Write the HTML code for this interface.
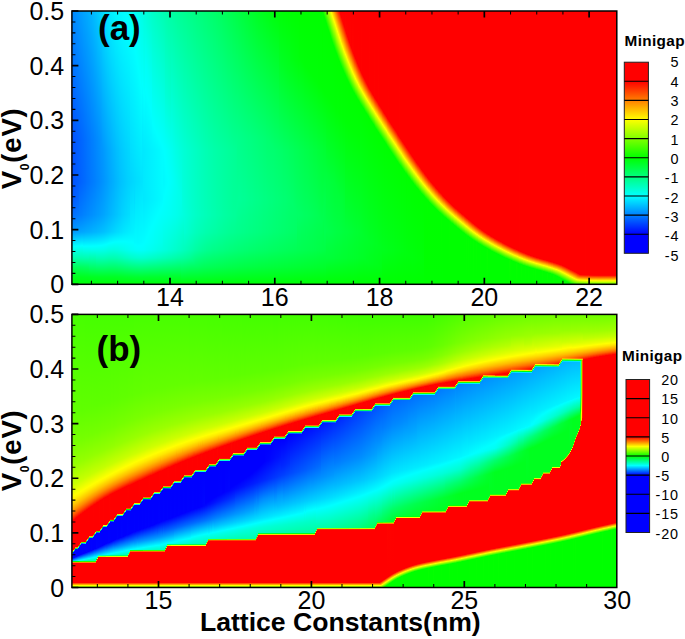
<!DOCTYPE html><html><head><meta charset="utf-8"><title>Minigap contour maps</title><style>html,body{margin:0;padding:0;background:#fff}body{width:685px;height:639px;position:relative;overflow:hidden;font-family:"Liberation Sans",sans-serif}.p{position:absolute;display:flex;overflow:hidden}.p i{display:block;flex:none;width:1px;height:100%}svg{position:absolute;left:0;top:0}text{font-family:"Liberation Sans",sans-serif;fill:#000}</style></head><body><div class="p" style="left:72px;top:11px;width:545px;height:273px"><i style="background:linear-gradient(#0089ff 0,#0052ff 128px,#0052ff 171px,#005aff 188px,#006fff 204px,#09f 221px,#0ff 235.7px,#00ffb0 247px,#00ff5c 256px,#00ff1d 266px,#00ff08 273px)"></i><i style="background:linear-gradient(#008bff 0,#0054ff 128px,#0054ff 171px,#005cff 188px,#0071ff 204px,#009bff 221px,#0ff 235.5px,#00ffb0 247px,#00ff5c 256px,#00ff1d 266px,#00ff08 273px)"></i><i style="background:linear-gradient(#008eff 0,#0056ff 128px,#0056ff 171px,#005eff 188px,#0073ff 204px,#009cff 221px,#0ff 235.4px,#00ffaf 247px,#00ff5c 256px,#00ff1d 266px,#00ff08 273px)"></i><i style="background:linear-gradient(#0090ff 0,#0058ff 128px,#0058ff 171px,#0060ff 188px,#0074ff 204px,#009dff 221px,#0ff 235.3px,#00ffaf 247px,#00ff5c 256px,#00ff1d 266px,#00ff08 273px)"></i><i style="background:linear-gradient(#0093ff 0,#005bff 128px,#005aff 171px,#0062ff 188px,#0076ff 204px,#009fff 221px,#0ff 235.2px,#00ffaf 247px,#00ff5c 256px,#00ff1d 266px,#00ff08 273px)"></i><i style="background:linear-gradient(#0095ff 0,#005dff 128px,#005cff 171px,#0064ff 188px,#0078ff 204px,#00a0ff 221px,#0ff 235.1px,#00ffaf 247px,#00ff5d 256px,#00ff1e 266px,#00ff08 273px)"></i><i style="background:linear-gradient(#0097ff 0,#005fff 128px,#005eff 171px,#06f 188px,#0079ff 204px,#00a1ff 221px,#0ff 235px,#00ffaf 247px,#00ff5d 256px,#00ff1e 266px,#00ff08 273px)"></i><i style="background:linear-gradient(#009aff 0,#0061ff 128px,#0060ff 171px,#007bff 204px,#00a2ff 221px,#0ff 234.9px,#00ffaf 247px,#00ff5d 256px,#00ff1e 266px,#00ff08 273px)"></i><i style="background:linear-gradient(#009cff 0,#0064ff 128px,#0062ff 171px,#007dff 204px,#00a4ff 221px,#0ff 234.9px,#00ffaf 247px,#00ff5e 256px,#00ff1e 266px,#00ff08 273px)"></i><i style="background:linear-gradient(#009eff 0,#06f 128px,#0064ff 171px,#007eff 204px,#00a5ff 221px,#0ff 234.8px,#00ffaf 247px,#00ff5f 256px,#00ff1e 266px,#00ff08 273px)"></i><i style="background:linear-gradient(#00a0ff 0,#0068ff 128px,#06f 171px,#0080ff 204px,#00a6ff 221px,#0ff 234.7px,#00ffb0 247px,#00ff5f 256px,#00ff1f 266px,#00ff08 273px)"></i><i style="background:linear-gradient(#00a3ff 0,#006aff 128px,#0068ff 171px,#0082ff 204px,#00a7ff 221px,#0ff 235.3px,#00ffe8 239px,#00ffb0 247px,#00ff60 256px,#00ff1f 266px,#00ff08 273px)"></i><i style="background:linear-gradient(#00a5ff 0,#006dff 128px,#006aff 171px,#0084ff 204px,#00a8ff 221px,#0ff 235.3px,#00ffe8 239px,#00ffb1 247px,#00ff61 256px,#00ff1f 266px,#00ff08 273px)"></i><i style="background:linear-gradient(#00a7ff 0,#006fff 128px,#006cff 171px,#0085ff 204px,#0af 221px,#0ff 235.2px,#00ffe8 239px,#00ffb1 247px,#00ff62 256px,#00ff20 266px,#00ff08 273px)"></i><i style="background:linear-gradient(#00a9ff 0,#0071ff 128px,#006fff 171px,#0087ff 204px,#00abff 221px,#0ff 235.2px,#00ffe9 239px,#00ffb1 247px,#00ff62 256px,#00ff20 266px,#00ff08 273px)"></i><i style="background:linear-gradient(#00abff 0,#0074ff 128px,#0071ff 171px,#0089ff 204px,#00acff 221px,#0ff 235.2px,#00ffe9 239px,#00ffb2 247px,#00ff63 256px,#00ff20 266px,#00ff08 273px)"></i><i style="background:linear-gradient(#00aeff 0,#0076ff 128px,#0073ff 171px,#008aff 204px,#00adff 221px,#0ff 235.2px,#00ffe9 239px,#00ffb2 247px,#00ff64 256px,#00ff21 266px,#00ff08 273px)"></i><i style="background:linear-gradient(#00b0ff 0,#0078ff 128px,#0075ff 171px,#008cff 204px,#00aeff 221px,#0ff 235.2px,#00ffe9 239px,#00ff21 266px,#00ff08 273px)"></i><i style="background:linear-gradient(#00b3ff 0,#007aff 128px,#07f 171px,#008eff 204px,#00afff 221px,#0ff 235.2px,#00ffe9 239px,#00ff21 266px,#00ff08 273px)"></i><i style="background:linear-gradient(#00b5ff 0,#007dff 128px,#0079ff 171px,#008fff 204px,#00b0ff 221px,#0ff 235.2px,#00ffea 239px,#0f2 266px,#00ff08 273px)"></i><i style="background:linear-gradient(#00b8ff 0,#007fff 128px,#007bff 171px,#0091ff 204px,#00b2ff 221px,#0ff 235.1px,#00ffea 239px,#0f2 266px,#00ff08 273px)"></i><i style="background:linear-gradient(#0bf 0,#0081ff 128px,#007dff 171px,#0093ff 204px,#00b3ff 221px,#0ff 235.1px,#00ffea 239px,#0f2 266px,#00ff08 273px)"></i><i style="background:linear-gradient(#00beff 0,#0084ff 128px,#007fff 171px,#0094ff 204px,#00b4ff 221px,#0ff 235.1px,#00ffea 239px,#00ff23 266px,#00ff08 273px)"></i><i style="background:linear-gradient(#00c1ff 0,#0086ff 128px,#0081ff 171px,#0096ff 204px,#00b5ff 221px,#0ff 235px,#00ffea 239px,#00ff23 266px,#00ff08 273px)"></i><i style="background:linear-gradient(#00c4ff 0,#0089ff 128px,#0084ff 171px,#0098ff 204px,#00b6ff 221px,#0ff 235px,#00ffea 239px,#00ffb6 247px,#00ff23 266px,#00ff08 273px)"></i><i style="background:linear-gradient(#00c8ff 0,#008bff 128px,#0086ff 171px,#009aff 204px,#00b8ff 221px,#0ff 234.9px,#00ffea 239px,#00ffb6 247px,#00ff23 266px,#00ff08 273px)"></i><i style="background:linear-gradient(#00cbff 0,#008eff 128px,#08f 171px,#009bff 204px,#00b9ff 221px,#0ff 234.8px,#00ffea 239px,#00ffb6 247px,#00ff24 266px,#00ff08 273px)"></i><i style="background:linear-gradient(#00ceff 0,#0090ff 128px,#008aff 171px,#009dff 204px,#00baff 221px,#0ff 234.7px,#00ffea 239px,#00ffb6 247px,#00ff24 266px,#00ff08 273px)"></i><i style="background:linear-gradient(#00d1ff 0,#0093ff 128px,#008dff 171px,#009fff 204px,#00bcff 221px,#0ff 234.6px,#00ffe9 239px,#00ffb6 247px,#00ff24 266px,#00ff07 273px)"></i><i style="background:linear-gradient(#00d4ff 0,#0096ff 129px,#008fff 171px,#00a1ff 204px,#00bdff 221px,#0ff 234.5px,#00ffe9 239px,#00ffb6 247px,#00ff24 266px,#00ff07 273px)"></i><i style="background:linear-gradient(#00d8ff 0,#0096ff 139px,#0092ff 171px,#00a3ff 204px,#00bfff 221px,#0ff 234.3px,#00ffe8 239px,#00ffb6 247px,#00ff24 266px,#00ff07 273px)"></i><i style="background:linear-gradient(#00dbff 0,#09f 139px,#0094ff 171px,#00a5ff 204px,#00c0ff 221px,#0ff 234.1px,#00ffe8 239px,#00ffb5 247px,#00ff24 266px,#00ff07 273px)"></i><i style="background:linear-gradient(#00deff 0,#009cff 139px,#0097ff 171px,#00a7ff 204px,#00c2ff 221px,#0ff 233.9px,#00ffe7 239px,#00ffb5 247px,#00ff24 266px,#00ff07 273px)"></i><i style="background:linear-gradient(#00e1ff 0,#009fff 139px,#009aff 171px,#0af 204px,#00c4ff 221px,#0ff 233.6px,#00ffe6 239px,#00ffb4 247px,#00ff24 266px,#00ff07 273px)"></i><i style="background:linear-gradient(#00e3ff 0,#00a2ff 139px,#009cff 171px,#00acff 204px,#00c6ff 221px,#0ff 233.3px,#00ffe5 239px,#00ffb3 247px,#00ff24 266px,#00ff07 273px)"></i><i style="background:linear-gradient(#00e6ff 0,#00a5ff 139px,#009fff 171px,#00aeff 204px,#00c8ff 221px,#0ff 233px,#00ffe3 239px,#00ffb2 247px,#00ff24 266px,#00ff07 273px)"></i><i style="background:linear-gradient(#00e8ff 0,#00a8ff 139px,#00a2ff 171px,#00b1ff 204px,#00caff 221px,#0ff 232.6px,#00ffe2 239px,#00ffb1 247px,#00ff24 266px,#00ff07 273px)"></i><i style="background:linear-gradient(#00ebff 0,#0af 139px,#00a5ff 171px,#00b3ff 204px,#0cf 221px,#0ff 232.3px,#00ffe1 239px,#00ffb0 247px,#00ff24 266px,#00ff07 273px)"></i><i style="background:linear-gradient(#00edff 0,#00adff 139px,#00a8ff 171px,#00b6ff 204px,#00ceff 221px,#0ff 232px,#00ffe0 239px,#00ffb0 247px,#00ff24 266px,#00ff07 273px)"></i><i style="background:linear-gradient(#00efff 0,#00b0ff 139px,#0af 171px,#00b8ff 204px,#00d0ff 221px,#0ff 231.8px,#00ffe0 239px,#00ffb0 247px,#00ff24 266px,#00ff07 273px)"></i><i style="background:linear-gradient(#00f1ff 0,#00b3ff 139px,#00adff 171px,#0bf 204px,#00d2ff 221px,#0ff 231.5px,#00ffdf 239px,#00ffb0 247px,#00ff24 266px,#00ff07 273px)"></i><i style="background:linear-gradient(#00f2ff 0,#00b6ff 139px,#00afff 171px,#00bdff 204px,#00d4ff 221px,#0ff 231.3px,#00ffdf 239px,#00ffb0 247px,#00ff24 266px,#00ff07 273px)"></i><i style="background:linear-gradient(#00f4ff 0,#00b8ff 139px,#00b2ff 171px,#00bfff 204px,#00d6ff 221px,#0ff 231.1px,#00ffdf 239px,#00ffb1 247px,#00ff24 266px,#00ff07 273px)"></i><i style="background:linear-gradient(#00f6ff 0,#0bf 139px,#00b5ff 171px,#00c2ff 204px,#00d8ff 221px,#0ff 231px,#00ffe0 239px,#00ffb1 247px,#00ff24 266px,#00ff07 273px)"></i><i style="background:linear-gradient(#00f7ff 0,#00beff 139px,#00b7ff 171px,#00c4ff 204px,#00daff 221px,#0ff 230.9px,#00ffe1 239px,#00ffb2 247px,#00ff25 266px,#00ff07 273px)"></i><i style="background:linear-gradient(#00f8ff 0,#00c0ff 139px,#00baff 171px,#00c6ff 204px,#00dcff 221px,#0ff 230.8px,#00ffe1 239px,#00ffb3 247px,#00ff25 266px,#00ff07 273px)"></i><i style="background:linear-gradient(#00faff 0,#00c2ff 139px,#00bcff 171px,#00c9ff 204px,#0df 221px,#0ff 230.7px,#00ffe2 239px,#00ffb5 247px,#00ff26 266px,#00ff07 273px)"></i><i style="background:linear-gradient(#00fbff 0,#00c5ff 139px,#00bfff 171px,#00cbff 204px,#00dfff 221px,#0ff 230.7px,#00ffe4 239px,#00ffb6 247px,#00ff26 266px,#00ff07 273px)"></i><i style="background:linear-gradient(#00fcff 0,#00c7ff 139px,#00c1ff 171px,#00cdff 204px,#00e1ff 221px,#0ff 230.6px,#00ffe5 239px,#00ffb7 247px,#00ff27 266px,#00ff08 273px)"></i><i style="background:linear-gradient(#00fdff 0,#00c9ff 139px,#00c3ff 171px,#00d0ff 204px,#00e2ff 221px,#0ff 230.6px,#00ffe6 239px,#00ffb9 247px,#00ff27 266px,#00ff08 273px)"></i><i style="background:linear-gradient(#00feff 0,#00cbff 139px,#00c5ff 171px,#00d2ff 204px,#00e4ff 221px,#0ff 230.6px,#00ffe7 239px,#00ffba 247px,#00ff28 266px,#00ff08 273px)"></i><i style="background:linear-gradient(#0ff 0,#00cdff 139px,#00c7ff 171px,#00d4ff 204px,#00e6ff 221px,#0ff 230.6px,#00ffe9 239px,#00ffbc 247px,#00ff28 266px,#00ff08 273px)"></i><i style="background:linear-gradient(#00fffe 0,#0ff 1.7px,#00cfff 139px,#00c9ff 171px,#00d6ff 204px,#00e7ff 221px,#0ff 230.6px,#00ffea 239px,#00ffbe 247px,#00ff29 266px,#00ff08 273px)"></i><i style="background:linear-gradient(#00fffe 0,#0ff 4px,#00d1ff 139px,#00cbff 171px,#00d8ff 204px,#00e9ff 221px,#0ff 230.6px,#00ffec 239px,#00ffbf 247px,#00ff29 266px,#00ff08 273px)"></i><i style="background:linear-gradient(#00fffd 0,#0ff 6.3px,#00d2ff 139px,#00cdff 171px,#00d9ff 204px,#00eaff 221px,#0ff 230.7px,#00ffed 239px,#00ffc1 247px,#00ff2a 266px,#00ff08 273px)"></i><i style="background:linear-gradient(#00fffc 0,#0ff 8.9px,#00d4ff 139px,#00cfff 171px,#00dbff 204px,#00ebff 221px,#0ff 230.8px,#0fe 239px,#00ffc2 247px,#00ff2a 266px,#00ff08 273px)"></i><i style="background:linear-gradient(#00fffb 0,#0ff 11.6px,#00d6ff 139px,#00d1ff 171px,#0df 204px,#00edff 221px,#0ff 230.9px,#00fff0 239px,#00ffc4 247px,#00ff2b 266px,#00ff08 273px)"></i><i style="background:linear-gradient(#00fffa 0,#0ff 14.6px,#00d7ff 139px,#00d2ff 171px,#00deff 204px,#0ef 221px,#0ff 231px,#00fff1 239px,#00ffc6 247px,#00ff2b 266px,#00ff08 273px)"></i><i style="background:linear-gradient(#00fff9 0,#0ff 19.9px,#00d4ff 171px,#0ef 220px,#0ff 231px,#00fff3 239px,#00ffc7 247px,#00ff2c 266px,#00ff08 273px)"></i><i style="background:linear-gradient(#00fff8 0,#0ff 23.7px,#00d5ff 171px,#00f0ff 221px,#0ff 231.4px,#00fff4 239px,#00ffc9 247px,#00ff2c 266px,#00ff08 273px)"></i><i style="background:linear-gradient(#00fff7 0,#0ff 27.6px,#00d7ff 171px,#00f1ff 221px,#0ff 231.6px,#00fff5 239px,#00ffca 247px,#00ff2d 266px,#00ff09 273px)"></i><i style="background:linear-gradient(#00fff6 0,#0ff 31.8px,#00d8ff 171px,#00f2ff 221px,#0ff 231.7px,#00fff6 239px,#00ffcb 247px,#00ff2d 266px,#00ff09 273px)"></i><i style="background:linear-gradient(#00fff5 0,#0ff 36.2px,#00daff 171px,#0df 188px,#00fcff 232px,#0ff 233.9px,#00fff7 239px,#0fc 247px,#00ff2d 266px,#00ff09 273px)"></i><i style="background:linear-gradient(#00fff4 0,#0ff 41.1px,#00dbff 171px,#00fcff 232px,#0ff 234.2px,#00fff8 239px,#00ffcd 247px,#00ff2e 266px,#00ff09 273px)"></i><i style="background:linear-gradient(#00fff2 0,#0ff 46.3px,#0df 171px,#00fcff 232px,#0ff 234.6px,#00fff9 239px,#00ffce 247px,#00ff2e 266px,#00ff09 273px)"></i><i style="background:linear-gradient(#00fff1 0,#0ff 51.9px,#00deff 171px,#00fbff 232px,#0ff 234.8px,#00fffa 239px,#00ffcf 247px,#00ff2e 266px,#00ff09 273px)"></i><i style="background:linear-gradient(#00ffef 0,#0ff 58px,#00dfff 171px,#00fbff 232px,#0ff 234.9px,#00fffa 239px,#00ffcf 247px,#00ff2e 266px,#00ff09 273px)"></i><i style="background:linear-gradient(#00ffec 0,#0ff 64.8px,#00e0ff 171px,#00fcff 232px,#0ff 234.9px,#00fffa 239px,#00ffd0 247px,#00ff2f 266px,#00ff09 273px)"></i><i style="background:linear-gradient(#00ffea 0,#0ff 71.9px,#00e2ff 171px,#00fcff 232px,#0ff 234.7px,#00fffa 239px,#00ffd0 247px,#00ff2f 266px,#00ff09 273px)"></i><i style="background:linear-gradient(#00ffe7 0,#0ff 79px,#00e3ff 171px,#00fcff 232px,#0ff 234.4px,#00fffa 239px,#00ffd0 247px,#00ff2f 266px,#00ff09 273px)"></i><i style="background:linear-gradient(#00ffe4 0,#0ff 73.3px,#00ebff 128px,#00e4ff 171px,#00fdff 232px,#0ff 233.8px,#00fff9 239px,#00ffcf 247px,#00ff2f 266px,#00ff09 273px)"></i><i style="background:linear-gradient(#00ffe0 0,#0ff 81.3px,#00e9ff 139px,#00e8ff 188px,#00feff 232px,#0ff 233.1px,#00fff9 239px,#00ffcf 247px,#00ff2e 266px,#00ff09 273px)"></i><i style="background:linear-gradient(#0fd 0,#0ff 86.2px,#00eaff 139px,#00e9ff 188px,#0ff 232px,#0ff 232.1px,#00fff8 239px,#00ffce 247px,#00ff2e 266px,#00ff09 273px)"></i><i style="background:linear-gradient(#00ffda 0,#00fff6 51px,#0ff 79px,#00ebff 139px,#00eaff 188px,#0ff 230.1px,#00fffe 232px,#00fff7 239px,#00ffcd 247px,#00ff2e 266px,#00ff09 273px)"></i><i style="background:linear-gradient(#00ffd7 0,#00fff6 55.5px,#0ff 83px,#00ecff 139px,#00ebff 188px,#0ff 227.9px,#00fffd 232px,#00fff5 239px,#0fc 247px,#00ff2e 266px,#00ff09 273px)"></i><i style="background:linear-gradient(#00ffd4 0,#00fff6 60px,#0ff 86.8px,#00edff 139px,#00ecff 188px,#0ff 225.6px,#00fffc 232px,#00fff4 239px,#00ffcb 247px,#00ff2e 266px,#00ff09 273px)"></i><i style="background:linear-gradient(#00ffd2 0,#00fff6 65px,#0ff 90.4px,#0ef 139px,#00edff 188px,#0ff 223.3px,#00fffb 232px,#00fff3 239px,#00ffca 247px,#00ff2e 266px,#00ff09 273px)"></i><i style="background:linear-gradient(#00ffcf 0,#00fff6 69.5px,#0ff 94.1px,#00efff 139px,#0ef 188px,#0ff 221.1px,#00fffa 232px,#00fff2 239px,#00ffc9 247px,#00ff2d 266px,#00ff09 273px)"></i><i style="background:linear-gradient(#00ffcd 0,#00fff6 74px,#0ff 97.6px,#00f0ff 139px,#00efff 188px,#0ff 218.9px,#00fff8 232px,#00fff1 239px,#00ffc8 247px,#00ff2d 266px,#00ff09 273px)"></i><i style="background:linear-gradient(#00ffca 0,#00fff7 79px,#0ff 101px,#00f1ff 139px,#00f0ff 188px,#0ff 216.7px,#00fff7 232px,#00fff0 239px,#00ffc7 247px,#00ff2d 266px,#00ff09 273px)"></i><i style="background:linear-gradient(#00ffc8 0,#0ff 112.2px,#00f2ff 139px,#00f1ff 188px,#0ff 214.5px,#00fff6 232px,#0fe 239px,#00ffc6 247px,#00ff2d 266px,#00ff09 273px)"></i><i style="background:linear-gradient(#00ffc6 0,#0ff 114.7px,#00f3ff 139px,#00f2ff 188px,#0ff 212.4px,#00fff5 232px,#00ffed 239px,#00ffc5 247px,#00ff2d 266px,#00ff09 273px)"></i><i style="background:linear-gradient(#00ffc4 0,#0ff 117.2px,#00f4ff 139px,#00f3ff 188px,#0ff 210.4px,#00fff3 232px,#00ffec 239px,#00ffc4 247px,#00ff2d 266px,#00ff09 273px)"></i><i style="background:linear-gradient(#00ffc2 0,#0ff 119.6px,#00f5ff 139px,#00f4ff 188px,#0ff 208.4px,#00fff2 232px,#00ffea 239px,#00ffc3 247px,#00ff2d 266px,#00ff09 273px)"></i><i style="background:linear-gradient(#00ffc0 0,#0ff 122px,#00f6ff 139px,#00f5ff 188px,#0ff 206.5px,#00fff1 232px,#00ffe9 239px,#00ffc2 247px,#00ff2d 266px,#00ff09 273px)"></i><i style="background:linear-gradient(#00ffbe 0,#0ff 124.2px,#00f7ff 139px,#00f6ff 188px,#0ff 204.6px,#00fff0 232px,#00ffe7 239px,#00ffc0 247px,#00ff2d 266px,#00ff09 273px)"></i><i style="background:linear-gradient(#00ffbc 0,#0ff 126.5px,#00f8ff 139px,#00f7ff 188px,#0ff 202.8px,#0fe 232px,#00ffe6 239px,#00ffbf 247px,#00ff2d 266px,#00ff09 273px)"></i><i style="background:linear-gradient(#00ffba 0,#0ff 128.7px,#00f9ff 139px,#00f8ff 188px,#0ff 200.9px,#00ffed 232px,#00ffe5 239px,#00ffbe 247px,#00ff2c 266px,#00ff09 273px)"></i><i style="background:linear-gradient(#00ffb8 0,#0ff 131px,#00fbff 139px,#00f9ff 188px,#0ff 199.1px,#00ffec 232px,#00ffe3 239px,#00ffbd 247px,#00ff2c 266px,#00ff09 273px)"></i><i style="background:linear-gradient(#00ffb6 0,#0ff 133.3px,#00fcff 139px,#00faff 188px,#0ff 197.2px,#00ffeb 232px,#00ffe2 239px,#00ffbc 247px,#00ff2c 266px,#00ff09 273px)"></i><i style="background:linear-gradient(#00ffb4 0,#0ff 135.6px,#00fdff 139px,#00fbff 188px,#0ff 195.4px,#00ffe9 232px,#00ffe0 239px,#00ffba 247px,#00ff2c 266px,#00ff09 273px)"></i><i style="background:linear-gradient(#00ffb2 0,#0ff 138.1px,#00feff 139px,#00f9ff 171px,#0ff 188.5px,#00fffa 204px,#00ffdf 239px,#00ffb9 247px,#00ff2c 266px,#00ff09 273px)"></i><i style="background:linear-gradient(#00ffb0 0,#00fffe 139px,#0ff 144.3px,#00faff 171px,#0ff 185.2px,#00fff9 204px,#00ffde 239px,#00ffb8 247px,#00ff2c 266px,#00ff09 273px)"></i><i style="background:linear-gradient(#00ffae 0,#00ffd5 81px,#00fffd 139px,#0ff 152.3px,#00fcff 171px,#0ff 181.8px,#00fff8 204px,#00ffdc 239px,#00ffb7 247px,#00ff2c 266px,#00ff09 273px)"></i><i style="background:linear-gradient(#00ffac 0,#00ffd5 83.5px,#00fffb 139px,#0ff 159.9px,#00fdff 171px,#0ff 178.1px,#00fff7 204px,#00ffdb 239px,#00ffb5 247px,#00ff2c 266px,#00ff09 273px)"></i><i style="background:linear-gradient(#0fa 0,#00ffd4 85px,#00fff9 139px,#0ff 166.7px,#00feff 171px,#0ff 174.1px,#00fff6 204px,#00ffd9 239px,#00ffb4 247px,#00ff2c 266px,#00ff09 273px)"></i><i style="background:linear-gradient(#00ffa8 0,#00ffd2 85px,#00fff7 139px,#0ff 171px,#00fff5 204px,#00ffd7 239px,#00ffb3 247px,#00ff2c 266px,#00ff09 273px)"></i><i style="background:linear-gradient(#00ffa7 0,#00ffd0 85px,#00fff5 139px,#00fffd 171px,#00fff4 204px,#00ffd6 239px,#00ffb2 247px,#00ff2c 266px,#00ff09 273px)"></i><i style="background:linear-gradient(#00ffa5 0,#00ffce 85px,#00fff2 139px,#00fffc 171px,#00fff3 204px,#00ffd4 239px,#00ffb0 247px,#00ff2c 266px,#00ff09 273px)"></i><i style="background:linear-gradient(#00ffa3 0,#00fff0 139px,#00fffa 171px,#00fff2 204px,#00ffd2 239px,#00ffaf 247px,#00ff2c 266px,#00ff09 273px)"></i><i style="background:linear-gradient(#00ffa2 0,#0fe 139px,#00fff8 171px,#00fff0 204px,#00ffd1 239px,#00ffad 247px,#00ff2c 266px,#00ff09 273px)"></i><i style="background:linear-gradient(#00ffa0 0,#00ffeb 139px,#00fff6 171px,#00ffef 204px,#00ffcf 239px,#00ffac 247px,#00ff2c 266px,#00ff09 273px)"></i><i style="background:linear-gradient(#00ff9f 0,#00ffe9 139px,#00fff4 172px,#0fe 204px,#00ffcd 239px,#00ffab 247px,#00ff2c 266px,#00ff09 273px)"></i><i style="background:linear-gradient(#00ff9d 0,#00ffe6 139px,#00fff2 173.5px,#00ffed 204px,#0fc 239px,#00ffa9 247px,#00ff2c 266px,#00ff09 273px)"></i><i style="background:linear-gradient(#00ff9c 0,#00ffe4 139px,#00fff0 175.5px,#00ffeb 204px,#00ffca 239px,#00ffa8 247px,#00ff2c 266px,#00ff09 273px)"></i><i style="background:linear-gradient(#00ff9a 0,#00ffe2 139px,#0fe 177.5px,#00ffea 204px,#00ffc8 239px,#00ffa6 247px,#00ff2c 266px,#00ff09 273px)"></i><i style="background:linear-gradient(#0f9 0,#00ffe0 139px,#00ffec 180.5px,#00ffe8 204px,#00ffc6 239px,#00ffa5 247px,#00ff2c 266px,#00ff09 273px)"></i><i style="background:linear-gradient(#00ff98 0,#0fd 139px,#00ffeb 184.5px,#00ffe6 204px,#00ffc5 239px,#00ffa4 247px,#00ff2c 266px,#00ff09 273px)"></i><i style="background:linear-gradient(#00ff96 0,#00ffdc 139px,#00ffe9 188px,#00ffe4 204px,#00ffc3 239px,#00ffa2 247px,#00ff2c 266px,#00ff09 273px)"></i><i style="background:linear-gradient(#00ff95 0,#00ffda 139px,#00ffe7 188px,#00ffe2 204px,#00ffc1 239px,#00ffa1 247px,#00ff09 273px)"></i><i style="background:linear-gradient(#00ff94 0,#00ffd8 139px,#00ffe0 204px,#00ffbf 239px,#00ff9f 247px,#00ff09 273px)"></i><i style="background:linear-gradient(#00ff92 0,#00ffd6 139px,#00ffde 204px,#00ffbd 239px,#00ff9e 247px,#00ff09 273px)"></i><i style="background:linear-gradient(#00ff91 0,#00ffd4 139px,#00ffdc 204px,#00ffd3 221px,#0fb 239px,#00ff9c 247px,#00ff09 273px)"></i><i style="background:linear-gradient(#00ff90 0,#00ffd3 139px,#00ffda 204px,#00ffd1 221px,#00ffb9 239px,#00ff9b 247px,#00ff09 273px)"></i><i style="background:linear-gradient(#00ff8f 0,#00ffd1 139px,#00ffd8 204px,#00ffcf 221px,#00ffb7 239px,#0f9 247px,#00ff09 273px)"></i><i style="background:linear-gradient(#00ff8d 0,#00ffcf 139px,#00ffd6 204px,#00ffcd 221px,#00ffb5 239px,#00ff97 247px,#00ff09 273px)"></i><i style="background:linear-gradient(#00ff8c 0,#00ffce 139px,#00ffd4 204px,#00ffcb 221px,#00ffb3 239px,#00ff96 247px,#00ff09 273px)"></i><i style="background:linear-gradient(#00ff8b 0,#0fc 139px,#00ffd2 204px,#00ffc9 221px,#00ffb1 239px,#00ff94 247px,#00ff09 273px)"></i><i style="background:linear-gradient(#00ff89 0,#00ffcb 139px,#00ffd0 204px,#00ffc7 221px,#00ffae 239px,#00ff92 247px,#00ff09 273px)"></i><i style="background:linear-gradient(#0f8 0,#00ffc9 139px,#00ffce 204px,#00ffc5 221px,#00ffac 239px,#00ff8b 248px,#00ff09 273px)"></i><i style="background:linear-gradient(#00ff87 0,#00ffc8 139px,#0fc 204px,#00ffc3 221px,#0fa 239px,#00ff83 249.5px,#00ff09 273px)"></i><i style="background:linear-gradient(#00ff85 0,#00ffc6 139px,#00ffcb 204px,#00ffc1 221px,#00ffa8 239px,#00ff78 251.5px,#00ff09 273px)"></i><i style="background:linear-gradient(#00ff84 0,#00ffc5 139px,#00ffc9 204px,#00ffbf 221px,#00ffa5 239px,#00ff70 253px,#00ff09 273px)"></i><i style="background:linear-gradient(#00ff83 0,#00ffc3 139px,#00ffc7 204px,#00ffbd 221px,#00ffa3 239px,#00ff67 254.5px,#00ff09 273px)"></i><i style="background:linear-gradient(#00ff81 0,#00ffc2 139px,#00ffc6 204px,#0fb 221px,#00ffa1 239px,#00ff62 255.5px,#00ff09 273px)"></i><i style="background:linear-gradient(#00ff80 0,#00ffc0 139px,#00ffc4 204px,#00ffba 221px,#00ff9f 239px,#00ff5f 256px,#00ff09 273px)"></i><i style="background:linear-gradient(#00ff7f 0,#00ffbf 139px,#00ffc3 204px,#00ffb8 221px,#00ff9d 239px,#00ff5e 256px,#00ff09 273px)"></i><i style="background:linear-gradient(#00ff7e 0,#00ffbd 139px,#00ffc1 204px,#00ffb7 221px,#00ff9b 239px,#00ff5d 256px,#00ff09 273px)"></i><i style="background:linear-gradient(#00ff7c 0,#00ffbc 139px,#00ffc0 204px,#00ffb5 221px,#00ff9a 239px,#00ff5c 256px,#00ff09 273px)"></i><i style="background:linear-gradient(#00ff7b 0,#00ffba 139px,#00ffbe 204px,#00ffb4 221px,#00ff98 239px,#00ff5b 256px,#00ff09 273px)"></i><i style="background:linear-gradient(#00ff7a 0,#00ffb9 139px,#00ffbd 204px,#00ffb3 221px,#00ff96 239px,#00ff5a 256px,#00ff09 273px)"></i><i style="background:linear-gradient(#00ff78 0,#00ffb7 139px,#00ffbc 204px,#00ffb1 221px,#00ff95 239px,#00ff59 256px,#00ff09 273px)"></i><i style="background:linear-gradient(#0f7 0,#00ffb6 139px,#00ffba 204px,#00ffb0 221px,#00ff93 239px,#00ff58 256px,#00ff09 273px)"></i><i style="background:linear-gradient(#00ff76 0,#00ffb4 139px,#00ffb9 204px,#00ffae 221px,#00ff92 239px,#00ff58 256px,#00ff09 273px)"></i><i style="background:linear-gradient(#00ff75 0,#00ffb3 139px,#00ffb8 204px,#00ffad 221px,#00ff90 239px,#00ff57 256px,#00ff09 273px)"></i><i style="background:linear-gradient(#00ff73 0,#00ffb2 139px,#00ffb6 204px,#00ffac 221px,#00ff8f 239px,#00ff56 256px,#00ff09 273px)"></i><i style="background:linear-gradient(#00ff72 0,#00ffb0 139px,#00ffb5 204px,#00ffab 221px,#00ff8e 239px,#00ff56 256px,#00ff09 273px)"></i><i style="background:linear-gradient(#00ff71 0,#00ffaf 139px,#00ffb4 204px,#0fa 221px,#00ff8d 239px,#0f5 256px,#00ff09 273px)"></i><i style="background:linear-gradient(#00ff6f 0,#00ffae 139px,#00ffb3 204px,#00ffa8 221px,#00ff8c 239px,#00ff54 256px,#00ff09 273px)"></i><i style="background:linear-gradient(#00ff6e 0,#00ffad 139px,#00ffb1 204px,#00ffa7 221px,#00ff8a 239px,#00ff54 256px,#00ff09 273px)"></i><i style="background:linear-gradient(#00ff6d 0,#00ffac 139px,#00ffb0 204px,#00ffa6 221px,#00ff89 239px,#00ff53 256px,#00ff09 273px)"></i><i style="background:linear-gradient(#00ff6b 0,#0fa 139px,#00ffaf 204px,#00ffa5 221px,#0f8 239px,#00ff53 256px,#00ff09 273px)"></i><i style="background:linear-gradient(#00ff6a 0,#00ffa9 139px,#00ffae 204px,#00ffa4 221px,#00ff87 239px,#00ff52 256px,#00ff08 273px)"></i><i style="background:linear-gradient(#00ff69 0,#00ffa8 139px,#00ffad 204px,#00ffa3 221px,#00ff87 239px,#00ff52 256px,#00ff08 273px)"></i><i style="background:linear-gradient(#00ff67 0,#00ffa7 139px,#00ffab 204px,#00ffa2 221px,#00ff86 239px,#00ff51 256px,#00ff08 273px)"></i><i style="background:linear-gradient(#0f6 0,#00ffa6 139px,#0fa 204px,#00ffa1 221px,#00ff85 239px,#00ff51 256px,#00ff08 273px)"></i><i style="background:linear-gradient(#00ff64 0,#00ffa5 139px,#00ffa9 204px,#00ff9f 221px,#00ff84 239px,#00ff50 256px,#00ff08 273px)"></i><i style="background:linear-gradient(#00ff63 0,#00ffa4 139px,#00ffa8 204px,#00ff9e 221px,#00ff83 239px,#00ff50 256px,#00ff08 273px)"></i><i style="background:linear-gradient(#00ff61 0,#00ffa3 139px,#00ffa7 204px,#00ff9d 221px,#00ff82 239px,#00ff4f 256px,#00ff08 273px)"></i><i style="background:linear-gradient(#00ff60 0,#00ffa2 139px,#00ffa6 204px,#00ff9c 221px,#00ff81 239px,#00ff4f 256px,#00ff08 273px)"></i><i style="background:linear-gradient(#00ff5e 0,#00ffa1 139px,#00ffa4 204px,#00ff9b 221px,#00ff81 239px,#00ff4e 256px,#00ff08 273px)"></i><i style="background:linear-gradient(#00ff5c 0,#00ffa0 139px,#00ffa3 204px,#00ff9a 221px,#00ff80 239px,#00ff4e 256px,#00ff08 273px)"></i><i style="background:linear-gradient(#00ff5b 0,#00ff9f 139px,#00ffa2 204px,#0f9 221px,#00ff7f 239px,#00ff4d 256px,#00ff08 273px)"></i><i style="background:linear-gradient(#00ff59 0,#00ff9e 139px,#00ffa1 204px,#00ff98 221px,#00ff7e 239px,#00ff4d 256px,#00ff08 273px)"></i><i style="background:linear-gradient(#00ff58 0,#00ff9d 139px,#00ffa0 204px,#00ff97 221px,#00ff7d 239px,#00ff4c 256px,#00ff08 273px)"></i><i style="background:linear-gradient(#00ff56 0,#00ff9c 139px,#00ff9f 204px,#00ff96 221px,#00ff7d 239px,#00ff4c 256px,#00ff08 273px)"></i><i style="background:linear-gradient(#00ff54 0,#00ff9b 139px,#00ff9e 204px,#00ff95 221px,#00ff7c 239px,#00ff4b 256px,#00ff08 273px)"></i><i style="background:linear-gradient(#00ff53 0,#00ff9a 139px,#00ff9d 204px,#00ff94 221px,#00ff7b 239px,#00ff4b 256px,#00ff08 273px)"></i><i style="background:linear-gradient(#00ff51 0,#0f9 139px,#00ff9c 204px,#00ff93 221px,#00ff7a 239px,#00ff4a 256px,#00ff08 273px)"></i><i style="background:linear-gradient(#00ff50 0,#00ff98 139px,#00ff9b 204px,#00ff92 221px,#00ff79 239px,#00ff4a 256px,#00ff08 273px)"></i><i style="background:linear-gradient(#00ff4e 0,#00ff97 139px,#00ff9a 204px,#00ff92 221px,#00ff79 239px,#00ff49 256px,#00ff08 273px)"></i><i style="background:linear-gradient(#00ff4c 0,#00ff96 139px,#0f9 204px,#00ff91 221px,#00ff78 239px,#00ff49 256px,#00ff08 273px)"></i><i style="background:linear-gradient(#00ff4b 0,#00ff95 139px,#0f9 204px,#00ff90 221px,#0f7 239px,#00ff49 256px,#00ff08 273px)"></i><i style="background:linear-gradient(#00ff49 0,#00ff94 139px,#00ff98 204px,#00ff8f 221px,#00ff76 239px,#00ff48 256px,#00ff07 273px)"></i><i style="background:linear-gradient(#00ff47 0,#00ff92 136.5px,#00ff98 199px,#00ff8e 221px,#00ff76 239px,#00ff48 256px,#00ff07 273px)"></i><i style="background:linear-gradient(#00ff46 0,#00ff8d 128px,#00ff98 194px,#00ff8d 221px,#00ff75 239px,#00ff47 256px,#00ff07 273px)"></i><i style="background:linear-gradient(#0f4 0,#00ff8c 128px,#00ff98 190px,#00ff8d 221px,#00ff74 239px,#00ff47 256px,#00ff07 273px)"></i><i style="background:linear-gradient(#00ff42 0,#00ff8b 128px,#00ff98 188px,#00ff8c 221px,#00ff74 239px,#00ff46 256px,#00ff07 273px)"></i><i style="background:linear-gradient(#00ff41 0,#00ff8a 128px,#00ff97 188px,#00ff8b 221px,#00ff73 239px,#00ff46 256px,#00ff07 273px)"></i><i style="background:linear-gradient(#00ff3f 0,#00ff89 128px,#00ff96 188px,#00ff8a 221px,#00ff72 239px,#00ff46 256px,#00ff07 273px)"></i><i style="background:linear-gradient(#00ff3d 0,#0f8 128px,#00ff95 188px,#00ff89 221px,#00ff72 239px,#00ff45 256px,#00ff07 273px)"></i><i style="background:linear-gradient(#00ff3c 0,#00ff87 128px,#00ff94 188px,#00ff89 221px,#00ff71 239px,#00ff45 256px,#00ff07 273px)"></i><i style="background:linear-gradient(#00ff3a 0,#00ff86 128px,#00ff94 188px,#0f8 221px,#00ff70 239px,#0f4 256px,#00ff07 273px)"></i><i style="background:linear-gradient(#00ff38 0,#00ff85 128px,#00ff93 188px,#00ff87 221px,#00ff70 239px,#0f4 256px,#00ff07 273px)"></i><i style="background:linear-gradient(#00ff36 0,#00ff84 128px,#00ff92 188px,#00ff86 221px,#00ff6f 239px,#0f4 256px,#00ff07 273px)"></i><i style="background:linear-gradient(#00ff35 0,#00ff83 128px,#00ff91 188px,#00ff86 221px,#00ff6f 239px,#00ff43 256px,#00ff07 273px)"></i><i style="background:linear-gradient(#0f3 0,#00ff82 128px,#00ff90 188px,#00ff85 221px,#00ff6e 239px,#00ff43 256px,#00ff07 273px)"></i><i style="background:linear-gradient(#00ff31 0,#00ff82 128px,#00ff8f 188px,#00ff84 221px,#00ff6d 239px,#00ff43 256px,#00ff07 273px)"></i><i style="background:linear-gradient(#00ff2f 0,#00ff81 128px,#00ff8e 188px,#00ff83 221px,#00ff6d 239px,#00ff42 256px,#00ff07 273px)"></i><i style="background:linear-gradient(#00ff2e 0,#00ff80 128px,#00ff8e 188px,#00ff83 221px,#00ff6c 239px,#00ff42 256px,#00ff07 273px)"></i><i style="background:linear-gradient(#00ff2c 0,#00ff7f 128px,#00ff8d 188px,#00ff82 221px,#00ff6c 239px,#00ff41 256px,#00ff07 273px)"></i><i style="background:linear-gradient(#00ff2a 0,#00ff7e 128px,#00ff8c 188px,#00ff81 221px,#00ff6b 239px,#00ff41 256px,#00ff07 273px)"></i><i style="background:linear-gradient(#00ff29 0,#00ff7d 128px,#00ff8b 188px,#00ff81 221px,#00ff6b 239px,#00ff41 256px,#00ff07 273px)"></i><i style="background:linear-gradient(#00ff27 0,#00ff7c 128px,#00ff8a 188px,#00ff80 221px,#00ff6a 239px,#00ff40 256px,#00ff07 273px)"></i><i style="background:linear-gradient(#00ff25 0,#00ff7b 128px,#00ff89 188px,#00ff7f 221px,#00ff69 239px,#00ff40 256px,#00ff07 273px)"></i><i style="background:linear-gradient(#00ff24 0,#00ff7a 128px,#00ff89 188px,#00ff7f 221px,#00ff69 239px,#00ff40 256px,#00ff07 273px)"></i><i style="background:linear-gradient(#0f2 0,#00ff79 128px,#0f8 188px,#00ff7e 221px,#00ff68 239px,#00ff3f 256px,#00ff07 273px)"></i><i style="background:linear-gradient(#00ff21 0,#00ff78 128px,#00ff87 188px,#00ff7d 221px,#00ff68 239px,#00ff3f 256px,#00ff07 273px)"></i><i style="background:linear-gradient(#00ff1f 0,#0f7 128px,#00ff86 188px,#00ff7d 221px,#00ff67 239px,#00ff3f 256px,#00ff06 273px)"></i><i style="background:linear-gradient(#00ff1e 0,#00ff76 128px,#00ff85 188px,#00ff7c 221px,#00ff67 239px,#00ff3e 256px,#00ff06 273px)"></i><i style="background:linear-gradient(#00ff1d 0,#00ff75 128px,#00ff84 188px,#00ff7b 221px,#0f6 239px,#00ff3e 256px,#00ff06 273px)"></i><i style="background:linear-gradient(#00ff1b 0,#00ff74 128px,#00ff83 188px,#00ff7a 221px,#0f6 239px,#00ff3e 256px,#00ff06 273px)"></i><i style="background:linear-gradient(#00ff1a 0,#00ff73 128px,#00ff82 188px,#00ff7a 221px,#00ff65 239px,#00ff3e 256px,#00ff06 273px)"></i><i style="background:linear-gradient(#00ff19 0,#00ff72 128px,#00ff82 188px,#00ff79 221px,#00ff65 239px,#00ff3d 256px,#00ff06 273px)"></i><i style="background:linear-gradient(#00ff17 0,#00ff70 128px,#00ff81 188px,#00ff78 221px,#00ff64 239px,#00ff3d 256px,#00ff06 273px)"></i><i style="background:linear-gradient(#00ff16 0,#00ff6f 128px,#00ff80 188px,#00ff78 221px,#00ff64 239px,#00ff3d 256px,#00ff06 273px)"></i><i style="background:linear-gradient(#00ff15 0,#00ff6f 129px,#00ff7f 188px,#0f7 221px,#00ff63 239px,#00ff3c 256px,#00ff06 273px)"></i><i style="background:linear-gradient(#00ff13 0,#00ff6f 131px,#00ff7e 188px,#00ff76 221px,#00ff62 239px,#00ff3c 256px,#00ff06 273px)"></i><i style="background:linear-gradient(#00ff12 0,#00ff6f 132.5px,#00ff7d 188px,#00ff76 221px,#00ff62 239px,#00ff3c 256px,#00ff06 273px)"></i><i style="background:linear-gradient(#0f1 0,#00ff6f 134.5px,#00ff7d 188px,#00ff75 221px,#00ff61 239px,#00ff3b 256px,#00ff06 273px)"></i><i style="background:linear-gradient(#00ff0f 0,#00ff6f 136px,#00ff7c 188px,#00ff74 221px,#00ff61 239px,#00ff3b 256px,#00ff06 273px)"></i><i style="background:linear-gradient(#00ff0e 0,#00ff6f 138px,#00ff7b 188px,#00ff73 221px,#00ff60 239px,#00ff3b 256px,#00ff06 273px)"></i><i style="background:linear-gradient(#00ff0d 0,#00ff6e 139px,#00ff7a 188px,#00ff73 221px,#00ff60 239px,#00ff3a 256px,#00ff06 273px)"></i><i style="background:linear-gradient(#00ff0c 0,#00ff6d 139px,#00ff79 188px,#00ff72 221px,#00ff5f 239px,#00ff3a 256px,#00ff06 273px)"></i><i style="background:linear-gradient(#00ff0b 0,#00ff6c 139px,#00ff78 188px,#00ff71 221px,#00ff5f 239px,#00ff3a 256px,#00ff06 273px)"></i><i style="background:linear-gradient(#00ff0a 0,#00ff6b 139px,#00ff78 188px,#00ff71 221px,#00ff5e 239px,#00ff3a 256px,#00ff06 273px)"></i><i style="background:linear-gradient(#00ff09 0,#00ff6a 139px,#0f7 188px,#00ff70 221px,#00ff5e 239px,#00ff39 256px,#00ff06 273px)"></i><i style="background:linear-gradient(#00ff08 0,#00ff24 50px,#00ff69 139px,#00ff76 188px,#00ff6f 221px,#00ff5d 239px,#00ff39 256px,#00ff06 273px)"></i><i style="background:linear-gradient(#00ff07 0,#00ff24 51px,#00ff68 139px,#00ff75 188px,#00ff6f 221px,#00ff5c 239px,#00ff39 256px,#00ff06 273px)"></i><i style="background:linear-gradient(#00ff07 0,#00ff23 52.5px,#00ff67 139px,#00ff74 188px,#00ff6e 221px,#00ff5c 239px,#00ff38 256px,#00ff06 273px)"></i><i style="background:linear-gradient(#00ff06 0,#00ff23 53.5px,#0f6 139px,#00ff73 188px,#00ff6d 221px,#00ff5b 239px,#00ff38 256px,#00ff06 273px)"></i><i style="background:linear-gradient(#00ff05 0,#00ff23 55px,#00ff64 139px,#00ff72 188px,#00ff6d 221px,#00ff5b 239px,#00ff38 256px,#00ff06 273px)"></i><i style="background:linear-gradient(#00ff05 0,#0f2 56px,#00ff63 139px,#00ff72 188px,#00ff6c 221px,#00ff5a 239px,#00ff37 256px,#00ff06 273px)"></i><i style="background:linear-gradient(#00ff05 0,#00ff21 57px,#00ff62 139px,#00ff71 188px,#00ff6b 221px,#00ff5a 239px,#00ff37 256px,#00ff06 273px)"></i><i style="background:linear-gradient(#00ff04 0,#00ff21 58.5px,#00ff61 139px,#00ff70 188px,#00ff6a 221px,#00ff59 239px,#00ff37 256px,#00ff06 273px)"></i><i style="background:linear-gradient(#00ff04 0,#00ff20 59.5px,#00ff60 139px,#00ff6f 188px,#00ff6a 221px,#00ff59 239px,#00ff37 256px,#00ff06 273px)"></i><i style="background:linear-gradient(#00ff03 0,#00ff20 60.5px,#00ff5f 139px,#00ff6e 188px,#00ff69 221px,#00ff58 239px,#00ff36 256px,#00ff06 273px)"></i><i style="background:linear-gradient(#00ff03 0,#00ff1f 61.5px,#00ff5d 139px,#00ff6d 188px,#00ff68 221px,#00ff58 239px,#00ff36 256px,#00ff06 273px)"></i><i style="background:linear-gradient(#00ff03 0,#00ff16 49px,#00ff5c 139px,#00ff6c 189px,#00ff68 221px,#00ff57 239px,#00ff36 256px,#00ff06 273px)"></i><i style="background:linear-gradient(#00ff02 0,#00ff14 48px,#00ff5b 139px,#00ff6b 191px,#00ff67 221px,#00ff57 239px,#00ff35 256px,#00ff06 273px)"></i><i style="background:linear-gradient(#00ff02 0,#00ff13 48px,#00ff5a 139px,#00ff6b 193px,#0f6 221px,#00ff56 239px,#00ff35 256px,#00ff06 273px)"></i><i style="background:linear-gradient(#00ff02 0,#00ff12 48.5px,#00ff59 139px,#00ff6a 194.5px,#0f6 221px,#00ff56 239px,#00ff35 256px,#00ff06 273px)"></i><i style="background:linear-gradient(#00ff02 0,#0f1 49px,#00ff57 139px,#00ff69 196.5px,#00ff65 221px,#0f5 239px,#00ff34 256px,#00ff05 273px)"></i><i style="background:linear-gradient(#00ff01 0,#00ff10 49.5px,#00ff56 139px,#00ff68 198.5px,#00ff64 221px,#0f5 239px,#00ff34 256px,#00ff05 273px)"></i><i style="background:linear-gradient(#00ff01 0,#00ff10 50.5px,#0f5 139px,#00ff67 200.5px,#00ff64 221px,#00ff54 239px,#00ff34 256px,#00ff05 273px)"></i><i style="background:linear-gradient(#00ff01 0,#00ff0f 51px,#00ff54 139px,#0f6 202px,#00ff53 239px,#0f3 256px,#00ff05 273px)"></i><i style="background:linear-gradient(#00ff01 0,#00ff0e 52px,#00ff53 139px,#0f6 204px,#00ff53 239px,#0f3 256px,#00ff05 273px)"></i><i style="background:linear-gradient(#0f0 0,#00ff0a 46px,#00ff51 139px,#00ff65 204px,#00ff52 239px,#0f3 256px,#00ff05 273px)"></i><i style="background:linear-gradient(#0f0 0,#00ff0a 47.5px,#00ff50 139px,#00ff64 204px,#00ff52 239px,#0f3 256px,#00ff05 273px)"></i><i style="background:linear-gradient(#0f0 0,#00ff0a 49px,#00ff4f 139px,#00ff63 204px,#00ff51 239px,#00ff32 256px,#00ff05 273px)"></i><i style="background:linear-gradient(#0f0 0,#00ff0a 50.5px,#00ff4e 139px,#00ff62 204px,#00ff51 239px,#00ff32 256px,#00ff05 273px)"></i><i style="background:linear-gradient(#0f0 0,#00ff0a 52px,#00ff4d 139px,#00ff61 204px,#00ff50 239px,#00ff32 256px,#00ff05 273px)"></i><i style="background:linear-gradient(#0f0 0,#00ff09 53.5px,#00ff4b 139px,#00ff60 204px,#00ff50 239px,#00ff31 256px,#00ff05 273px)"></i><i style="background:linear-gradient(#0f0 0,#0f0 0px,#00ff09 55px,#00ff4a 139px,#00ff5f 204px,#00ff4f 239px,#00ff31 256px,#00ff05 273px)"></i><i style="background:linear-gradient(#0f0 0,#0f0 0px,#00ff09 56px,#00ff49 139px,#00ff5f 204px,#00ff4f 239px,#00ff31 256px,#00ff05 273px)"></i><i style="background:linear-gradient(#0f0 0,#0f0 0px,#00ff09 57.5px,#00ff48 139px,#00ff5e 204px,#00ff4e 239px,#00ff30 256px,#00ff05 273px)"></i><i style="background:linear-gradient(#0f0 0,#0f0 0px,#00ff09 59px,#00ff47 139px,#00ff5d 204px,#00ff4e 239px,#00ff30 256px,#00ff05 273px)"></i><i style="background:linear-gradient(#0f0 0,#0f0 0px,#00ff09 60.5px,#00ff45 139px,#00ff5c 204px,#00ff4d 239px,#00ff30 256px,#00ff05 273px)"></i><i style="background:linear-gradient(#0f0 0,#0f0 0px,#00ff08 62px,#0f4 139px,#00ff5b 204px,#00ff4c 239px,#00ff30 256px,#00ff05 273px)"></i><i style="background:linear-gradient(#0f0 0,#0f0 0px,#00ff08 63px,#00ff43 139px,#00ff5a 204px,#00ff4c 239px,#00ff2f 256px,#00ff05 273px)"></i><i style="background:linear-gradient(#0f0 0,#0f0 0px,#00ff08 64.5px,#00ff42 139px,#00ff59 204px,#00ff4b 239px,#00ff2f 256px,#00ff05 273px)"></i><i style="background:linear-gradient(#0f0 0,#0f0 0px,#00ff08 66px,#00ff40 139px,#00ff58 204px,#00ff4b 239px,#00ff2f 256px,#00ff05 273px)"></i><i style="background:linear-gradient(#0f0 0,#0f0 0px,#00ff08 67.5px,#00ff3f 139px,#00ff57 204px,#00ff4a 239px,#00ff2e 256px,#00ff05 273px)"></i><i style="background:linear-gradient(#0f0 0,#0f0 0px,#00ff08 68.5px,#00ff3e 139px,#00ff56 204px,#00ff4a 239px,#00ff2e 256px,#00ff05 273px)"></i><i style="background:linear-gradient(#0f0 0,#0f0 0px,#00ff08 70px,#00ff3d 139px,#0f5 204px,#00ff49 239px,#00ff2e 256px,#00ff05 273px)"></i><i style="background:linear-gradient(#0f0 0,#0f0 0px,#00ff08 71.5px,#00ff3b 139px,#00ff54 204.5px,#00ff48 239px,#00ff2d 256px,#00ff05 273px)"></i><i style="background:linear-gradient(#0f0 0,#0f0 0px,#00ff07 72.5px,#00ff3a 139px,#00ff53 206px,#00ff48 239px,#00ff2d 256px,#00ff05 273px)"></i><i style="background:linear-gradient(#0f0 0,#0f0 0px,#00ff07 73.5px,#00ff39 139px,#00ff52 208px,#00ff47 239px,#00ff2d 256px,#00ff05 273px)"></i><i style="background:linear-gradient(#0f0 0,#0f0 0px,#00ff07 75px,#00ff37 139px,#00ff51 209.5px,#00ff47 239px,#00ff2c 256px,#00ff05 273px)"></i><i style="background:linear-gradient(#0f0 0,#0f0 0px,#00ff07 76px,#00ff36 139px,#00ff50 211px,#00ff46 239px,#00ff2c 256px,#00ff05 273px)"></i><i style="background:linear-gradient(#03ff00 0,#0f0 22.1px,#00ff07 78px,#00ff35 139px,#00ff4f 210.5px,#00ff45 239px,#00ff2c 256px,#00ff05 273px)"></i><i style="background:linear-gradient(#21ff00 0,#0f0 3.5px,#00ff07 79.5px,#0f3 139px,#00ff4e 204px,#00ff45 239px,#00ff2b 256px,#00ff05 273px)"></i><i style="background:linear-gradient(#3fff00 0,#0f0 6.5px,#00ff07 81.5px,#00ff32 139px,#00ff4a 191px,#00ff4e 221px,#0f4 239px,#00ff2b 256px,#00ff05 273px)"></i><i style="background:linear-gradient(#5dff00 0,#0f0 9.5px,#00ff07 83px,#00ff31 139px,#00ff48 188px,#00ff4d 221px,#00ff43 239px,#00ff2b 256px,#00ff05 273px)"></i><i style="background:linear-gradient(#7bff00 0,#0f0 12.5px,#00ff07 83px,#00ff3c 163px,#00ff4c 218.5px,#00ff39 247px,#00ff05 273px)"></i><i style="background:linear-gradient(#9f0 0,#0f0 16px,#00ff07 84.5px,#00ff3e 169px,#00ff4b 219.5px,#00ff39 247px,#00ff05 273px)"></i><i style="background:linear-gradient(#b7ff00 0,#0f0 19px,#00ff07 86px,#00ff3e 171px,#00ff4a 221px,#00ff38 247px,#00ff04 273px)"></i><i style="background:linear-gradient(#d5ff00 0,#0f0 22px,#00ff07 87.5px,#00ff3d 171px,#00ff49 221px,#00ff38 247px,#00ff04 273px)"></i><i style="background:linear-gradient(#f4ff00 0,#0f0 25px,#0f0 25.7px,#00ff07 89px,#00ff3b 171px,#00ff49 221px,#00ff37 247px,#00ff04 273px)"></i><i style="background:linear-gradient(#ffec00 0,#ff0 1.9px,#0f0 28.5px,#00ff07 90.5px,#00ff3a 171px,#00ff48 221px,#00ff37 247px,#00ff04 273px)"></i><i style="background:linear-gradient(#ffce00 0,#ff0 5.1px,#0f0 31.5px,#00ff07 92px,#00ff39 171px,#00ff47 221px,#00ff36 247px,#00ff04 273px)"></i><i style="background:linear-gradient(#ffb000 0,#ff0 8.2px,#0f0 34.5px,#00ff07 93.5px,#00ff38 171px,#00ff46 221px,#00ff36 247px,#00ff04 273px)"></i><i style="background:linear-gradient(#ff9200 0,#ff0 11.1px,#0f0 37px,#00ff07 95px,#00ff37 171px,#00ff45 221px,#00ff35 247px,#00ff04 273px)"></i><i style="background:linear-gradient(#ff7400 0,#ff0 14.1px,#0f0 40px,#00ff06 96px,#00ff37 174.5px,#0f4 221px,#00ff34 247px,#00ff04 273px)"></i><i style="background:linear-gradient(#ff5600 0,#ff0 17.4px,#76ff00 31.5px,#0f0 42.5px,#00ff06 97.5px,#00ff38 178.5px,#00ff43 221px,#00ff34 247px,#00ff04 273px)"></i><i style="background:linear-gradient(#ff3800 0,#ff0 20.5px,#94ff00 31.5px,#01ff00 45px,#0f0 51px,#00ff07 99px,#00ff38 181.5px,#00ff42 221px,#0f3 247px,#00ff04 273px)"></i><i style="background:linear-gradient(#ff1a00 0,#ff0 23.6px,#b2ff00 31.5px,#0f0 48px,#00ff07 100.5px,#00ff39 185px,#00ff42 221px,#0f3 247px,#00ff04 273px)"></i><i style="background:linear-gradient(#f00 0,#ff0 26.6px,#d5ff00 31px,#0f0 50.5px,#00ff06 101.5px,#00ff39 188px,#00ff41 221px,#00ff32 247px,#00ff04 273px)"></i><i style="background:linear-gradient(#f00 0,#ff0100 3.5px,#ffae00 21.5px,#ff0 29.5px,#94ff00 40px,#0f0 53px,#00ff06 103px,#00ff38 188px,#00ff40 221px,#00ff32 247px,#00ff04 273px)"></i><i style="background:linear-gradient(#f00 0,#f00 6.5px,#ffec00 31px,#ff0 32.7px,#0f0 55.5px,#00ff07 104.5px,#00ff37 188px,#00ff3f 221px,#00ff31 247px,#00ff04 273px)"></i><i style="background:linear-gradient(#f00 0,#ff0400 10px,#ffce00 31px,#ff0 35.3px,#0f0 58px,#00ff06 105.5px,#00ff36 188px,#00ff3e 221px,#00ff31 247px,#00ff04 273px)"></i><i style="background:linear-gradient(#f00 0,#ff0200 13px,#ff0 38.3px,#f3ff00 39.5px,#0f0 60px,#00ff06 107px,#00ff34 188px,#00ff3d 221px,#00ff30 247px,#00ff04 273px)"></i><i style="background:linear-gradient(#f00 0,#ff0100 16px,#ffed00 39.5px,#ff0 41px,#0f0 62.5px,#00ff07 108.5px,#0f3 188px,#00ff3c 221px,#00ff30 247px,#00ff04 273px)"></i><i style="background:linear-gradient(#f00 0,#ff0400 19.5px,#ffcf00 39.5px,#ff0 43.5px,#01ff00 64.5px,#0f0 69.5px,#00ff06 109.5px,#00ff3b 221px,#00ff2f 247px,#00ff04 273px)"></i><i style="background:linear-gradient(#f00 0,#ff0200 22.5px,#ffb100 39.5px,#ff0 46px,#0f0 67px,#00ff06 111px,#00ff3b 221px,#00ff2f 247px,#00ff04 273px)"></i><i style="background:linear-gradient(#f00 0,#ff0200 25.5px,#ffe900 47px,#ff0 48.8px,#0f0 69px,#00ff06 112px,#00ff3a 221px,#00ff2e 247px,#00ff04 273px)"></i><i style="background:linear-gradient(#f00 0,#ff0100 28.5px,#ffd100 47.5px,#ff0 51.2px,#74ff00 62.5px,#0f0 71px,#0f0 73.6px,#00ff06 113.5px,#00ff39 221px,#00ff2d 247px,#00ff04 273px)"></i><i style="background:linear-gradient(#f00 0,#ff0100 31.5px,#ff0 53.8px,#f1ff00 55px,#01ff00 73px,#0f0 76.1px,#00ff06 114.5px,#00ff38 221px,#00ff2d 247px,#00ff04 273px)"></i><i style="background:linear-gradient(#f00 0,#ff0300 34.5px,#ffef00 55px,#ff0 56.2px,#01ff00 75px,#0f0 78.5px,#00ff06 116px,#00ff37 221px,#00ff2c 247px,#00ff04 273px)"></i><i style="background:linear-gradient(#f00 0,#f00 37px,#ff0 58.4px,#d4ff00 62px,#0f0 77px,#00ff06 117px,#00ff36 221px,#00ff2c 247px,#00ff04 273px)"></i><i style="background:linear-gradient(#f00 0,#ff0300 40px,#ff0 60.9px,#f2ff00 62px,#0f0 79px,#00ff06 118px,#00ff35 221px,#00ff2b 247px,#00ff04 273px)"></i><i style="background:linear-gradient(#f00 0,#ff0200 42.5px,#ffef00 62px,#ff0 63.1px,#0f0 81px,#00ff06 119.5px,#00ff34 221px,#00ff2b 247px,#00ff04 273px)"></i><i style="background:linear-gradient(#f00 0,#f00 45px,#ff7200 54.5px,#ff0 65.3px,#d5ff00 68.5px,#0f0 82.5px,#0f0 82.6px,#00ff06 120.5px,#0f3 221px,#00ff2a 247px,#00ff04 273px)"></i><i style="background:linear-gradient(#f00 0,#f00 47.5px,#ff0 67.5px,#f2ff00 68.5px,#0f0 84.5px,#00ff06 121.5px,#00ff32 221px,#00ff2a 247px,#00ff04 273px)"></i><i style="background:linear-gradient(#f00 0,#f00 50px,#fe0 68.5px,#ff0 69.6px,#0f0 86px,#00ff06 122.5px,#00ff31 221px,#00ff29 247px,#00ff04 273px)"></i><i style="background:linear-gradient(#f00 0,#f00 52.5px,#ffca00 68px,#ff0 71.4px,#0f0 88px,#00ff06 124px,#00ff31 221px,#00ff29 247px,#00ff03 273px)"></i><i style="background:linear-gradient(#f00 0,#ff0100 55px,#ffa600 67.5px,#ff0 73.6px,#f3ff00 74.5px,#0f0 89.5px,#00ff06 125px,#00ff30 221px,#00ff28 247px,#00ff03 273px)"></i><i style="background:linear-gradient(#f00 0,#f00 57px,#f80 67.5px,#fe0 74.5px,#ff0 75.5px,#0f0 91px,#0f0 91.3px,#00ff06 126px,#00ff2f 221px,#00ff27 247px,#00ff03 273px)"></i><i style="background:linear-gradient(#f00 0,#f00 59.5px,#ffc900 74px,#ff0 77.3px,#0f0 93px,#00ff2e 222.5px,#00ff27 247px,#00ff03 273px)"></i><i style="background:linear-gradient(#f00 0,#ff0200 62px,#ffac00 74px,#ff0 79px,#0f0 94.5px,#00ff2d 223.5px,#00ff26 247px,#00ff03 273px)"></i><i style="background:linear-gradient(#f00 0,#f00 64px,#fe0 80px,#ff0 81px,#0f0 96px,#00ff2c 224.5px,#00ff26 247px,#00ff03 273px)"></i><i style="background:linear-gradient(#f00 0,#f00 66px,#ffc800 79.5px,#ff0 82.7px,#0f0 97.5px,#00ff2b 225.5px,#00ff25 247px,#00ff03 273px)"></i><i style="background:linear-gradient(#f00 0,#f00 68px,#ffab00 79.5px,#ff0 84.3px,#02ff00 99px,#0f0 99.5px,#00ff2a 226.5px,#00ff24 247.5px,#00ff03 273px)"></i><i style="background:linear-gradient(#f00 0,#f00 70px,#ff8f00 79.5px,#ff0 86.1px,#0f0 101px,#00ff29 227.5px,#00ff23 248.5px,#00ff03 273px)"></i><i style="background:linear-gradient(#f00 0,#f00 72px,#ffc500 84.5px,#ff0 87.8px,#0f0 102.5px,#00ff29 228.5px,#00ff21 249.5px,#00ff03 273px)"></i><i style="background:linear-gradient(#f00 0,#f00 74px,#ffa800 84.5px,#ff0 89.5px,#0f0 104px,#00ff28 229.5px,#00ff20 250.5px,#00ff03 273px)"></i><i style="background:linear-gradient(#f00 0,#f00 76px,#ff8b00 84.5px,#ff0 91.1px,#01ff00 105.5px,#0f0 106px,#00ff27 230.5px,#00ff1f 251.5px,#00ff03 273px)"></i><i style="background:linear-gradient(#f00 0,#ff0200 78px,#ff0 92.7px,#0f0 107.5px,#00ff26 231.5px,#00ff1d 252.5px,#00ff03 273px)"></i><i style="background:linear-gradient(#f00 0,#f00 79.5px,#ff0 94.2px,#0f0 109px,#00ff25 232px,#00ff1d 253px,#00ff03 273px)"></i><i style="background:linear-gradient(#f00 0,#f00 81px,#ff2c00 84px,#ff0 96px,#0f0 110.5px,#00ff25 232px,#00ff1c 253px,#00ff03 273px)"></i><i style="background:linear-gradient(#f00 0,#f00 83px,#ff0 97.5px,#0f0 112px,#00ff24 232px,#00ff1c 253px,#00ff03 273px)"></i><i style="background:linear-gradient(#f00 0,#f00 84.5px,#ff0 99px,#0f0 113.5px,#0f0 114.7px,#00ff23 232px,#00ff1b 253px,#00ff03 273px)"></i><i style="background:linear-gradient(#f00 0,#ff0200 86.5px,#ff0 100.7px,#01ff00 115px,#0f0 115.4px,#0f0 115.5px,#0f2 232px,#00ff1a 253.5px,#00ff03 273px)"></i><i style="background:linear-gradient(#f00 0,#f00 88px,#ff0 102.5px,#0f0 117px,#00ff21 232.5px,#00ff1a 253.5px,#00ff03 273px)"></i><i style="background:linear-gradient(#f00 0,#f00 89.5px,#ff0 104px,#0f0 118.5px,#00ff21 233px,#00ff19 254px,#00ff03 273px)"></i><i style="background:linear-gradient(#f00 0,#f00 91px,#ff0 105.5px,#0f0 120px,#00ff20 234px,#00ff18 255px,#00ff03 273px)"></i><i style="background:linear-gradient(#f00 0,#ff0200 93px,#ff0 107.2px,#0f0 121.5px,#00ff1f 235px,#00ff17 256px,#00ff03 273px)"></i><i style="background:linear-gradient(#f00 0,#f00 94.5px,#ff0 108.7px,#0f0 123px,#00ff1e 235.5px,#00ff16 256px,#00ff03 273px)"></i><i style="background:linear-gradient(#f00 0,#f00 96px,#ff0 110.2px,#0f0 124.5px,#00ff01 124.5px,#00ff1e 236.5px,#00ff16 256px,#00ff03 273px)"></i><i style="background:linear-gradient(#f00 0,#f00 97.5px,#ff0 111.7px,#0f0 126px,#00ff01 126px,#00ff1d 237px,#00ff15 256px,#00ff03 273px)"></i><i style="background:linear-gradient(#f00 0,#f00 99px,#ff4900 103.5px,#ff0 113.5px,#0f0 127.5px,#00ff01 127.5px,#00ff1c 238px,#00ff03 273px)"></i><i style="background:linear-gradient(#f00 0,#f00 101px,#ff0 115px,#0f0 129px,#00ff01 129px,#00ff1c 238.5px,#00ff03 273px)"></i><i style="background:linear-gradient(#f00 0,#f00 102.5px,#ff0 116.5px,#0f0 130.5px,#0f0 130.6px,#00ff1b 238.5px,#00ff02 273px)"></i><i style="background:linear-gradient(#f00 0,#f00 104px,#ff0 118px,#01ff00 132px,#0f0 132.3px,#00ff01 132.5px,#00ff1a 239px,#00ff02 273px)"></i><i style="background:linear-gradient(#f00 0,#f00 105.5px,#ff0 119.5px,#02ff00 133.5px,#0f0 133.8px,#00ff01 134px,#00ff1a 239px,#00ff02 273px)"></i><i style="background:linear-gradient(#f00 0,#f00 107px,#ff0200 107.5px,#ff0 121.4px,#0f0 135.4px,#00ff01 135.5px,#00ff19 239px,#00ff02 273px)"></i><i style="background:linear-gradient(#f00 0,#ff0100 109px,#ff0 123px,#0f0 136.9px,#00ff01 137px,#00ff18 239px,#00ff02 273px)"></i><i style="background:linear-gradient(#f00 0,#f00 110.5px,#ff0 124.5px,#0f0 138.4px,#00ff01 138.5px,#00ff18 239px,#00ff02 273px)"></i><i style="background:linear-gradient(#f00 0,#f00 112px,#ff0 126px,#0f0 139.9px,#00ff01 140px,#00ff17 239px,#00ff02 273px)"></i><i style="background:linear-gradient(#f00 0,#f00 113.5px,#ff0 127.5px,#0f0 141.4px,#00ff01 141.5px,#00ff17 239px,#00ff02 273px)"></i><i style="background:linear-gradient(#f00 0,#f00 115px,#ff0 129px,#0f0 142.9px,#00ff01 143px,#00ff16 239px,#00ff02 273px)"></i><i style="background:linear-gradient(#f00 0,#f00 116.5px,#ff0 130.5px,#0f0 144.4px,#00ff01 144.5px,#00ff16 239px,#00ff02 273px)"></i><i style="background:linear-gradient(#f00 0,#f00 118px,#ff0 132px,#0f0 145.9px,#00ff01 146px,#00ff15 239px,#00ff02 273px)"></i><i style="background:linear-gradient(#f00 0,#f00 119.5px,#ff0 133.5px,#0f0 147.4px,#00ff01 147.5px,#00ff14 239px,#00ff02 273px)"></i><i style="background:linear-gradient(#f00 0,#f00 121px,#ff0 135px,#0f0 149px,#00ff01 149px,#00ff14 239px,#00ff02 273px)"></i><i style="background:linear-gradient(#f00 0,#f00 122.5px,#ff0200 123px,#ff0 136.7px,#0f0 150.5px,#00ff01 150.5px,#00ff13 239px,#00ff02 273px)"></i><i style="background:linear-gradient(#f00 0,#f00 124px,#ff0100 124.5px,#ff0 138.2px,#0f0 152px,#00ff01 152px,#00ff13 239px,#00ff02 273px)"></i><i style="background:linear-gradient(#f00 0,#ff0100 126px,#ff0 139.7px,#0f0 153.5px,#00ff01 153.5px,#00ff12 239px,#00ff02 273px)"></i><i style="background:linear-gradient(#f00 0,#f00 127.5px,#ff0 141.1px,#02ff00 154.5px,#0f0 154.9px,#00ff01 155px,#00ff12 239px,#00ff02 273px)"></i><i style="background:linear-gradient(#f00 0,#f00 129px,#ff0 142.5px,#0f0 156px,#0f0 158px,#0f1 239px,#00ff02 273px)"></i><i style="background:linear-gradient(#f00 0,#f00 130.5px,#ff0 144.3px,#d6ff00 146.5px,#0f0 157.5px,#00ff01 157.5px,#0f1 239px,#00ff02 273px)"></i><i style="background:linear-gradient(#f00 0,#f00 132px,#ff0 145.8px,#f2ff00 146.5px,#0f0 159px,#00ff01 159px,#00ff10 239.5px,#00ff02 273px)"></i><i style="background:linear-gradient(#f00 0,#f00 133.5px,#ffe600 146px,#ff0 147.3px,#0f0 160.5px,#00ff01 160.5px,#00ff0f 240.5px,#00ff02 273px)"></i><i style="background:linear-gradient(#f00 0,#f00 135px,#ffca00 146px,#ff0 148.8px,#0f0 162px,#00ff01 162px,#00ff0f 241px,#00ff02 273px)"></i><i style="background:linear-gradient(#f00 0,#f00 136.5px,#ffae00 146px,#ff0 150.1px,#0f0 163px,#0f0 165.3px,#00ff0e 241.5px,#00ff02 273px)"></i><i style="background:linear-gradient(#f00 0,#f00 138px,#f80 145.5px,#ff0 151.5px,#0f0 164.5px,#00ff01 164.5px,#00ff0e 243px,#00ff02 273px)"></i><i style="background:linear-gradient(#f00 0,#f00 139.5px,#ff6c00 145.5px,#ff0 153px,#0f0 166px,#00ff01 166px,#00ff0d 243.5px,#00ff02 273px)"></i><i style="background:linear-gradient(#f00 0,#f00 141px,#ff4600 145px,#ff0 154.3px,#02ff00 167px,#0f0 167.4px,#00ff01 167.5px,#00ff0d 244.5px,#00ff02 273px)"></i><i style="background:linear-gradient(#f00 0,#f00 142.5px,#ff8a00 150px,#ff0 155.8px,#0f0 168.5px,#00ff01 168.5px,#00ff0c 245px,#00ff01 273px)"></i><i style="background:linear-gradient(#f00 0,#f00 144px,#ff6500 149.5px,#ff0 157.2px,#0f0 170px,#00ff0c 245.5px,#00ff01 273px)"></i><i style="background:linear-gradient(#f00 0,#f00 145.5px,#ffab00 154.5px,#ff0 158.6px,#02ff00 171px,#0f0 171.4px,#0f0 171.5px,#00ff0c 246.5px,#00ff01 273px)"></i><i style="background:linear-gradient(#f00 0,#f00 147px,#ffe900 159px,#ff0 160.1px,#0f0 172.5px,#00ff0b 247px,#00ff01 273px)"></i><i style="background:linear-gradient(#f00 0,#f00 148.5px,#ff0 161.2px,#0f0 174px,#00ff0b 247px,#00ff01 273px)"></i><i style="background:linear-gradient(#f00 0,#f00 150px,#ff0 162.8px,#f1ff00 163.5px,#0f0 175px,#00ff0a 247px,#00ff01 273px)"></i><i style="background:linear-gradient(#f00 0,#f00 151.5px,#ff0 164px,#0f0 176.5px,#00ff0a 247px,#00ff01 273px)"></i><i style="background:linear-gradient(#f00 0,#f00 152.5px,#ff0200 153px,#ffcb00 163px,#ff0 165.5px,#0f0 177.5px,#00ff09 247px,#00ff01 273px)"></i><i style="background:linear-gradient(#f00 0,#f00 154px,#ffa500 162.5px,#ff0 166.7px,#03ff00 178.5px,#0f0 178.9px,#0f0 179px,#00ff09 247px,#00ff01 273px)"></i><i style="background:linear-gradient(#f00 0,#f00 155.5px,#ffe600 167px,#ff0 168.2px,#0f0 180px,#00ff09 247.5px,#00ff01 273px)"></i><i style="background:linear-gradient(#f00 0,#f00 157px,#ffca00 167px,#ff0 169.4px,#01ff00 181px,#0f0 185.1px,#00ff08 247.5px,#00ff01 273px)"></i><i style="background:linear-gradient(#f00 0,#f00 158.5px,#ff0 170.5px,#0f0 182.5px,#00ff08 248.5px,#00ff01 273px)"></i><i style="background:linear-gradient(#f00 0,#f00 159.5px,#ff0300 160px,#ffe800 171px,#ff0 172px,#0f0 183.5px,#00ff07 249px,#00ff01 273px)"></i><i style="background:linear-gradient(#f00 0,#f00 161px,#ffcd00 171px,#ff0 173.2px,#01ff00 184.5px,#0f0 189.6px,#00ff07 249px,#00ff01 273px)"></i><i style="background:linear-gradient(#f00 0,#f00 162.5px,#ffa700 170.5px,#ff0 174.4px,#04ff00 185.5px,#0f0 186px,#00ff01 273px)"></i><i style="background:linear-gradient(#f00 0,#f00 163.5px,#ff0200 164px,#ff8100 170px,#ff0 175.6px,#0f0 187px,#00ff01 273px)"></i><i style="background:linear-gradient(#f00 0,#f00 165px,#ffc800 174.5px,#ff0 176.9px,#0f0 188px,#00ff01 273px)"></i><i style="background:linear-gradient(#f00 0,#f00 166.5px,#ff0 178.1px,#f7ff00 178.5px,#01ff00 189px,#0f0 220.8px,#00ff01 273px)"></i><i style="background:linear-gradient(#f00 0,#f00 167.5px,#ff0400 168px,#ff7c00 173.5px,#ff0 179.2px,#03ff00 190px,#0f0 190.5px,#00ff01 273px)"></i><i style="background:linear-gradient(#f00 0,#f00 169px,#ff0 180.2px,#0f0 191.5px,#00ff01 273px)"></i><i style="background:linear-gradient(#f00 0,#f00 170px,#ff0300 170.5px,#ffa000 177.5px,#ff0 181.6px,#0f0 192.5px,#00ff01 273px)"></i><i style="background:linear-gradient(#f00 0,#f00 171.5px,#ffe100 181.5px,#ff0 182.8px,#0f0 193.5px,#00ff01 273px)"></i><i style="background:linear-gradient(#f00 0,#f00 172.5px,#ff0400 173px,#ffc600 181.5px,#ff0 183.9px,#0f0 194.5px,#00ff01 273px)"></i><i style="background:linear-gradient(#f00 0,#f00 174px,#ff0 185px,#f4ff00 185.5px,#0f0 195.5px,#00ff01 273px)"></i><i style="background:linear-gradient(#f00 0,#f00 175px,#ffe300 185px,#ff0 186.1px,#0f0 196.5px,#00ff01 273px)"></i><i style="background:linear-gradient(#f00 0,#f00 176px,#ff0200 176.5px,#ffbd00 184.5px,#ff0 187.2px,#0f0 197.5px,#00ff01 273px)"></i><i style="background:linear-gradient(#f00 0,#f00 177.5px,#ff0 188.3px,#fbff00 188.5px,#0f0 198.5px,#00ff01 273px)"></i><i style="background:linear-gradient(#f00 0,#f00 178.5px,#ffe900 188.5px,#ff0 189.4px,#0f0 199.5px,#00ff01 273px)"></i><i style="background:linear-gradient(#f00 0,#f00 179.5px,#ff0300 180px,#ffc200 188px,#ff0 190.4px,#0f0 200.5px,#00ff01 273px)"></i><i style="background:linear-gradient(#f00 0,#f00 181px,#ff0 191.2px,#0f0 201.5px,#00ff01 273px)"></i><i style="background:linear-gradient(#f00 0,#f00 182px,#ffe500 191.5px,#ff0 192.5px,#04ff00 202px,#0f0 202.5px,#00ff01 273px)"></i><i style="background:linear-gradient(#f00 0,#f00 183px,#ffcb00 191.5px,#ff0 193.4px,#02ff00 203px,#0f0 259.1px,#00ff01 273px)"></i><i style="background:linear-gradient(#f00 0,#f00 184px,#ff0400 184.5px,#ffa500 191px,#ff0 194.4px,#0f0 204px,#00ff01 273px)"></i><i style="background:linear-gradient(#f00 0,#f00 185px,#ff0200 185.5px,#ff7e00 190.5px,#ff0 195.4px,#0f0 205px,#0f0 273px)"></i><i style="background:linear-gradient(#f00 0,#f00 186.5px,#ff0 196.2px,#0f0 206px,#0f0 273px)"></i><i style="background:linear-gradient(#f00 0,#f00 187.5px,#ff0 197.4px,#efff00 198px,#04ff00 206.5px,#0f0 207px,#0f0 273px)"></i><i style="background:linear-gradient(#f00 0,#f00 188.5px,#ffe800 197.5px,#ff0 198.3px,#0f0 207.5px,#0f0 273px)"></i><i style="background:linear-gradient(#f00 0,#f00 189.5px,#ffc100 197px,#ff0 199.2px,#0f0 208.5px,#0f0 273px)"></i><i style="background:linear-gradient(#f00 0,#f00 190.5px,#ffa800 197px,#ff0 200.1px,#07ff00 209px,#0f0 209.5px,#0f0 273px)"></i><i style="background:linear-gradient(#f00 0,#f00 191.5px,#ffe100 200px,#ff0 201.1px,#02ff00 210px,#0f0 264.7px,#0f0 273px)"></i><i style="background:linear-gradient(#f00 0,#f00 192.5px,#ffba00 199.5px,#ff0 201.9px,#0f0 211px,#0f0 273px)"></i><i style="background:linear-gradient(#f00 0,#f00 193.5px,#ff0 202.8px,#0f0 212px,#0f0 273px)"></i><i style="background:linear-gradient(#f00 0,#f00 194.5px,#ff0 203.6px,#03ff00 212.5px,#0f0 213px,#0f0 273px)"></i><i style="background:linear-gradient(#f00 0,#f00 195px,#ff0200 195.5px,#ff5400 198.5px,#ff0 204.5px,#0f0 213.5px,#0f0 273px)"></i><i style="background:linear-gradient(#f00 0,#f00 196px,#ff0400 196.5px,#ff2d00 198px,#ff0 205.5px,#0f0 214.5px,#0f0 273px)"></i><i style="background:linear-gradient(#f00 0,#f00 197px,#ff0600 197.5px,#ff7600 201.5px,#ff0 206.3px,#04ff00 215px,#0f0 215.5px,#0f0 273px)"></i><i style="background:linear-gradient(#f00 0,#f00 198px,#ff0 207px,#0f0 216px,#0f0 273px)"></i><i style="background:linear-gradient(#f00 0,#f00 199px,#ff0 208px,#0f0 217px,#0f0 273px)"></i><i style="background:linear-gradient(#f00 0,#f00 199.5px,#ff0200 200px,#ff0 208.8px,#05ff00 217.5px,#0f0 218px,#0f0 273px)"></i><i style="background:linear-gradient(#f00 0,#f00 200.5px,#ff0600 201px,#ff0 209.7px,#0f0 218.5px,#0f0 273px)"></i><i style="background:linear-gradient(#f00 0,#f00 201.5px,#ff0 210.5px,#0f0 219.5px,#0f0 273px)"></i><i style="background:linear-gradient(#f00 0,#f00 202.5px,#ff0 211.3px,#04ff00 220px,#0f0 220.5px,#0f0 273px)"></i><i style="background:linear-gradient(#f00 0,#f00 203px,#ff0400 203.5px,#ff0 212.2px,#0f0 221px,#0f0 273px)"></i><i style="background:linear-gradient(#f00 0,#f00 204px,#ff0 212.9px,#08ff00 221.5px,#0f0 222px,#0f0 273px)"></i><i style="background:linear-gradient(#f00 0,#f00 205px,#ff0 213.8px,#01ff00 222.5px,#0f0 267.2px,#0f0 273px)"></i><i style="background:linear-gradient(#f00 0,#f00 205.5px,#ff0300 206px,#ff0 214.7px,#0f0 223.5px,#0f0 273px)"></i><i style="background:linear-gradient(#f00 0,#f00 206.5px,#ff0700 207px,#ff9800 212px,#ff0 215.5px,#03ff00 224px,#0f0 270.9px,#0f0 273px)"></i><i style="background:linear-gradient(#f00 0,#f00 207.5px,#ff0 216.2px,#0f0 225px,#0f0 273px)"></i><i style="background:linear-gradient(#f00 0,#f00 208px,#ff0200 208.5px,#ff4a00 211px,#ff0 217.1px,#03ff00 225.5px,#0f0 271.1px,#0f0 273px)"></i><i style="background:linear-gradient(#f00 0,#f00 209px,#ff0700 209.5px,#ff9800 214.5px,#ff0 218px,#0f0 226.5px,#0f0 273px)"></i><i style="background:linear-gradient(#f00 0,#f00 210px,#ffe700 218px,#ff0 218.8px,#02ff00 227px,#0f0 270px,#0f0 273px)"></i><i style="background:linear-gradient(#f00 0,#f00 210.5px,#ff0200 211px,#ff4a00 213.5px,#ff0 219.4px,#08ff00 227.5px,#0f0 228px,#0f0 273px)"></i><i style="background:linear-gradient(#f00 0,#f00 211.5px,#ff0600 212px,#ff9a00 217px,#ff0 220.3px,#0f0 228.5px,#0f0 273px)"></i><i style="background:linear-gradient(#f00 0,#f00 212.5px,#ffec00 220.5px,#ff0 221.1px,#04ff00 229px,#0f0 272px,#0f0 273px)"></i><i style="background:linear-gradient(#f00 0,#f00 213px,#ff0200 213.5px,#ff4c00 216px,#ff0 221.7px,#09ff00 229.5px,#0f0 230px,#0f0 273px)"></i><i style="background:linear-gradient(#f00 0,#f00 214px,#ff0800 214.5px,#ff9f00 219.5px,#ff0 222.5px,#0f0 230.5px,#0f0 273px)"></i><i style="background:linear-gradient(#f00 0,#f00 215px,#ffe500 222.5px,#ff0 223.3px,#03ff00 231px,#0f0 271.9px,#0f0 273px)"></i><i style="background:linear-gradient(#f00 0,#f00 215.5px,#ff0500 216px,#ff4200 218px,#ff0 223.8px,#07ff00 231.5px,#0f0 232px,#0f0 273px)"></i><i style="background:linear-gradient(#f00 0,#f00 216.5px,#ff9800 221.5px,#ff0 224.7px,#0f0 232.5px,#0f0 273px)"></i><i style="background:linear-gradient(#f00 0,#f00 217px,#ff0400 217.5px,#ff7100 221px,#ff0 225.3px,#0f0 233px,#0f0 273px)"></i><i style="background:linear-gradient(#f00 0,#f00 218px,#ffbc00 224px,#ff0 226px,#02ff00 233.5px,#0f0 272.1px,#0f0 273px)"></i><i style="background:linear-gradient(#f00 0,#f00 218.5px,#ff1400 219.5px,#ff0 226.5px,#06ff00 234px,#0f0 234.5px,#0f0 273px)"></i><i style="background:linear-gradient(#f00 0,#f00 219.5px,#ffe300 226.5px,#ff0 227.3px,#09ff00 234.5px,#0f0 235px,#0f0 273px)"></i><i style="background:linear-gradient(#f00 0,#f00 220px,#ff0700 220.5px,#ff3800 222px,#ff0 227.9px,#0f0 235.5px,#0f0 273px)"></i><i style="background:linear-gradient(#f00 0,#f00 220.5px,#ff0100 221px,#f10 221.5px,#ff0 228.5px,#0f0 236px,#0f0 273px)"></i><i style="background:linear-gradient(#f00 0,#f00 221.5px,#ffe700 228.5px,#ff0 229.2px,#0f0 236.5px,#0f0 273px)"></i><i style="background:linear-gradient(#f00 0,#f00 222px,#ff0700 222.5px,#ff3900 224px,#ff0 229.7px,#02ff00 237px,#0f0 272.7px,#0f0 273px)"></i><i style="background:linear-gradient(#f00 0,#f00 222.5px,#ff0200 223px,#ff1200 223.5px,#ff0 230.3px,#05ff00 237.5px,#0f0 272.9px,#0f0 273px)"></i><i style="background:linear-gradient(#f00 0,#f00 223.5px,#ff0 230.8px,#07ff00 238px,#0f0 238.5px,#0f0 273px)"></i><i style="background:linear-gradient(#f00 0,#f00 224px,#ff3d00 226px,#ff0 231.5px,#09ff00 238.5px,#0f0 239px,#0f0 273px)"></i><i style="background:linear-gradient(#f00 0,#f00 224.5px,#ff0500 225px,#ff0 232.1px,#0aff00 239px,#0f0 239.5px,#0f0 273px)"></i><i style="background:linear-gradient(#f00 0,#f00 225px,#ff0200 225.5px,#ff0 232.7px,#0f0 240px,#0f0 273px)"></i><i style="background:linear-gradient(#f00 0,#f00 226px,#ff0 233.2px,#0f0 240.5px,#0f0 273px)"></i><i style="background:linear-gradient(#f00 0,#f00 226.5px,#ff0 233.8px,#0f0 241px,#0f0 273px)"></i><i style="background:linear-gradient(#f00 0,#f00 227px,#ff0900 227.5px,#ff0 234.4px,#0f0 241.5px,#0f0 273px)"></i><i style="background:linear-gradient(#f00 0,#f00 227.5px,#ff0700 228px,#ff0 234.9px,#0f0 242px,#0f0 273px)"></i><i style="background:linear-gradient(#f00 0,#f00 228px,#ff0400 228.5px,#ff0 235.4px,#0f0 242.5px,#0f0 273px)"></i><i style="background:linear-gradient(#f00 0,#f00 228.5px,#ff0200 229px,#ff0 236px,#0f0 243px,#0f0 273px)"></i><i style="background:linear-gradient(#f00 0,#f00 229.5px,#ff0 236.5px,#0f0 243.5px,#0f0 273px)"></i><i style="background:linear-gradient(#f00 0,#f00 230px,#ff0 237px,#0f0 244px,#0f0 273px)"></i><i style="background:linear-gradient(#f00 0,#f00 230.5px,#ff0 237.5px,#0f0 244.5px,#0f0 273px)"></i><i style="background:linear-gradient(#f00 0,#f00 231px,#ff0 238px,#0f0 245px,#0f0 273px)"></i><i style="background:linear-gradient(#f00 0,#f00 231.5px,#ff0b00 232px,#ff0 238.6px,#0f0 245.5px,#0f0 273px)"></i><i style="background:linear-gradient(#f00 0,#f00 232px,#ff0a00 232.5px,#ff0 239.1px,#0f0 246px,#0f0 273px)"></i><i style="background:linear-gradient(#f00 0,#f00 232.5px,#ff0800 233px,#ff0 239.6px,#0f0 246.5px,#0f0 273px)"></i><i style="background:linear-gradient(#f00 0,#f00 233px,#ff0800 233.5px,#ff0 240.1px,#0f0 247px,#0f0 273px)"></i><i style="background:linear-gradient(#f00 0,#f00 233.5px,#ff0700 234px,#ff0 240.6px,#0cff00 247px,#0f0 247.5px,#0f0 273px)"></i><i style="background:linear-gradient(#f00 0,#f00 234px,#ff0700 234.5px,#ff0 241.1px,#0aff00 247.5px,#0f0 248px,#0f0 273px)"></i><i style="background:linear-gradient(#f00 0,#f00 234.5px,#ff0600 235px,#ff0 241.5px,#08ff00 248px,#0f0 248.5px,#0f0 273px)"></i><i style="background:linear-gradient(#f00 0,#f00 235px,#ff0700 235.5px,#ff0 242px,#06ff00 248.5px,#0f0 273px)"></i><i style="background:linear-gradient(#f00 0,#f00 235.5px,#ff0700 236px,#ff0 242.5px,#04ff00 249px,#0f0 273px)"></i><i style="background:linear-gradient(#f00 0,#f00 236px,#ff0700 236.5px,#ff0 242.9px,#01ff00 249.5px,#0f0 273px)"></i><i style="background:linear-gradient(#f00 0,#f00 236.5px,#ff0800 237px,#ff0 243.4px,#0f0 250px,#0f0 273px)"></i><i style="background:linear-gradient(#f00 0,#f00 237px,#ff0900 237.5px,#ff0 243.9px,#0f0 250.5px,#0f0 273px)"></i><i style="background:linear-gradient(#f00 0,#f00 237.5px,#ff0a00 238px,#ff0 244.3px,#0cff00 250.5px,#0f0 251px,#0f0 273px)"></i><i style="background:linear-gradient(#f00 0,#f00 238px,#ff3200 239.5px,#ff0 244.7px,#09ff00 251px,#0f0 251.5px,#0f0 273px)"></i><i style="background:linear-gradient(#f00 0,#f00 238.5px,#ff0 245.1px,#06ff00 251.5px,#0f0 273px)"></i><i style="background:linear-gradient(#f00 0,#f00 239px,#ff0 245.5px,#02ff00 252px,#0f0 273px)"></i><i style="background:linear-gradient(#f00 0,#f00 239.5px,#ff0 246px,#0f0 252.5px,#0f0 273px)"></i><i style="background:linear-gradient(#f00 0,#ff0100 240px,#ff0 246.5px,#0f0 253px,#0f0 273px)"></i><i style="background:linear-gradient(#f00 0,#f00 240px,#ff0300 240.5px,#ff0 246.8px,#09ff00 253px,#0f0 253.5px,#0f0 273px)"></i><i style="background:linear-gradient(#f00 0,#f00 240.5px,#ff0600 241px,#ff0 247.2px,#04ff00 253.5px,#0f0 273px)"></i><i style="background:linear-gradient(#f00 0,#f00 241px,#ff0900 241.5px,#ff0 247.6px,#0f0 254px,#0f0 273px)"></i><i style="background:linear-gradient(#f00 0,#f00 241.5px,#ff0c00 242px,#ff0 248.1px,#0f0 254.5px,#0f0 273px)"></i><i style="background:linear-gradient(#f00 0,#f00 242px,#ff0 248.4px,#08ff00 254.5px,#0f0 255px,#0f0 273px)"></i><i style="background:linear-gradient(#f00 0,#f00 242.5px,#ff0 248.8px,#02ff00 255px,#0f0 273px)"></i><i style="background:linear-gradient(#f00 0,#f00 242.5px,#ff0300 243px,#ff0 249.2px,#0f0 255.5px,#0f0 273px)"></i><i style="background:linear-gradient(#f00 0,#f00 243px,#ff0700 243.5px,#ff0 249.5px,#09ff00 255.5px,#0f0 256px,#0f0 273px)"></i><i style="background:linear-gradient(#f00 0,#f00 243.5px,#ff0c00 244px,#ff0 249.9px,#02ff00 256px,#0f0 273px)"></i><i style="background:linear-gradient(#f00 0,#f00 244px,#ff0 250.2px,#0f0 256.5px,#0f0 273px)"></i><i style="background:linear-gradient(#f00 0,#f00 244px,#ff0100 244.5px,#ff0 250.6px,#07ff00 256.5px,#0f0 257px,#0f0 273px)"></i><i style="background:linear-gradient(#f00 0,#f00 244.5px,#ff0700 245px,#ff0 250.9px,#0f0 257px,#0f0 273px)"></i><i style="background:linear-gradient(#f00 0,#f00 245px,#ff4b00 247px,#ff0 251.2px,#0bff00 257px,#0f0 257.5px,#0f0 273px)"></i><i style="background:linear-gradient(#f00 0,#f00 245.5px,#ff0 251.5px,#02ff00 257.5px,#0f0 273px)"></i><i style="background:linear-gradient(#f00 0,#f00 245.5px,#ff0500 246px,#ff0 251.8px,#0eff00 257.5px,#0f0 258px,#0f0 273px)"></i><i style="background:linear-gradient(#f00 0,#f00 246px,#ff3700 247.5px,#ff0 252.2px,#04ff00 258px,#0f0 273px)"></i><i style="background:linear-gradient(#f00 0,#f00 246.5px,#ff0 252.5px,#0f0 258.5px,#0f0 273px)"></i><i style="background:linear-gradient(#f00 0,#f00 246.5px,#ff0800 247px,#ff0 252.7px,#07ff00 258.5px,#0f0 259px,#0f0 273px)"></i><i style="background:linear-gradient(#f00 0,#f00 247px,#ff0 253px,#0f0 259px,#0f0 273px)"></i><i style="background:linear-gradient(#f00 0,#f00 247px,#ff0400 247.5px,#ff0 253.3px,#09ff00 259px,#0f0 259.5px,#0f0 273px)"></i><i style="background:linear-gradient(#f00 0,#f00 247.5px,#ff0e00 248px,#ff0 253.6px,#0f0 259.5px,#0f0 273px)"></i><i style="background:linear-gradient(#f00 0,#f00 247.5px,#ff0100 248px,#ff0 253.9px,#0cff00 259.5px,#0f0 260px,#0f0 273px)"></i><i style="background:linear-gradient(#f00 0,#f00 248px,#ff0b00 248.5px,#ff0 254.2px,#04ff00 260px,#0f0 273px)"></i><i style="background:linear-gradient(#f00 0,#f00 248.5px,#ff0 254.5px,#0f0 260.5px,#0f0 273px)"></i><i style="background:linear-gradient(#f00 0,#f00 248.5px,#ff0900 249px,#ff0 254.7px,#08ff00 260.5px,#0f0 261px,#0f0 273px)"></i><i style="background:linear-gradient(#f00 0,#f00 249px,#ff0 255px,#0f0 261px,#0f0 273px)"></i><i style="background:linear-gradient(#f00 0,#f00 249px,#ff0600 249.5px,#ff0 255.3px,#0dff00 261px,#0f0 261.5px,#0f0 273px)"></i><i style="background:linear-gradient(#f00 0,#f00 249.5px,#ff0 255.6px,#05ff00 261.5px,#0f0 273px)"></i><i style="background:linear-gradient(#f00 0,#f00 249.5px,#ff0300 250px,#ff0 256px,#0f0 262px,#0f0 273px)"></i><i style="background:linear-gradient(#f00 0,#f00 250px,#ff0b00 250.5px,#ff0 256.2px,#0aff00 262px,#0f0 262.5px,#0f0 273px)"></i><i style="background:linear-gradient(#f00 0,#f00 250.5px,#ff0 256.5px,#03ff00 262.5px,#0f0 273px)"></i><i style="background:linear-gradient(#f00 0,#f00 250.5px,#ff0700 251px,#ff0 256.9px,#0f0 263px,#0f0 273px)"></i><i style="background:linear-gradient(#f00 0,#f00 251px,#ff0 257.1px,#0bff00 263px,#0f0 263.5px,#0f0 273px)"></i><i style="background:linear-gradient(#f00 0,#f00 251px,#ff0200 251.5px,#ff0 257.6px,#07ff00 263.5px,#0f0 273px)"></i><i style="background:linear-gradient(#f00 0,#f00 251.5px,#ff0a00 252px,#ff0 257.9px,#04ff00 264px,#0f0 273px)"></i><i style="background:linear-gradient(#f00 0,#f00 252px,#ff0 258.3px,#02ff00 264.5px,#0f0 273px)"></i><i style="background:linear-gradient(#f00 0,#f00 252px,#ff0400 252.5px,#ff0 258.5px,#ebff00 259px,#02ff00 265px,#0f0 273px)"></i><i style="background:linear-gradient(#f00 0,#f00 252.5px,#ff0c00 253px,#ffef00 258.5px,#ff0 258.9px,#02ff00 265.5px,#0f0 273px)"></i><i style="background:linear-gradient(#f00 0,#f00 253px,#ff0 259.4px,#bdff00 261px,#04ff00 266px,#0f0 273px)"></i><i style="background:linear-gradient(#f00 0,#f00 253px,#ff0400 253.5px,#ff0 259.8px,#e2ff00 260.5px,#05ff00 266.5px,#0f0 273px)"></i><i style="background:linear-gradient(#f00 0,#f00 253.5px,#ff0a00 254px,#ffe400 259.5px,#ff0 260.2px,#06ff00 267px,#0f0 273px)"></i><i style="background:linear-gradient(#f00 0,#f00 254px,#ff0 260.8px,#07ff00 267.5px,#0f0 268px,#0f0 273px)"></i><i style="background:linear-gradient(#f00 0,#f00 254.5px,#ff0 261.3px,#07ff00 268px,#0f0 268.5px,#0f0 273px)"></i><i style="background:linear-gradient(#f00 0,#f00 254.5px,#ff0100 255px,#ff0 261.8px,#07ff00 268.5px,#0f0 269px,#0f0 273px)"></i><i style="background:linear-gradient(#f00 0,#f00 255px,#ff0400 255.5px,#ff0 262.3px,#09ff00 269px,#0f0 269.5px,#0f0 273px)"></i><i style="background:linear-gradient(#f00 0,#f00 255.5px,#ff0400 256px,#ff0 262.8px,#0aff00 269.5px,#0f0 270px,#0f0 273px)"></i><i style="background:linear-gradient(#f00 0,#f00 256px,#ff0400 256.5px,#ff0 263.4px,#0cff00 270px,#0f0 270.5px,#0f0 273px)"></i><i style="background:linear-gradient(#f00 0,#f00 256.5px,#ff0300 257px,#ff0 263.9px,#0dff00 270.5px,#0f0 271px,#0f0 273px)"></i><i style="background:linear-gradient(#f00 0,#f00 257px,#ff0200 257.5px,#ff0 264.4px,#0fff00 271px,#0f0 271.5px,#0f0 273px)"></i><i style="background:linear-gradient(#f00 0,#f00 257.5px,#ff0100 258px,#ff0 265px,#10ff00 271.5px,#0f0 272px,#0f0 273px)"></i><i style="background:linear-gradient(#f00 0,#f00 258.5px,#ff0 265.5px,#1f0 272px,#0f0 272.5px,#0f0 273px)"></i><i style="background:linear-gradient(#f00 0,#f00 259px,#ff0 266px,#0f0 273px)"></i><i style="background:linear-gradient(#f00 0,#f00 259.5px,#ff0 266.5px,#81ff00 270px,#07ff00 273px)"></i><i style="background:linear-gradient(#f00 0,#f00 260px,#ff0 267.1px,#b9ff00 269px,#15ff00 273px)"></i><i style="background:linear-gradient(#f00 0,#f00 260.5px,#ff0 267.6px,#f1ff00 268px,#24ff00 273px)"></i><i style="background:linear-gradient(#f00 0,#f00 261px,#ffe800 267.5px,#ff0 268.1px,#31ff00 273px)"></i><i style="background:linear-gradient(#f00 0,#f00 261.5px,#ffb000 266.5px,#ff0 268.4px,#3bff00 273px)"></i><i style="background:linear-gradient(#f00 0,#f00 262px,#ff0b00 262.5px,#ff7800 265.5px,#ff0 268.8px,#e0ff00 269.5px,#40ff00 273px)"></i><i style="background:linear-gradient(#f00 0,#f00 262.5px,#ff2d00 264px,#ffbc00 267.5px,#ff0 268.9px,#4f0 273px)"></i><i style="background:linear-gradient(#f00 0,#f00 263px,#ff0800 263.5px,#ff7100 266px,#ff0 269.1px,#48ff00 273px)"></i><i style="background:linear-gradient(#f00 0,#f00 263.5px,#ff0f00 264px,#ff0 269.1px,#4cff00 273px)"></i><i style="background:linear-gradient(#f00 0,#f00 263.5px,#ff0b00 264px,#ff0 269.2px,#4eff00 273px)"></i><i style="background:linear-gradient(#f00 0,#f00 263.5px,#ff0800 264px,#ff0 269.3px,#51ff00 273px)"></i><i style="background:linear-gradient(#f00 0,#f00 263.5px,#ff0600 264px,#ff0 269.3px,#54ff00 273px)"></i><i style="background:linear-gradient(#f00 0,#f00 263.5px,#ff0300 264px,#ff0 269.4px,#56ff00 273px)"></i><i style="background:linear-gradient(#f00 0,#ff0100 264px,#ff0 269.4px,#58ff00 273px)"></i><i style="background:linear-gradient(#f00 0,#f00 264px,#ff0 269.5px,#5aff00 273px)"></i><i style="background:linear-gradient(#f00 0,#f00 264px,#ff0 269.5px,#5cff00 273px)"></i><i style="background:linear-gradient(#f00 0,#f00 264px,#ff0 269.5px,#5eff00 273px)"></i><i style="background:linear-gradient(#f00 0,#f00 264px,#ff1000 264.5px,#ff0 269.6px,#5fff00 273px)"></i><i style="background:linear-gradient(#f00 0,#f00 264px,#ff0f00 264.5px,#ff0 269.6px,#61ff00 273px)"></i><i style="background:linear-gradient(#f00 0,#f00 264px,#ff0d00 264.5px,#ff0 269.7px,#62ff00 273px)"></i><i style="background:linear-gradient(#f00 0,#f00 264px,#ff0c00 264.5px,#ff0 269.7px,#63ff00 273px)"></i><i style="background:linear-gradient(#f00 0,#f00 264px,#ff0b00 264.5px,#ff0 269.7px,#64ff00 273px)"></i><i style="background:linear-gradient(#f00 0,#f00 264px,#ff0a00 264.5px,#ff0 269.7px,#65ff00 273px)"></i><i style="background:linear-gradient(#f00 0,#f00 264px,#ff0a00 264.5px,#ff0 269.7px,#6f0 273px)"></i><i style="background:linear-gradient(#f00 0,#f00 264px,#ff0900 264.5px,#ff0 269.7px,#6f0 273px)"></i><i style="background:linear-gradient(#f00 0,#f00 264px,#ff0900 264.5px,#ff0 269.8px,#67ff00 273px)"></i><i style="background:linear-gradient(#f00 0,#f00 264px,#ff0800 264.5px,#ff0 269.8px,#67ff00 273px)"></i><i style="background:linear-gradient(#f00 0,#f00 264px,#ff0800 264.5px,#ff0 269.8px,#67ff00 273px)"></i><i style="background:linear-gradient(#f00 0,#f00 264px,#ff0800 264.5px,#ff0 269.8px,#67ff00 273px)"></i><i style="background:linear-gradient(#f00 0,#f00 264px,#ff0800 264.5px,#ff0 269.8px,#67ff00 273px)"></i><i style="background:linear-gradient(#f00 0,#f00 264px,#ff0800 264.5px,#ff0 269.8px,#67ff00 273px)"></i><i style="background:linear-gradient(#f00 0,#f00 264px,#ff0800 264.5px,#ff0 269.8px,#67ff00 273px)"></i><i style="background:linear-gradient(#f00 0,#f00 264px,#ff0800 264.5px,#ff0 269.8px,#67ff00 273px)"></i><i style="background:linear-gradient(#f00 0,#f00 264px,#ff0800 264.5px,#ff0 269.8px,#67ff00 273px)"></i><i style="background:linear-gradient(#f00 0,#f00 264px,#ff0800 264.5px,#ff0 269.8px,#67ff00 273px)"></i><i style="background:linear-gradient(#f00 0,#f00 264px,#ff0800 264.5px,#ff0 269.8px,#67ff00 273px)"></i><i style="background:linear-gradient(#f00 0,#f00 264px,#ff0800 264.5px,#ff0 269.8px,#67ff00 273px)"></i><i style="background:linear-gradient(#f00 0,#f00 264px,#ff0800 264.5px,#ff0 269.8px,#67ff00 273px)"></i><i style="background:linear-gradient(#f00 0,#f00 264px,#ff0800 264.5px,#ff0 269.8px,#67ff00 273px)"></i><i style="background:linear-gradient(#f00 0,#f00 264px,#ff0800 264.5px,#ff0 269.8px,#67ff00 273px)"></i><i style="background:linear-gradient(#f00 0,#f00 264px,#ff0800 264.5px,#ff0 269.8px,#67ff00 273px)"></i><i style="background:linear-gradient(#f00 0,#f00 264px,#ff0800 264.5px,#ff0 269.8px,#67ff00 273px)"></i><i style="background:linear-gradient(#f00 0,#f00 264px,#ff0800 264.5px,#ff0 269.8px,#67ff00 273px)"></i><i style="background:linear-gradient(#f00 0,#f00 264px,#ff0800 264.5px,#ff0 269.8px,#67ff00 273px)"></i><i style="background:linear-gradient(#f00 0,#f00 264px,#ff0800 264.5px,#ff0 269.8px,#67ff00 273px)"></i></div><div class="p" style="left:72px;top:315px;width:545px;height:273px"><i style="background:linear-gradient(#47ff00 0,#61ff00 97.5px,#7f0 127.5px,#96ff00 150.5px,#c9ff00 170px,#ff0 181.2px,#ffed00 185px,#ffbf00 191px,#f80 196.5px,#ff4600 201.5px,#f00 205.5px,#f00 236px,#ff4d00 236.5px,#ff0 236.9px,#cfff00 237px,#0f0 237.5px,#00ff07 237.5px,#0ff 238.1px,#0069ff 238.5px,#00f 239px,#00f 243px,#0013ff 243.5px,#009dff 245.5px,#0ff 246px,#00fffa 246px,#00ff1f 246.5px,#0f0 246.6px,#adff00 247px,#ff0 247.2px,#ff9300 247.5px,#f00 248px,#f00 267.5px,#ff0 270.5px,#2aff00 273px)"></i><i style="background:linear-gradient(#47ff00 0,#60ff00 97px,#76ff00 127px,#96ff00 150px,#c8ff00 169.5px,#ff0 180.8px,#ffed00 184.5px,#ffc000 190.5px,#f80 196px,#ff4d00 200.5px,#f00 205px,#f00 234.5px,#ff1900 235px,#ff0 235.5px,#19ff00 236px,#0f0 236.1px,#0ff 236.7px,#0079ff 237px,#00f 237.5px,#00f 242.5px,#000dff 243px,#00b1ff 245.5px,#0ff 245.9px,#00ffea 246px,#00ff14 246.5px,#0f0 246.6px,#b4ff00 247px,#ff0 247.2px,#ff9000 247.5px,#f00 248px,#f00 267.5px,#ff0 270.5px,#2aff00 273px)"></i><i style="background:linear-gradient(#47ff00 0,#60ff00 97px,#7f0 127px,#96ff00 149.5px,#c9ff00 169px,#ff0 180.2px,#ffef00 183.5px,#ffc200 189.5px,#ff8b00 195px,#ff5800 199px,#f00 204.5px,#f00 233.5px,#fc0 234px,#ff0 234.1px,#0f0 234.7px,#00ff9c 235px,#0ff 235.2px,#008cff 235.5px,#00f 236px,#00f 242px,#0009ff 242.5px,#00c3ff 245.5px,#0ff 245.8px,#00ffdb 246px,#00ff0a 246.5px,#0f0 246.5px,#baff00 247px,#ff0 247.2px,#ff8c00 247.5px,#f00 248px,#f00 267.5px,#ff0 270.5px,#2aff00 273px)"></i><i style="background:linear-gradient(#47ff00 0,#60ff00 96.5px,#76ff00 126.5px,#96ff00 149px,#c9ff00 168.5px,#ff0 179.6px,#fe0 183px,#ffc000 189px,#ff8900 194.5px,#ff4c00 199px,#f00 203.5px,#f00 232px,#ff9800 232.5px,#ff0 232.7px,#0f0 233.3px,#0ff 233.8px,#00afff 234px,#00f 234.5px,#0005ff 242px,#00d2ff 245.5px,#0ff 245.7px,#00ffce 246px,#00ff01 246.5px,#0f0 246.5px,#c0ff00 247px,#ff0 247.2px,#ff8a00 247.5px,#f00 248px,#f00 267.5px,#ff0 270.5px,#2aff00 273px)"></i><i style="background:linear-gradient(#47ff00 0,#60ff00 96px,#76ff00 126px,#95ff00 148.5px,#c9ff00 168px,#ff0 178.9px,#ffed00 182.5px,#ffbf00 188.5px,#ff8c00 193.5px,#ff4800 198.5px,#ff0100 202.5px,#f00 232px,#ff9800 232.5px,#ff0 232.7px,#0f0 233.3px,#0f6 233.5px,#0ff 233.9px,#00c4ff 234px,#00f 234.5px,#0002ff 241.5px,#00e1ff 245.5px,#0ff 245.7px,#00ffc2 246px,#0f0 246.5px,#c5ff00 247px,#ff0 247.2px,#ff8a00 247.5px,#f00 248px,#f00 267.5px,#ff0 270.5px,#2aff00 273px)"></i><i style="background:linear-gradient(#47ff00 0,#60ff00 96px,#76ff00 125.5px,#95ff00 148px,#c7ff00 167px,#ff0 178.3px,#ffef00 181.5px,#ffc200 187.5px,#ff8f00 192.5px,#ff5400 197px,#f00 202px,#f00 232px,#ff9800 232.5px,#ff0 232.7px,#0f0 233.3px,#00ff50 233.5px,#0ff 233.9px,#0016ff 234.5px,#00f 235px,#00f 241px,#00edff 245.5px,#0ff 245.6px,#00ffb7 246px,#0f0 246.5px,#caff00 247px,#ff0 247.2px,#ff8a00 247.5px,#f00 248px,#f00 267.5px,#ff0 270.5px,#2aff00 273px)"></i><i style="background:linear-gradient(#47ff00 0,#60ff00 95.5px,#76ff00 125px,#95ff00 147.5px,#c7ff00 166.5px,#ff0 177.7px,#ffef00 181px,#ffc000 187px,#ff8c00 192px,#ff4800 197px,#f00 201px,#f00 230.5px,#ff6400 231px,#ff0 231.3px,#0f0 231.9px,#00ff2e 232px,#0ff 232.5px,#002cff 233px,#00f 233.5px,#00f 240.5px,#00f9ff 245.5px,#0ff 245.5px,#00ffae 246px,#0f0 246.5px,#ceff00 247px,#ff0 247.1px,#ff8a00 247.5px,#f00 248px,#f00 267.5px,#ff0 270.5px,#2aff00 273px)"></i><i style="background:linear-gradient(#47ff00 0,#60ff00 95.5px,#76ff00 125px,#95ff00 147px,#c8ff00 166px,#ff0 177px,#fe0 180.5px,#ffbe00 186.5px,#ff8a00 191.5px,#ff5400 195.5px,#f00 200.5px,#f00 229px,#ff3000 229.5px,#ff0 229.9px,#0f0 230.5px,#00ffe5 231px,#0ff 231.1px,#04f 231.5px,#00f 232px,#00f 240px,#0010ff 240.5px,#0ff 245.4px,#00fffb 245.5px,#00ffa5 246px,#0f0 246.4px,#1bff00 246.5px,#ceff00 247px,#ff0 247.1px,#ff8a00 247.5px,#f00 248px,#f00 267.5px,#ff0 270.5px,#2aff00 273px)"></i><i style="background:linear-gradient(#47ff00 0,#60ff00 95px,#76ff00 124.5px,#95ff00 146.5px,#c8ff00 165.5px,#ff0 176.4px,#ffed00 180px,#ffbd00 186px,#ff8700 191px,#ff4800 195.5px,#f00 199.5px,#f00 228px,#ff0 228.6px,#0f0 229.1px,#0ff 229.7px,#0064ff 230px,#00f 230.5px,#00f 239.5px,#000bff 240px,#0ff 245.2px,#00fff1 245.5px,#00ff9d 246px,#0f0 246.4px,#21ff00 246.5px,#ceff00 247px,#ff0 247.1px,#ff8a00 247.5px,#f00 248px,#f00 267.5px,#ff0 270.5px,#2aff00 273px)"></i><i style="background:linear-gradient(#47ff00 0,#5fff00 94.5px,#75ff00 124px,#95ff00 146px,#c8ff00 165px,#ff0 175.9px,#ffef00 179px,#ffc000 185px,#ff8b00 190px,#ff5400 194px,#f00 199px,#f00 226.5px,#ffaf00 227px,#ff0 227.2px,#0f0 227.7px,#0ff 228.3px,#0098ff 228.5px,#00f 229px,#00f 239px,#0007ff 239.5px,#0ff 245px,#00ffe9 245.5px,#00ff96 246px,#0f0 246.4px,#26ff00 246.5px,#ff0 247.2px,#ff8a00 247.5px,#f00 248px,#f00 267.5px,#ff0 270.5px,#2aff00 273px)"></i><i style="background:linear-gradient(#47ff00 0,#5fff00 94.5px,#75ff00 123.5px,#95ff00 145.5px,#c8ff00 164.5px,#ff0 175.2px,#fe0 178.5px,#ffbe00 184.5px,#f80 189.5px,#ff4900 194px,#f00 198px,#f00 226.5px,#ffaf00 227px,#ff0 227.2px,#0f0 227.7px,#0ff 228.3px,#0098ff 228.5px,#00f 229px,#0002ff 239px,#0ff 244.8px,#00ffe1 245.5px,#00ff8f 246px,#0f0 246.4px,#28ff00 246.5px,#ff0 247.1px,#ff8a00 247.5px,#f00 248px,#f00 267.5px,#ff0 270.5px,#2aff00 273px)"></i><i style="background:linear-gradient(#47ff00 0,#5fff00 94px,#75ff00 123px,#94ff00 145px,#c6ff00 163.5px,#ff0 174.7px,#fff100 177.5px,#ffc100 183.5px,#ff8c00 188.5px,#f50 192.5px,#f00 197.5px,#f00 226.5px,#ffaf00 227px,#ff0 227.2px,#0f0 227.7px,#00ff7d 228px,#0ff 228.3px,#00a8ff 228.5px,#00f 229px,#00f 238.5px,#0ff 244.6px,#00ffd9 245.5px,#00ff89 246px,#0f0 246.4px,#28ff00 246.5px,#ff0 247.1px,#ff8a00 247.5px,#f00 248px,#f00 267.5px,#ff0 270.5px,#2aff00 273px)"></i><i style="background:linear-gradient(#47ff00 0,#5fff00 94px,#75ff00 123px,#94ff00 144.5px,#c7ff00 163px,#ff0 174px,#fff000 177px,#ffc000 183px,#ff8a00 188px,#ff4a00 192.5px,#f00 196.5px,#f00 226.5px,#ffaf00 227px,#ff0 227.2px,#6cff00 227.5px,#0f0 227.8px,#0ff 228.3px,#0bf 228.5px,#00f 229px,#00f 238px,#000dff 238.5px,#0ff 244.4px,#00ffd2 245.5px,#00ff83 246px,#0f0 246.4px,#ff0 247.2px,#ff8a00 247.5px,#f00 248px,#f00 267.5px,#ff0 270.5px,#2aff00 273px)"></i><i style="background:linear-gradient(#46ff00 0,#5fff00 93px,#75ff00 122px,#93ff00 143.5px,#c7ff00 162.5px,#ff0 173.4px,#ffef00 176.5px,#ffc300 182px,#ff8e00 187px,#ff5600 191px,#f00 196px,#f00 226.5px,#ffab00 227px,#ff0 227.2px,#0f0 227.8px,#00ff61 228px,#0ff 228.4px,#00f 229px,#00f 237.5px,#0008ff 238px,#0ff 244.2px,#0fc 245.5px,#00ff7e 246px,#0f0 246.4px,#ff0 247.1px,#ff8a00 247.5px,#f00 248px,#f00 267.5px,#ff0 270.5px,#2aff00 273px)"></i><i style="background:linear-gradient(#46ff00 0,#5fff00 93px,#75ff00 122px,#94ff00 143.5px,#c7ff00 162px,#ff0 172.8px,#fe0 176px,#ffc100 181.5px,#ff8b00 186.5px,#ff4b00 191px,#f00 195px,#f00 225px,#ff7b00 225.5px,#ff0 225.8px,#0f0 226.4px,#00ff3d 226.5px,#0ff 227px,#001aff 227.5px,#00f 228px,#0004ff 237.5px,#0ff 244px,#00ffc5 245.5px,#00ff7e 246px,#0f0 246.4px,#ff0 247.1px,#ff8a00 247.5px,#f00 248px,#f00 267.5px,#ff0 270.5px,#2aff00 273px)"></i><i style="background:linear-gradient(#46ff00 0,#5fff00 93px,#75ff00 121.5px,#94ff00 143px,#c5ff00 161px,#ff0 172.3px,#fff100 175px,#ffc500 180.5px,#ff8f00 185.5px,#ff5800 189.5px,#f00 194.5px,#f00 223.5px,#ff4700 224px,#ff0 224.4px,#0f0 225px,#00ff17 225px,#0ff 225.5px,#0035ff 226px,#00f 226.5px,#00f 237px,#0ff 243.8px,#00ffc0 245.5px,#00ff7e 246px,#0f0 246.4px,#ff0 247.1px,#ff8a00 247.5px,#f00 248px,#f00 267.5px,#ff0 270.5px,#2aff00 273px)"></i><i style="background:linear-gradient(#46ff00 0,#5fff00 92.5px,#74ff00 121px,#94ff00 142.5px,#c5ff00 160.5px,#ff0 171.6px,#fff000 174.5px,#ffc300 180px,#ff8d00 185px,#ff4d00 189.5px,#ff0100 193.5px,#f00 222px,#ff1300 222.5px,#ff0 223px,#0f0 223.6px,#0ff 224.1px,#0054ff 224.5px,#00f 225px,#00f 236.5px,#0ff 243.6px,#00ffba 245.5px,#00ff7e 246px,#0f0 246.4px,#ff0 247.1px,#ff8a00 247.5px,#f00 248px,#f00 267.5px,#ff0 270.5px,#2aff00 273px)"></i><i style="background:linear-gradient(#46ff00 0,#5fff00 92.5px,#75ff00 121px,#94ff00 142px,#c7ff00 160.5px,#ff0 171px,#ffef00 174px,#ffc200 179.5px,#ff8b00 184.5px,#ff5200 188.5px,#f00 193px,#f00 221px,#ffc600 221.5px,#ff0 221.6px,#0f0 222.2px,#0ff 222.7px,#0081ff 223px,#00f 223.5px,#00f 236px,#000aff 236.5px,#0ff 243.5px,#00ffb8 245.5px,#00ff7e 246px,#0f0 246.4px,#ff0 247.1px,#ff8a00 247.5px,#f00 248px,#f00 267.5px,#ff0 270.5px,#2aff00 273px)"></i><i style="background:linear-gradient(#46ff00 0,#5fff00 92px,#75ff00 120.5px,#93ff00 141.5px,#c5ff00 159.5px,#ff0 170.5px,#fff200 173px,#ffc600 178.5px,#ff8f00 183.5px,#ff5700 187.5px,#ff0300 192px,#f00 192.5px,#f00 221px,#ffc600 221.5px,#ff0 221.6px,#0f0 222.2px,#0ff 222.7px,#0087ff 223px,#00f 223.5px,#00f 235.5px,#0007ff 236px,#0ff 243.2px,#00ffc1 245px,#00ffb8 245.5px,#00ff7e 246px,#0f0 246.4px,#ff0 247.1px,#ff8a00 247.5px,#f00 248px,#f00 267.5px,#ff0 270.5px,#2aff00 273px)"></i><i style="background:linear-gradient(#46ff00 0,#5eff00 91.5px,#74ff00 120px,#93ff00 141px,#c6ff00 159px,#ff0 169.9px,#fff200 172.5px,#ffc400 178px,#ff8e00 183px,#ff4c00 187.5px,#f00 191.5px,#f00 221px,#ffc600 221.5px,#ff0 221.6px,#51ff00 222px,#0f0 222.2px,#0ff 222.8px,#0097ff 223px,#00f 223.5px,#0003ff 235.5px,#0ff 243px,#00ffbc 245px,#00ffb8 245.5px,#00ff7e 246px,#0f0 246.4px,#ff0 247.1px,#ff8a00 247.5px,#f00 248px,#f00 267.5px,#ff0 270.5px,#2aff00 273px)"></i><i style="background:linear-gradient(#46ff00 0,#5fff00 91.5px,#74ff00 119.5px,#93ff00 140.5px,#c6ff00 158.5px,#ff0 169.3px,#fff100 172px,#ffc300 177.5px,#ff8c00 182.5px,#ff5100 186.5px,#f00 191px,#f00 221px,#ffc500 221.5px,#ff0 221.6px,#0f0 222.2px,#0ff 222.8px,#00a7ff 223px,#00f 223.5px,#00f 235px,#0ff 242.8px,#00ffb8 245px,#00ffb8 245.5px,#00ff7e 246px,#0f0 246.4px,#ff0 247.1px,#ff8a00 247.5px,#f00 248px,#f00 267.5px,#ff0 270.5px,#2aff00 273px)"></i><i style="background:linear-gradient(#46ff00 0,#5eff00 91px,#74ff00 119px,#93ff00 140px,#c6ff00 158px,#ff0 168.7px,#fff000 171.5px,#ffc200 177px,#ff8a00 182px,#ff4e00 186px,#ff0100 190px,#f00 219.5px,#ff9200 220px,#ff0 220.2px,#0f0 220.8px,#00ff5a 221px,#0ff 221.4px,#00caff 221.5px,#00f 222px,#00f 234.5px,#0ff 242.6px,#00ffc2 244.5px,#00ffb8 245.5px,#00ff7e 246px,#0f0 246.4px,#ff0 247.1px,#ff8a00 247.5px,#f00 248px,#f00 267.5px,#ff0 270.5px,#2aff00 273px)"></i><i style="background:linear-gradient(#46ff00 0,#5eff00 90.5px,#74ff00 118.5px,#93ff00 139.5px,#c6ff00 157.5px,#ff0 168.1px,#fff000 171px,#ffc100 176.5px,#ff8e00 181px,#ff5400 185px,#f00 189.5px,#f00 218px,#ff5e00 218.5px,#ff0 218.8px,#0f0 219.4px,#00ff2e 219.5px,#0ff 220px,#0015ff 220.5px,#00f 221px,#00f 234px,#0ff 242.3px,#00ffbd 244.5px,#00ffb8 245.5px,#00ff7e 246px,#0f0 246.4px,#ff0 247.1px,#ff8a00 247.5px,#f00 248px,#f00 267.5px,#ff0 270.5px,#2aff00 273px)"></i><i style="background:linear-gradient(#46ff00 0,#5eff00 90.5px,#74ff00 118px,#93ff00 139px,#c4ff00 156.5px,#ff0 167.6px,#fff300 170px,#ffc500 175.5px,#ff8d00 180.5px,#ff5200 184.5px,#f00 189px,#f00 216.5px,#ff2a00 217px,#ff0 217.5px,#0f0 218px,#0ff 218.6px,#0038ff 219px,#00f 219.5px,#00f 233.5px,#0008ff 234px,#0ff 242.2px,#00ffb8 244.5px,#00ffb8 245.5px,#00ff7e 246px,#0f0 246.4px,#ff0 247.1px,#ff8a00 247.5px,#f00 248px,#f00 267.5px,#ff0 270.5px,#2aff00 273px)"></i><i style="background:linear-gradient(#46ff00 0,#5eff00 90.5px,#74ff00 118px,#94ff00 139px,#c6ff00 156.5px,#ff0 166.9px,#fe0 170px,#ffbf00 175.5px,#ff8b00 180px,#ff4f00 184px,#f00 188px,#f00 215.5px,#fd0 216px,#ff0 216.1px,#0f0 216.6px,#0ff 217.2px,#006aff 217.5px,#00f 218px,#0006ff 233.5px,#0ff 241.9px,#00ffd1 243.5px,#00ffba 244px,#00ff0a 244.5px,#0f0 244.5px,#ff0 245.3px,#ff1600 246px,#f00 246.5px,#f00 267.5px,#ff0 270.5px,#2aff00 273px)"></i><i style="background:linear-gradient(#46ff00 0,#5eff00 90px,#74ff00 117.5px,#92ff00 138px,#c4ff00 155.5px,#ff0 166.5px,#fff100 169px,#ffc300 174.5px,#ff9000 179px,#f50 183px,#f00 187.5px,#f00 215.5px,#ff0 216.1px,#0f0 216.6px,#0ff 217.2px,#0070ff 217.5px,#00f 218px,#0004ff 233px,#0ff 241.7px,#00fff8 242px,#00ff65 242.5px,#0f0 242.8px,#ff0 243.5px,#ff4900 244px,#f00 244.5px,#f00 267.5px,#ff0 270.5px,#2aff00 273px)"></i><i style="background:linear-gradient(#46ff00 0,#5eff00 89.5px,#74ff00 117px,#92ff00 137.5px,#c4ff00 155px,#ff0 165.9px,#fff100 168.5px,#ffc200 174px,#ff8e00 178.5px,#ff5300 182.5px,#f00 187px,#f00 215.5px,#ff0 216.1px,#0f0 216.6px,#0ff 217.2px,#0082ff 217.5px,#00f 218px,#0004ff 232.5px,#00d4ff 240px,#0ff 240.2px,#00ffc8 240.5px,#0f0 241px,#ff0 241.7px,#ff8a00 242px,#f00 242.5px,#f00 267.5px,#ff0 270.5px,#2aff00 273px)"></i><i style="background:linear-gradient(#46ff00 0,#5eff00 89px,#74ff00 116.5px,#92ff00 137px,#c4ff00 154.5px,#ff0 165.3px,#fff000 168px,#ffc100 173.5px,#ff8d00 178px,#ff5100 182px,#ff0200 186px,#f00 215.5px,#ff0 216.1px,#0f0 216.7px,#0ff 217.3px,#0093ff 217.5px,#00f 218px,#0003ff 232px,#00dbff 240px,#0ff 240.2px,#00ffc2 240.5px,#0f0 241px,#ff0 241.7px,#f80 242px,#f00 242.5px,#f00 267.5px,#ff0 270.5px,#2aff00 273px)"></i><i style="background:linear-gradient(#46ff00 0,#5eff00 89px,#73ff00 116px,#92ff00 136.5px,#c4ff00 154px,#ff0 164.7px,#fff000 167.5px,#ffc000 173px,#ff8c00 177.5px,#ff4f00 181.5px,#f00 185.5px,#f00 214px,#ffa800 214.5px,#ff0 214.7px,#0f0 215.3px,#0ff 215.8px,#00baff 216px,#00f 216.5px,#0002ff 231.5px,#00e2ff 240px,#0ff 240.2px,#00ffbc 240.5px,#0f0 241px,#ff0 241.7px,#ff8700 242px,#f00 242.5px,#f00 267.5px,#ff0 270.5px,#2aff00 273px)"></i><i style="background:linear-gradient(#46ff00 0,#5eff00 89px,#74ff00 116px,#93ff00 136.5px,#c6ff00 154px,#ff0 164.2px,#ffef00 167px,#ffbf00 172.5px,#ff8a00 177px,#ff4d00 181px,#f00 185px,#f00 212.5px,#ff7400 213px,#ff0 213.3px,#0f0 213.9px,#00ff3e 214px,#0ff 214.4px,#000aff 215px,#00f 215.5px,#0001ff 231px,#00e8ff 240px,#0ff 240.1px,#00ffb6 240.5px,#0f0 241px,#ff0 241.7px,#ff8500 242px,#f00 242.5px,#f00 267.5px,#ff0 270.5px,#2aff00 273px)"></i><i style="background:linear-gradient(#46ff00 0,#5eff00 88.5px,#74ff00 115.5px,#93ff00 136px,#c6ff00 153.5px,#ff0 163.6px,#ffef00 166.5px,#ffc300 171.5px,#ff9000 176px,#ff5400 180px,#f00 184.5px,#f00 211px,#ff4000 211.5px,#ff0 211.9px,#0f0 212.5px,#00fff1 213px,#0ff 213px,#0031ff 213.5px,#00f 214px,#00f 230.5px,#0ef 240px,#0ff 240.1px,#00ffb1 240.5px,#0f0 241px,#ff0 241.7px,#ff8400 242px,#f00 242.5px,#f00 267.5px,#ff0 270.5px,#2aff00 273px)"></i><i style="background:linear-gradient(#46ff00 0,#5eff00 88px,#74ff00 115px,#93ff00 135.5px,#c6ff00 153px,#ff0 163.1px,#ffef00 166px,#ffbe00 171.5px,#f80 176px,#ff4900 180px,#ff0200 183.5px,#f00 209.5px,#ff0c00 210px,#ff0 210.5px,#0f0 211.1px,#0ff 211.6px,#005cff 212px,#00f 212.5px,#00f 230px,#00f4ff 240px,#0ff 240.1px,#00ffac 240.5px,#0f0 241px,#ff0 241.7px,#ff8300 242px,#f00 242.5px,#f00 267.5px,#ff0 270.5px,#2aff00 273px)"></i><i style="background:linear-gradient(#46ff00 0,#5eff00 88px,#74ff00 115px,#93ff00 135px,#c4ff00 152px,#ff0 162.6px,#fff200 165px,#ffc200 170.5px,#ff8e00 175px,#ff5000 179px,#f00 183px,#f00 209.5px,#ff0c00 210px,#ff0 210.5px,#0f0 211.1px,#0ff 211.7px,#0068ff 212px,#00f 212.5px,#00f 229.5px,#00faff 240px,#0ff 240px,#00ffa7 240.5px,#0f0 241px,#ff0 241.7px,#ff8100 242px,#f00 242.5px,#f00 267.5px,#ff0 270.5px,#2aff00 273px)"></i><i style="background:linear-gradient(#46ff00 0,#5eff00 87.5px,#74ff00 114.5px,#93ff00 134.5px,#c4ff00 151.5px,#ff0 162.1px,#fff200 164.5px,#ffc100 170px,#ff8d00 174.5px,#ff4f00 178.5px,#f00 182.5px,#f00 209.5px,#ff0c00 210px,#ff0 210.5px,#2dff00 211px,#0f0 211.1px,#0ff 211.7px,#0076ff 212px,#00f 212.5px,#00f 229px,#0ff 240px,#00ffa2 240.5px,#0f0 240.9px,#ff0 241.7px,#ff8000 242px,#f00 242.5px,#f00 267.5px,#ff0 270.5px,#2aff00 273px)"></i><i style="background:linear-gradient(#46ff00 0,#5eff00 87px,#74ff00 114px,#93ff00 134px,#c5ff00 151px,#ff0 161.5px,#fff100 164px,#ffc100 169.5px,#ff8c00 174px,#ff4e00 178px,#f00 182px,#f00 209.5px,#ff0c00 210px,#ff0 210.5px,#35ff00 211px,#0f0 211.1px,#0ff 211.7px,#0083ff 212px,#00f 212.5px,#00f 228.5px,#0054ff 232.5px,#0ff 239.8px,#00fffa 240px,#00ff9e 240.5px,#0f0 240.9px,#ff0 241.6px,#ff7f00 242px,#f00 242.5px,#f00 267.5px,#ff0 270.5px,#2aff00 273px)"></i><i style="background:linear-gradient(#46ff00 0,#5eff00 87px,#74ff00 113.5px,#93ff00 133.5px,#c5ff00 150.5px,#ff0 161px,#fff100 163.5px,#ffc500 168.5px,#ff9200 173px,#f50 177px,#f00 181.5px,#f00 208.5px,#ffbc00 209px,#ff0 209.2px,#0f0 209.7px,#0ff 210.3px,#0af 210.5px,#00f 211px,#00f 228px,#005cff 232.5px,#0ff 239.5px,#00fff4 240px,#0f9 240.5px,#0f0 240.9px,#ff0 241.6px,#ff7e00 242px,#f00 242.5px,#f00 267.5px,#ff0 270.5px,#2aff00 273px)"></i><i style="background:linear-gradient(#46ff00 0,#5eff00 87px,#74ff00 113.5px,#94ff00 133.5px,#c7ff00 150.5px,#ff0 160.5px,#fff100 163px,#ffc500 168px,#ff9100 172.5px,#ff5d00 176px,#f00 181px,#f00 207px,#f80 207.5px,#ff0 207.8px,#0f0 208.3px,#00ff4f 208.5px,#0ff 208.9px,#00f 209.5px,#0003ff 228px,#0ff 239.3px,#00ffef 240px,#00ff95 240.5px,#0f0 240.9px,#ff0 241.6px,#ff7c00 242px,#f00 242.5px,#f00 267.5px,#ff0 270.5px,#2aff00 273px)"></i><i style="background:linear-gradient(#46ff00 0,#5eff00 86.5px,#74ff00 113px,#94ff00 133px,#c7ff00 150px,#ff0 159.9px,#fff000 162.5px,#ffbf00 168px,#ff8a00 172.5px,#ff4a00 176.5px,#ff0200 180px,#f00 205.5px,#f50 206px,#ff0 206.4px,#0f0 206.9px,#0ff 207.5px,#0023ff 208px,#00f 208.5px,#0002ff 227.5px,#0ff 239.1px,#00ffeb 240px,#00ff91 240.5px,#0f0 240.9px,#ff0 241.6px,#ff7b00 242px,#f00 242.5px,#f00 267.5px,#ff0 270.5px,#2aff00 273px)"></i><i style="background:linear-gradient(#46ff00 0,#5eff00 86px,#74ff00 112.5px,#93ff00 132.5px,#c7ff00 149.5px,#ff0 159.4px,#fff000 162px,#ffbf00 167.5px,#ff8900 172px,#ff4900 176px,#ff0100 179.5px,#f00 204px,#f20 204.5px,#ff0 205px,#0f0 205.6px,#0ff 206.1px,#0051ff 206.5px,#00f 207px,#0001ff 227px,#0ff 238.8px,#00ffe6 240px,#00ff8d 240.5px,#0f0 240.9px,#ff0 241.6px,#ff7b00 242px,#f00 242.5px,#f00 267.5px,#ff0 270.5px,#2aff00 273px)"></i><i style="background:linear-gradient(#46ff00 0,#5fff00 86px,#75ff00 112.5px,#93ff00 132px,#c7ff00 149px,#ff0 158.9px,#fff000 161.5px,#ffbf00 167px,#f80 171.5px,#ff4900 175.5px,#f00 179px,#f00 204px,#f20 204.5px,#ff0 205px,#0f0 205.6px,#0ff 206.1px,#005aff 206.5px,#00f 207px,#00f 226.5px,#0ff 238.6px,#00ffe2 240px,#00ff89 240.5px,#0f0 240.9px,#ff0 241.6px,#ff7b00 242px,#f00 242.5px,#f00 267.5px,#ff0 270.5px,#2aff00 273px)"></i><i style="background:linear-gradient(#46ff00 0,#5fff00 85.5px,#75ff00 112px,#93ff00 131.5px,#c7ff00 148.5px,#ff0 158.4px,#fff000 161px,#ffbe00 166.5px,#f80 171px,#ff4800 175px,#f00 178.5px,#f00 204px,#ff2100 204.5px,#ff0 205px,#1cff00 205.5px,#0f0 205.6px,#0ff 206.1px,#06f 206.5px,#00f 207px,#00f 226px,#0ff 238.4px,#0fd 240px,#00ff85 240.5px,#0f0 240.9px,#dcff00 241.5px,#ff0 241.6px,#ff7b00 242px,#f00 242.5px,#f00 267.5px,#ff0 270.5px,#2aff00 273px)"></i><i style="background:linear-gradient(#46ff00 0,#5eff00 85px,#74ff00 111.5px,#93ff00 131px,#c7ff00 148px,#ff0 157.8px,#fff000 160.5px,#ffc300 165.5px,#ff8e00 170px,#ff5100 174px,#f00 178px,#f00 204px,#ff2100 204.5px,#ff0 205px,#0f0 205.6px,#0ff 206.2px,#0072ff 206.5px,#00f 207px,#00f 225.5px,#0ff 238.1px,#00ffd9 240px,#00ff82 240.5px,#0f0 240.9px,#ff0 241.6px,#ff7b00 242px,#f00 242.5px,#f00 267.5px,#ff0 270.5px,#2aff00 273px)"></i><i style="background:linear-gradient(#46ff00 0,#5fff00 85px,#74ff00 111px,#93ff00 130.5px,#c7ff00 147.5px,#ff0 157.3px,#fff000 160px,#ffc300 165px,#ff8e00 169.5px,#ff5000 173.5px,#f00 177.5px,#f00 203px,#ffcf00 203.5px,#ff0 203.6px,#0f0 204.2px,#0ff 204.8px,#009bff 205px,#00f 205.5px,#00f 225px,#005cff 230px,#0ff 237.9px,#00ffd5 240px,#00ff7e 240.5px,#0f0 240.9px,#ff0 241.6px,#ff7b00 242px,#f00 242.5px,#f00 267.5px,#ff0 270.5px,#2aff00 273px)"></i><i style="background:linear-gradient(#46ff00 0,#5fff00 85px,#75ff00 111px,#95ff00 130.5px,#c7ff00 147px,#ff0 156.8px,#fff000 159.5px,#ffc300 164.5px,#ff8e00 169px,#ff5000 173px,#f00 177px,#f00 201.5px,#ff9c00 202px,#ff0 202.2px,#0f0 202.8px,#0ff 203.4px,#00c4ff 203.5px,#00f 204px,#00f 224.5px,#0063ff 230px,#0ff 237.7px,#00ffd1 240px,#00ff7b 240.5px,#0f0 240.8px,#35ff00 241px,#ff0 241.6px,#ff7b00 242px,#f00 242.5px,#f00 267.5px,#ff0 270.5px,#2aff00 273px)"></i><i style="background:linear-gradient(#46ff00 0,#5fff00 84.5px,#75ff00 110.5px,#95ff00 130px,#c7ff00 146.5px,#ff0 156.3px,#ffef00 159px,#ffc300 164px,#ff8e00 168.5px,#ff5000 172.5px,#f00 176.5px,#f00 200px,#ff6900 200.5px,#ff0 200.8px,#0f0 201.4px,#0ff 202px,#0015ff 202.5px,#00f 203px,#00f 224px,#005fff 229.5px,#0ff 237.5px,#00ffcd 240px,#0f7 240.5px,#0f0 240.9px,#ff0 241.6px,#ff7b00 242px,#f00 242.5px,#f00 267.5px,#ff0 270.5px,#2aff00 273px)"></i><i style="background:linear-gradient(#46ff00 0,#5fff00 84.5px,#76ff00 110.5px,#96ff00 130px,#c7ff00 146px,#ff0 155.8px,#ffef00 158.5px,#ffc300 163.5px,#ff8e00 168px,#ff4f00 172px,#f00 176px,#f00 198.5px,#ff3700 199px,#ff0 199.4px,#0f0 200px,#0ff 200.6px,#0046ff 201px,#00f 201.5px,#0003ff 224px,#009eff 232.5px,#0ff 237.3px,#00ffca 240px,#00ff74 240.5px,#0f0 240.8px,#ff0 241.6px,#ff7b00 242px,#f00 242.5px,#f00 267.5px,#ff0 270.5px,#2aff00 273px)"></i><i style="background:linear-gradient(#46ff00 0,#5fff00 84px,#76ff00 110px,#96ff00 129.5px,#c7ff00 145.5px,#ff0 155.3px,#ffef00 158px,#ffc300 163px,#ff8e00 167.5px,#ff4f00 171.5px,#f00 175.5px,#f00 198.5px,#ff3600 199px,#ff0 199.4px,#0f0 200px,#0ff 200.6px,#0048ff 201px,#00f 201.5px,#0001ff 223.5px,#00a3ff 232.5px,#0ff 237.1px,#00ffc6 240px,#00ff72 240.5px,#0f0 240.8px,#ff0 241.6px,#ff7b00 242px,#f00 242.5px,#f00 267.5px,#ff0 270.5px,#2aff00 273px)"></i><i style="background:linear-gradient(#46ff00 0,#60ff00 84px,#76ff00 109.5px,#96ff00 129px,#c7ff00 145px,#ff0 154.8px,#ffef00 157.5px,#ffc300 162.5px,#ff8e00 167px,#ff4f00 171px,#f00 175px,#f00 198.5px,#ff3600 199px,#ff0 199.5px,#0f0 200px,#0ff 200.6px,#0051ff 201px,#00f 201.5px,#00f 223px,#009fff 232px,#0ff 236.9px,#00ffc3 240px,#00ff72 240.5px,#0f0 240.8px,#ff0 241.6px,#ff7b00 242px,#f00 242.5px,#f00 267.5px,#ff0 270.5px,#2aff00 273px)"></i><i style="background:linear-gradient(#47ff00 0,#60ff00 83.5px,#76ff00 109px,#96ff00 128.5px,#c9ff00 145px,#ff0 154.2px,#ffeb00 157.5px,#ffbe00 162.5px,#ff8700 167px,#ff5000 170.5px,#f00 174.5px,#f00 198.5px,#ff3600 199px,#ff0 199.5px,#0f0 200px,#0ff 200.6px,#005aff 201px,#00f 201.5px,#00f 222.5px,#00a3ff 232px,#0ff 236.7px,#00ffbf 240px,#00ff72 240.5px,#0f0 240.8px,#ff0 241.6px,#ff7b00 242px,#f00 242.5px,#f00 267.5px,#ff0 270.5px,#2aff00 273px)"></i><i style="background:linear-gradient(#47ff00 0,#60ff00 83px,#76ff00 108.5px,#96ff00 128px,#c9ff00 144.5px,#ff0 153.7px,#ffec00 157px,#ffbe00 162px,#ff8700 166.5px,#ff5000 170px,#f00 174px,#f00 198.5px,#ff3600 199px,#ff0 199.5px,#0f0 200.1px,#0ff 200.6px,#0063ff 201px,#00f 201.5px,#0004ff 222.5px,#009fff 231.5px,#0ff 236.6px,#00ffbd 240px,#00ff72 240.5px,#0f0 240.8px,#ff0 241.6px,#ff7b00 242px,#f00 242.5px,#f00 267.5px,#ff0 270.5px,#2aff00 273px)"></i><i style="background:linear-gradient(#47ff00 0,#60ff00 82.5px,#76ff00 108px,#96ff00 127.5px,#c9ff00 144px,#ff0 153.2px,#ffec00 156.5px,#ffbe00 161.5px,#ff8700 166px,#ff5000 169.5px,#f00 173.5px,#f00 198.5px,#ff3500 199px,#ff0 199.5px,#0f0 200.1px,#0ff 200.7px,#006bff 201px,#00f 201.5px,#0002ff 222px,#00a3ff 231.5px,#0ff 236.5px,#00ffbe 240px,#00ff73 240.5px,#0f0 240.8px,#ff0 241.6px,#ff7b00 242px,#f00 242.5px,#f00 267.5px,#ff0 270.5px,#2aff00 273px)"></i><i style="background:linear-gradient(#47ff00 0,#60ff00 82.5px,#76ff00 108px,#96ff00 127px,#c9ff00 143.5px,#ff0 152.7px,#ffec00 156px,#ffbe00 161px,#ff8700 165.5px,#ff4700 169.5px,#f00 173px,#f00 197px,#ff0300 197.5px,#ff0 198.1px,#0f0 198.7px,#0ff 199.3px,#0093ff 199.5px,#00f 200px,#00f 221.5px,#009fff 231px,#0ff 236.1px,#00ffbf 239.5px,#00ffbe 240px,#00ff73 240.5px,#0f0 240.8px,#ff0 241.6px,#ff7c00 242px,#f00 242.5px,#f00 267.5px,#ff0 270.5px,#2aff00 273px)"></i><i style="background:linear-gradient(#47ff00 0,#60ff00 82px,#76ff00 107.5px,#96ff00 126.5px,#c9ff00 143px,#ff0 152.2px,#ffec00 155.5px,#ffbe00 160.5px,#f80 165px,#ff4800 169px,#f00 172.5px,#f00 196px,#ffaf00 196.5px,#ff0 196.7px,#0f0 197.3px,#0ff 197.8px,#00bdff 198px,#00f 198.5px,#00f 221px,#00a3ff 231px,#0ff 235.9px,#00ffc6 239px,#00ffbe 240px,#00ff73 240.5px,#0f0 240.8px,#ff0 241.6px,#ff7c00 242px,#f00 242.5px,#f00 267.5px,#ff0 270.5px,#2aff00 273px)"></i><i style="background:linear-gradient(#47ff00 0,#60ff00 82px,#7f0 107.5px,#97ff00 126.5px,#c9ff00 142.5px,#ff0 151.7px,#ffec00 155px,#ffbe00 160px,#f80 164.5px,#ff4800 168.5px,#f00 172px,#f00 194.5px,#ff7c00 195px,#ff0 195.3px,#0f0 195.9px,#0ff 196.5px,#01f 197px,#00f 197.5px,#00f 220.5px,#009fff 230.5px,#0ff 235.7px,#00ffc3 239px,#00ffbe 240px,#00ff73 240.5px,#0f0 240.8px,#ff0 241.6px,#ff7c00 242px,#f00 242.5px,#f00 267.5px,#ff0 270.5px,#2aff00 273px)"></i><i style="background:linear-gradient(#47ff00 0,#60ff00 81.5px,#7f0 107px,#97ff00 126px,#c9ff00 142px,#ff0 151.3px,#ffec00 154.5px,#ffbf00 159.5px,#f80 164px,#ff4900 168px,#f00 171.5px,#f00 193px,#ff4a00 193.5px,#ff0 193.9px,#0f0 194.5px,#0ff 195.1px,#003fff 195.5px,#00f 196px,#00f 220px,#009bff 230px,#0ff 235.5px,#00ffc0 239px,#00ffbf 240px,#00ff73 240.5px,#0f0 240.8px,#ff0 241.6px,#ff7c00 242px,#f00 242.5px,#f00 267.5px,#ff0 270.5px,#2aff00 273px)"></i><i style="background:linear-gradient(#47ff00 0,#60ff00 81px,#7f0 106.5px,#97ff00 125.5px,#c9ff00 141.5px,#ff0 150.8px,#ffec00 154px,#ffbf00 159px,#ff8900 163.5px,#ff4900 167.5px,#ff0100 171px,#f00 193px,#ff4a00 193.5px,#ff0 193.9px,#0f0 194.5px,#0ff 195.1px,#04f 195.5px,#00f 196px,#0003ff 220px,#009fff 230px,#0ff 235.3px,#00ffc6 238.5px,#00ffbf 240px,#00ff74 240.5px,#0f0 240.8px,#ff0 241.6px,#ff7c00 242px,#f00 242.5px,#f00 267.5px,#ff0 270.5px,#2aff00 273px)"></i><i style="background:linear-gradient(#47ff00 0,#61ff00 81px,#7f0 106px,#97ff00 125px,#c9ff00 141px,#ff0 150.3px,#ffec00 153.5px,#ffbf00 158.5px,#ff8900 163px,#ff4a00 167px,#ff0200 170.5px,#f00 193px,#ff4a00 193.5px,#ff0 193.9px,#0f0 194.5px,#0ff 195.1px,#004eff 195.5px,#00f 196px,#0002ff 219.5px,#009cff 229.5px,#0ff 235.1px,#0fc 238px,#0fa 238.5px,#0f0 239px,#ff0 239.8px,#ff0700 240.5px,#f00 241px,#f00 267.5px,#ff0 270.5px,#2aff00 273px)"></i><i style="background:linear-gradient(#47ff00 0,#61ff00 80.5px,#7f0 105.5px,#97ff00 124.5px,#c9ff00 140.5px,#ff0 149.8px,#ffed00 153px,#ffbf00 158px,#ff8a00 162.5px,#f00 170.5px,#f00 193px,#ff4a00 193.5px,#ff0 193.9px,#0f0 194.5px,#0ff 195.1px,#0057ff 195.5px,#00f 196px,#0001ff 219px,#00a0ff 229.5px,#0ff 235px,#00ffe4 236.5px,#00ff48 237px,#0f0 237.2px,#ff0 237.9px,#ff3900 238.5px,#f00 239px,#f00 267.5px,#ff0 270.5px,#2aff00 273px)"></i><i style="background:linear-gradient(#47ff00 0,#61ff00 80px,#7f0 105px,#97ff00 124px,#c9ff00 140px,#ff0 149.4px,#ffed00 152.5px,#ffc000 157.5px,#ff8a00 162px,#ff5400 165.5px,#f00 170px,#f00 193px,#ff4800 193.5px,#ff0 193.9px,#0f0 194.5px,#0ff 195.1px,#0060ff 195.5px,#00f 196px,#00f 218.5px,#005dff 225px,#00faff 234.5px,#0ff 234.5px,#00ff98 235px,#0f0 235.4px,#ff0 236.1px,#ff7400 236.5px,#f00 237px,#f00 267.5px,#ff0 270.5px,#2aff00 273px)"></i><i style="background:linear-gradient(#47ff00 0,#61ff00 80px,#78ff00 105px,#98ff00 124px,#cbff00 140px,#ff0 148.9px,#ffed00 152px,#ffc000 157px,#ff8b00 161.5px,#f50 165px,#f00 169.5px,#f00 191.5px,#ff1800 192px,#ff0 192.5px,#0f0 193.1px,#0ff 193.7px,#0089ff 194px,#00f 194.5px,#00f 218px,#005aff 224.5px,#00fdff 234.5px,#0ff 234.5px,#00ff96 235px,#0f0 235.4px,#ff0 236.1px,#ff7300 236.5px,#f00 237px,#f00 267.5px,#ff0 270.5px,#2aff00 273px)"></i><i style="background:linear-gradient(#47ff00 0,#61ff00 80px,#78ff00 105px,#98ff00 123.5px,#cbff00 139.5px,#ff0 148.5px,#ffed00 151.5px,#ffc100 156.5px,#ff8b00 161px,#ff5600 164.5px,#f00 169px,#f00 190.5px,#ffc100 191px,#ff0 191.1px,#0f0 191.7px,#0ff 192.3px,#00b3ff 192.5px,#00f 193px,#00f 217.5px,#005fff 224.5px,#0ff 234.4px,#00fffe 234.5px,#00ff93 235px,#0f0 235.4px,#ff0 236.1px,#ff7300 236.5px,#f00 237px,#f00 267.5px,#ff0 270.5px,#2aff00 273px)"></i><i style="background:linear-gradient(#47ff00 0,#62ff00 80px,#79ff00 105px,#9f0 123.5px,#cdff00 139.5px,#ff0 147.9px,#ffea00 151.5px,#ffbc00 156.5px,#ff8c00 160.5px,#ff4e00 164.5px,#f00 168.5px,#f00 189px,#ff8f00 189.5px,#ff0 189.8px,#0f0 190.3px,#0ff 190.9px,#0009ff 191.5px,#00f 192px,#00f 217px,#005cff 224px,#0ff 234.2px,#00fffb 234.5px,#00ff90 235px,#0f0 235.4px,#ff0 236.1px,#ff7200 236.5px,#f00 237px,#f00 267.5px,#ff0 270.5px,#2aff00 273px)"></i><i style="background:linear-gradient(#48ff00 0,#62ff00 79.5px,#79ff00 104.5px,#9f0 123px,#cdff00 139px,#ff0 147.5px,#ffea00 151px,#ffbc00 156px,#ff8600 160.5px,#ff4f00 164px,#f00 168px,#f00 187.5px,#ff5e00 188px,#ff0 188.4px,#0f0 189px,#0ff 189.5px,#0037ff 190px,#00f 190.5px,#0002ff 217px,#009bff 228px,#0ff 234.1px,#00fff8 234.5px,#00ff8e 235px,#0f0 235.4px,#ff0 236.1px,#ff7100 236.5px,#f00 237px,#f00 267.5px,#ff0 270.5px,#2aff00 273px)"></i><i style="background:linear-gradient(#48ff00 0,#62ff00 79px,#79ff00 104px,#9f0 122.5px,#cf0 138.5px,#ff0 147px,#ffea00 150.5px,#ffbd00 155.5px,#ff8600 160px,#ff4f00 163.5px,#f00 167.5px,#f00 187.5px,#ff5e00 188px,#ff0 188.4px,#0f0 189px,#0ff 189.5px,#003bff 190px,#00f 190.5px,#00f 216.5px,#009fff 228px,#0ff 233.9px,#00fff5 234.5px,#00ff8b 235px,#0f0 235.4px,#ff0 236.1px,#ff7100 236.5px,#f00 237px,#f00 267.5px,#ff0 270.5px,#2aff00 273px)"></i><i style="background:linear-gradient(#48ff00 0,#62ff00 78.5px,#79ff00 103.5px,#9f0 122px,#cf0 138px,#ff0 146.6px,#ffeb00 150px,#ffbd00 155px,#ff8700 159.5px,#ff4700 163.5px,#f00 167px,#f00 187.5px,#ff5d00 188px,#ff0 188.4px,#0f0 189px,#0ff 189.6px,#0042ff 190px,#00f 190.5px,#00f 216px,#009bff 227.5px,#0ff 233.7px,#00fff2 234.5px,#00ff89 235px,#0f0 235.4px,#ff0 236.1px,#ff7000 236.5px,#f00 237px,#f00 267.5px,#ff0 270.5px,#2aff00 273px)"></i><i style="background:linear-gradient(#48ff00 0,#62ff00 78.5px,#79ff00 103px,#9f0 121.5px,#cf0 137.5px,#ff0 146.1px,#ffeb00 149.5px,#ffbe00 154.5px,#f80 159px,#ff4800 163px,#f00 166.5px,#f00 187.5px,#ff5d00 188px,#ff0 188.4px,#0f0 189px,#0ff 189.6px,#0049ff 190px,#00f 190.5px,#00f 215.5px,#005eff 223px,#0ff 233.5px,#00ffef 234.5px,#00ff87 235px,#0f0 235.4px,#ff0 236.1px,#ff6f00 236.5px,#f00 237px,#f00 267.5px,#ff0 270.5px,#2aff00 273px)"></i><i style="background:linear-gradient(#48ff00 0,#62ff00 78.5px,#79ff00 103px,#9aff00 121.5px,#ceff00 137.5px,#ff0 145.6px,#ffe800 149.5px,#ffb900 154.5px,#f80 158.5px,#ff4900 162.5px,#ff0100 166px,#f00 187.5px,#ff5d00 188px,#ff0 188.4px,#0f0 189px,#0ff 189.6px,#0050ff 190px,#00f 190.5px,#0002ff 215.5px,#009aff 227px,#0ff 233.4px,#00ffed 234.5px,#00ff84 235px,#0f0 235.4px,#ff0 236.1px,#ff6f00 236.5px,#f00 237px,#f00 267.5px,#ff0 270.5px,#2aff00 273px)"></i><i style="background:linear-gradient(#48ff00 0,#62ff00 78px,#79ff00 102.5px,#9aff00 121px,#ceff00 137px,#ff0 145.2px,#ffe800 149px,#ffba00 154px,#ff8900 158px,#ff4a00 162px,#ff0200 165.5px,#f00 187.5px,#ff5b00 188px,#ff0 188.4px,#0f0 189px,#0ff 189.6px,#0057ff 190px,#00f 190.5px,#00f 215px,#009dff 227px,#0ff 233.2px,#00ffea 234.5px,#00ff82 235px,#0f0 235.4px,#ff0 236.1px,#ff6e00 236.5px,#f00 237px,#f00 267.5px,#ff0 270.5px,#2aff00 273px)"></i><i style="background:linear-gradient(#48ff00 0,#62ff00 77.5px,#79ff00 102px,#9f0 120.5px,#cdff00 136.5px,#ff0 144.7px,#ffe800 148.5px,#ffba00 153.5px,#ff8a00 157.5px,#ff5400 161px,#f00 165.5px,#f00 186px,#ff2b00 186.5px,#ff0 187px,#0f0 187.6px,#0ff 188.2px,#0080ff 188.5px,#00f 189px,#00f 214.5px,#09f 226.5px,#0ff 233px,#00ffe8 234.5px,#00ff80 235px,#0f0 235.4px,#ff0 236.1px,#ff6d00 236.5px,#f00 237px,#f00 267.5px,#ff0 270.5px,#2aff00 273px)"></i><i style="background:linear-gradient(#48ff00 0,#62ff00 77.5px,#7aff00 102px,#9aff00 120.5px,#cdff00 136px,#ff0 144.3px,#ffe900 148px,#fb0 153px,#ff8b00 157px,#f50 160.5px,#f00 165px,#f00 185px,#ff0 185.6px,#0f0 186.2px,#0ff 186.8px,#0af 187px,#00f 187.5px,#00f 214px,#009cff 226.5px,#0ff 232.9px,#00ffe5 234.5px,#00ff7e 235px,#0f0 235.4px,#ff0 236.1px,#ff6d00 236.5px,#f00 237px,#f00 267.5px,#ff0 270.5px,#2aff00 273px)"></i><i style="background:linear-gradient(#48ff00 0,#63ff00 77.5px,#79ff00 101.5px,#9aff00 120px,#cdff00 135.5px,#ff0 143.9px,#ffe900 147.5px,#fb0 152.5px,#ff8b00 156.5px,#ff5600 160px,#f00 164.5px,#f00 183.5px,#ffa100 184px,#ff0 184.2px,#0f0 184.8px,#0ff 185.4px,#0001ff 186px,#00f 186.5px,#0002ff 214px,#0098ff 226px,#0ff 232.7px,#00ffe3 234.5px,#00ff7c 235px,#0f0 235.4px,#ff0 236.1px,#ff6c00 236.5px,#f00 237px,#f00 267.5px,#ff0 270.5px,#2aff00 273px)"></i><i style="background:linear-gradient(#48ff00 0,#63ff00 77.5px,#7aff00 101.5px,#9bff00 120px,#cfff00 135.5px,#ff0 143.5px,#ffea00 147px,#ffbc00 152px,#ff8c00 156px,#ff4e00 160px,#f00 164px,#f00 182px,#ff7000 182.5px,#ff0 182.8px,#0f0 183.4px,#0ff 184px,#0032ff 184.5px,#00f 185px,#00f 213.5px,#009bff 226px,#0ff 232.5px,#00ffe1 234.5px,#00ff7a 235px,#0f0 235.3px,#ff0 236.1px,#ff6c00 236.5px,#f00 237px,#f00 267.5px,#ff0 270.5px,#2aff00 273px)"></i><i style="background:linear-gradient(#48ff00 0,#63ff00 77px,#7aff00 101px,#9bff00 119.5px,#ceff00 135px,#ff0 143px,#ffe600 147px,#ffb700 152px,#ff8600 156px,#ff4f00 159.5px,#f00 163.5px,#f00 182px,#ff7000 182.5px,#ff0 182.8px,#0f0 183.4px,#0ff 184px,#0034ff 184.5px,#00f 185px,#00f 213px,#009eff 226px,#0ff 232.4px,#00ffde 234.5px,#00ff78 235px,#0f0 235.3px,#ff0 236.1px,#ff6c00 236.5px,#f00 237px,#f00 267.5px,#ff0 270.5px,#2aff00 273px)"></i><i style="background:linear-gradient(#48ff00 0,#63ff00 76.5px,#7aff00 100.5px,#9bff00 119px,#ceff00 134.5px,#ff0 142.5px,#ffe700 146.5px,#ffb800 151.5px,#ff8700 155.5px,#ff5000 159px,#f00 163px,#f00 182px,#ff7000 182.5px,#ff0 182.8px,#0f0 183.4px,#0ff 184px,#0038ff 184.5px,#00f 185px,#0002ff 213px,#009aff 225.5px,#0ff 232.2px,#00ffdc 234.5px,#00ff76 235px,#0f0 235.3px,#ff0 236.1px,#ff6c00 236.5px,#f00 237px,#f00 267.5px,#ff0 270.5px,#2aff00 273px)"></i><i style="background:linear-gradient(#48ff00 0,#63ff00 76.5px,#7aff00 100.5px,#9aff00 118.5px,#ceff00 134px,#ff0 142.1px,#ffe800 146px,#ffb900 151px,#ff8700 155px,#ff4800 159px,#f00 162.5px,#f00 182px,#ff6f00 182.5px,#ff0 182.8px,#0f0 183.4px,#0ff 184px,#003eff 184.5px,#00f 185px,#0001ff 212.5px,#009cff 225.5px,#0ff 232.1px,#00ffda 234.5px,#00ff74 235px,#0f0 235.3px,#ff0 236.1px,#ff6c00 236.5px,#f00 237px,#f00 267.5px,#ff0 270.5px,#2aff00 273px)"></i><i style="background:linear-gradient(#48ff00 0,#63ff00 76px,#7aff00 100px,#9aff00 118px,#cdff00 133.5px,#ff0 141.7px,#ffe800 145.5px,#ffb900 150.5px,#f80 154.5px,#ff4800 158.5px,#f00 162px,#f00 182px,#ff6f00 182.5px,#ff0 182.8px,#0f0 183.4px,#0ff 184.1px,#0043ff 184.5px,#00f 185px,#00f 212px,#0098ff 225px,#0ff 231.9px,#00ffd8 234.5px,#00ff72 235px,#0f0 235.3px,#ff0 236.1px,#ff6c00 236.5px,#f00 237px,#f00 267.5px,#ff0 270.5px,#2aff00 273px)"></i><i style="background:linear-gradient(#48ff00 0,#63ff00 75.5px,#7aff00 99.5px,#9aff00 117.5px,#cdff00 133px,#ff0 141.3px,#ffe900 145px,#ffba00 150px,#ff8900 154px,#ff4900 158px,#ff0100 161.5px,#f00 182px,#ff6f00 182.5px,#ff0 182.8px,#0f0 183.5px,#0ff 184.1px,#0049ff 184.5px,#00f 185px,#0003ff 212px,#009bff 225px,#0ff 231.7px,#00ffd6 234.5px,#00ff71 235px,#0f0 235.3px,#ff0 236.1px,#ff6c00 236.5px,#f00 237px,#f00 267.5px,#ff0 270.5px,#2aff00 273px)"></i><i style="background:linear-gradient(#48ff00 0,#62ff00 75px,#79ff00 99px,#9aff00 117px,#cf0 132.5px,#ff0 140.9px,#ffe900 144.5px,#fb0 149.5px,#ff8a00 153.5px,#ff4a00 157.5px,#ff0200 161px,#f00 182px,#ff6e00 182.5px,#ff0 182.8px,#0f0 183.5px,#0ff 184.1px,#004fff 184.5px,#00f 185px,#0001ff 211.5px,#0097ff 224.5px,#0ff 231.6px,#00ffd4 234.5px,#00ff6f 235px,#0f0 235.3px,#ff0 236.1px,#ff6d00 236.5px,#f00 237px,#f00 267.5px,#ff0 270.5px,#2aff00 273px)"></i><i style="background:linear-gradient(#48ff00 0,#63ff00 75.5px,#7aff00 99px,#9aff00 117px,#ceff00 132.5px,#ff0 140.5px,#ffea00 144px,#fb0 149px,#ff8b00 153px,#ff5400 156.5px,#ff0300 160.5px,#f00 161px,#f00 182px,#ff6d00 182.5px,#ff0 182.9px,#0f0 183.5px,#0ff 184.1px,#0054ff 184.5px,#00f 185px,#00f 211px,#009aff 224.5px,#0ff 231.4px,#00ffd2 234.5px,#00ff6d 235px,#0f0 235.3px,#ff0 236.1px,#ff6d00 236.5px,#f00 237px,#f00 267.5px,#ff0 270.5px,#2aff00 273px)"></i><i style="background:linear-gradient(#48ff00 0,#63ff00 75px,#7aff00 98.5px,#9aff00 116.5px,#ceff00 132px,#ff0 140.1px,#ffeb00 143.5px,#ffbc00 148.5px,#ff8b00 152.5px,#f50 156px,#f00 160.5px,#f00 180.5px,#ff3e00 181px,#ff0 181.5px,#0f0 182.1px,#0ff 182.7px,#007dff 183px,#00f 183.5px,#00f 210.5px,#009cff 224.5px,#0ff 231.3px,#00ffd0 234.5px,#00ff6c 235px,#0f0 235.3px,#ff0 236.1px,#ff6d00 236.5px,#f00 237px,#f00 267.5px,#ff0 270.5px,#2aff00 273px)"></i><i style="background:linear-gradient(#48ff00 0,#63ff00 75px,#7aff00 98.5px,#9bff00 116.5px,#d0ff00 132px,#ff0 139.6px,#ffe700 143.5px,#ffb700 148.5px,#ff8500 152.5px,#f00 160px,#f00 179px,#ff0e00 179.5px,#ff0 180.1px,#0f0 180.7px,#0ff 181.3px,#00a7ff 181.5px,#00f 182px,#0002ff 210.5px,#09f 224px,#0ff 231.1px,#00ffce 234.5px,#00ff6a 235px,#0f0 235.3px,#ff0 236.1px,#ff6d00 236.5px,#f00 237px,#f00 267.5px,#ff0 270.5px,#2aff00 273px)"></i><i style="background:linear-gradient(#48ff00 0,#63ff00 74.5px,#7aff00 98px,#9bff00 116px,#cfff00 131.5px,#ff0 139.2px,#ffe800 143px,#ffb800 148px,#ff8600 152px,#ff4e00 155.5px,#f00 159.5px,#f00 178px,#ffb100 178.5px,#ff0 178.7px,#0f0 179.3px,#0ff 179.9px,#0004ff 180.5px,#00f 181px,#0001ff 210px,#009bff 224px,#0ff 231px,#0fc 234.5px,#00ff69 235px,#0f0 235.3px,#ff0 236.1px,#ff6d00 236.5px,#f00 237px,#f00 267.5px,#ff0 270.5px,#2aff00 273px)"></i><i style="background:linear-gradient(#48ff00 0,#63ff00 74.5px,#7aff00 98px,#9cff00 116px,#cfff00 131px,#ff0 138.8px,#ffe800 142.5px,#ffb900 147.5px,#ff8700 151.5px,#ff4f00 155px,#f00 159px,#f00 176.5px,#ff8200 177px,#ff0 177.3px,#0f0 177.9px,#0ff 178.5px,#0031ff 179px,#00f 179.5px,#00f 209.5px,#0098ff 223.5px,#0ff 230.8px,#00ffca 234.5px,#00ff69 235px,#0f0 235.3px,#ff0 236.1px,#ff6d00 236.5px,#f00 237px,#f00 267.5px,#ff0 270.5px,#2aff00 273px)"></i><i style="background:linear-gradient(#48ff00 0,#63ff00 74.5px,#7bff00 98px,#9bff00 115.5px,#ceff00 130.5px,#ff0 138.4px,#ffe900 142px,#ffba00 147px,#f80 151px,#ff5000 154.5px,#f00 158.5px,#f00 176.5px,#ff8100 177px,#ff0 177.3px,#0f0 177.9px,#0ff 178.5px,#0035ff 179px,#00f 179.5px,#00f 209px,#009aff 223.5px,#0ff 230.6px,#00ffc8 234.5px,#00ff69 235px,#0f0 235.3px,#ff0 236.1px,#ff6d00 236.5px,#f00 237px,#f00 267.5px,#ff0 270.5px,#2aff00 273px)"></i><i style="background:linear-gradient(#48ff00 0,#63ff00 74px,#7bff00 97.5px,#9bff00 115px,#ceff00 130px,#ff0 138.1px,#ffea00 141.5px,#fb0 146.5px,#ff8900 150.5px,#ff4800 154.5px,#f00 158px,#f00 176.5px,#ff8100 177px,#ff0 177.3px,#0f0 177.9px,#0ff 178.5px,#003bff 179px,#00f 179.5px,#00f 208.5px,#0097ff 223px,#0ff 230.5px,#00ffc7 234.5px,#00ff69 235px,#0f0 235.3px,#ff0 236.1px,#ff6d00 236.5px,#f00 237px,#f00 267.5px,#ff0 270.5px,#2aff00 273px)"></i><i style="background:linear-gradient(#48ff00 0,#63ff00 73.5px,#7aff00 97px,#9aff00 114.5px,#cfff00 130px,#ff0 137.6px,#ffe600 141.5px,#ffb600 146.5px,#ff8300 150.5px,#ff4900 154px,#f00 157.5px,#f00 176.5px,#ff8000 177px,#ff0 177.3px,#0f0 177.9px,#0ff 178.5px,#0041ff 179px,#00f 179.5px,#00f 208px,#0056ff 217px,#009aff 223px,#0ff 230.4px,#00ffc6 234.5px,#00ff69 235px,#0f0 235.3px,#ff0 236.1px,#ff6d00 236.5px,#f00 237px,#f00 267.5px,#ff0 270.5px,#2aff00 273px)"></i><i style="background:linear-gradient(#48ff00 0,#63ff00 73.5px,#7bff00 97px,#9bff00 114.5px,#cfff00 129.5px,#ff0 137.2px,#ffe700 141px,#ffb700 146px,#ff8400 150px,#ff4a00 153.5px,#f00 157px,#f00 176.5px,#ff8000 177px,#ff0 177.3px,#0f0 177.9px,#0ff 178.6px,#0047ff 179px,#00f 179.5px,#0002ff 208px,#0097ff 222.5px,#0ff 230.3px,#00ffc7 234.5px,#00ff6a 235px,#0f0 235.3px,#ff0 236.1px,#ff6d00 236.5px,#f00 237px,#f00 267.5px,#ff0 270.5px,#2aff00 273px)"></i><i style="background:linear-gradient(#48ff00 0,#63ff00 73.5px,#7aff00 96.5px,#9bff00 114px,#ceff00 129px,#ff0 136.8px,#ffe800 140.5px,#ffb800 145.5px,#ff8500 149.5px,#ff4c00 153px,#ff0200 156.5px,#f00 176.5px,#ff7e00 177px,#ff0 177.3px,#0f0 177.9px,#0ff 178.6px,#004dff 179px,#00f 179.5px,#0002ff 207.5px,#09f 222.5px,#0ff 230.2px,#00ffc7 234.5px,#00ff6a 235px,#0f0 235.3px,#ff0 236.1px,#ff6d00 236.5px,#f00 237px,#f00 267.5px,#ff0 270.5px,#2aff00 273px)"></i><i style="background:linear-gradient(#48ff00 0,#63ff00 73px,#7aff00 96px,#9bff00 113.5px,#ceff00 128.5px,#ff0 136.4px,#ffe900 140px,#ff8d00 148.5px,#ff5600 152px,#ff0300 156px,#f00 156.5px,#f00 175px,#ff5000 175.5px,#ff0 175.9px,#0f0 176.5px,#0ff 177.2px,#0078ff 177.5px,#00f 178px,#0001ff 207px,#0096ff 222px,#0ff 229.8px,#00ffc7 234px,#00ffc7 234.5px,#00ff6a 235px,#0f0 235.3px,#ff0 236.1px,#ff6d00 236.5px,#f00 237px,#f00 267.5px,#ff0 270.5px,#2aff00 273px)"></i><i style="background:linear-gradient(#48ff00 0,#63ff00 73px,#7aff00 96px,#9bff00 113.5px,#cdff00 128px,#ff0 136px,#ffea00 139.5px,#ffba00 144.5px,#ff8700 148.5px,#f00 156px,#f00 173.5px,#ff2100 174px,#ff0 174.5px,#0f0 175.2px,#0ff 175.8px,#00a3ff 176px,#00f 176.5px,#00f 206.5px,#009aff 222px,#0ff 229.6px,#00ffcb 233.5px,#00ffc6 234.5px,#00ff69 235px,#0f0 235.3px,#ff0 236.1px,#ff6d00 236.5px,#f00 237px,#f00 267.5px,#ff0 270.5px,#2aff00 273px)"></i><i style="background:linear-gradient(#48ff00 0,#63ff00 73px,#7bff00 96px,#9cff00 113.5px,#cfff00 128px,#ff0 135.6px,#ffe600 139.5px,#ffba00 144px,#f80 148px,#ff4f00 151.5px,#f00 155.5px,#f00 172.5px,#ffc100 173px,#ff0 173.2px,#0f0 173.8px,#0ff 174.4px,#0004ff 175px,#00f 175.5px,#00f 206px,#005bff 216px,#0097ff 221.5px,#0ff 229.4px,#00ffc9 233.5px,#00ffc6 234.5px,#00ff69 235px,#0f0 235.3px,#ff0 236.1px,#ff6d00 236.5px,#f00 237px,#f00 267.5px,#ff0 270.5px,#2aff00 273px)"></i><i style="background:linear-gradient(#48ff00 0,#63ff00 72.5px,#7bff00 95.5px,#9cff00 113px,#ceff00 127.5px,#ff0 135.2px,#ffe700 139px,#fb0 143.5px,#ff8900 147.5px,#ff5000 151px,#f00 155px,#f00 171px,#ff9200 171.5px,#ff0 171.8px,#0f0 172.4px,#0ff 173px,#0031ff 173.5px,#00f 174px,#0002ff 206px,#009bff 221.5px,#0ff 229.2px,#00ffc6 233.5px,#00ffc6 234.5px,#00ff69 235px,#0f0 235.3px,#ff0 236.1px,#ff6d00 236.5px,#f00 237px,#f00 267.5px,#ff0 270.5px,#2aff00 273px)"></i><i style="background:linear-gradient(#48ff00 0,#63ff00 72.5px,#7aff00 95px,#9bff00 112.5px,#ceff00 127px,#ff0 134.8px,#ffe800 138.5px,#ffbc00 143px,#ff8a00 147px,#ff5200 150.5px,#f00 154.5px,#f00 171px,#ff9100 171.5px,#ff0 171.8px,#0f0 172.4px,#0ff 173px,#0036ff 173.5px,#00f 174px,#0001ff 205.5px,#005dff 215.5px,#009eff 221.5px,#0ff 229px,#00ffca 233px,#00ffc5 234.5px,#00ff68 235px,#0f0 235.3px,#ff0 236.1px,#ff6d00 236.5px,#f00 237px,#f00 267.5px,#ff0 270.5px,#2aff00 273px)"></i><i style="background:linear-gradient(#48ff00 0,#63ff00 72.5px,#7bff00 95px,#9cff00 112.5px,#cfff00 127px,#ff0 134.5px,#ffe900 138px,#ffb800 143px,#ff8400 147px,#ff4a00 150.5px,#f00 154px,#f00 171px,#ff9000 171.5px,#ff0 171.8px,#0f0 172.4px,#0ff 173px,#003cff 173.5px,#00f 174px,#00f 205px,#005bff 215px,#009bff 221px,#0ff 228.7px,#00ffcf 232.5px,#00ff9e 233px,#0f0 233.5px,#ff0 234.2px,#ff9f00 234.5px,#f00 235px,#f00 267.5px,#ff0 270.5px,#2aff00 273px)"></i><i style="background:linear-gradient(#48ff00 0,#63ff00 72px,#7aff00 94.5px,#9cff00 112px,#cfff00 126.5px,#ff0 134px,#ffe500 138px,#ffb900 142.5px,#ff8500 146.5px,#ff4b00 150px,#f00 153.5px,#f00 171px,#ff8f00 171.5px,#ff0 171.8px,#0f0 172.4px,#0ff 173px,#0042ff 173.5px,#00f 174px,#00f 204.5px,#0059ff 214.5px,#09f 220.5px,#0ff 228.5px,#00ffdf 231px,#0f0 231.6px,#ff0 232.4px,#ff2900 233px,#f00 233.5px,#f00 267.5px,#ff0 270.5px,#2aff00 273px)"></i><i style="background:linear-gradient(#48ff00 0,#63ff00 71.5px,#7aff00 94px,#9bff00 111.5px,#ceff00 126px,#ff0 133.6px,#ffe600 137.5px,#ffba00 142px,#ff8600 146px,#ff4c00 149.5px,#ff0100 153px,#f00 171px,#ff8e00 171.5px,#ff0 171.8px,#0f0 172.4px,#0ff 173px,#0048ff 173.5px,#00f 174px,#0002ff 204.5px,#0061ff 215px,#00a2ff 221px,#0ff 228.3px,#00fff6 229px,#00ff7c 229.5px,#0f0 229.8px,#ff0 230.6px,#ff6200 231px,#f00 231.5px,#f00 267.5px,#ff0 270.5px,#2aff00 273px)"></i><i style="background:linear-gradient(#48ff00 0,#63ff00 71.5px,#7aff00 94px,#9bff00 111px,#cdff00 125.5px,#ff0 133.3px,#ffe700 137px,#fb0 141.5px,#f80 145.5px,#ff4e00 149px,#ff0200 152.5px,#f00 171px,#ff8e00 171.5px,#ff0 171.8px,#0f0 172.4px,#0ff 173.1px,#004eff 173.5px,#00f 174px,#00f 204px,#005fff 214.5px,#009fff 220.5px,#0ff 228.1px,#00fff3 229px,#00ff7a 229.5px,#0f0 229.8px,#ff0 230.6px,#ff6100 231px,#f00 231.5px,#f00 267.5px,#ff0 270.5px,#2aff00 273px)"></i><i style="background:linear-gradient(#48ff00 0,#63ff00 71px,#7aff00 93.5px,#9aff00 110.5px,#cdff00 125px,#ff0 132.9px,#ffe800 136.5px,#ffbc00 141px,#ff8900 145px,#ff5800 148px,#f00 152.5px,#f00 171px,#ff8c00 171.5px,#ff0 171.8px,#0f0 172.4px,#0ff 173.1px,#0054ff 173.5px,#00f 174px,#00f 203.5px,#0062ff 214.5px,#00a2ff 220.5px,#0ff 227.8px,#00fff0 229px,#00ff78 229.5px,#0f0 229.8px,#ff0 230.6px,#ff6000 231px,#f00 231.5px,#f00 267.5px,#ff0 270.5px,#2aff00 273px)"></i><i style="background:linear-gradient(#48ff00 0,#63ff00 71px,#7aff00 93.5px,#9bff00 110.5px,#ceff00 125px,#ff0 132.6px,#ffe900 136px,#ffbd00 140.5px,#ff8a00 144.5px,#ff5100 148px,#f00 152px,#f00 171px,#ff8b00 171.5px,#ff0 171.8px,#0f0 172.4px,#0ff 173.1px,#0059ff 173.5px,#00f 174px,#0002ff 203.5px,#0060ff 214px,#00a0ff 220px,#0ff 227.6px,#0fe 229px,#00ff75 229.5px,#0f0 229.8px,#ff0 230.6px,#ff6000 231px,#f00 231.5px,#f00 267.5px,#ff0 270.5px,#2aff00 273px)"></i><i style="background:linear-gradient(#48ff00 0,#63ff00 70.5px,#7aff00 93px,#9bff00 110px,#ceff00 124.5px,#ff0 132.2px,#ffea00 135.5px,#ffbe00 140px,#ff8b00 144px,#ff5200 147.5px,#f00 151.5px,#f00 169.5px,#ff5e00 170px,#ff0 170.4px,#0f0 171px,#0ff 171.7px,#0084ff 172px,#00f 172.5px,#0001ff 203px,#0063ff 214px,#00a3ff 220px,#0ff 227.4px,#00ffeb 229px,#00ff73 229.5px,#0f0 229.8px,#ff0 230.5px,#ff5f00 231px,#f00 231.5px,#f00 267.5px,#ff0 270.5px,#2aff00 273px)"></i><i style="background:linear-gradient(#48ff00 0,#63ff00 70.5px,#7aff00 93px,#9bff00 110px,#cfff00 124.5px,#ff0 131.8px,#ffe700 135.5px,#ffba00 140px,#ff8500 144px,#ff4a00 147.5px,#f00 151px,#f00 168px,#ff3000 168.5px,#ff0 169px,#0f0 169.7px,#0ff 170.3px,#00afff 170.5px,#00f 171px,#00f 202.5px,#0061ff 213.5px,#00a0ff 219.5px,#0ff 227.2px,#00ffe9 229px,#00ff71 229.5px,#0f0 229.8px,#ff0 230.5px,#ff5f00 231px,#f00 231.5px,#f00 267.5px,#ff0 270.5px,#2aff00 273px)"></i><i style="background:linear-gradient(#48ff00 0,#63ff00 71px,#7bff00 93px,#9cff00 110px,#cfff00 124px,#ff0 131.4px,#ffe800 135px,#fb0 139.5px,#ff8700 143.5px,#ff4c00 147px,#f00 150.5px,#f00 166.5px,#ff0300 167px,#ff0 167.6px,#0f0 168.3px,#0ff 168.9px,#0015ff 169.5px,#00f 170px,#00f 202px,#0064ff 213.5px,#00a3ff 219.5px,#0ff 227px,#00ffe6 229px,#00ff6f 229.5px,#0f0 229.8px,#ff0 230.5px,#ff5e00 231px,#f00 231.5px,#f00 267.5px,#ff0 270.5px,#2aff00 273px)"></i><i style="background:linear-gradient(#48ff00 0,#63ff00 70.5px,#7aff00 92.5px,#9cff00 109.5px,#ceff00 123.5px,#ff0 131.1px,#ffe900 134.5px,#ffbc00 139px,#f80 143px,#ff4d00 146.5px,#f00 150px,#f00 165.5px,#ff9d00 166px,#ff0 166.2px,#0f0 166.9px,#0ff 167.5px,#0042ff 168px,#00f 168.5px,#0002ff 202px,#0062ff 213px,#0ff 226.6px,#00ffe4 229px,#00ff6d 229.5px,#0f0 229.8px,#ff0 230.5px,#ff5e00 231px,#f00 231.5px,#f00 267.5px,#ff0 270.5px,#2aff00 273px)"></i><i style="background:linear-gradient(#48ff00 0,#63ff00 70px,#7aff00 92px,#9bff00 109px,#cdff00 123px,#ff0 130.7px,#ffea00 134px,#ffbd00 138.5px,#ff8a00 142.5px,#ff4f00 146px,#ff0200 149.5px,#f00 165.5px,#ff9c00 166px,#ff0 166.2px,#0f0 166.9px,#0ff 167.5px,#0046ff 168px,#00f 168.5px,#0001ff 201.5px,#0065ff 213px,#0ff 226.4px,#00ffe1 229px,#00ff6b 229.5px,#0f0 229.8px,#ff0 230.5px,#ff5d00 231px,#f00 231.5px,#f00 267.5px,#ff0 270.5px,#2aff00 273px)"></i><i style="background:linear-gradient(#48ff00 0,#63ff00 70px,#7aff00 92px,#9cff00 109px,#cfff00 123px,#ff0 130.3px,#ffe600 134px,#ff8b00 142px,#ff5a00 145px,#f00 149.5px,#f00 165.5px,#ff9b00 166px,#ff0 166.3px,#0f0 166.9px,#0ff 167.5px,#004cff 168px,#00f 168.5px,#00f 201px,#0063ff 212.5px,#0ff 226.2px,#00ffdf 229px,#00ff69 229.5px,#0f0 229.8px,#ff0 230.5px,#ff5d00 231px,#f00 231.5px,#f00 267.5px,#ff0 270.5px,#2aff00 273px)"></i><i style="background:linear-gradient(#48ff00 0,#63ff00 70px,#7bff00 92px,#9bff00 108.5px,#ceff00 122.5px,#ff0 129.9px,#ffe800 133.5px,#ffba00 138px,#ff8500 142px,#f00 149px,#f00 165.5px,#ff9b00 166px,#ff0 166.3px,#0f0 166.9px,#0ff 167.6px,#0052ff 168px,#00f 168.5px,#00f 200.5px,#0067ff 212.5px,#0ff 226px,#0fd 229px,#00ff67 229.5px,#0f0 229.8px,#ff0 230.5px,#ff5c00 231px,#f00 231.5px,#f00 267.5px,#ff0 270.5px,#2aff00 273px)"></i><i style="background:linear-gradient(#48ff00 0,#63ff00 69.5px,#7aff00 91.5px,#9bff00 108px,#cdff00 122px,#ff0 129.6px,#ffe900 133px,#fb0 137.5px,#ff8600 141.5px,#ff5400 144.5px,#f00 148.5px,#f00 165.5px,#ff9a00 166px,#ff0 166.3px,#0f0 166.9px,#0ff 167.6px,#0058ff 168px,#00f 168.5px,#0002ff 200.5px,#0065ff 212px,#0ff 225.7px,#00ffda 229px,#00ff65 229.5px,#0f0 229.8px,#ff0 230.5px,#ff5c00 231px,#f00 231.5px,#f00 267.5px,#ff0 270.5px,#2aff00 273px)"></i><i style="background:linear-gradient(#48ff00 0,#63ff00 69px,#7aff00 91px,#9aff00 107.5px,#cf0 121.5px,#ff0 129.2px,#ffea00 132.5px,#ffbd00 137px,#f80 141px,#ff4c00 144.5px,#f00 148px,#f00 165.5px,#f90 166px,#ff0 166.3px,#0f0 166.9px,#0ff 167.6px,#005dff 168px,#00f 168.5px,#0001ff 200px,#0068ff 212px,#0ff 225.5px,#00ffd8 229px,#00ff63 229.5px,#0f0 229.8px,#ff0 230.5px,#ff5b00 231px,#f00 231.5px,#f00 267.5px,#ff0 270.5px,#2aff00 273px)"></i><i style="background:linear-gradient(#48ff00 0,#63ff00 69px,#7aff00 91px,#9bff00 107.5px,#ceff00 121.5px,#ff0 128.8px,#ffe700 132.5px,#ffb800 137px,#ff8200 141px,#f40 144.5px,#f00 147.5px,#f00 165.5px,#ff9700 166px,#ff0 166.3px,#0f0 166.9px,#0ff 167.6px,#0063ff 168px,#00f 168.5px,#0001ff 199.5px,#06f 211.5px,#0ff 225.3px,#00ffd6 229px,#00ff62 229.5px,#0f0 229.8px,#ff0 230.5px,#ff5b00 231px,#f00 231.5px,#f00 267.5px,#ff0 270.5px,#2aff00 273px)"></i><i style="background:linear-gradient(#48ff00 0,#63ff00 69px,#7aff00 90.5px,#9aff00 107px,#cdff00 121px,#ff0 128.5px,#ffe800 132px,#ffba00 136.5px,#ff8400 140.5px,#ff4600 144px,#ff0100 147px,#f00 164px,#ff6b00 164.5px,#ff0 164.9px,#0f0 165.5px,#0ff 166.2px,#008dff 166.5px,#00f 167px,#00f 199px,#0069ff 211.5px,#0ff 225.1px,#00ffd4 229px,#00ff60 229.5px,#0f0 229.8px,#ff0 230.5px,#ff5a00 231px,#f00 231.5px,#f00 267.5px,#ff0 270.5px,#2aff00 273px)"></i><i style="background:linear-gradient(#48ff00 0,#63ff00 69px,#7aff00 90.5px,#9bff00 107px,#cfff00 121px,#ff0 128.2px,#ffe900 131.5px,#ff8d00 139.5px,#ff5b00 142.5px,#ff0300 146.5px,#f00 147px,#f00 162.5px,#ff3f00 163px,#ff0 163.5px,#0f0 164.2px,#0ff 164.8px,#00b8ff 165px,#00f 165.5px,#00f 198.5px,#0067ff 211px,#0ff 224.9px,#00ffd2 229px,#00ff5e 229.5px,#0f0 229.8px,#ff0 230.5px,#ff5a00 231px,#f00 231.5px,#f00 267.5px,#ff0 270.5px,#2aff00 273px)"></i><i style="background:linear-gradient(#48ff00 0,#63ff00 69px,#7bff00 90.5px,#9cff00 107px,#d1ff00 121px,#ff0 127.8px,#ffe600 131.5px,#ffbc00 135.5px,#ff8700 139.5px,#ff5300 142.5px,#f00 146.5px,#f00 161px,#ff1300 161.5px,#ff0 162.1px,#0f0 162.8px,#0ff 163.4px,#0023ff 164px,#00f 164.5px,#0002ff 198.5px,#06f 210.5px,#0ff 224.7px,#00ffd0 229px,#00ff5c 229.5px,#0f0 229.8px,#ff0 230.5px,#ff5a00 231px,#f00 231.5px,#f00 267.5px,#ff0 270.5px,#2aff00 273px)"></i><i style="background:linear-gradient(#48ff00 0,#63ff00 68.5px,#7aff00 90px,#9bff00 106.5px,#d0ff00 120.5px,#ff0 127.5px,#ffe700 131px,#ffbe00 135px,#f80 139px,#f50 142px,#f00 146px,#f00 160px,#ffa800 160.5px,#ff0 160.7px,#0f0 161.4px,#0ff 162px,#0050ff 162.5px,#00f 163px,#0001ff 198px,#0069ff 210.5px,#0ff 224.4px,#00ffce 229px,#00ff5b 229.5px,#0f0 229.8px,#ff0 230.5px,#ff5a00 231px,#f00 231.5px,#f00 267.5px,#ff0 270.5px,#2aff00 273px)"></i><i style="background:linear-gradient(#48ff00 0,#63ff00 68.5px,#7aff00 90px,#9cff00 106.5px,#cfff00 120px,#ff0 127.1px,#ffe800 130.5px,#ffbf00 134.5px,#ff8a00 138.5px,#ff4d00 142px,#f00 145.5px,#f00 160px,#ffa700 160.5px,#ff0 160.7px,#0f0 161.4px,#0ff 162.1px,#0054ff 162.5px,#00f 163px,#00f 197.5px,#0067ff 210px,#0ff 224.2px,#0fc 229px,#00ff59 229.5px,#0f0 229.8px,#ff0 230.5px,#ff5a00 231px,#f00 231.5px,#f00 267.5px,#ff0 270.5px,#2aff00 273px)"></i><i style="background:linear-gradient(#48ff00 0,#63ff00 68.5px,#7bff00 90px,#9cff00 106px,#d0ff00 120px,#ff0 126.7px,#ffe500 130.5px,#fb0 134.5px,#ff8400 138.5px,#ff4500 142px,#f00 145px,#f00 160px,#ffa600 160.5px,#ff0 160.7px,#0f0 161.4px,#0ff 162.1px,#0059ff 162.5px,#00f 163px,#00f 197px,#006aff 210px,#0ff 224px,#00ffca 229px,#00ff57 229.5px,#0f0 229.8px,#ff0 230.5px,#ff5a00 231px,#f00 231.5px,#f00 267.5px,#ff0 270.5px,#2aff00 273px)"></i><i style="background:linear-gradient(#48ff00 0,#63ff00 68px,#7aff00 89.5px,#9bff00 105.5px,#d0ff00 119.5px,#ff0 126.4px,#ffe600 130px,#ffbc00 134px,#ff8600 138px,#ff4700 141.5px,#ff0200 144.5px,#f00 160px,#ffa500 160.5px,#ff0 160.7px,#0f0 161.4px,#0ff 162.1px,#005fff 162.5px,#00f 163px,#0002ff 197px,#0068ff 209.5px,#0ff 223.8px,#00ffc8 229px,#00ff56 229.5px,#0f0 229.8px,#ff0 230.5px,#ff5a00 231px,#f00 231.5px,#f00 267.5px,#ff0 270.5px,#2aff00 273px)"></i><i style="background:linear-gradient(#48ff00 0,#63ff00 68px,#7bff00 89.5px,#9cff00 105.5px,#cfff00 119px,#ff0 126.1px,#ffe700 129.5px,#ffbe00 133.5px,#f80 137.5px,#f00 144.5px,#f00 160px,#ffa400 160.5px,#ff0 160.7px,#0f0 161.4px,#0ff 162.1px,#0064ff 162.5px,#00f 163px,#0002ff 196.5px,#006bff 209.5px,#0ff 223.6px,#00ffc6 229px,#00ff54 229.5px,#0f0 229.8px,#ff0 230.5px,#ff5a00 231px,#f00 231.5px,#f00 267.5px,#ff0 270.5px,#2aff00 273px)"></i><i style="background:linear-gradient(#47ff00 0,#62ff00 67.5px,#7aff00 89px,#9bff00 105px,#ceff00 118.5px,#ff0 125.7px,#ffe900 129px,#ffc000 133px,#ff8a00 137px,#ff5600 140px,#f00 144px,#f00 160px,#ffa400 160.5px,#ff0 160.7px,#0f0 161.4px,#0ff 162.1px,#0069ff 162.5px,#00f 163px,#0001ff 196px,#0069ff 209px,#0ff 223.4px,#00ffc4 229px,#00ff53 229.5px,#0f0 229.7px,#ff0 230.5px,#ff5a00 231px,#f00 231.5px,#f00 267.5px,#ff0 270.5px,#2aff00 273px)"></i><i style="background:linear-gradient(#47ff00 0,#62ff00 67px,#7aff00 88.5px,#9aff00 104.5px,#cdff00 118px,#ff0 125.4px,#ffea00 128.5px,#ffc100 132.5px,#ff8c00 136.5px,#ff4e00 140px,#f00 143.5px,#f00 160px,#ffa200 160.5px,#ff0 160.7px,#0f0 161.4px,#0ff 162.1px,#006eff 162.5px,#00f 163px,#00f 195.5px,#006cff 209px,#0ff 223.2px,#00ffc3 229px,#00ff51 229.5px,#0f0 229.7px,#ff0 230.5px,#ff5900 231px,#f00 231.5px,#f00 267.5px,#ff0 270.5px,#2aff00 273px)"></i><i style="background:linear-gradient(#47ff00 0,#62ff00 67px,#79ff00 88px,#9aff00 104px,#ceff00 118px,#ff0 125px,#ffe700 128.5px,#ffbd00 132.5px,#ff8600 136.5px,#ff4600 140px,#f00 143px,#f00 160px,#ffa100 160.5px,#ff0 160.8px,#0f0 161.4px,#0ff 162.1px,#0073ff 162.5px,#00f 163px,#00f 195px,#006aff 208.5px,#0ff 222.4px,#00fffe 222.5px,#00ffc1 229px,#00ff50 229.5px,#0f0 229.7px,#ff0 230.5px,#ff5900 231px,#f00 231.5px,#f00 267.5px,#ff0 270.5px,#2aff00 273px)"></i><i style="background:linear-gradient(#47ff00 0,#62ff00 67px,#7aff00 88px,#9aff00 104px,#cdff00 117.5px,#ff0 124.7px,#ffe800 128px,#ffbe00 132px,#f80 136px,#ff4800 139.5px,#ff0200 142.5px,#f00 158.5px,#f70 159px,#ff0 159.4px,#0f0 160.1px,#0ff 160.7px,#009dff 161px,#00f 161.5px,#0002ff 195px,#006dff 208.5px,#0ff 222.1px,#00fffb 222.5px,#00ffbf 229px,#00ff4f 229.5px,#0f0 229.7px,#ff0 230.5px,#ff5900 231px,#f00 231.5px,#f00 267.5px,#ff0 270.5px,#2aff00 273px)"></i><i style="background:linear-gradient(#47ff00 0,#62ff00 67px,#7aff00 88px,#9bff00 104px,#cfff00 117.5px,#ff0 124.4px,#ffea00 127.5px,#ffc000 131.5px,#ff8a00 135.5px,#f00 142.5px,#f00 157px,#ff4c00 157.5px,#ff0 158px,#0f0 158.7px,#0ff 159.4px,#000eff 160px,#00f 160.5px,#0001ff 194.5px,#006bff 208px,#0ff 221.9px,#00fff8 222.5px,#00ffbe 229px,#00ff4e 229.5px,#0f0 229.7px,#ff0 230.5px,#ff5900 231px,#f00 231.5px,#f00 267.5px,#ff0 270.5px,#2aff00 273px)"></i><i style="background:linear-gradient(#47ff00 0,#62ff00 67px,#7aff00 88px,#9cff00 104px,#d1ff00 117.5px,#ff0 124.1px,#ffe700 127.5px,#ffbc00 131.5px,#ff8400 135.5px,#f00 142px,#f00 155.5px,#ff2100 156px,#ff0 156.6px,#0f0 157.3px,#0ff 158px,#0038ff 158.5px,#00f 159px,#00f 194px,#006eff 208px,#0ff 221.6px,#00fffb 222px,#00ffbc 229px,#00ff4e 229.5px,#0f0 229.7px,#ff0 230.5px,#ff5900 231px,#f00 231.5px,#f00 267.5px,#ff0 270.5px,#2aff00 273px)"></i><i style="background:linear-gradient(#47ff00 0,#62ff00 66.5px,#7aff00 87.5px,#9bff00 103.5px,#cfff00 117px,#ff0 123.7px,#ffe800 127px,#ffbe00 131px,#ff8600 135px,#ff4f00 138px,#f00 141.5px,#f00 154.5px,#ffb100 155px,#ff0 155.2px,#0f0 155.9px,#0ff 156.6px,#0064ff 157px,#00f 157.5px,#00f 193.5px,#006cff 207.5px,#0ff 221.4px,#00fff8 222px,#00ffba 229px,#00ff4d 229.5px,#0f0 229.7px,#ff0 230.5px,#ff5900 231px,#f00 231.5px,#f00 267.5px,#ff0 270.5px,#2aff00 273px)"></i><i style="background:linear-gradient(#47ff00 0,#63ff00 67px,#7bff00 88px,#9cff00 103.5px,#d1ff00 117px,#ff0 123.4px,#ffe500 127px,#ffb900 131px,#ff8000 135px,#ff4800 138px,#f00 141px,#f00 154.5px,#ffb000 155px,#ff0 155.2px,#0f0 155.9px,#0ff 156.6px,#0067ff 157px,#00f 157.5px,#0001ff 193.5px,#006fff 207.5px,#0ff 221.2px,#00fff6 222px,#00ffb9 229px,#00ff4d 229.5px,#0f0 229.7px,#ff0 230.5px,#ff5900 231px,#f00 231.5px,#f00 267.5px,#ff0 270.5px,#2aff00 273px)"></i><i style="background:linear-gradient(#47ff00 0,#62ff00 66.5px,#7aff00 87.5px,#9bff00 103px,#d0ff00 116.5px,#ff0 123.1px,#ffe700 126.5px,#fb0 130.5px,#ff8200 134.5px,#ff4a00 137.5px,#ff0300 140.5px,#f00 154.5px,#ffaf00 155px,#ff0 155.2px,#0f0 155.9px,#0ff 156.6px,#006bff 157px,#00f 157.5px,#00f 193px,#006dff 207px,#0ff 220.9px,#00fff9 221.5px,#00ffb9 229px,#00ff4d 229.5px,#0f0 229.7px,#ff0 230.5px,#ff5900 231px,#f00 231.5px,#f00 267.5px,#ff0 270.5px,#2aff00 273px)"></i><i style="background:linear-gradient(#47ff00 0,#62ff00 66px,#7aff00 87px,#9aff00 102.5px,#cfff00 116px,#ff0 122.8px,#ffe800 126px,#ff8c00 133.5px,#ff5700 136.5px,#f00 140.5px,#f00 154.5px,#ffae00 155px,#ff0 155.2px,#0f0 155.9px,#0ff 156.6px,#0070ff 157px,#00f 157.5px,#00f 192.5px,#006fff 207px,#0ff 220.7px,#00fff6 221.5px,#00ffb8 229px,#00ff4c 229.5px,#0f0 229.7px,#ff0 230.5px,#ff5900 231px,#f00 231.5px,#f00 267.5px,#ff0 270.5px,#2aff00 273px)"></i><i style="background:linear-gradient(#47ff00 0,#62ff00 66px,#7aff00 87px,#9bff00 102.5px,#ceff00 115.5px,#ff0 122.5px,#ffea00 125.5px,#ffbf00 129.5px,#ff8600 133.5px,#ff4f00 136.5px,#f00 140px,#f00 154.5px,#ffad00 155px,#ff0 155.2px,#0f0 155.9px,#0ff 156.6px,#0075ff 157px,#00f 157.5px,#0001ff 192.5px,#006dff 206.5px,#0ff 220.4px,#00fff4 221.5px,#00ffb8 229px,#00ff4c 229.5px,#0f0 229.7px,#ff0 230.5px,#ff5900 231px,#f00 231.5px,#f00 267.5px,#ff0 270.5px,#2aff00 273px)"></i><i style="background:linear-gradient(#47ff00 0,#62ff00 65.5px,#79ff00 86.5px,#9aff00 102px,#cfff00 115.5px,#ff0 122.1px,#ffe700 125.5px,#ff8900 133px,#ff4800 136.5px,#f00 139.5px,#f00 154.5px,#ffac00 155px,#ff0 155.2px,#0f0 155.9px,#0ff 156.6px,#0078ff 157px,#00f 157.5px,#0001ff 192px,#0070ff 206.5px,#0ff 220.2px,#00fff7 221px,#00ffb8 229px,#00ff4c 229.5px,#0f0 229.7px,#ff0 230.5px,#ff5900 231px,#f00 231.5px,#f00 267.5px,#ff0 270.5px,#2aff00 273px)"></i><i style="background:linear-gradient(#47ff00 0,#62ff00 65.5px,#79ff00 86px,#9f0 101.5px,#ceff00 115px,#ff0 121.8px,#ffe800 125px,#ffbd00 129px,#ff8300 133px,#ff4a00 136px,#ff0200 139px,#f00 154.5px,#ffac00 155px,#ff0 155.2px,#0f0 155.9px,#0ff 156.6px,#007aff 157px,#00f 157.5px,#0001ff 191.5px,#0073ff 206.5px,#0ff 220px,#00fff5 221px,#00ffb7 229px,#00ff4c 229.5px,#0f0 229.7px,#ff0 230.5px,#ff5900 231px,#f00 231.5px,#f00 267.5px,#ff0 270.5px,#2aff00 273px)"></i><i style="background:linear-gradient(#47ff00 0,#62ff00 65.5px,#79ff00 86px,#9aff00 101.5px,#cdff00 114.5px,#ff0 121.5px,#ffea00 124.5px,#ff8d00 132px,#ff5700 135px,#f00 139px,#f00 154.5px,#ffac00 155px,#ff0 155.2px,#0f0 155.9px,#0ff 156.6px,#007dff 157px,#00f 157.5px,#0003ff 191.5px,#0071ff 206px,#0ff 219.8px,#00fff3 221px,#00ffb7 229px,#00ff4c 229.5px,#0f0 229.7px,#ff0 230.5px,#ff5900 231px,#f00 231.5px,#f00 267.5px,#ff0 270.5px,#2aff00 273px)"></i><i style="background:linear-gradient(#47ff00 0,#61ff00 65px,#79ff00 85.5px,#9f0 101px,#cf0 114px,#ff0 121.3px,#ffec00 124px,#ffc100 128px,#f80 132px,#ff5000 135px,#f00 138.5px,#f00 154.5px,#ffab00 155px,#ff0 155.2px,#0f0 155.9px,#0ff 156.6px,#007fff 157px,#00f 157.5px,#0004ff 191px,#0074ff 206px,#0ff 219.6px,#00fff1 221px,#00ffb8 228px,#00ffb7 229px,#00ff4b 229.5px,#0f0 229.7px,#ff0 230.5px,#ff5800 231px,#f00 231.5px,#f00 267.5px,#ff0 270.5px,#2aff00 273px)"></i><i style="background:linear-gradient(#47ff00 0,#61ff00 64.5px,#78ff00 85px,#98ff00 100.5px,#cdff00 114px,#ff0 120.9px,#ffe900 124px,#ffbd00 128px,#ff8a00 131.5px,#ff4800 135px,#f00 138px,#f00 154.5px,#fa0 155px,#ff0 155.2px,#0f0 155.9px,#0ff 156.7px,#0081ff 157px,#00f 157.5px,#0006ff 191px,#0072ff 205.5px,#0ff 219.4px,#00fff4 220.5px,#00ffb7 228px,#00ffb7 229px,#00ff4b 229.5px,#0f0 229.7px,#ff0 230.5px,#ff5800 231px,#f00 231.5px,#f00 267.5px,#ff0 270.5px,#2aff00 273px)"></i><i style="background:linear-gradient(#47ff00 0,#61ff00 65px,#78ff00 85px,#9f0 100.5px,#cf0 113.5px,#ff0 120.6px,#ffea00 123.5px,#ffb800 128px,#ff8400 131.5px,#ff4b00 134.5px,#ff0100 137.5px,#f00 154.5px,#fa0 155px,#ff0 155.2px,#0f0 155.9px,#0ff 156.7px,#0083ff 157px,#00f 157.5px,#00f 188.5px,#0007ff 190.5px,#0075ff 205.5px,#0ff 219.2px,#00fff2 220.5px,#00ffba 227.5px,#00ffb7 229px,#00ff4b 229.5px,#0f0 229.7px,#ff0 230.5px,#ff5800 231px,#f00 231.5px,#f00 267.5px,#ff0 270.5px,#2aff00 273px)"></i><i style="background:linear-gradient(#47ff00 0,#61ff00 65px,#78ff00 85px,#9aff00 100.5px,#cbff00 113px,#ff0 120.4px,#ffec00 123px,#ffc100 127px,#ff8f00 130.5px,#ff5900 133.5px,#ff0500 137px,#f00 137.5px,#f00 153px,#ff8100 153.5px,#ff0 153.8px,#0f0 154.6px,#0ff 155.3px,#0af 155.5px,#00f 156px,#00f 188px,#0009ff 190.5px,#0078ff 205.5px,#0ff 219px,#00fff0 220.5px,#00ffbc 227px,#00ff7e 227.5px,#0f0 227.9px,#ff0 228.6px,#ff8a00 229px,#f00 229.5px,#f00 267.5px,#ff0 270.5px,#2aff00 273px)"></i><i style="background:linear-gradient(#46ff00 0,#61ff00 65px,#79ff00 85px,#9aff00 100.5px,#cf0 113px,#ff0 120px,#ffe900 123px,#ffbd00 127px,#ff8a00 130.5px,#ff5100 133.5px,#f00 137px,#f00 151.5px,#ff5800 152px,#ff0 152.5px,#0f0 153.2px,#0ff 153.9px,#001eff 154.5px,#00f 155px,#00f 187px,#000aff 190px,#07f 205px,#0ff 218.7px,#00fff3 220px,#00ffcb 225px,#00ffbe 225.5px,#0f0 226.1px,#ff0 226.8px,#ff1600 227.5px,#f00 228px,#f00 267.5px,#ff0 270.5px,#2aff00 273px)"></i><i style="background:linear-gradient(#46ff00 0,#61ff00 64.5px,#78ff00 84.5px,#9f0 100px,#cbff00 112.5px,#ff0 119.7px,#ffeb00 122.5px,#ffbf00 126.5px,#ff8c00 130px,#ff4900 133.5px,#f00 136.5px,#f00 150px,#ff2f00 150.5px,#ff0 151.1px,#0f0 151.8px,#0ff 152.5px,#0045ff 153px,#00f 153.5px,#00f 186.5px,#000bff 189.5px,#007aff 205px,#0ff 219.1px,#00ffd5 223.5px,#00ff51 224px,#0f0 224.2px,#ff0 225px,#ff4b00 225.5px,#f00 226px,#f00 267.5px,#ff0 270.5px,#2aff00 273px)"></i><i style="background:linear-gradient(#46ff00 0,#61ff00 64.5px,#78ff00 84.5px,#9aff00 100px,#cfff00 113px,#ff0 119.4px,#ffe800 122.5px,#fb0 126.5px,#ff8600 130px,#ff4c00 133px,#ff0100 136px,#f00 148.5px,#ff0600 149px,#ff0 149.7px,#0f0 150.4px,#0ff 151.1px,#006eff 151.5px,#00f 152px,#00f 186px,#000dff 189.5px,#0079ff 204.5px,#0ff 218.9px,#00ffd4 223.5px,#00ff50 224px,#0f0 224.2px,#ff0 225px,#ff4b00 225.5px,#f00 226px,#f00 267.5px,#ff0 270.5px,#2aff00 273px)"></i><i style="background:linear-gradient(#46ff00 0,#61ff00 64.5px,#78ff00 84.5px,#9bff00 100px,#ceff00 112.5px,#ff0 119.1px,#ffea00 122px,#ffbd00 126px,#ff8900 129.5px,#f00 136px,#f00 148.5px,#ff0600 149px,#ff0 149.7px,#0f0 150.4px,#0ff 151.1px,#006fff 151.5px,#00f 152px,#00f 185px,#000eff 189px,#007bff 204.5px,#0ff 218.1px,#00fff1 219.5px,#00ffd2 223.5px,#00ff4f 224px,#0f0 224.2px,#ff0 225px,#ff4b00 225.5px,#f00 226px,#f00 267.5px,#ff0 270.5px,#2aff00 273px)"></i><i style="background:linear-gradient(#46ff00 0,#61ff00 64.5px,#79ff00 84.5px,#9aff00 99.5px,#cfff00 112.5px,#ff0 118.8px,#ffe700 122px,#ffb800 126px,#ff8300 129.5px,#ff5300 132px,#f00 135.5px,#f00 148.5px,#ff0600 149px,#ff0 149.7px,#0f0 150.4px,#0ff 151.1px,#0072ff 151.5px,#00f 152px,#00f 184.5px,#000fff 188.5px,#007bff 204px,#00c1ff 212px,#0ff 218px,#00ffef 219.5px,#00ffd1 223.5px,#00ff4e 224px,#0f0 224.2px,#ff0 225px,#ff4a00 225.5px,#f00 226px,#f00 267.5px,#ff0 270.5px,#2aff00 273px)"></i><i style="background:linear-gradient(#46ff00 0,#61ff00 64px,#78ff00 84px,#9f0 99px,#ceff00 112px,#ff0 118.5px,#ffe900 121.5px,#fb0 125.5px,#ff8600 129px,#ff4b00 132px,#f00 135px,#f00 148.5px,#ff0600 149px,#ff0 149.7px,#0f0 150.4px,#0ff 151.1px,#0075ff 151.5px,#00f 152px,#00f 184px,#0012ff 188.5px,#007eff 204px,#0ff 217.6px,#00ffed 219.5px,#00ffd0 223.5px,#00ff4c 224px,#0f0 224.2px,#ff0 225px,#ff4a00 225.5px,#f00 226px,#f00 267.5px,#ff0 270.5px,#2aff00 273px)"></i><i style="background:linear-gradient(#46ff00 0,#61ff00 64px,#78ff00 84px,#9f0 99px,#cdff00 111.5px,#ff0 118.3px,#ffeb00 121px,#ffbd00 125px,#ff8900 128.5px,#ff4e00 131.5px,#ff0200 134.5px,#f00 148.5px,#ff0600 149px,#ff0 149.7px,#0f0 150.4px,#0ff 151.1px,#07f 151.5px,#00f 152px,#00f 183px,#0012ff 188px,#0081ff 204px,#0ff 217.4px,#00fff0 219px,#00ffce 223.5px,#00ff4b 224px,#0f0 224.2px,#ff0 225px,#ff4a00 225.5px,#f00 226px,#f00 267.5px,#ff0 270.5px,#2aff00 273px)"></i><i style="background:linear-gradient(#46ff00 0,#60ff00 63.5px,#78ff00 83.5px,#9f0 98.5px,#cbff00 111px,#ff0 118px,#ffed00 120.5px,#ffbf00 124.5px,#ff8b00 128px,#ff5200 131px,#f00 134.5px,#f00 148.5px,#ff0600 149px,#ff0 149.7px,#0f0 150.4px,#0ff 151.1px,#007aff 151.5px,#00f 152px,#00f 182.5px,#0013ff 187.5px,#0080ff 203.5px,#00bfff 211px,#0ff 217.3px,#0fe 219px,#00ffcd 223.5px,#00ff4a 224px,#0f0 224.2px,#ff0 225px,#ff4a00 225.5px,#f00 226px,#f00 267.5px,#ff0 270.5px,#2aff00 273px)"></i><i style="background:linear-gradient(#46ff00 0,#60ff00 63.5px,#7f0 83px,#98ff00 98px,#cdff00 111px,#ff0 117.7px,#ffea00 120.5px,#fb0 124.5px,#ff8600 128px,#ff4a00 131px,#f00 134px,#f00 148.5px,#ff0600 149px,#ff0 149.7px,#0f0 150.4px,#0ff 151.1px,#007cff 151.5px,#00f 152px,#00f 182px,#0016ff 187.5px,#0083ff 203.5px,#00c2ff 211px,#0ff 217.1px,#00ffec 219px,#0fc 223.5px,#00ff49 224px,#0f0 224.2px,#ff0 225px,#ff4900 225.5px,#f00 226px,#f00 267.5px,#ff0 270.5px,#2aff00 273px)"></i><i style="background:linear-gradient(#46ff00 0,#60ff00 63.5px,#7f0 83px,#98ff00 98px,#cbff00 110.5px,#ff0 117.4px,#ffec00 120px,#ffbe00 124px,#f80 127.5px,#ff4d00 130.5px,#f00 133.5px,#f00 147.5px,#ff9000 148px,#ff0 148.3px,#0f0 149px,#0ff 149.7px,#00a3ff 150px,#00f 150.5px,#00f 181.5px,#0017ff 187px,#0082ff 203px,#00c4ff 211px,#0ff 216.9px,#00ffef 218.5px,#00ffca 223.5px,#00ff48 224px,#0f0 224.2px,#ff0 225px,#ff4900 225.5px,#f00 226px,#f00 267.5px,#ff0 270.5px,#2aff00 273px)"></i><i style="background:linear-gradient(#46ff00 0,#60ff00 63.5px,#78ff00 83px,#9f0 98px,#cdff00 110.5px,#ff0 117.1px,#ffe800 120px,#ffb900 124px,#ff8200 127.5px,#ff4500 130.5px,#ff0400 133px,#f00 146px,#ff6800 146.5px,#ff0 146.9px,#0f0 147.6px,#0ff 148.4px,#0019ff 149px,#00f 149.5px,#00f 180.5px,#0017ff 186.5px,#0085ff 203px,#00c2ff 210.5px,#0ff 216.6px,#00ffed 218.5px,#00ffc9 223.5px,#00ff47 224px,#0f0 224.2px,#ff0 225px,#ff4900 225.5px,#f00 226px,#f00 267.5px,#ff0 270.5px,#2aff00 273px)"></i><i style="background:linear-gradient(#46ff00 0,#60ff00 63.5px,#78ff00 83px,#9aff00 98px,#cf0 110px,#ff0 116.8px,#ffea00 119.5px,#ff8e00 126.5px,#ff5400 129.5px,#f00 133px,#f00 144.5px,#ff3f00 145px,#ff0 145.5px,#0f0 146.3px,#0ff 147px,#0040ff 147.5px,#00f 148px,#0001ff 180.5px,#001dff 187px,#0083ff 202.5px,#00c5ff 210.5px,#0ff 216.5px,#00ffeb 218.5px,#00ffc8 223.5px,#00ff46 224px,#0f0 224.2px,#ff0 225px,#ff4900 225.5px,#f00 226px,#f00 267.5px,#ff0 270.5px,#2aff00 273px)"></i><i style="background:linear-gradient(#46ff00 0,#61ff00 63.5px,#78ff00 83px,#9aff00 98px,#cdff00 110px,#ff0 116.4px,#ffe700 119.5px,#ffbe00 123px,#f80 126.5px,#ff4c00 129.5px,#f00 132.5px,#f00 143px,#ff1700 143.5px,#ff0 144.2px,#0f0 144.9px,#0ff 145.6px,#0069ff 146px,#00f 146.5px,#0001ff 180px,#001dff 186.5px,#0082ff 202px,#00c3ff 210px,#0ff 216.2px,#00ffed 218px,#00ffc7 223.5px,#00ff45 224px,#0f0 224.2px,#ff0 225px,#ff4800 225.5px,#f00 226px,#f00 267.5px,#ff0 270.5px,#2aff00 273px)"></i><i style="background:linear-gradient(#46ff00 0,#60ff00 63px,#7f0 82.5px,#9f0 97.5px,#cf0 109.5px,#ff0 116.2px,#ffe900 119px,#ffba00 123px,#ff8200 126.5px,#f40 129.5px,#ff0100 132px,#f00 143px,#ff1700 143.5px,#ff0 144.2px,#0f0 144.9px,#0ff 145.6px,#006aff 146px,#00f 146.5px,#0002ff 179.5px,#001dff 186px,#0085ff 202px,#00c5ff 210px,#0ff 216px,#00ffec 218px,#00ffc6 223.5px,#0f4 224px,#0f0 224.2px,#ff0 225px,#ff4800 225.5px,#f00 226px,#f00 267.5px,#ff0 270.5px,#2aff00 273px)"></i><i style="background:linear-gradient(#46ff00 0,#60ff00 63px,#78ff00 82.5px,#98ff00 97px,#caff00 109px,#ff0 115.9px,#ffeb00 118.5px,#ffc300 122px,#ff8e00 125.5px,#ff5e00 128px,#ff0600 131.5px,#f00 132px,#f00 143px,#ff1700 143.5px,#ff0 144.2px,#0f0 144.9px,#0ff 145.6px,#006cff 146px,#00f 146.5px,#0002ff 179px,#0020ff 186px,#08f 202px,#00c7ff 210px,#0ff 215.8px,#00ffea 218px,#00ffc5 223.5px,#00ff43 224px,#0f0 224.2px,#ff0 225px,#ff4800 225.5px,#f00 226px,#f00 267.5px,#ff0 270.5px,#2aff00 273px)"></i><i style="background:linear-gradient(#45ff00 0,#60ff00 63px,#78ff00 82.5px,#9f0 97px,#cf0 109px,#ff0 115.6px,#ffe800 118.5px,#ffbf00 122px,#f80 125.5px,#ff4b00 128.5px,#f00 131.5px,#f00 143px,#ff1600 143.5px,#ff0 144.2px,#0f0 144.9px,#0ff 145.6px,#006eff 146px,#00f 146.5px,#00f 178px,#0020ff 185.5px,#0087ff 201.5px,#00c5ff 209.5px,#0ff 215.6px,#00ffe8 218px,#00ffc4 223.5px,#00ff43 224px,#0f0 224.2px,#ff0 225px,#ff4800 225.5px,#f00 226px,#f00 267.5px,#ff0 270.5px,#2aff00 273px)"></i><i style="background:linear-gradient(#45ff00 0,#60ff00 62.5px,#7f0 82px,#98ff00 96.5px,#cbff00 108.5px,#ff0 115.3px,#ffea00 118px,#ffc100 121.5px,#ff8b00 125px,#ff4f00 128px,#f00 131px,#f00 143px,#ff1600 143.5px,#ff0 144.2px,#0f0 144.9px,#0ff 145.6px,#0071ff 146px,#00f 146.5px,#00f 177.5px,#0023ff 185.5px,#0089ff 201.5px,#00c7ff 209.5px,#0ff 215.4px,#00ffeb 217.5px,#00ffc2 223.5px,#00ff42 224px,#0f0 224.2px,#ff0 225px,#ff4800 225.5px,#f00 226px,#f00 267.5px,#ff0 270.5px,#2aff00 273px)"></i><i style="background:linear-gradient(#45ff00 0,#60ff00 62.5px,#78ff00 82px,#9f0 96.5px,#cf0 108.5px,#ff0 115.1px,#ffec00 117.5px,#ffbd00 121.5px,#ff8500 125px,#ff4700 128px,#ff0300 130.5px,#f00 143px,#ff1600 143.5px,#ff0 144.2px,#0f0 144.9px,#0ff 145.6px,#0073ff 146px,#00f 146.5px,#00f 177px,#0023ff 185px,#08f 201px,#00c9ff 209.5px,#0ff 215.2px,#00ffe9 217.5px,#00ffc1 223.5px,#00ff41 224px,#0f0 224.2px,#ff0 225px,#ff4700 225.5px,#f00 226px,#f00 267.5px,#ff0 270.5px,#2aff00 273px)"></i><i style="background:linear-gradient(#45ff00 0,#60ff00 62px,#7f0 81.5px,#98ff00 96px,#cbff00 108px,#ff0 114.7px,#ffe900 117.5px,#ffbf00 121px,#f80 124.5px,#ff5600 127px,#f00 130.5px,#f00 143px,#ff1600 143.5px,#ff0 144.2px,#0f0 144.9px,#0ff 145.6px,#0075ff 146px,#00f 146.5px,#0003ff 177px,#0026ff 185px,#008aff 201px,#00c7ff 209px,#0ff 215px,#00ffe7 217.5px,#00ffc0 223.5px,#00ff40 224px,#0f0 224.2px,#ff0 225px,#ff4700 225.5px,#f00 226px,#f00 267.5px,#ff0 270.5px,#2aff00 273px)"></i><i style="background:linear-gradient(#45ff00 0,#60ff00 62px,#76ff00 81px,#97ff00 95.5px,#c9ff00 107.5px,#ff0 114.4px,#ffeb00 117px,#ffc200 120.5px,#ff8b00 124px,#ff4e00 127px,#f00 130px,#f00 143px,#ff1600 143.5px,#ff0 144.2px,#0f0 144.9px,#0ff 145.6px,#07f 146px,#00f 146.5px,#0003ff 176.5px,#0026ff 184.5px,#008dff 201px,#00c9ff 209px,#0ff 214.7px,#00ffea 217px,#00ffbf 223.5px,#00ff3f 224px,#0f0 224.2px,#ff0 225px,#ff4700 225.5px,#f00 226px,#f00 267.5px,#ff0 270.5px,#2aff00 273px)"></i><i style="background:linear-gradient(#45ff00 0,#60ff00 62px,#7f0 81px,#98ff00 95.5px,#cbff00 107.5px,#ff0 114.2px,#ffed00 116.5px,#ffbd00 120.5px,#ff8500 124px,#ff4600 127px,#ff0100 129.5px,#f00 143px,#ff1600 143.5px,#ff0 144.2px,#0f0 144.9px,#0ff 145.6px,#0079ff 146px,#00f 146.5px,#0003ff 176px,#0029ff 184.5px,#008cff 200.5px,#00cbff 209px,#0ff 214.5px,#00ffe8 217px,#00ffbe 223.5px,#00ff3e 224px,#0f0 224.2px,#ff0 224.9px,#ff4700 225.5px,#f00 226px,#f00 267.5px,#ff0 270.5px,#2aff00 273px)"></i><i style="background:linear-gradient(#45ff00 0,#5fff00 61.5px,#76ff00 80.5px,#97ff00 95px,#caff00 107px,#ff0 113.8px,#ffea00 116.5px,#ffc000 120px,#f80 123.5px,#f00 129.5px,#f00 143px,#ff1500 143.5px,#ff0 144.2px,#0f0 144.9px,#0ff 145.6px,#007bff 146px,#00f 146.5px,#0005ff 176px,#0029ff 184px,#008eff 200.5px,#00c9ff 208.5px,#0ff 214.3px,#00ffe7 217px,#00ffbd 223.5px,#00ff3d 224px,#0f0 224.2px,#ff0 224.9px,#ff4700 225.5px,#f00 226px,#f00 267.5px,#ff0 270.5px,#2aff00 273px)"></i><i style="background:linear-gradient(#45ff00 0,#5fff00 61.5px,#76ff00 80.5px,#98ff00 95px,#cbff00 107px,#ff0 113.6px,#ffec00 116px,#ffc200 119.5px,#ff8b00 123px,#ff4d00 126px,#f00 129px,#f00 143px,#ff1500 143.5px,#ff0 144.2px,#0f0 144.9px,#0ff 145.6px,#007dff 146px,#00f 146.5px,#0005ff 175.5px,#002cff 184px,#008dff 200px,#00cbff 208.5px,#0ff 214.2px,#00ffe5 217px,#00ffbc 223.5px,#00ff3d 224px,#0f0 224.2px,#ff0 224.9px,#ff4700 225.5px,#f00 226px,#f00 267.5px,#ff0 270.5px,#2aff00 273px)"></i><i style="background:linear-gradient(#45ff00 0,#5fff00 61px,#76ff00 80px,#97ff00 94.5px,#caff00 106.5px,#ff0 113.3px,#fe0 115.5px,#ffbe00 119.5px,#ff8500 123px,#ff4500 126px,#f00 128.5px,#f00 142px,#ff9d00 142.5px,#ff0 142.8px,#0f0 143.5px,#0ff 144.2px,#00a3ff 144.5px,#00f 145px,#00f 173px,#0007ff 175.5px,#002cff 183.5px,#008fff 200px,#00ceff 208.5px,#0ff 213.9px,#00ffe7 216.5px,#0fb 223.5px,#00ff3c 224px,#0f0 224.2px,#ff0 224.9px,#ff4700 225.5px,#f00 226px,#f00 267.5px,#ff0 270.5px,#2aff00 273px)"></i><i style="background:linear-gradient(#45ff00 0,#5fff00 61px,#76ff00 80px,#98ff00 94.5px,#cbff00 106.5px,#ff0 113px,#ffeb00 115.5px,#ffc000 119px,#f80 122.5px,#ff4800 125.5px,#ff0400 128px,#f00 140.5px,#ff7600 141px,#ff0 141.4px,#0f0 142.1px,#0ff 142.9px,#001cff 143.5px,#00f 144px,#00f 172px,#0007ff 175px,#002fff 183.5px,#0092ff 200px,#00cbff 208px,#0ff 213.7px,#00ffe6 216.5px,#00ffba 223.5px,#00ff3b 224px,#0f0 224.2px,#ff0 224.9px,#ff4700 225.5px,#f00 226px,#f00 267.5px,#ff0 270.5px,#2aff00 273px)"></i><i style="background:linear-gradient(#45ff00 0,#60ff00 61.5px,#7f0 80.5px,#98ff00 94.5px,#caff00 106px,#ff0 112.7px,#ffed00 115px,#ffc300 118.5px,#ff8b00 122px,#ff5800 124.5px,#f00 128px,#f00 139px,#ff4e00 139.5px,#ff0 140px,#0f0 140.7px,#0ff 141.5px,#0043ff 142px,#00f 142.5px,#00f 171.5px,#0008ff 174.5px,#002fff 183px,#0091ff 199.5px,#00cdff 208px,#0ff 213.5px,#00ffe4 216.5px,#00ffba 223.5px,#00ff3a 224px,#0f0 224.2px,#ff0 224.9px,#ff4700 225.5px,#f00 226px,#f00 267.5px,#ff0 270.5px,#2aff00 273px)"></i><i style="background:linear-gradient(#45ff00 0,#60ff00 61.5px,#78ff00 80.5px,#9f0 94.5px,#cf0 106px,#ff0 112.3px,#ffe900 115px,#ffbe00 118.5px,#ff8500 122px,#ff5000 124.5px,#f00 127.5px,#f00 137.5px,#ff2600 138px,#ff0 138.6px,#0f0 139.3px,#0ff 140.1px,#006aff 140.5px,#00f 141px,#00f 171px,#000aff 174.5px,#0032ff 183px,#0093ff 199.5px,#00d0ff 208px,#0ff 213.3px,#00ffe7 216px,#00ffb9 223.5px,#00ff3a 224px,#0f0 224.2px,#ff0 224.9px,#ff4700 225.5px,#f00 226px,#f00 267.5px,#ff0 270.5px,#2aff00 273px)"></i><i style="background:linear-gradient(#45ff00 0,#5fff00 61px,#7f0 80px,#98ff00 94px,#caff00 105.5px,#ff0 112.1px,#ffec00 114.5px,#ffc100 118px,#f80 121.5px,#ff4800 124.5px,#ff0200 127px,#f00 137.5px,#ff2600 138px,#ff0 138.6px,#0f0 139.3px,#0ff 140.1px,#006bff 140.5px,#00f 141px,#00f 170px,#000aff 174px,#0032ff 182.5px,#0096ff 199.5px,#00ceff 207.5px,#0ff 213.1px,#00ffe5 216px,#00ffb8 223.5px,#00ff39 224px,#0f0 224.2px,#ff0 224.9px,#ff4700 225.5px,#f00 226px,#f00 267.5px,#ff0 270.5px,#2aff00 273px)"></i><i style="background:linear-gradient(#45ff00 0,#5fff00 61px,#7f0 80px,#9f0 94px,#cf0 105.5px,#ff0 111.7px,#ffe800 114.5px,#ff8b00 121px,#ff5800 123.5px,#f00 127px,#f00 137.5px,#ff2600 138px,#ff0 138.6px,#0f0 139.4px,#0ff 140.1px,#006eff 140.5px,#00f 141px,#00f 169.5px,#000cff 174px,#0095ff 199px,#00cfff 207.5px,#0ff 212.9px,#00ffe3 216px,#00ffb7 223.5px,#00ff38 224px,#0f0 224.2px,#ff0 224.9px,#ff4700 225.5px,#f00 226px,#f00 267.5px,#ff0 270.5px,#2aff00 273px)"></i><i style="background:linear-gradient(#45ff00 0,#5fff00 60.5px,#7f0 79.5px,#98ff00 93.5px,#cbff00 105px,#ff0 111.5px,#ffea00 114px,#ffbf00 117.5px,#ff8500 121px,#ff5000 123.5px,#f00 126.5px,#f00 137.5px,#ff2600 138px,#ff0 138.6px,#0f0 139.4px,#0ff 140.1px,#0070ff 140.5px,#00f 141px,#00f 169px,#000cff 173.5px,#0097ff 199px,#00d2ff 207.5px,#0ff 212.7px,#00ffe2 216px,#00ffb6 223.5px,#00ff38 224px,#0f0 224.2px,#ff0 224.9px,#ff4700 225.5px,#f00 226px,#f00 267.5px,#ff0 270.5px,#2aff00 273px)"></i><i style="background:linear-gradient(#45ff00 0,#5fff00 60.5px,#76ff00 79px,#97ff00 93px,#c9ff00 104.5px,#ff0 111.2px,#ffec00 113.5px,#ffc100 117px,#f80 120.5px,#ff4700 123.5px,#ff0100 126px,#f00 137.5px,#ff2500 138px,#ff0 138.6px,#0f0 139.4px,#0ff 140.1px,#0071ff 140.5px,#00f 141px,#00f 168.5px,#000fff 173.5px,#0096ff 198.5px,#00d0ff 207px,#0ff 212.4px,#00ffe4 215.5px,#00ffb5 223.5px,#00ff37 224px,#0f0 224.2px,#ff0 224.9px,#ff4700 225.5px,#f00 226px,#f00 267.5px,#ff0 270.5px,#2aff00 273px)"></i><i style="background:linear-gradient(#45ff00 0,#5fff00 60.5px,#76ff00 79px,#98ff00 93px,#cbff00 104.5px,#ff0 110.8px,#ffe900 113.5px,#ffbd00 117px,#ff8c00 120px,#ff4b00 123px,#ff0500 125.5px,#f00 126px,#f00 137.5px,#ff2500 138px,#ff0 138.6px,#0f0 139.4px,#0ff 140.1px,#0073ff 140.5px,#00f 141px,#00f 167.5px,#000eff 173px,#0098ff 198.5px,#00d1ff 207px,#0ff 212.2px,#00ffe2 215.5px,#00ffb4 223.5px,#00ff36 224px,#0f0 224.2px,#ff0 224.9px,#ff4700 225.5px,#f00 226px,#f00 267.5px,#ff0 270.5px,#2aff00 273px)"></i><i style="background:linear-gradient(#45ff00 0,#5fff00 60px,#76ff00 78.5px,#97ff00 92.5px,#caff00 104px,#ff0 110.6px,#ffeb00 113px,#ff8f00 119.5px,#ff4f00 122.5px,#f00 125.5px,#f00 137.5px,#ff2500 138px,#ff0 138.6px,#0f0 139.4px,#0ff 140.1px,#0075ff 140.5px,#00f 141px,#00f 167px,#01f 173px,#009aff 198.5px,#00d3ff 207px,#0ff 212px,#00ffe1 215.5px,#00ffb4 223.5px,#00ff36 224px,#0f0 224.2px,#ff0 224.9px,#ff4700 225.5px,#f00 226px,#f00 267.5px,#ff0 270.5px,#2aff00 273px)"></i><i style="background:linear-gradient(#45ff00 0,#5eff00 59.5px,#75ff00 78px,#96ff00 92px,#c8ff00 103.5px,#ff0 110.3px,#ffed00 112.5px,#ffc200 116px,#ff8900 119.5px,#ff4700 122.5px,#f00 125px,#f00 137.5px,#ff2500 138px,#ff0 138.6px,#0f0 139.4px,#0ff 140.1px,#07f 140.5px,#00f 141px,#00f 166.5px,#01f 172.5px,#009aff 198px,#00d2ff 206.5px,#0ff 211.8px,#00ffe0 215.5px,#00ffb3 223.5px,#00ff36 224px,#0f0 224.2px,#ff0 224.9px,#ff4700 225.5px,#f00 226px,#f00 267.5px,#ff0 270.5px,#2aff00 273px)"></i><i style="background:linear-gradient(#45ff00 0,#5fff00 59.5px,#76ff00 78px,#97ff00 92px,#caff00 103.5px,#ff0 110px,#ffea00 112.5px,#ffbe00 116px,#ff8c00 119px,#ff4b00 122px,#ff0400 124.5px,#f00 125px,#f00 137.5px,#ff2500 138px,#ff0 138.6px,#0f0 139.4px,#0ff 140.1px,#0079ff 140.5px,#00f 141px,#00f 165.5px,#01f 172px,#009cff 198px,#00d3ff 206.5px,#0ff 211.6px,#00ffe2 215px,#00ffb2 223.5px,#00ff36 224px,#0f0 224.2px,#ff0 224.9px,#ff4700 225.5px,#f00 226px,#f00 267.5px,#ff0 270.5px,#2aff00 273px)"></i><i style="background:linear-gradient(#4f0 0,#5fff00 59.5px,#75ff00 77.5px,#96ff00 91.5px,#c8ff00 103px,#ff0 109.7px,#ffec00 112px,#ffc000 115.5px,#ff8f00 118.5px,#ff5b00 121px,#f00 124.5px,#f00 137.5px,#ff2400 138px,#ff0 138.6px,#0f0 139.4px,#0ff 140.1px,#007bff 140.5px,#00f 141px,#00f 165px,#0013ff 172px,#009eff 198px,#00d5ff 206.5px,#0ff 211.4px,#00ffe0 215px,#00ffb1 223.5px,#00ff36 224px,#0f0 224.2px,#ff0 224.9px,#ff4700 225.5px,#f00 226px,#f00 267.5px,#ff0 270.5px,#2aff00 273px)"></i><i style="background:linear-gradient(#4f0 0,#5fff00 59.5px,#76ff00 78px,#97ff00 91.5px,#caff00 103px,#ff0 109.4px,#ffe900 112px,#ffbc00 115.5px,#ff8900 118.5px,#ff4600 121.5px,#f00 124px,#f00 137.5px,#ff2400 138px,#ff0 138.6px,#0f0 139.4px,#0ff 140.1px,#007dff 140.5px,#00f 141px,#00f 164.5px,#0013ff 171.5px,#009dff 197.5px,#00d4ff 206px,#0ff 211.2px,#00ffdf 215px,#00ffb1 223.5px,#00ff35 224px,#0f0 224.2px,#ff0 224.9px,#ff4700 225.5px,#f00 226px,#f00 267.5px,#ff0 270.5px,#2aff00 273px)"></i><i style="background:linear-gradient(#4f0 0,#5eff00 59px,#76ff00 77.5px,#96ff00 91px,#c9ff00 102.5px,#ff0 109.1px,#ffeb00 111.5px,#ffbe00 115px,#ff8c00 118px,#ff4b00 121px,#ff0300 123.5px,#f00 136.5px,#ff0 137.2px,#0f0 138px,#0ff 138.7px,#00a3ff 139px,#00f 139.5px,#00f 163.5px,#0015ff 171.5px,#009fff 197.5px,#00d5ff 206px,#0ff 211px,#00ffe1 214.5px,#00ffb1 223.5px,#00ff35 224px,#0f0 224.2px,#ff0 224.9px,#ff4600 225.5px,#f00 226px,#f00 267.5px,#ff0 270.5px,#2aff00 273px)"></i><i style="background:linear-gradient(#4f0 0,#5eff00 59px,#76ff00 77.5px,#97ff00 91px,#caff00 102.5px,#ff0 108.9px,#ffed00 111px,#ffc100 114.5px,#ff9000 117.5px,#ff5b00 120px,#f00 123.5px,#f00 135px,#ff8300 135.5px,#ff0 135.9px,#0f0 136.6px,#0ff 137.3px,#001eff 138px,#00f 138.5px,#00f 163px,#0016ff 171px,#00a2ff 197.5px,#00d7ff 206px,#0ff 210.7px,#00ffdf 214.5px,#00ffb0 223.5px,#00ff35 224px,#0f0 224.2px,#ff0 224.9px,#ff4600 225.5px,#f00 226px,#f00 267.5px,#ff0 270.5px,#2aff00 273px)"></i><i style="background:linear-gradient(#4f0 0,#5fff00 59px,#76ff00 77.5px,#97ff00 91px,#cf0 102.5px,#ff0 108.5px,#ffea00 111px,#ffbc00 114.5px,#ff8900 117.5px,#ff5300 120px,#f00 123px,#f00 133.5px,#ff5c00 134px,#ff0 134.5px,#0f0 135.2px,#0ff 136px,#0045ff 136.5px,#00f 137px,#00f 162.5px,#0016ff 170.5px,#00a1ff 197px,#00d6ff 205.5px,#0ff 210.5px,#00ffde 214.5px,#00ffb0 223.5px,#00ff35 224px,#0f0 224.2px,#ff0 224.9px,#ff4600 225.5px,#f00 226px,#f00 267.5px,#ff0 270.5px,#2aff00 273px)"></i><i style="background:linear-gradient(#4f0 0,#5fff00 59px,#7f0 77.5px,#98ff00 91px,#cbff00 102px,#ff0 108.3px,#ffec00 110.5px,#ffbf00 114px,#ff8d00 117px,#ff4b00 120px,#ff0200 122.5px,#f00 132px,#ff3500 132.5px,#ff0 133.1px,#0f0 133.8px,#0ff 134.6px,#006cff 135px,#00f 135.5px,#00f 161.5px,#0018ff 170.5px,#00a3ff 197px,#00d7ff 205.5px,#0ff 210.3px,#0fd 214.5px,#00ffb0 223.5px,#00ff35 224px,#0f0 224.2px,#ff0 224.9px,#ff4600 225.5px,#f00 226px,#f00 267.5px,#ff0 270.5px,#2aff00 273px)"></i><i style="background:linear-gradient(#4f0 0,#5fff00 59px,#76ff00 77px,#97ff00 90.5px,#c9ff00 101.5px,#ff0 108px,#fe0 110px,#ffc200 113.5px,#ff9000 116.5px,#ff5b00 119px,#f00 122.5px,#f00 132px,#ff3400 132.5px,#ff0 133.1px,#0f0 133.8px,#0ff 134.6px,#006dff 135px,#00f 135.5px,#00f 161px,#0018ff 170px,#00a2ff 196.5px,#00d9ff 205.5px,#0ff 210.1px,#00ffdf 214px,#00ffb0 223.5px,#00ff35 224px,#0f0 224.2px,#ff0 224.9px,#ff4600 225.5px,#f00 226px,#f00 267.5px,#ff0 270.5px,#2aff00 273px)"></i><i style="background:linear-gradient(#4f0 0,#5fff00 59px,#76ff00 77px,#98ff00 90.5px,#cbff00 101.5px,#ff0 107.6px,#ffeb00 110px,#ffbd00 113.5px,#ff8a00 116.5px,#ff5300 119px,#f00 122px,#f00 132px,#ff3400 132.5px,#ff0 133.1px,#0f0 133.8px,#0ff 134.6px,#006fff 135px,#00f 135.5px,#00f 160.5px,#001aff 170px,#00a4ff 196.5px,#00d8ff 205px,#0ff 209.8px,#0fd 214px,#00ffb0 223.5px,#00ff35 224px,#0f0 224.2px,#ff0 224.9px,#ff4600 225.5px,#f00 226px,#f00 267.5px,#ff0 270.5px,#2aff00 273px)"></i><i style="background:linear-gradient(#4f0 0,#5eff00 58.5px,#76ff00 76.5px,#97ff00 90px,#c9ff00 101px,#ff0 107.4px,#ffed00 109.5px,#ffc000 113px,#ff8d00 116px,#ff4b00 119px,#ff0100 121.5px,#f00 132px,#ff3400 132.5px,#ff0 133.1px,#0f0 133.8px,#0ff 134.6px,#0071ff 135px,#00f 135.5px,#00f 159.5px,#001bff 169.5px,#00a7ff 196.5px,#00d9ff 205px,#0ff 209.7px,#00ffdc 214px,#00ffb0 223.5px,#00ff34 224px,#0f0 224.2px,#ff0 224.9px,#ff4600 225.5px,#f00 226px,#f00 267.5px,#ff0 270.5px,#2aff00 273px)"></i><i style="background:linear-gradient(#4f0 0,#5eff00 58px,#75ff00 76px,#96ff00 89.5px,#c8ff00 100.5px,#ff0 107.1px,#fff000 109px,#ffc300 112.5px,#ff9100 115.5px,#ff5b00 118px,#ff0700 121px,#f00 121.5px,#f00 132px,#ff3400 132.5px,#ff0 133.1px,#0f0 133.8px,#0ff 134.6px,#0073ff 135px,#00f 135.5px,#00f 158.5px,#001bff 169px,#00a6ff 196px,#00dbff 205px,#0ff 209.5px,#00ffdb 214px,#00ffaf 223.5px,#00ff34 224px,#0f0 224.2px,#ff0 224.9px,#ff4600 225.5px,#f00 226px,#f00 267.5px,#ff0 270.5px,#2aff00 273px)"></i><i style="background:linear-gradient(#4f0 0,#5eff00 58px,#76ff00 76px,#97ff00 89.5px,#caff00 100.5px,#ff0 106.8px,#ffec00 109px,#ffbe00 112.5px,#ff8b00 115.5px,#ff5300 118px,#f00 121px,#f00 132px,#ff3400 132.5px,#ff0 133.1px,#0f0 133.8px,#0ff 134.6px,#0075ff 135px,#00f 135.5px,#00f 158px,#001dff 169px,#00a8ff 196px,#00daff 204.5px,#0ff 209.2px,#00ffdc 213.5px,#00ffaf 223.5px,#00ff34 224px,#0f0 224.2px,#ff0 224.9px,#ff4600 225.5px,#f00 226px,#f00 267.5px,#ff0 270.5px,#2aff00 273px)"></i><i style="background:linear-gradient(#4f0 0,#5eff00 57.5px,#75ff00 75.5px,#96ff00 89px,#c8ff00 100px,#ff0 106.5px,#fe0 108.5px,#ffc100 112px,#ff8e00 115px,#ff4b00 118px,#ff0100 120.5px,#f00 132px,#f30 132.5px,#ff0 133.1px,#0f0 133.8px,#0ff 134.6px,#07f 135px,#00f 135.5px,#00f 157px,#001dff 168.5px,#00a7ff 195.5px,#00dbff 204.5px,#0ff 209px,#00ffdb 213.5px,#00ffaf 223.5px,#00ff34 224px,#0f0 224.2px,#ff0 224.9px,#ff4600 225.5px,#f00 226px,#f00 267.5px,#ff0 270.5px,#2aff00 273px)"></i><i style="background:linear-gradient(#4f0 0,#5eff00 58px,#75ff00 75.5px,#97ff00 89px,#caff00 100px,#ff0 106.2px,#ffeb00 108.5px,#ffbc00 112px,#f80 115px,#f00 120.5px,#f00 132px,#f30 132.5px,#ff0 133.1px,#0f0 133.9px,#0ff 134.6px,#0079ff 135px,#00f 135.5px,#00f 156px,#0020ff 168.5px,#00daff 204px,#0ff 208.7px,#00ffda 213.5px,#00ffaf 223.5px,#00ff34 224px,#0f0 224.2px,#ff0 224.9px,#ff4600 225.5px,#f00 226px,#f00 267.5px,#ff0 270.5px,#2aff00 273px)"></i><i style="background:linear-gradient(#4f0 0,#5eff00 57.5px,#75ff00 75px,#96ff00 88.5px,#c9ff00 99.5px,#ff0 105.9px,#ffed00 108px,#ffbf00 111.5px,#ff8b00 114.5px,#ff5400 117px,#f00 120px,#f00 132px,#f30 132.5px,#ff0 133.1px,#0f0 133.9px,#0ff 134.6px,#007bff 135px,#00f 135.5px,#00f 155px,#0020ff 168px,#00dcff 204px,#0ff 208.5px,#00ffd9 213.5px,#00ffaf 223.5px,#00ff34 224px,#0f0 224.2px,#ff0 224.9px,#ff4600 225.5px,#f00 226px,#f00 267.5px,#ff0 270.5px,#2aff00 273px)"></i><i style="background:linear-gradient(#4f0 0,#5eff00 57px,#74ff00 74.5px,#95ff00 88px,#c7ff00 99px,#ff0 105.7px,#fff000 107.5px,#ffc200 111px,#ff8f00 114px,#ff4b00 117px,#ff0100 119.5px,#f00 132px,#f30 132.5px,#ff0 133.1px,#0f0 133.9px,#0ff 134.6px,#007cff 135px,#00f 135.5px,#00f 154.5px,#0020ff 167.5px,#0085ff 186px,#00abff 195px,#00deff 204px,#0ff 208.3px,#00ffda 213px,#00ffb1 221.5px,#00ff65 222px,#0f0 222.3px,#ff0 223.1px,#f70 223.5px,#f00 224px,#f00 267.5px,#ff0 270.5px,#2aff00 273px)"></i><i style="background:linear-gradient(#4f0 0,#5eff00 57px,#75ff00 74.5px,#96ff00 88px,#c9ff00 99px,#ff0 105.3px,#ffec00 107.5px,#ffbe00 111px,#ff8900 114px,#f00 119.5px,#f00 130.5px,#ff0c00 131px,#ff0 131.7px,#0f0 132.5px,#0ff 133.2px,#00f 134px,#00f 153.5px,#02f 167.5px,#00dcff 203.5px,#0ff 208px,#00ffd9 213px,#00ffba 219.5px,#00ff9f 220px,#0f0 220.5px,#ff0 221.2px,#ff0400 222px,#f00 222.5px,#f00 267.5px,#ff0 270.5px,#2aff00 273px)"></i><i style="background:linear-gradient(#4f0 0,#5eff00 57px,#75ff00 74.5px,#97ff00 88px,#cbff00 99px,#ff0 105.1px,#fe0 107px,#ffc000 110.5px,#ff8c00 113.5px,#ff5400 116px,#f00 119px,#f00 129.5px,#ff8f00 130px,#ff0 130.3px,#0f0 131.1px,#0ff 131.8px,#0020ff 132.5px,#00f 133px,#00f 152.5px,#0023ff 167px,#00deff 203.5px,#0ff 207.8px,#00ffdb 212.5px,#00ffc0 218px,#00ff30 218.5px,#0f0 218.6px,#ff0 219.4px,#ff3700 220px,#f00 220.5px,#f00 267.5px,#ff0 270.5px,#2aff00 273px)"></i><i style="background:linear-gradient(#4f0 0,#5eff00 57px,#75ff00 74.5px,#97ff00 88px,#cf0 99px,#ff0 104.7px,#ffeb00 107px,#ffbc00 110.5px,#ff8600 113.5px,#ff4c00 116px,#ff0100 118.5px,#f00 128px,#ff6900 128.5px,#ff0 128.9px,#0f0 129.7px,#0ff 130.5px,#0046ff 131px,#00f 131.5px,#00f 151.5px,#0025ff 167px,#0087ff 185px,#00e0ff 203.5px,#0ff 207.6px,#00ffd9 212.5px,#00ffc0 218px,#00ff2f 218.5px,#0f0 218.6px,#ff0 219.4px,#ff3700 220px,#f00 220.5px,#f00 267.5px,#ff0 270.5px,#2aff00 273px)"></i><i style="background:linear-gradient(#4f0 0,#5fff00 57.5px,#7f0 75px,#98ff00 88px,#cbff00 98.5px,#ff0 104.5px,#ffed00 106.5px,#ffbf00 110px,#ff8a00 113px,#f00 118.5px,#f00 126.5px,#ff4300 127px,#ff0 127.6px,#0f0 128.3px,#0ff 129.1px,#006dff 129.5px,#00f 130px,#00f 150.5px,#0025ff 166.5px,#008aff 185px,#00deff 203px,#0ff 207.3px,#00ffd8 212.5px,#00ffbf 218px,#00ff2f 218.5px,#0f0 218.6px,#ff0 219.4px,#ff3700 220px,#f00 220.5px,#f00 267.5px,#ff0 270.5px,#2aff00 273px)"></i><i style="background:linear-gradient(#4f0 0,#5eff00 57px,#76ff00 74.5px,#97ff00 87.5px,#cdff00 98.5px,#ff0 104.1px,#ffea00 106.5px,#ff8d00 112.5px,#f50 115px,#f00 118px,#f00 126.5px,#ff4300 127px,#ff0 127.6px,#0f0 128.3px,#0ff 129.1px,#006fff 129.5px,#00f 130px,#00f 149.5px,#0025ff 166px,#008aff 184.5px,#00e0ff 203px,#0ff 207.1px,#00ffd7 212.5px,#00ffbe 218px,#00ff2e 218.5px,#0f0 218.6px,#ff0 219.4px,#ff3700 220px,#f00 220.5px,#f00 267.5px,#ff0 270.5px,#2aff00 273px)"></i><i style="background:linear-gradient(#4f0 0,#5eff00 56.5px,#75ff00 74px,#97ff00 87px,#cbff00 98px,#ff0 103.9px,#ffec00 106px,#ffbd00 109.5px,#ff8700 112.5px,#ff4d00 115px,#ff0100 117.5px,#f00 126.5px,#ff4200 127px,#ff0 127.6px,#0f0 128.3px,#0ff 129.1px,#0070ff 129.5px,#00f 130px,#00f 148.5px,#0027ff 166px,#008dff 184.5px,#00e1ff 203px,#0ff 206.9px,#00ffd9 212px,#00ffbd 218px,#00ff2e 218.5px,#0f0 218.6px,#ff0 219.4px,#ff3700 220px,#f00 220.5px,#f00 267.5px,#ff0 270.5px,#2aff00 273px)"></i><i style="background:linear-gradient(#4f0 0,#5eff00 56.5px,#76ff00 74px,#97ff00 87px,#caff00 97.5px,#ff0 103.6px,#ffef00 105.5px,#ffc000 109px,#ff8b00 112px,#f00 117.5px,#f00 126.5px,#ff4200 127px,#ff0 127.6px,#0f0 128.3px,#0ff 129.1px,#0072ff 129.5px,#00f 130px,#00f 147.5px,#0028ff 165.5px,#008dff 184px,#00e0ff 202.5px,#0ff 206.6px,#00ffd7 212px,#00ffbc 218px,#00ff2d 218.5px,#0f0 218.6px,#ff0 219.4px,#ff3700 220px,#f00 220.5px,#f00 267.5px,#ff0 270.5px,#2aff00 273px)"></i><i style="background:linear-gradient(#4f0 0,#5eff00 56px,#75ff00 73.5px,#96ff00 86.5px,#cf0 97.5px,#ff0 103.3px,#ffeb00 105.5px,#fb0 109px,#ff8400 112px,#ff4900 114.5px,#f00 117px,#f00 126.5px,#ff4200 127px,#ff0 127.6px,#0f0 128.3px,#0ff 129.1px,#0074ff 129.5px,#00f 130px,#00f 146.5px,#002aff 165.5px,#008fff 184px,#00e2ff 202.5px,#0ff 206.4px,#00ffd6 212px,#00ffbc 218px,#00ff2c 218.5px,#0f0 218.6px,#ff0 219.4px,#ff3700 220px,#f00 220.5px,#f00 267.5px,#ff0 270.5px,#2aff00 273px)"></i><i style="background:linear-gradient(#4f0 0,#5eff00 56px,#76ff00 73.5px,#97ff00 86.5px,#caff00 97px,#ff0 103px,#fe0 105px,#ffbe00 108.5px,#f80 111.5px,#ff4e00 114px,#ff0200 116.5px,#f00 126.5px,#ff4200 127px,#ff0 127.6px,#0f0 128.3px,#0ff 129.1px,#0075ff 129.5px,#00f 130px,#0002ff 146.5px,#002aff 165px,#008eff 183.5px,#00e3ff 202.5px,#0ff 206.3px,#00ffd5 212px,#0fb 218px,#00ff2c 218.5px,#0f0 218.6px,#ff0 219.4px,#ff3600 220px,#f00 220.5px,#f00 267.5px,#ff0 270.5px,#2aff00 273px)"></i><i style="background:linear-gradient(#4f0 0,#5eff00 56px,#75ff00 73px,#96ff00 86px,#cf0 97px,#ff0 102.7px,#ffea00 105px,#ffc100 108px,#ff8c00 111px,#f00 116.5px,#f00 126.5px,#ff4200 127px,#ff0 127.6px,#0f0 128.3px,#0ff 129.1px,#0076ff 129.5px,#00f 130px,#0003ff 146px,#002dff 165px,#0090ff 183.5px,#00e2ff 202px,#0ff 206px,#00ffd7 211.5px,#00ffba 218px,#00ff2b 218.5px,#0f0 218.6px,#ff0 219.4px,#ff3600 220px,#f00 220.5px,#f00 267.5px,#ff0 270.5px,#2aff00 273px)"></i><i style="background:linear-gradient(#4f0 0,#5eff00 55.5px,#75ff00 72.5px,#96ff00 85.5px,#caff00 96.5px,#ff0 102.4px,#ffec00 104.5px,#ffbc00 108px,#ff8600 111px,#ff4a00 113.5px,#f00 116px,#f00 126.5px,#ff4200 127px,#ff0 127.6px,#0f0 128.3px,#0ff 129.1px,#07f 129.5px,#00f 130px,#0004ff 145.5px,#002dff 164.5px,#0091ff 183.5px,#00e3ff 202px,#0ff 205.8px,#00ffd6 211.5px,#00ffb9 218px,#00ff2a 218.5px,#0f0 218.6px,#ff0 219.4px,#ff3600 220px,#f00 220.5px,#f00 267.5px,#ff0 270.5px,#2aff00 273px)"></i><i style="background:linear-gradient(#4f0 0,#5eff00 55.5px,#75ff00 72.5px,#96ff00 85.5px,#c9ff00 96px,#ff0 102.2px,#ffef00 104px,#ffbf00 107.5px,#ff8900 110.5px,#ff4f00 113px,#ff0300 115.5px,#f00 126.5px,#ff4100 127px,#ff0 127.6px,#0f0 128.3px,#0ff 129.1px,#0078ff 129.5px,#00f 130px,#0005ff 145.5px,#002eff 164px,#0091ff 183px,#00e5ff 202px,#0ff 205.6px,#00ffd5 211.5px,#00ffb9 218px,#00ff2a 218.5px,#0f0 218.6px,#ff0 219.4px,#ff3600 220px,#f00 220.5px,#f00 267.5px,#ff0 270.5px,#2aff00 273px)"></i><i style="background:linear-gradient(#4f0 0,#5eff00 55px,#74ff00 72px,#96ff00 85px,#cbff00 96px,#ff0 101.8px,#ffeb00 104px,#ffc200 107px,#ff8d00 110px,#ff5400 112.5px,#f00 115.5px,#f00 126.5px,#ff4100 127px,#ff0 127.6px,#0f0 128.3px,#0ff 129.1px,#0079ff 129.5px,#00f 130px,#0006ff 145px,#0030ff 164px,#0092ff 183px,#00e4ff 201.5px,#0ff 205.4px,#00ffd4 211.5px,#00ffb8 218px,#00ff29 218.5px,#0f0 218.6px,#ff0 219.4px,#ff3600 220px,#f00 220.5px,#f00 267.5px,#ff0 270.5px,#2aff00 273px)"></i><i style="background:linear-gradient(#4f0 0,#5eff00 55px,#75ff00 72px,#96ff00 85px,#c9ff00 95.5px,#ff0 101.5px,#fe0 103.5px,#ffbe00 107px,#ff8700 110px,#ff4b00 112.5px,#f00 115px,#f00 126.5px,#ff4100 127px,#ff0 127.6px,#0f0 128.3px,#0ff 129.1px,#007aff 129.5px,#00f 130px,#0007ff 144.5px,#0030ff 163.5px,#0092ff 182.5px,#00e5ff 201.5px,#0ff 205.2px,#00ffd6 211px,#00ffb7 218px,#00ff28 218.5px,#0f0 218.6px,#ff0 219.4px,#ff3600 220px,#f00 220.5px,#f00 267.5px,#ff0 270.5px,#2aff00 273px)"></i><i style="background:linear-gradient(#4f0 0,#5eff00 55px,#75ff00 72px,#97ff00 85px,#cbff00 95.5px,#ff0 101.2px,#ffea00 103.5px,#ffc100 106.5px,#ff8b00 109.5px,#ff5000 112px,#ff0400 114.5px,#f00 125px,#ff1c00 125.5px,#ff0 126.2px,#0f0 126.9px,#0ff 127.7px,#009fff 128px,#00f 128.5px,#0009ff 144.5px,#0032ff 163.5px,#0093ff 182.5px,#00e6ff 201.5px,#0ff 205px,#00ffd4 211px,#00ffb6 218px,#00ff28 218.5px,#0f0 218.6px,#ff0 219.4px,#ff3500 220px,#f00 220.5px,#f00 267.5px,#ff0 270.5px,#2aff00 273px)"></i><i style="background:linear-gradient(#4f0 0,#5eff00 55px,#76ff00 72px,#96ff00 84.5px,#caff00 95px,#ff0 100.9px,#ffed00 103px,#ffc400 106px,#ff8f00 109px,#f50 111.5px,#f00 114.5px,#f00 124px,#ff9d00 124.5px,#ff0 124.8px,#0f0 125.6px,#0ff 126.3px,#001eff 127px,#00f 127.5px,#000aff 144px,#03f 163px,#0092ff 182px,#00e5ff 201px,#0ff 204.7px,#00ffd3 211px,#00ffb5 218px,#00ff27 218.5px,#0f0 218.6px,#ff0 219.4px,#ff3500 220px,#f00 220.5px,#f00 267.5px,#ff0 270.5px,#2aff00 273px)"></i><i style="background:linear-gradient(#43ff00 0,#5eff00 55px,#76ff00 72px,#97ff00 84.5px,#cf0 95px,#ff0 100.6px,#ffe900 103px,#ffbf00 106px,#f80 109px,#ff4d00 111.5px,#f00 114px,#f00 122.5px,#f70 123px,#ff0 123.4px,#0f0 124.2px,#0ff 124.9px,#0043ff 125.5px,#00f 126px,#000bff 143.5px,#0035ff 163px,#0094ff 182px,#00e7ff 201px,#0ff 204.5px,#00ffd2 211px,#00ffb5 218px,#00ff27 218.5px,#0f0 218.6px,#ff0 219.4px,#ff3500 220px,#f00 220.5px,#f00 267.5px,#ff0 270.5px,#2aff00 273px)"></i><i style="background:linear-gradient(#43ff00 0,#5eff00 55px,#7f0 72px,#98ff00 84.5px,#caff00 94.5px,#ff0 100.3px,#ffeb00 102.5px,#ffc200 105.5px,#ff8c00 108.5px,#ff5200 111px,#ff0500 113.5px,#f00 114px,#f00 121px,#ff5200 121.5px,#ff0 122px,#0f0 122.8px,#0ff 123.5px,#0068ff 124px,#00f 124.5px,#000cff 143px,#0035ff 162.5px,#00e8ff 201px,#0ff 204.3px,#00ffd4 210.5px,#00ffb4 218px,#00ff26 218.5px,#0f0 218.6px,#ff0 219.4px,#ff3500 220px,#f00 220.5px,#f00 267.5px,#ff0 270.5px,#2aff00 273px)"></i><i style="background:linear-gradient(#43ff00 0,#5eff00 54.5px,#76ff00 71.5px,#98ff00 84px,#c9ff00 94px,#ff0 100.1px,#fe0 102px,#ffc500 105px,#ff9000 108px,#ff5700 110.5px,#f00 113.5px,#f00 121px,#ff5100 121.5px,#ff0 122px,#0f0 122.8px,#0ff 123.5px,#0069ff 124px,#00f 124.5px,#000eff 143px,#0038ff 162.5px,#00e7ff 200.5px,#0ff 204px,#00ffd3 210.5px,#00ffb3 218px,#00ff25 218.5px,#0f0 218.6px,#ff0 219.4px,#ff3500 220px,#f00 220.5px,#f00 267.5px,#ff0 270.5px,#2aff00 273px)"></i><i style="background:linear-gradient(#43ff00 0,#5eff00 54.5px,#7f0 71.5px,#9f0 84px,#cbff00 94px,#ff0 99.7px,#ffea00 102px,#ffc000 105px,#ff8a00 108px,#ff4e00 110.5px,#f00 113px,#f00 121px,#ff5100 121.5px,#ff0 122px,#0f0 122.8px,#0ff 123.6px,#006aff 124px,#00f 124.5px,#000fff 142.5px,#0038ff 162px,#00e8ff 200.5px,#0ff 203.9px,#00ffd2 210.5px,#00ffb2 218px,#00ff25 218.5px,#0f0 218.6px,#ff0 219.4px,#ff3500 220px,#f00 220.5px,#f00 267.5px,#ff0 270.5px,#2aff00 273px)"></i><i style="background:linear-gradient(#43ff00 0,#5eff00 54px,#76ff00 71px,#98ff00 83.5px,#c9ff00 93.5px,#ff0 99.5px,#ffed00 101.5px,#ffc400 104.5px,#ff8e00 107.5px,#f00 113px,#f00 121px,#ff5100 121.5px,#ff0 122px,#0f0 122.8px,#0ff 123.6px,#006bff 124px,#00f 124.5px,#0010ff 142.5px,#003aff 162px,#0096ff 181px,#0bf 191px,#00eaff 200.5px,#0ff 203.7px,#00ffd1 210.5px,#00ffb2 218px,#00ff24 218.5px,#0f0 218.6px,#ff0 219.4px,#ff3500 220px,#f00 220.5px,#f00 267.5px,#ff0 270.5px,#2aff00 273px)"></i><i style="background:linear-gradient(#4f0 0,#5eff00 54px,#76ff00 70.5px,#97ff00 83px,#cbff00 93.5px,#ff0 99.1px,#ffe900 101.5px,#ffbf00 104.5px,#ff8700 107.5px,#ff4b00 110px,#f00 112.5px,#f00 121px,#ff5100 121.5px,#ff0 122px,#0f0 122.8px,#0ff 123.6px,#006cff 124px,#00f 124.5px,#01f 142px,#003bff 161.5px,#0098ff 181px,#00bdff 191px,#00ebff 200.5px,#0ff 203.5px,#00ffd3 210px,#00ffb1 218px,#00ff24 218.5px,#0f0 218.6px,#ff0 219.4px,#ff3500 220px,#f00 220.5px,#f00 267.5px,#ff0 270.5px,#2aff00 273px)"></i><i style="background:linear-gradient(#4f0 0,#5eff00 54px,#76ff00 70.5px,#98ff00 83px,#caff00 93px,#ff0 98.8px,#ffeb00 101px,#ffc200 104px,#ff8b00 107px,#ff5000 109.5px,#ff0300 112px,#f00 121px,#ff5100 121.5px,#ff0 122px,#0f0 122.8px,#0ff 123.6px,#006dff 124px,#00f 124.5px,#0013ff 142px,#003bff 161px,#0097ff 180.5px,#00beff 191px,#00ecff 200.5px,#0ff 203.3px,#00ffd2 210px,#00ffb0 218px,#00ff23 218.5px,#0f0 218.6px,#ff0 219.4px,#ff3400 220px,#f00 220.5px,#f00 267.5px,#ff0 270.5px,#2aff00 273px)"></i><i style="background:linear-gradient(#4f0 0,#5eff00 53.5px,#76ff00 70px,#97ff00 82.5px,#c8ff00 92.5px,#ff0 98.6px,#fe0 100.5px,#ffc500 103.5px,#ff8f00 106.5px,#f50 109px,#f00 112px,#f00 121px,#ff5100 121.5px,#ff0 122px,#0f0 122.8px,#0ff 123.6px,#006fff 124px,#00f 124.5px,#0014ff 141.5px,#003dff 161px,#0098ff 180.5px,#00bdff 190.5px,#00ebff 200px,#0ff 203px,#00ffd1 210px,#00ffb0 218px,#0f2 218.5px,#0f0 218.6px,#ff0 219.4px,#ff3400 220px,#f00 220.5px,#f00 267.5px,#ff0 270.5px,#2aff00 273px)"></i><i style="background:linear-gradient(#4f0 0,#5eff00 53.5px,#76ff00 70px,#98ff00 82.5px,#caff00 92.5px,#ff0 98.2px,#ffea00 100.5px,#ffc000 103.5px,#ff8900 106.5px,#ff4d00 109px,#f00 111.5px,#f00 121px,#ff5100 121.5px,#ff0 122px,#0f0 122.8px,#0ff 123.6px,#0070ff 124px,#00f 124.5px,#0025ff 150.5px,#003eff 160.5px,#009aff 180.5px,#00bfff 190.5px,#00ecff 200px,#0ff 202.8px,#00ffd0 210px,#00ffaf 218px,#0f2 218.5px,#0f0 218.6px,#ff0 219.4px,#ff3400 220px,#f00 220.5px,#f00 267.5px,#ff0 270.5px,#2aff00 273px)"></i><i style="background:linear-gradient(#4f0 0,#5eff00 53px,#76ff00 69.5px,#97ff00 82px,#c9ff00 92px,#ff0 98px,#ffed00 100px,#ffc300 103px,#ff8d00 106px,#ff5200 108.5px,#ff0500 111px,#f00 111.5px,#f00 121px,#ff5100 121.5px,#ff0 122px,#0f0 122.8px,#0ff 123.6px,#0071ff 124px,#00f 124.5px,#0027ff 150.5px,#0040ff 160.5px,#09f 180px,#00beff 190px,#0ef 200px,#0ff 202.6px,#00ffd2 209.5px,#00ffae 218px,#00ff21 218.5px,#0f0 218.6px,#ff0 219.4px,#ff3400 220px,#f00 220.5px,#f00 267.5px,#ff0 270.5px,#2aff00 273px)"></i><i style="background:linear-gradient(#4f0 0,#5eff00 52.5px,#75ff00 69px,#96ff00 81.5px,#cbff00 92px,#ff0 97.6px,#ffe900 100px,#ffbe00 103px,#ff8700 106px,#ff5700 108px,#f00 111px,#f00 121px,#ff5000 121.5px,#ff0 122px,#0f0 122.8px,#0ff 123.6px,#0072ff 124px,#00f 124.5px,#0027ff 150px,#0040ff 160px,#00bfff 190px,#00edff 199.5px,#0ff 202.4px,#00ffd1 209.5px,#00ffad 218px,#00ff21 218.5px,#0f0 218.6px,#ff0 219.4px,#ff3400 220px,#f00 220.5px,#f00 267.5px,#ff0 270.5px,#2aff00 273px)"></i><i style="background:linear-gradient(#4f0 0,#5fff00 53px,#76ff00 69px,#98ff00 81.5px,#caff00 91.5px,#ff0 97.4px,#ffeb00 99.5px,#ffc200 102.5px,#ff8b00 105.5px,#ff4f00 108px,#ff0100 110.5px,#f00 121px,#ff5000 121.5px,#ff0 122px,#0f0 122.8px,#0ff 123.6px,#0073ff 124px,#0001ff 124.5px,#0029ff 150px,#0042ff 160px,#00c0ff 190px,#0ef 199.5px,#0ff 202.2px,#00ffd0 209.5px,#00ffad 218px,#00ff20 218.5px,#0f0 218.6px,#ff0 219.4px,#ff3400 220px,#f00 220.5px,#f00 267.5px,#ff0 270.5px,#2aff00 273px)"></i><i style="background:linear-gradient(#4f0 0,#5fff00 53px,#76ff00 69px,#9f0 81.5px,#cf0 91.5px,#ff0 97px,#ffe800 99.5px,#ff8f00 105px,#ff5400 107.5px,#ff0800 110px,#f00 110.5px,#f00 119.5px,#ff2b00 120px,#ff0 120.6px,#0f0 121.4px,#0ff 122.2px,#0098ff 122.5px,#00f 123px,#002aff 149.5px,#0043ff 159.5px,#00c0ff 189.5px,#00efff 199.5px,#0ff 202px,#00ffcf 209.5px,#00ffac 218px,#00ff1f 218.5px,#0f0 218.6px,#ff0 219.4px,#ff3400 220px,#f00 220.5px,#f00 267.5px,#ff0 270.5px,#2aff00 273px)"></i><i style="background:linear-gradient(#4f0 0,#5fff00 53px,#78ff00 69.5px,#9aff00 81.5px,#ceff00 91.5px,#ff0 96.8px,#ffea00 99px,#ffc000 102px,#ff8900 105px,#ff4c00 107.5px,#f00 110px,#f00 118px,#ff0600 118.5px,#ff0 119.3px,#0f0 120px,#0ff 120.8px,#0017ff 121.5px,#00f 122px,#002cff 149.5px,#0045ff 159.5px,#00c1ff 189.5px,#00f1ff 199.5px,#0ff 201.8px,#00ffce 209.5px,#00ffab 218px,#00ff1f 218.5px,#0f0 218.6px,#ff0 219.4px,#ff3400 220px,#f00 220.5px,#f00 267.5px,#ff0 270.5px,#2aff00 273px)"></i><i style="background:linear-gradient(#4f0 0,#5fff00 52.5px,#76ff00 68.5px,#9f0 81px,#cf0 91px,#ff0 96.5px,#ffed00 98.5px,#ffc300 101.5px,#ff8d00 104.5px,#ff5100 107px,#ff0400 109.5px,#f00 117px,#ff8600 117.5px,#ff0 117.9px,#0f0 118.6px,#0ff 119.4px,#003cff 120px,#00f 120.5px,#002dff 149px,#0045ff 159px,#00c2ff 189.5px,#00efff 199px,#0ff 201.5px,#00ffd0 209px,#00ffab 218px,#00ff1e 218.5px,#0f0 218.6px,#ff0 219.4px,#ff3400 220px,#f00 220.5px,#f00 267.5px,#ff0 270.5px,#2aff00 273px)"></i><i style="background:linear-gradient(#4f0 0,#5fff00 52.5px,#78ff00 69px,#9aff00 81px,#ceff00 91px,#ff0 96.2px,#ffe900 98.5px,#ffbe00 101.5px,#ff8600 104.5px,#f00 109.5px,#f00 115.5px,#ff6100 116px,#ff0 116.5px,#0f0 117.2px,#0ff 118px,#0060ff 118.5px,#00f 119px,#002eff 148.5px,#0047ff 159px,#00c1ff 189px,#00f0ff 199px,#0ff 201.3px,#00ffce 209px,#0fa 218px,#00ff1e 218.5px,#0f0 218.6px,#ff0 219.4px,#ff3400 220px,#f00 220.5px,#f00 267.5px,#ff0 270.5px,#2aff00 273px)"></i><i style="background:linear-gradient(#4f0 0,#5fff00 52px,#7f0 68.5px,#9f0 80.5px,#cdff00 90.5px,#ff0 95.9px,#ffeb00 98px,#ffc100 101px,#ff8a00 104px,#ff4e00 106.5px,#f00 109px,#f00 115.5px,#ff6000 116px,#ff0 116.5px,#0f0 117.3px,#0ff 118px,#0061ff 118.5px,#00f 119px,#002fff 148.5px,#0048ff 158.5px,#00c3ff 189px,#00f2ff 199px,#0ff 201.1px,#00ffce 209px,#00ffa9 218px,#00ff1d 218.5px,#0f0 218.6px,#ff0 219.4px,#ff3400 220px,#f00 220.5px,#f00 267.5px,#ff0 270.5px,#2aff00 273px)"></i><i style="background:linear-gradient(#4f0 0,#5fff00 52px,#78ff00 68.5px,#9aff00 80.5px,#cfff00 90.5px,#ff0 95.6px,#ffe800 98px,#ff8f00 103.5px,#f00 109px,#f00 115.5px,#ff6000 116px,#ff0 116.5px,#0f0 117.3px,#0ff 118px,#0062ff 118.5px,#00f 119px,#004aff 158.5px,#00c4ff 189px,#00f1ff 198.5px,#0ff 200.8px,#00ffcd 209px,#00ffa8 218px,#00ff1d 218.5px,#0f0 218.6px,#ff0 219.4px,#ff3400 220px,#f00 220.5px,#f00 267.5px,#ff0 270.5px,#2aff00 273px)"></i><i style="background:linear-gradient(#4f0 0,#5fff00 52px,#78ff00 68px,#9f0 80px,#cdff00 90px,#ff0 95.3px,#ffea00 97.5px,#ffc000 100.5px,#f80 103.5px,#ff4c00 106px,#f00 108.5px,#f00 115.5px,#ff6000 116px,#ff0 116.5px,#0f0 117.3px,#0ff 118px,#0063ff 118.5px,#0001ff 119px,#004aff 158px,#00c3ff 188.5px,#00f2ff 198.5px,#0ff 200.6px,#00ffce 208.5px,#00ffa8 218px,#00ff1c 218.5px,#0f0 218.6px,#ff0 219.4px,#ff3400 220px,#f00 220.5px,#f00 267.5px,#ff0 270.5px,#2aff00 273px)"></i><i style="background:linear-gradient(#4f0 0,#60ff00 52px,#78ff00 68px,#9aff00 80px,#cfff00 90px,#ff0 95px,#ffe700 97.5px,#fb0 100.5px,#ff8200 103.5px,#ff4300 106px,#ff0300 108px,#f00 115.5px,#ff6000 116px,#ff0 116.5px,#0f0 117.3px,#0ff 118px,#0064ff 118.5px,#0002ff 119px,#004cff 158px,#00c5ff 188.5px,#00f3ff 198.5px,#0ff 200.4px,#00ffcd 208.5px,#00ffa7 218px,#00ff1b 218.5px,#0f0 218.6px,#ff0 219.4px,#ff3400 220px,#f00 220.5px,#f00 267.5px,#ff0 270.5px,#2aff00 273px)"></i><i style="background:linear-gradient(#4f0 0,#5fff00 51.5px,#78ff00 67.5px,#9aff00 79.5px,#ceff00 89.5px,#ff0 94.7px,#ffe900 97px,#ffbe00 100px,#ff8600 103px,#f00 108px,#f00 115.5px,#ff6000 116px,#ff0 116.5px,#0f0 117.3px,#0ff 118px,#06f 118.5px,#0004ff 119px,#004eff 158px,#00c6ff 188.5px,#00f5ff 198.5px,#0ff 200.2px,#00ffcd 208.5px,#00ffa6 218px,#00ff1b 218.5px,#0f0 218.6px,#ff0 219.4px,#ff3400 220px,#f00 220.5px,#f00 267.5px,#ff0 270.5px,#2aff00 273px)"></i><i style="background:linear-gradient(#4f0 0,#5fff00 51px,#7f0 67px,#9f0 79px,#cf0 89px,#ff0 94.4px,#ffec00 96.5px,#ffc200 99.5px,#ff8b00 102.5px,#ff4e00 105px,#f00 107.5px,#f00 115.5px,#ff6000 116px,#ff0 116.5px,#0f0 117.3px,#0ff 118px,#0067ff 118.5px,#0005ff 119px,#004fff 157.5px,#00c5ff 188px,#00f3ff 198px,#0ff 200px,#0fc 208.5px,#00ffa6 218px,#00ff1a 218.5px,#0f0 218.6px,#ff0 219.4px,#ff3400 220px,#f00 220.5px,#f00 267.5px,#ff0 270.5px,#2aff00 273px)"></i><i style="background:linear-gradient(#4f0 0,#5fff00 51px,#78ff00 67px,#9aff00 79px,#ceff00 89px,#ff0 94.1px,#ffe800 96.5px,#ff8f00 102px,#ff5400 104.5px,#ff0700 107px,#f00 107.5px,#f00 115.5px,#ff6000 116px,#ff0 116.5px,#0f0 117.3px,#0ff 118px,#0068ff 118.5px,#0006ff 119px,#0051ff 157.5px,#00c6ff 188px,#00f4ff 198px,#0ff 199.8px,#00ffcd 208px,#00ffa5 218px,#00ff1a 218.5px,#0f0 218.6px,#ff0 219.4px,#f30 220px,#f00 220.5px,#f00 267.5px,#ff0 270.5px,#2aff00 273px)"></i><i style="background:linear-gradient(#4f0 0,#5fff00 50.5px,#7f0 66.5px,#9f0 78.5px,#cdff00 88.5px,#ff0 93.8px,#ffeb00 96px,#ffc000 99px,#ff8900 102px,#ff4c00 104.5px,#f00 107px,#f00 115.5px,#ff6000 116px,#ff0 116.5px,#0f0 117.3px,#0ff 118px,#0069ff 118.5px,#0008ff 119px,#0051ff 157px,#00c8ff 188px,#00f6ff 198px,#0ff 199.5px,#0fc 208px,#00ffa4 218px,#00ff1a 218.5px,#0f0 218.6px,#ff0 219.4px,#f30 220px,#f00 220.5px,#f00 267.5px,#ff0 270.5px,#2aff00 273px)"></i><i style="background:linear-gradient(#4f0 0,#5fff00 50.5px,#78ff00 66.5px,#9aff00 78.5px,#cfff00 88.5px,#ff0 93.5px,#ffe700 96px,#fb0 99px,#ff8200 102px,#ff4300 104.5px,#ff0300 106.5px,#f00 115.5px,#ff5f00 116px,#ff0 116.5px,#0f0 117.3px,#0ff 118px,#006bff 118.5px,#0009ff 119px,#0053ff 157px,#00c7ff 187.5px,#00f5ff 197.5px,#0ff 199.3px,#00ffcb 208px,#00ffa4 218px,#00ff1a 218.5px,#0f0 218.6px,#ff0 219.4px,#f30 220px,#f00 220.5px,#f00 267.5px,#ff0 270.5px,#2aff00 273px)"></i><i style="background:linear-gradient(#4f0 0,#60ff00 50.5px,#7f0 66px,#9f0 78px,#cdff00 88px,#ff0 93.2px,#ffea00 95.5px,#ffbf00 98.5px,#ff8700 101.5px,#f00 106.5px,#f00 115.5px,#ff5f00 116px,#ff0 116.5px,#0f0 117.3px,#0ff 118px,#006cff 118.5px,#000aff 119px,#0053ff 156.5px,#00c8ff 187.5px,#00f6ff 197.5px,#0ff 199.1px,#00ffcb 208px,#00ffa3 218px,#00ff19 218.5px,#0f0 218.6px,#ff0 219.4px,#f30 220px,#f00 220.5px,#f00 267.5px,#ff0 270.5px,#2aff00 273px)"></i><i style="background:linear-gradient(#4f0 0,#60ff00 50.5px,#78ff00 66px,#9aff00 78px,#cfff00 88px,#ff0 92.9px,#ffe600 95.5px,#ffba00 98.5px,#ff8000 101.5px,#ff4100 104px,#f00 106px,#f00 115.5px,#ff5f00 116px,#ff0 116.5px,#0f0 117.3px,#0ff 118.1px,#006dff 118.5px,#000cff 119px,#05f 156.5px,#00c9ff 187.5px,#00f7ff 197.5px,#0ff 198.9px,#00ffca 208px,#00ffa2 218px,#00ff19 218.5px,#0f0 218.6px,#ff0 219.4px,#f30 220px,#f00 220.5px,#f00 267.5px,#ff0 270.5px,#2aff00 273px)"></i><i style="background:linear-gradient(#4f0 0,#60ff00 50px,#7f0 65.5px,#9f0 77.5px,#ceff00 87.5px,#ff0 92.7px,#ffe900 95px,#ff8f00 100.5px,#ff5400 103px,#ff0700 105.5px,#f00 106px,#f00 115.5px,#ff5f00 116px,#ff0 116.5px,#0f0 117.3px,#0ff 118.1px,#006eff 118.5px,#000dff 119px,#0056ff 156px,#00c8ff 187px,#00f8ff 197.5px,#0ff 198.6px,#00ffcb 207.5px,#00ffa2 218px,#00ff19 218.5px,#0f0 218.6px,#ff0 219.4px,#f30 220px,#f00 220.5px,#f00 267.5px,#ff0 270.5px,#2aff00 273px)"></i><i style="background:linear-gradient(#4f0 0,#5fff00 49.5px,#7f0 65px,#98ff00 77px,#cf0 87px,#ff0 92.4px,#ffeb00 94.5px,#ffc100 97.5px,#ff8900 100.5px,#ff4c00 103px,#f00 105.5px,#f00 115.5px,#ff5e00 116px,#ff0 116.5px,#0f0 117.3px,#0ff 118.1px,#0070ff 118.5px,#000fff 119px,#0058ff 156px,#00caff 187px,#00f7ff 197px,#0ff 198.4px,#00ffca 207.5px,#00ffa2 218px,#00ff19 218.5px,#0f0 218.6px,#ff0 219.4px,#f30 220px,#f00 220.5px,#f00 267.5px,#ff0 270.5px,#2aff00 273px)"></i><i style="background:linear-gradient(#4f0 0,#5fff00 49.5px,#7f0 65px,#9f0 77px,#ceff00 87px,#ff0 92.1px,#ffe800 94.5px,#ffbc00 97.5px,#ff8300 100.5px,#f40 103px,#ff0300 105px,#f00 114px,#ff3a00 114.5px,#ff0 115.1px,#0f0 115.9px,#0ff 116.7px,#0093ff 117px,#000dff 117.5px,#0058ff 155.5px,#00cbff 187px,#00f8ff 197px,#0ff 198.2px,#00ffca 207.5px,#00ffa1 218px,#00ff18 218.5px,#0f0 218.6px,#ff0 219.4px,#f30 220px,#f00 220.5px,#f00 267.5px,#ff0 270.5px,#2aff00 273px)"></i><i style="background:linear-gradient(#4f0 0,#60ff00 49.5px,#78ff00 65px,#9aff00 77px,#cdff00 86.5px,#ff0 91.8px,#ffea00 94px,#ffc000 97px,#ff8700 100px,#ff5700 102px,#f00 105px,#f00 112.5px,#ff1500 113px,#ff0 113.7px,#0f0 114.5px,#0ff 115.3px,#0014ff 116px,#000dff 116.5px,#005aff 155.5px,#00caff 186.5px,#00faff 197px,#0ff 198px,#00ffc9 207.5px,#00ffa1 218px,#00ff18 218.5px,#0f0 218.6px,#ff0 219.4px,#f30 220px,#f00 220.5px,#f00 267.5px,#ff0 270.5px,#2aff00 273px)"></i><i style="background:linear-gradient(#4f0 0,#60ff00 49.5px,#78ff00 65px,#9bff00 77px,#cfff00 86.5px,#ff0 91.5px,#ffe700 94px,#fb0 97px,#ff8100 100px,#ff4100 102.5px,#f00 104.5px,#f00 111.5px,#ff9400 112px,#ff0 112.3px,#0f0 113.1px,#0ff 113.9px,#0037ff 114.5px,#000bff 115px,#005cff 155.5px,#0cf 186.5px,#0ff 196.6px,#00ffca 207px,#00ffa1 218px,#00ff18 218.5px,#0f0 218.6px,#ff0 219.4px,#f30 220px,#f00 220.5px,#f00 267.5px,#ff0 270.5px,#2aff00 273px)"></i><i style="background:linear-gradient(#4f0 0,#60ff00 49.5px,#79ff00 65px,#9cff00 77px,#d1ff00 86.5px,#ff0 91.3px,#ffea00 93.5px,#ff9000 99px,#f50 101.5px,#ff0700 104px,#f00 104.5px,#f00 110px,#ff6f00 110.5px,#ff0 110.9px,#0f0 111.7px,#0ff 112.5px,#005bff 113px,#000aff 113.5px,#005cff 155px,#00cbff 186px,#00faff 196.5px,#0ff 197.5px,#00ffc9 207px,#00ffa0 218px,#00ff18 218.5px,#0f0 218.6px,#ff0 219.4px,#f30 220px,#f00 220.5px,#f00 267.5px,#ff0 270.5px,#2aff00 273px)"></i><i style="background:linear-gradient(#4f0 0,#60ff00 49.5px,#79ff00 65px,#9bff00 76.5px,#cfff00 86px,#ff0 91px,#ffe600 93.5px,#ff8a00 99px,#ff4d00 101.5px,#f00 104px,#f00 110px,#ff6f00 110.5px,#ff0 110.9px,#0f0 111.7px,#0ff 112.5px,#005cff 113px,#000bff 113.5px,#005eff 155px,#0cf 186px,#0ff 196.2px,#00ffc8 207px,#00ffa0 218px,#00ff17 218.5px,#0f0 218.6px,#ff0 219.4px,#f30 220px,#f00 220.5px,#f00 267.5px,#ff0 270.5px,#2aff00 273px)"></i><i style="background:linear-gradient(#4f0 0,#60ff00 49.5px,#7aff00 65px,#9cff00 76.5px,#d1ff00 86px,#ff0 90.7px,#ffe900 93px,#ffbd00 96px,#ff8400 99px,#ff4500 101.5px,#ff0400 103.5px,#f00 110px,#ff6e00 110.5px,#ff0 110.9px,#0f0 111.7px,#0ff 112.5px,#005dff 113px,#000cff 113.5px,#005fff 154.5px,#00cdff 186px,#0ff 195.9px,#00ffc8 207px,#00ffa0 218px,#00ff17 218.5px,#0f0 218.6px,#ff0 219.4px,#f30 220px,#f00 220.5px,#f00 267.5px,#ff0 270.5px,#2aff00 273px)"></i><i style="background:linear-gradient(#4f0 0,#60ff00 49px,#79ff00 64.5px,#9bff00 76px,#cfff00 85.5px,#ff0 90.4px,#ffe500 93px,#ff8900 98.5px,#ff5800 100.5px,#f00 103.5px,#f00 110px,#ff6e00 110.5px,#ff0 110.9px,#0f0 111.7px,#0ff 112.5px,#005eff 113px,#000eff 113.5px,#0061ff 154.5px,#00cdff 185.5px,#0ff 195.7px,#00ffc7 207px,#00ff9f 218px,#00ff17 218.5px,#0f0 218.6px,#ff0 219.4px,#f30 220px,#f00 220.5px,#f00 267.5px,#ff0 270.5px,#2aff00 273px)"></i><i style="background:linear-gradient(#4f0 0,#60ff00 49px,#79ff00 64.5px,#9cff00 76px,#d1ff00 85.5px,#ff0 90.2px,#ffe800 92.5px,#ffbc00 95.5px,#ff8200 98.5px,#ff4200 101px,#ff0100 103px,#f00 110px,#ff6e00 110.5px,#ff0 110.9px,#0f0 111.7px,#0ff 112.5px,#0060ff 113px,#000fff 113.5px,#0061ff 154px,#00ceff 185.5px,#0ff 195.5px,#00ffc8 206.5px,#00ff9f 218px,#00ff16 218.5px,#0f0 218.6px,#ff0 219.4px,#f30 220px,#f00 220.5px,#f00 267.5px,#ff0 270.5px,#2aff00 273px)"></i><i style="background:linear-gradient(#4f0 0,#60ff00 48.5px,#79ff00 64px,#9bff00 75.5px,#cfff00 85px,#ff0 89.9px,#ffe500 92.5px,#ff8700 98px,#f00 103px,#f00 110px,#ff6e00 110.5px,#ff0 110.9px,#0f0 111.7px,#0ff 112.5px,#0061ff 113px,#01f 113.5px,#0063ff 154px,#00cfff 185.5px,#0ff 195.2px,#00ffc7 206.5px,#00ff9f 218px,#00ff16 218.5px,#0f0 218.6px,#ff0 219.4px,#f30 220px,#f00 220.5px,#f00 267.5px,#ff0 270.5px,#2aff00 273px)"></i><i style="background:linear-gradient(#4f0 0,#60ff00 48.5px,#78ff00 63.5px,#9aff00 75px,#cdff00 84.5px,#ff0 89.6px,#ffe800 92px,#ffbc00 95px,#ff8100 98px,#ff4e00 100px,#f00 102.5px,#f00 110px,#ff6e00 110.5px,#ff0 110.9px,#0f0 111.7px,#0ff 112.5px,#0062ff 113px,#0012ff 113.5px,#0063ff 153.5px,#0085ff 164px,#00d0ff 185.5px,#0ff 195px,#00ffc7 206.5px,#00ff9e 218px,#00ff16 218.5px,#0f0 218.6px,#ff0 219.4px,#ff3200 220px,#f00 220.5px,#f00 267.5px,#ff0 270.5px,#2aff00 273px)"></i><i style="background:linear-gradient(#4f0 0,#60ff00 48.5px,#78ff00 63.5px,#9bff00 75px,#cfff00 84.5px,#ff0 89.4px,#ffeb00 91.5px,#ff9100 97px,#ff5400 99.5px,#ff0500 102px,#f00 102.5px,#f00 110px,#ff6e00 110.5px,#ff0 110.9px,#0f0 111.7px,#0ff 112.5px,#0063ff 113px,#0013ff 113.5px,#0064ff 153px,#0085ff 163.5px,#00cfff 185px,#0ff 194.8px,#00ffc6 206.5px,#00ff9e 218px,#00ff16 218.5px,#0f0 218.6px,#ff0 219.4px,#ff3200 220px,#f00 220.5px,#f00 267.5px,#ff0 270.5px,#2aff00 273px)"></i><i style="background:linear-gradient(#4f0 0,#60ff00 48px,#78ff00 63px,#9aff00 74.5px,#cdff00 84px,#ff0 89.1px,#ffe800 91.5px,#ff8b00 97px,#ff4c00 99.5px,#f00 102px,#f00 110px,#ff6e00 110.5px,#ff0 110.9px,#0f0 111.7px,#0ff 112.5px,#0065ff 113px,#0015ff 113.5px,#06f 153px,#0086ff 163.5px,#00d1ff 185px,#0ff 194.5px,#00ffc7 206px,#00ff9e 218px,#00ff15 218.5px,#0f0 218.6px,#ff0 219.4px,#ff3200 220px,#f00 220.5px,#f00 267.5px,#ff0 270.5px,#2aff00 273px)"></i><i style="background:linear-gradient(#4f0 0,#60ff00 48px,#78ff00 63px,#9bff00 74.5px,#cfff00 84px,#ff0 88.8px,#ffe400 91.5px,#ffb600 94.5px,#ff8400 97px,#f40 99.5px,#ff0200 101.5px,#f00 110px,#ff6d00 110.5px,#ff0 111px,#0f0 111.7px,#0ff 112.5px,#06f 113px,#0016ff 113.5px,#06f 152.5px,#08f 163.5px,#00d2ff 185px,#0ff 194.3px,#00ffc6 206px,#00ff9d 218px,#00ff15 218.5px,#0f0 218.6px,#ff0 219.4px,#ff3200 220px,#f00 220.5px,#f00 267.5px,#ff0 270.5px,#2aff00 273px)"></i><i style="background:linear-gradient(#4f0 0,#5fff00 47.5px,#7f0 62.5px,#9f0 74px,#cdff00 83.5px,#ff0 88.6px,#ffe700 91px,#ff8900 96.5px,#f00 101.5px,#f00 110px,#ff6d00 110.5px,#ff0 111px,#0f0 111.7px,#0ff 112.5px,#0067ff 113px,#0018ff 113.5px,#0068ff 152.5px,#08f 163px,#00d1ff 184.5px,#0ff 194px,#00ffc6 206px,#00ff9f 216px,#00ff45 216.5px,#0f0 216.7px,#ff0 217.5px,#ff6200 218px,#f00 218.5px,#f00 267.5px,#ff0 270.5px,#2aff00 273px)"></i><i style="background:linear-gradient(#4f0 0,#5fff00 47.5px,#78ff00 62.5px,#9aff00 74px,#cfff00 83.5px,#ff0 88.4px,#ffea00 90.5px,#ffbe00 93.5px,#ff8300 96.5px,#ff4200 99px,#f00 101px,#f00 110px,#ff6d00 110.5px,#ff0 111px,#0f0 111.7px,#0ff 112.5px,#0069ff 113px,#0019ff 113.5px,#0069ff 152px,#0089ff 163px,#00d2ff 184.5px,#0ff 194.4px,#00ffa6 214px,#00ff7c 214.5px,#0f0 214.9px,#ff0 215.7px,#ff9300 216px,#f00 216.5px,#f00 267.5px,#ff0 270.5px,#2aff00 273px)"></i><i style="background:linear-gradient(#43ff00 0,#5fff00 47.5px,#78ff00 62.5px,#9f0 73.5px,#cdff00 83px,#ff0 88.1px,#ffe700 90.5px,#ffb900 93.5px,#f80 96px,#ff4800 98.5px,#ff0700 100.5px,#f00 101px,#f00 110px,#ff6d00 110.5px,#ff0 111px,#0f0 111.7px,#0ff 112.5px,#006aff 113px,#001aff 113.5px,#006aff 152px,#008bff 163px,#00d4ff 184.5px,#0ff 194.1px,#00ffab 212.5px,#0f0 213px,#ff0 213.8px,#ff2300 214.5px,#f00 215px,#f00 267.5px,#ff0 270.5px,#2aff00 273px)"></i><i style="background:linear-gradient(#43ff00 0,#60ff00 47.5px,#78ff00 62.5px,#9aff00 73.5px,#cfff00 83px,#ff0 87.9px,#ffea00 90px,#ff8d00 95.5px,#ff4f00 98px,#f00 100.5px,#f00 110px,#ff6c00 110.5px,#ff0 111px,#0f0 111.7px,#0ff 112.5px,#006bff 113px,#001cff 113.5px,#006bff 151.5px,#008bff 162.5px,#00d3ff 184px,#0ff 193.8px,#00ffab 212.5px,#0f0 213px,#ff0 213.8px,#ff2300 214.5px,#f00 215px,#f00 267.5px,#ff0 270.5px,#2aff00 273px)"></i><i style="background:linear-gradient(#43ff00 0,#60ff00 47.5px,#79ff00 62.5px,#9bff00 73.5px,#d0ff00 83px,#ff0 87.6px,#ffe700 90px,#ffb900 93px,#ff8700 95.5px,#ff4600 98px,#ff0400 100px,#f00 108.5px,#ff4800 109px,#ff0 109.6px,#0f0 110.4px,#0ff 111.1px,#008eff 111.5px,#001aff 112px,#006dff 151.5px,#008cff 162.5px,#00d4ff 184px,#0ff 193.6px,#0fa 212.5px,#0f0 213px,#ff0 213.8px,#ff2300 214.5px,#f00 215px,#f00 267.5px,#ff0 270.5px,#2aff00 273px)"></i><i style="background:linear-gradient(#43ff00 0,#60ff00 47.5px,#79ff00 62.5px,#9bff00 73.5px,#ceff00 82.5px,#ff0 87.4px,#ffea00 89.5px,#ff8c00 95px,#ff5b00 97px,#f00 100px,#f00 107px,#ff2400 107.5px,#ff0 108.2px,#0f0 109px,#0ff 109.8px,#00b1ff 110px,#0018ff 110.5px,#006eff 151.5px,#008eff 162.5px,#00d5ff 184px,#0ff 193.3px,#00ffa9 212.5px,#0f0 213px,#ff0 213.8px,#ff2300 214.5px,#f00 215px,#f00 267.5px,#ff0 270.5px,#2aff00 273px)"></i><i style="background:linear-gradient(#43ff00 0,#5fff00 47px,#78ff00 62px,#9aff00 73px,#d0ff00 82.5px,#ff0 87.1px,#ffe600 89.5px,#ffb800 92.5px,#ff8600 95px,#f40 97.5px,#ff0100 99.5px,#f00 106px,#ff0 106.8px,#0f0 107.6px,#0ff 108.4px,#03f 109px,#0018ff 109.5px,#008eff 162px,#00d5ff 183.5px,#0ff 193px,#00ffa9 212.5px,#0f0 213px,#ff0 213.8px,#ff2300 214.5px,#f00 215px,#f00 267.5px,#ff0 270.5px,#2aff00 273px)"></i><i style="background:linear-gradient(#43ff00 0,#5fff00 47px,#79ff00 62px,#9bff00 73px,#c7ff00 81px,#fcff00 87px,#ff0 87.2px,#ffd500 90.5px,#ffa000 93.5px,#ff6700 96px,#f00 99.5px,#f00 104.5px,#ff7d00 105px,#ff0 105.4px,#0f0 106.2px,#0ff 107px,#0056ff 107.5px,#0016ff 108px,#008fff 162px,#00d6ff 183.5px,#0ff 192.8px,#00ffa8 212.5px,#0f0 213px,#ff0 213.8px,#ff2300 214.5px,#f00 215px,#f00 267.5px,#ff0 270.5px,#2aff00 273px)"></i><i style="background:linear-gradient(#43ff00 0,#5fff00 47px,#79ff00 62px,#9cff00 73px,#d0ff00 82px,#ff0 86.6px,#ffe600 89px,#ffb800 92px,#ff8500 94.5px,#ff4300 97px,#f00 99px,#f00 104.5px,#ff7c00 105px,#ff0 105.4px,#0f0 106.2px,#0ff 107px,#0057ff 107.5px,#0017ff 108px,#008fff 161.5px,#00d7ff 183.5px,#0ff 192.6px,#00ffa7 212.5px,#0f0 213px,#ff0 213.8px,#ff2300 214.5px,#f00 215px,#f00 267.5px,#ff0 270.5px,#2aff00 273px)"></i><i style="background:linear-gradient(#43ff00 0,#5fff00 46.5px,#78ff00 61.5px,#9aff00 72.5px,#ceff00 81.5px,#ff0 86.4px,#ffea00 88.5px,#ffbc00 91.5px,#ff8a00 94px,#ff4900 96.5px,#ff0600 98.5px,#f00 99px,#f00 104.5px,#ff7c00 105px,#ff0 105.4px,#0f0 106.2px,#0ff 107px,#0058ff 107.5px,#0019ff 108px,#0091ff 161.5px,#00d8ff 183.5px,#0ff 192.3px,#00ffa7 212.5px,#0f0 213px,#ff0 213.8px,#ff2300 214.5px,#f00 215px,#f00 267.5px,#ff0 270.5px,#2aff00 273px)"></i><i style="background:linear-gradient(#43ff00 0,#60ff00 47px,#78ff00 61.5px,#9bff00 72.5px,#cfff00 81.5px,#ff0 86.1px,#ffe600 88.5px,#ffb700 91.5px,#ff8400 94px,#ff5000 96px,#f00 98.5px,#f00 104.5px,#ff7c00 105px,#ff0 105.4px,#0f0 106.2px,#0ff 107px,#005aff 107.5px,#001aff 108px,#0092ff 161.5px,#00d7ff 183px,#0ff 192.1px,#00ffa6 212.5px,#0f0 213px,#ff0 213.8px,#f20 214.5px,#f00 215px,#f00 267.5px,#ff0 270.5px,#2aff00 273px)"></i><i style="background:linear-gradient(#43ff00 0,#5fff00 46.5px,#7f0 61px,#9aff00 72px,#cdff00 81px,#ff0 85.9px,#ffea00 88px,#fb0 91px,#ff8900 93.5px,#ff4700 96px,#ff0400 98px,#f00 104.5px,#ff7c00 105px,#ff0 105.4px,#0f0 106.2px,#0ff 107px,#005bff 107.5px,#001cff 108px,#0092ff 161px,#00d9ff 183px,#0ff 191.8px,#00ffa5 212.5px,#0f0 213px,#ff0 213.8px,#f20 214.5px,#f00 215px,#f00 267.5px,#ff0 270.5px,#2aff00 273px)"></i><i style="background:linear-gradient(#43ff00 0,#5fff00 46.5px,#78ff00 61px,#9bff00 72px,#cfff00 81px,#ff0 85.6px,#ffe600 88px,#ffb700 91px,#ff8300 93.5px,#f00 98px,#f00 104.5px,#ff7c00 105px,#ff0 105.4px,#0f0 106.2px,#0ff 107px,#005cff 107.5px,#001dff 108px,#0094ff 161px,#00daff 183px,#0ff 191.6px,#00ffa5 212.5px,#0f0 213px,#ff0 213.8px,#f20 214.5px,#f00 215px,#f00 267.5px,#ff0 270.5px,#2aff00 273px)"></i><i style="background:linear-gradient(#42ff00 0,#5fff00 46px,#7f0 60.5px,#9f0 71.5px,#cdff00 80.5px,#ff0 85.4px,#ffea00 87.5px,#fb0 90.5px,#f80 93px,#ff4600 95.5px,#ff0100 97.5px,#f00 104.5px,#ff7c00 105px,#ff0 105.4px,#0f0 106.2px,#0ff 107px,#005eff 107.5px,#001fff 108px,#0095ff 161px,#00d9ff 182.5px,#0ff 191.3px,#00ffa4 212.5px,#0f0 213px,#ff0 213.8px,#f20 214.5px,#f00 215px,#f00 267.5px,#ff0 270.5px,#2aff00 273px)"></i><i style="background:linear-gradient(#42ff00 0,#5fff00 46px,#7f0 60.5px,#9aff00 71.5px,#cfff00 80.5px,#ff0 85.1px,#ffe600 87.5px,#ff8d00 92.5px,#f00 97.5px,#f00 104.5px,#ff7c00 105px,#ff0 105.4px,#0f0 106.2px,#0ff 107px,#0060ff 107.5px,#0021ff 108px,#0095ff 160.5px,#00daff 182.5px,#0ff 191px,#00ffa3 212.5px,#0f0 213px,#ff0 213.8px,#f20 214.5px,#f00 215px,#f00 267.5px,#ff0 270.5px,#2aff00 273px)"></i><i style="background:linear-gradient(#42ff00 0,#5eff00 45.5px,#76ff00 60px,#9f0 71px,#cf0 80px,#ff0 84.9px,#ffea00 87px,#fb0 90px,#ff8700 92.5px,#f40 95px,#f00 97px,#f00 104.5px,#ff7b00 105px,#ff0 105.4px,#0f0 106.2px,#0ff 107px,#0061ff 107.5px,#02f 108px,#0096ff 160.5px,#00dcff 182.5px,#0ff 190.7px,#00ffa2 212.5px,#0f0 213px,#ff0 213.8px,#f20 214.5px,#f00 215px,#f00 267.5px,#ff0 270.5px,#2aff00 273px)"></i><i style="background:linear-gradient(#42ff00 0,#5eff00 45.5px,#7f0 60px,#9aff00 71px,#ceff00 80px,#ff0 84.6px,#ffe600 87px,#ff8c00 92px,#ff4b00 94.5px,#ff0600 96.5px,#f00 97px,#f00 104.5px,#ff7b00 105px,#ff0 105.4px,#0f0 106.2px,#0ff 107px,#0063ff 107.5px,#0024ff 108px,#0096ff 160px,#00dbff 182px,#0ff 190.4px,#00ffa0 212.5px,#0f0 213px,#ff0 213.8px,#ff2100 214.5px,#f00 215px,#f00 267.5px,#ff0 270.5px,#2aff00 273px)"></i><i style="background:linear-gradient(#42ff00 0,#5eff00 45.5px,#76ff00 59.5px,#98ff00 70.5px,#cf0 79.5px,#ff0 84.4px,#ffea00 86.5px,#ffba00 89.5px,#ff8600 92px,#ff5100 94px,#f00 96.5px,#f00 104.5px,#ff7b00 105px,#ff0 105.4px,#0f0 106.2px,#0ff 107px,#0065ff 107.5px,#0026ff 108px,#0097ff 160px,#00dcff 182px,#0ff 190.1px,#00ff9f 212.5px,#0f0 213px,#ff0 213.8px,#ff2100 214.5px,#f00 215px,#f00 267.5px,#ff0 270.5px,#2aff00 273px)"></i><i style="background:linear-gradient(#42ff00 0,#5eff00 45.5px,#76ff00 59.5px,#9f0 70.5px,#ceff00 79.5px,#ff0 84.2px,#ffe600 86.5px,#ffb500 89.5px,#ff8000 92px,#ff4900 94px,#ff0400 96px,#f00 104.5px,#ff7a00 105px,#ff0 105.4px,#0f0 106.2px,#0ff 107px,#06f 107.5px,#0028ff 108px,#0098ff 160px,#00deff 182px,#0ff 189.8px,#00ff9e 212.5px,#0f0 213px,#ff0 213.8px,#ff2100 214.5px,#f00 215px,#f00 267.5px,#ff0 270.5px,#2aff00 273px)"></i><i style="background:linear-gradient(#42ff00 0,#5eff00 45px,#75ff00 59px,#98ff00 70px,#cf0 79px,#ff0 83.9px,#ffea00 86px,#ffba00 89px,#ff8500 91.5px,#f00 96px,#f00 104.5px,#ff7a00 105px,#ff0 105.4px,#0f0 106.2px,#0ff 107px,#0068ff 107.5px,#002aff 108px,#007dff 148.5px,#00b9ff 170.5px,#00dfff 182px,#0ff 189.5px,#00ff9d 212.5px,#0f0 213px,#ff0 213.8px,#ff2100 214.5px,#f00 215px,#f00 267.5px,#ff0 270.5px,#2aff00 273px)"></i><i style="background:linear-gradient(#42ff00 0,#5eff00 45px,#76ff00 59px,#9f0 70px,#cdff00 79px,#ff0 83.7px,#ffe600 86px,#ffb500 89px,#ff7f00 91.5px,#ff4700 93.5px,#ff0100 95.5px,#f00 104.5px,#ff7900 105px,#ff0 105.4px,#0f0 106.2px,#0ff 107px,#006aff 107.5px,#002bff 108px,#007dff 148px,#00b8ff 170px,#00deff 181.5px,#0ff 189.2px,#00ff9b 212.5px,#0f0 213px,#ff0 213.8px,#ff2100 214.5px,#f00 215px,#f00 267.5px,#ff0 270.5px,#2aff00 273px)"></i><i style="background:linear-gradient(#42ff00 0,#5eff00 45px,#76ff00 59px,#9f0 70px,#cbff00 78.5px,#ff0 83.5px,#ffea00 85.5px,#ff9000 90.5px,#ff5d00 92.5px,#f00 95.5px,#f00 103px,#ff5600 103.5px,#ff0 104px,#0f0 104.8px,#0ff 105.6px,#008cff 106px,#002aff 106.5px,#007eff 148px,#00b9ff 170px,#00e0ff 181.5px,#0ff 188.9px,#00ff9a 212.5px,#0f0 213px,#ff0 213.8px,#ff2000 214.5px,#f00 215px,#f00 267.5px,#ff0 270.5px,#2aff00 273px)"></i><i style="background:linear-gradient(#41ff00 0,#5eff00 45px,#76ff00 59px,#9aff00 70px,#d1ff00 79px,#ff0 83.2px,#ffe600 85.5px,#ff8a00 90.5px,#ff4600 93px,#f00 95px,#f00 101.5px,#ff3200 102px,#ff0 102.6px,#0f0 103.4px,#0ff 104.2px,#00afff 104.5px,#0029ff 105px,#007eff 147.5px,#0bf 170px,#00e1ff 181.5px,#0ff 188.6px,#0f9 212.5px,#0f0 213px,#ff0 213.8px,#ff2000 214.5px,#f00 215px,#f00 267.5px,#ff0 270.5px,#2aff00 273px)"></i><i style="background:linear-gradient(#41ff00 0,#5eff00 45px,#76ff00 59px,#9bff00 70px,#cfff00 78.5px,#ff0 83px,#ffea00 85px,#ff8f00 90px,#ff4d00 92.5px,#ff0700 94.5px,#f00 95px,#f00 100px,#ff0e00 100.5px,#ff0 101.3px,#0f0 102.1px,#0ff 102.9px,#03f 103.5px,#0028ff 104px,#007fff 147.5px,#00baff 169.5px,#00e0ff 181px,#0ff 188.2px,#00ff98 212.5px,#0f0 213px,#ff0 213.8px,#ff2000 214.5px,#f00 215px,#f00 267.5px,#ff0 270.5px,#2aff00 273px)"></i><i style="background:linear-gradient(#41ff00 0,#5eff00 45px,#7f0 59px,#9aff00 69.5px,#c5ff00 77px,#feff00 83px,#ff0 83.1px,#ffcf00 86.5px,#ff9500 89.5px,#ff5300 92px,#f00 94.5px,#f00 99px,#ff8900 99.5px,#ff0 99.9px,#0f0 100.7px,#0ff 101.5px,#0056ff 102px,#0027ff 102.5px,#007fff 147px,#0bf 169.5px,#00e2ff 181px,#0ff 187.9px,#00ff97 212.5px,#0f0 213px,#ff0 213.8px,#ff2000 214.5px,#f00 215px,#f00 267.5px,#ff0 270.5px,#2aff00 273px)"></i><i style="background:linear-gradient(#41ff00 0,#5eff00 45px,#7f0 59px,#9aff00 69.5px,#c3ff00 76.5px,#fbff00 82.5px,#ff0 82.8px,#ffd300 86px,#ff9a00 89px,#ff5a00 91.5px,#ff0400 94px,#f00 99px,#ff8900 99.5px,#ff0 99.9px,#0f0 100.7px,#0ff 101.5px,#0057ff 102px,#0029ff 102.5px,#0080ff 147px,#0bf 169px,#00e3ff 181px,#0ff 187.6px,#00ff95 212.5px,#0f0 213px,#ff0 213.8px,#ff1f00 214.5px,#f00 215px,#f00 267.5px,#ff0 270.5px,#2aff00 273px)"></i><i style="background:linear-gradient(#41ff00 0,#5dff00 44.5px,#76ff00 58.5px,#9f0 69px,#c4ff00 76.5px,#fdff00 82.5px,#ff0 82.6px,#ffcf00 86px,#ff9400 89px,#ff5200 91.5px,#f00 94px,#f00 99px,#ff8900 99.5px,#ff0 99.9px,#0f0 100.7px,#0ff 101.5px,#0059ff 102px,#002bff 102.5px,#0081ff 146.5px,#00bcff 169px,#00e2ff 180.5px,#0ff 187.3px,#00ff94 212.5px,#0f0 213px,#ff0 213.8px,#ff1f00 214.5px,#f00 215px,#f00 267.5px,#ff0 270.5px,#2aff00 273px)"></i><i style="background:linear-gradient(#41ff00 0,#5dff00 44.5px,#7f0 58.5px,#9aff00 69px,#ceff00 77.5px,#ff0 82px,#ffea00 84px,#ffb800 87px,#ff8100 89.5px,#ff4900 91.5px,#ff0200 93.5px,#f00 99px,#f80 99.5px,#ff0 99.9px,#0f0 100.7px,#0ff 101.5px,#005bff 102px,#002cff 102.5px,#0082ff 146.5px,#00bdff 169px,#00e4ff 180.5px,#0ff 187px,#00ff93 212.5px,#0f0 213px,#ff0 213.8px,#ff1f00 214.5px,#f00 215px,#f00 267.5px,#ff0 270.5px,#2aff00 273px)"></i><i style="background:linear-gradient(#41ff00 0,#5dff00 44px,#76ff00 58px,#98ff00 68.5px,#d0ff00 77.5px,#ff0 81.7px,#ffe600 84px,#ff8700 89px,#f00 93.5px,#f00 99px,#f80 99.5px,#ff0 99.9px,#0f0 100.7px,#0ff 101.5px,#005dff 102px,#002eff 102.5px,#0082ff 146px,#00bdff 168.5px,#00e5ff 180.5px,#0ff 186.7px,#00ff92 212.5px,#0f0 213px,#ff0 213.8px,#ff1f00 214.5px,#f00 215px,#f00 267.5px,#ff0 270.5px,#2aff00 273px)"></i><i style="background:linear-gradient(#41ff00 0,#5dff00 44px,#76ff00 58px,#9f0 68.5px,#ceff00 77px,#ff0 81.5px,#ffea00 83.5px,#ffb800 86.5px,#ff8000 89px,#ff4700 91px,#f00 93px,#f00 99px,#f80 99.5px,#ff0 99.9px,#0f0 100.7px,#0ff 101.5px,#005eff 102px,#0030ff 102.5px,#0083ff 146px,#00beff 168.5px,#00e4ff 180px,#0ff 186.3px,#00ff90 212.5px,#0f0 213px,#ff0 213.8px,#ff1f00 214.5px,#f00 215px,#f00 267.5px,#ff0 270.5px,#2aff00 273px)"></i><i style="background:linear-gradient(#41ff00 0,#5dff00 44px,#75ff00 57.5px,#98ff00 68px,#cbff00 76.5px,#ff0 81.3px,#ffed00 83px,#ff9200 88px,#ff4e00 90.5px,#ff0800 92.5px,#f00 93px,#f00 99px,#f80 99.5px,#ff0 99.9px,#0f0 100.7px,#0ff 101.5px,#0060ff 102px,#0032ff 102.5px,#0083ff 145.5px,#00bfff 168.5px,#00e6ff 180px,#0ff 186px,#00ff8f 212.5px,#0f0 213px,#ff0 213.8px,#ff1f00 214.5px,#f00 215px,#f00 267.5px,#ff0 270.5px,#2aff00 273px)"></i><i style="background:linear-gradient(#40ff00 0,#5dff00 44px,#76ff00 57.5px,#9f0 68px,#cdff00 76.5px,#ff0 81px,#ffe900 83px,#ff8c00 88px,#f50 90px,#f00 92.5px,#f00 99px,#ff8700 99.5px,#ff0 99.9px,#0f0 100.7px,#0ff 101.5px,#0062ff 102px,#0034ff 102.5px,#0084ff 145.5px,#00beff 168px,#00e7ff 180px,#0ff 185.7px,#00ff8e 212.5px,#0f0 213px,#ff0 213.8px,#ff1e00 214.5px,#f00 215px,#f00 267.5px,#ff0 270.5px,#2aff00 273px)"></i><i style="background:linear-gradient(#40ff00 0,#5dff00 43.5px,#75ff00 57px,#98ff00 67.5px,#cbff00 76px,#ff0 80.8px,#ffed00 82.5px,#ffbc00 85.5px,#ff8500 88px,#ff4d00 90px,#ff0500 92px,#f00 99px,#ff8700 99.5px,#ff0 99.9px,#0f0 100.7px,#0ff 101.5px,#0064ff 102px,#0035ff 102.5px,#0084ff 145px,#00c0ff 168px,#00e8ff 180px,#0ff 185.4px,#00ff8d 212.5px,#0f0 213px,#ff0 213.8px,#ff1e00 214.5px,#f00 215px,#f00 267.5px,#ff0 270.5px,#2aff00 273px)"></i><i style="background:linear-gradient(#40ff00 0,#5dff00 43.5px,#75ff00 57px,#98ff00 67.5px,#cdff00 76px,#ff0 80.5px,#ffe900 82.5px,#ff8b00 87.5px,#ff5400 89.5px,#f00 92px,#f00 99px,#ff8700 99.5px,#ff0 99.9px,#0f0 100.7px,#0ff 101.5px,#0065ff 102px,#0037ff 102.5px,#0085ff 145px,#00c1ff 168px,#00e8ff 179.5px,#0ff 185.1px,#00ff8b 212.5px,#0f0 213px,#ff0 213.8px,#ff1e00 214.5px,#f00 215px,#f00 267.5px,#ff0 270.5px,#2aff00 273px)"></i><i style="background:linear-gradient(#40ff00 0,#5cff00 43px,#74ff00 56.5px,#97ff00 67px,#cbff00 75.5px,#ff0 80.3px,#ffed00 82px,#fb0 85px,#ff8400 87.5px,#ff4b00 89.5px,#ff0200 91.5px,#f00 99px,#ff8600 99.5px,#ff0 99.9px,#0f0 100.7px,#0ff 101.5px,#0067ff 102px,#0039ff 102.5px,#0085ff 144.5px,#00c0ff 167.5px,#00e9ff 179.5px,#0ff 184.7px,#00ff8a 212.5px,#0f0 212.9px,#ff0 213.8px,#ff1e00 214.5px,#f00 215px,#f00 267.5px,#ff0 270.5px,#2aff00 273px)"></i><i style="background:linear-gradient(#40ff00 0,#5cff00 43px,#75ff00 56.5px,#98ff00 67px,#cdff00 75.5px,#ff0 80px,#ffe900 82px,#ffbf00 84.5px,#ff8900 87px,#f00 91.5px,#f00 99px,#ff8600 99.5px,#ff0 99.9px,#0f0 100.7px,#0ff 101.5px,#0068ff 102px,#003aff 102.5px,#0087ff 144.5px,#00c1ff 167.5px,#00eaff 179.5px,#0ff 184.4px,#00ff89 212.5px,#0f0 212.9px,#ff0 213.8px,#ff1e00 214.5px,#f00 215px,#f00 267.5px,#ff0 270.5px,#2aff00 273px)"></i><i style="background:linear-gradient(#40ff00 0,#5cff00 43px,#75ff00 56.5px,#97ff00 66.5px,#cbff00 75px,#ff0 79.8px,#ffec00 81.5px,#ffba00 84.5px,#ff8300 87px,#ff4900 89px,#f00 91px,#f00 99px,#ff8500 99.5px,#ff0 99.9px,#0f0 100.7px,#0ff 101.5px,#006aff 102px,#003cff 102.5px,#08f 144.5px,#00c2ff 167.5px,#00eaff 179px,#0ff 184.1px,#0f8 212.5px,#0f0 212.9px,#ff0 213.8px,#ff1e00 214.5px,#f00 215px,#f00 267.5px,#ff0 270.5px,#2aff00 273px)"></i><i style="background:linear-gradient(#40ff00 0,#5dff00 43px,#76ff00 56.5px,#98ff00 66.5px,#cdff00 75px,#ff0 79.5px,#ffe900 81.5px,#ffbf00 84px,#f80 86.5px,#ff5000 88.5px,#ff0800 90.5px,#f00 91px,#f00 97.5px,#ff6200 98px,#ff0 98.5px,#0f0 99.3px,#0ff 100.1px,#008cff 100.5px,#003bff 101px,#08f 144px,#00c2ff 167px,#00ebff 179px,#0ff 183.8px,#00ff86 212.5px,#0f0 212.9px,#ff0 213.8px,#ff1d00 214.5px,#f00 215px,#f00 267.5px,#ff0 270.5px,#2aff00 273px)"></i><i style="background:linear-gradient(#40ff00 0,#5dff00 43px,#76ff00 56.5px,#9f0 66.5px,#cfff00 75px,#ff0 79.2px,#ffe500 81.5px,#ffb900 84px,#ff8100 86.5px,#ff4700 88.5px,#f00 90.5px,#f00 96px,#ff3f00 96.5px,#ff0 97.1px,#0f0 97.9px,#0ff 98.7px,#00aeff 99px,#003aff 99.5px,#0089ff 144px,#00c3ff 167px,#00ecff 179px,#0ff 183.5px,#00ff85 212.5px,#0f0 212.9px,#ff0 213.8px,#ff1d00 214.5px,#f00 215px,#f00 267.5px,#ff0 270.5px,#2aff00 273px)"></i><i style="background:linear-gradient(#40ff00 0,#5dff00 43px,#76ff00 56.5px,#9aff00 66.5px,#c4ff00 73.5px,#ff0 79.3px,#fffd00 79.5px,#ffd000 82.5px,#ff9300 85.5px,#ff4e00 88px,#ff0500 90px,#f00 94.5px,#ff1b00 95px,#ff0 95.7px,#0f0 96.5px,#0ff 97.4px,#0039ff 98px,#0089ff 143.5px,#00c4ff 167px,#00ecff 178.5px,#0ff 183.1px,#00ff84 212.5px,#0f0 212.9px,#ff0 213.8px,#ff1d00 214.5px,#f00 215px,#f00 267.5px,#ff0 270.5px,#2aff00 273px)"></i><i style="background:linear-gradient(#40ff00 0,#5dff00 43px,#7f0 56.5px,#9bff00 66.5px,#c6ff00 73.5px,#ff0 79px,#fffa00 79.5px,#ffcb00 82.5px,#ff9800 85px,#f50 87.5px,#f00 90px,#f00 93.5px,#ff9500 94px,#ff0 94.3px,#0f0 95.2px,#0ff 96px,#0057ff 96.5px,#0039ff 97px,#008aff 143.5px,#00c4ff 166.5px,#00edff 178.5px,#0ff 182.8px,#00ff82 212.5px,#0f0 212.9px,#ff0 213.8px,#ff1d00 214.5px,#f00 215px,#f00 267.5px,#ff0 270.5px,#2aff00 273px)"></i><i style="background:linear-gradient(#40ff00 0,#5cff00 42.5px,#76ff00 56px,#9f0 66px,#c4ff00 73px,#ff0 78.8px,#fffd00 79px,#ffcf00 82px,#ff9200 85px,#ff4c00 87.5px,#ff0100 89.5px,#f00 93.5px,#ff9500 94px,#ff0 94.3px,#0f0 95.2px,#0ff 96px,#0059ff 96.5px,#003aff 97px,#008aff 143px,#00c5ff 166.5px,#0ef 178.5px,#0ff 182.5px,#00ff81 212.5px,#0f0 212.9px,#ff0 213.8px,#ff1d00 214.5px,#f00 215px,#f00 267.5px,#ff0 270.5px,#2aff00 273px)"></i><i style="background:linear-gradient(#40ff00 0,#5dff00 42.5px,#7f0 56px,#9bff00 66px,#c6ff00 73px,#feff00 78.5px,#ff0 78.6px,#ffd300 81.5px,#ff9700 84.5px,#ff6200 86.5px,#ff0a00 89px,#f00 89.5px,#f00 93.5px,#ff9400 94px,#ff0 94.3px,#0f0 95.2px,#0ff 96px,#005aff 96.5px,#003cff 97px,#008bff 143px,#00c4ff 166px,#0ef 178px,#0ff 182.2px,#00ff80 212.5px,#0f0 212.9px,#ff0 213.8px,#ff1c00 214.5px,#f00 215px,#f00 267.5px,#ff0 270.5px,#2aff00 273px)"></i><i style="background:linear-gradient(#3fff00 0,#5cff00 42px,#76ff00 55.5px,#9f0 65.5px,#c4ff00 72.5px,#fbff00 78px,#ff0 78.3px,#ffd700 81px,#ff9c00 84px,#ff5900 86.5px,#f00 89px,#f00 93.5px,#ff9400 94px,#ff0 94.3px,#0f0 95.2px,#0ff 96px,#005cff 96.5px,#003eff 97px,#008bff 142.5px,#00c5ff 166px,#00efff 178px,#0ff 181.9px,#00ff7e 212.5px,#0f0 212.9px,#ff0 213.8px,#ff1c00 214.5px,#f00 215px,#f00 267.5px,#ff0 270.5px,#2aff00 273px)"></i><i style="background:linear-gradient(#3fff00 0,#5dff00 42.5px,#76ff00 55.5px,#9aff00 65.5px,#c6ff00 72.5px,#ff0 78px,#ffd200 81px,#ff9500 84px,#ff5000 86.5px,#ff0700 88.5px,#f00 93.5px,#ff9400 94px,#ff0 94.3px,#0f0 95.2px,#0ff 96px,#005dff 96.5px,#003fff 97px,#008cff 142.5px,#00c6ff 166px,#00f0ff 178px,#0ff 181.5px,#00ff7d 212.5px,#0f0 212.9px,#ff0 213.8px,#ff1c00 214.5px,#f00 215px,#f00 267.5px,#ff0 270.5px,#2aff00 273px)"></i><i style="background:linear-gradient(#3fff00 0,#5dff00 42px,#75ff00 55px,#9f0 65px,#cdff00 73px,#ff0 77.4px,#ffe600 79.5px,#fb0 82px,#ff8200 84.5px,#f00 88.5px,#f00 93.5px,#ff9300 94px,#ff0 94.3px,#0f0 95.2px,#0ff 96px,#005fff 96.5px,#0041ff 97px,#008eff 142.5px,#00c6ff 165.5px,#00f0ff 177.5px,#0ff 181.2px,#00ff7b 212.5px,#0f0 212.9px,#ff0 213.7px,#ff1c00 214.5px,#f00 215px,#f00 267.5px,#ff0 270.5px,#2aff00 273px)"></i><i style="background:linear-gradient(#3fff00 0,#5cff00 41.5px,#75ff00 54.5px,#98ff00 64.5px,#caff00 72.5px,#ff0 77.1px,#ffea00 79px,#ffbf00 81.5px,#ff8700 84px,#ff4e00 86px,#ff0300 88px,#f00 93.5px,#ff9300 94px,#ff0 94.3px,#0f0 95.2px,#0ff 96px,#0061ff 96.5px,#0043ff 97px,#008eff 142px,#00c8ff 165.5px,#00f1ff 177.5px,#0ff 180.8px,#00ff78 212.5px,#0f0 212.9px,#ff0 213.7px,#ff1b00 214.5px,#f00 215px,#f00 267.5px,#ff0 270.5px,#2aff00 273px)"></i><i style="background:linear-gradient(#3fff00 0,#5cff00 41.5px,#75ff00 54.5px,#9f0 64.5px,#cdff00 72.5px,#ff0 76.8px,#ffe600 79px,#ff8d00 83.5px,#f00 88px,#f00 93.5px,#ff9300 94px,#ff0 94.3px,#0f0 95.2px,#0ff 96px,#0062ff 96.5px,#04f 97px,#0090ff 142px,#00c9ff 165.5px,#00f3ff 177.5px,#0ff 180.4px,#00ff75 212.5px,#0f0 212.9px,#ff0 213.7px,#ff1b00 214.5px,#f00 215px,#f00 267.5px,#ff0 270.5px,#2aff00 273px)"></i><i style="background:linear-gradient(#3fff00 0,#5cff00 41px,#74ff00 54px,#98ff00 64px,#cbff00 72px,#ff0 76.6px,#ffe900 78.5px,#ffbe00 81px,#ff8600 83.5px,#ff4b00 85.5px,#f00 87.5px,#f00 93.5px,#ff9300 94px,#ff0 94.4px,#0f0 95.2px,#0ff 96px,#0064ff 96.5px,#0046ff 97px,#0091ff 141.5px,#00caff 165.5px,#00f4ff 177.5px,#0ff 180px,#00ff73 212.5px,#0f0 212.9px,#ff0 213.7px,#ff1b00 214.5px,#f00 215px,#f00 267.5px,#ff0 270.5px,#2aff00 273px)"></i><i style="background:linear-gradient(#3fff00 0,#5cff00 41px,#75ff00 54px,#9f0 64px,#cdff00 72px,#ff0 76.4px,#ffed00 78px,#ffc200 80.5px,#ff8b00 83px,#ff5200 85px,#ff0800 87px,#f00 87.5px,#f00 93.5px,#ff9200 94px,#ff0 94.4px,#0f0 95.2px,#0ff 96px,#06f 96.5px,#0048ff 97px,#0092ff 141.5px,#00caff 165px,#00f3ff 177px,#0ff 179.7px,#00ff70 212.5px,#0f0 212.9px,#ff0 213.7px,#ff1a00 214.5px,#f00 215px,#f00 267.5px,#ff0 270.5px,#2aff00 273px)"></i><i style="background:linear-gradient(#3fff00 0,#5cff00 41px,#75ff00 54px,#97ff00 63.5px,#cbff00 71.5px,#ff0 76px,#ffe800 78px,#ffbd00 80.5px,#ff8400 83px,#ff4800 85px,#f00 87px,#f00 93.5px,#ff9200 94px,#ff0 94.4px,#0f0 95.2px,#0ff 96px,#0067ff 96.5px,#0049ff 97px,#0093ff 141px,#0cf 165px,#00f5ff 177px,#0ff 179.3px,#00ff6e 212.5px,#0f0 212.9px,#ff0 213.7px,#ff1a00 214.5px,#f00 215px,#f00 267.5px,#ff0 270.5px,#2aff00 273px)"></i><i style="background:linear-gradient(#3fff00 0,#5cff00 41px,#76ff00 54px,#9f0 63.5px,#cdff00 71.5px,#ff0 75.8px,#ffec00 77.5px,#ffc100 80px,#ff8900 82.5px,#ff4f00 84.5px,#ff0400 86.5px,#f00 93.5px,#ff9200 94px,#ff0 94.4px,#0f0 95.2px,#0ff 96px,#0069ff 96.5px,#004bff 97px,#0095ff 141px,#00cdff 165px,#00f7ff 177px,#0ff 178.9px,#00ff6b 212.5px,#0f0 212.9px,#ff0 213.7px,#ff1900 214.5px,#f00 215px,#f00 267.5px,#ff0 270.5px,#2aff00 273px)"></i><i style="background:linear-gradient(#3fff00 0,#5cff00 40.5px,#75ff00 53.5px,#97ff00 63px,#cbff00 71px,#ff0 75.5px,#ffe800 77.5px,#ff8f00 82px,#ff5600 84px,#f00 86.5px,#f00 93.5px,#ff9100 94px,#ff0 94.4px,#0f0 95.2px,#0ff 96px,#006aff 96.5px,#004dff 97px,#0096ff 141px,#00cdff 164.5px,#00f6ff 176.5px,#0ff 178.5px,#00ff69 212.5px,#0f0 212.9px,#ff0 213.7px,#ff1900 214.5px,#f00 215px,#f00 267.5px,#ff0 270.5px,#2aff00 273px)"></i><i style="background:linear-gradient(#3fff00 0,#5bff00 40px,#74ff00 53px,#96ff00 62.5px,#c9ff00 70.5px,#ff0 75.3px,#ffeb00 77px,#ffc000 79.5px,#f80 82px,#ff4d00 84px,#ff0100 86px,#f00 93.5px,#ff9100 94px,#ff0 94.4px,#0f0 95.2px,#0ff 96px,#006cff 96.5px,#004eff 97px,#0097ff 140.5px,#00cfff 164.5px,#00f8ff 176.5px,#0ff 178.1px,#00ff98 200px,#00ff67 212.5px,#0f0 212.8px,#ff0 213.7px,#ff1900 214.5px,#f00 215px,#f00 267.5px,#ff0 270.5px,#2aff00 273px)"></i><i style="background:linear-gradient(#3fff00 0,#5cff00 40px,#75ff00 53px,#97ff00 62.5px,#cbff00 70.5px,#ff0 74.9px,#ffe700 77px,#ff8d00 81.5px,#f00 86px,#f00 93.5px,#ff9000 94px,#ff0 94.4px,#0f0 95.2px,#0ff 96px,#006eff 96.5px,#0050ff 97px,#0098ff 140.5px,#00cfff 164px,#00f7ff 176px,#0ff 177.7px,#00ff95 200px,#00ff64 212.5px,#0f0 212.8px,#ff0 213.7px,#ff1800 214.5px,#f00 215px,#f00 267.5px,#ff0 270.5px,#2aff00 273px)"></i><i style="background:linear-gradient(#3fff00 0,#5bff00 39.5px,#74ff00 52.5px,#96ff00 62px,#c9ff00 70px,#ff0 74.7px,#ffea00 76.5px,#ffbf00 79px,#ff8600 81.5px,#ff4a00 83.5px,#f00 85.5px,#f00 93.5px,#ff9000 94px,#ff0 94.4px,#0f0 95.2px,#0ff 96px,#006fff 96.5px,#0051ff 97px,#09f 140px,#00d0ff 164px,#00f9ff 176px,#0ff 177.3px,#00ff92 200px,#00ff62 212.5px,#0f0 212.8px,#ff0 213.7px,#ff1800 214.5px,#f00 215px,#f00 267.5px,#ff0 270.5px,#2aff00 273px)"></i><i style="background:linear-gradient(#3fff00 0,#5cff00 40px,#75ff00 52.5px,#97ff00 62px,#cbff00 70px,#ff0 74.5px,#fe0 76px,#ffc300 78.5px,#ff8b00 81px,#ff5100 83px,#ff0600 85px,#f00 85.5px,#f00 93.5px,#ff9000 94px,#ff0 94.4px,#0f0 95.2px,#0ff 96px,#0071ff 96.5px,#0053ff 97px,#009bff 140px,#00d1ff 164px,#00faff 176px,#0ff 177px,#00ff90 200px,#00ff5f 212.5px,#0f0 212.8px,#ff0 213.7px,#ff1700 214.5px,#f00 215px,#f00 267.5px,#ff0 270.5px,#2aff00 273px)"></i><i style="background:linear-gradient(#3fff00 0,#5cff00 40px,#75ff00 52.5px,#98ff00 62px,#cdff00 70px,#ff0 74.2px,#ffea00 76px,#ffbe00 78.5px,#ff8400 81px,#f00 85px,#f00 92px,#ff6d00 92.5px,#ff0 93px,#0f0 93.8px,#0ff 94.6px,#0093ff 95px,#0052ff 95.5px,#009cff 139.5px,#00d1ff 163.5px,#00faff 175.5px,#0ff 176.6px,#00ff8f 199.5px,#00ff5d 212.5px,#0f0 212.8px,#ff0 213.7px,#ff1700 214.5px,#f00 215px,#f00 267.5px,#ff0 270.5px,#2aff00 273px)"></i><i style="background:linear-gradient(#3fff00 0,#5dff00 40px,#76ff00 52.5px,#9f0 62px,#d0ff00 70px,#ff0 73.9px,#ffe600 76px,#ff8a00 80.5px,#ff4f00 82.5px,#ff0300 84.5px,#f00 90.5px,#ff4b00 91px,#ff0 91.6px,#0f0 92.4px,#0ff 93.3px,#00b4ff 93.5px,#0052ff 94px,#009dff 139.5px,#00d3ff 163.5px,#00fbff 175.5px,#0ff 176.2px,#00ff8c 199.5px,#00ff5b 212.5px,#0f0 212.8px,#ff0 213.7px,#ff1600 214.5px,#f00 215px,#f00 267.5px,#ff0 270.5px,#2aff00 273px)"></i><i style="background:linear-gradient(#3fff00 0,#5dff00 40px,#7f0 52.5px,#9bff00 62px,#ceff00 69.5px,#ff0 73.7px,#ffe900 75.5px,#ff8f00 80px,#ff5600 82px,#f00 84.5px,#f00 89px,#ff2800 89.5px,#ff0 90.2px,#0f0 91px,#0ff 91.9px,#00d6ff 92px,#0051ff 92.5px,#009eff 139px,#00d4ff 163.5px,#00fdff 175.5px,#0ff 175.9px,#00ff8a 199.5px,#00ff58 212.5px,#0f0 212.8px,#ff0 213.7px,#ff1600 214.5px,#f00 215px,#f00 267.5px,#ff0 270.5px,#2aff00 273px)"></i><i style="background:linear-gradient(#3fff00 0,#5dff00 40px,#7f0 52.5px,#9cff00 62px,#c7ff00 68.5px,#ff0 73.6px,#fffb00 74px,#ffcb00 77px,#ff9500 79.5px,#ff4d00 82px,#f00 84px,#f00 87.5px,#ff0500 88px,#ff0 88.8px,#0f0 89.6px,#0ff 90.5px,#0060ff 91px,#0051ff 91.5px,#00a0ff 139px,#00d4ff 163px,#00fdff 175px,#0ff 175.5px,#00ff59 210.5px,#0f0 211px,#08ff00 211px,#ff0 211.8px,#ff4100 212.5px,#f00 213px,#f00 267.5px,#ff0 270.5px,#2aff00 273px)"></i><i style="background:linear-gradient(#3fff00 0,#5dff00 39.5px,#76ff00 52px,#9bff00 61.5px,#c5ff00 68px,#ff0 73.4px,#fffe00 73.5px,#ffcf00 76.5px,#ff9a00 79px,#ff5400 81.5px,#ff0900 83.5px,#f00 84px,#f00 87.5px,#ff0500 88px,#ff0 88.8px,#0f0 89.7px,#0ff 90.5px,#0061ff 91px,#0053ff 91.5px,#00a0ff 138.5px,#00d6ff 163px,#00feff 175px,#0ff 175.2px,#00ff5e 208.5px,#00ff29 209px,#0f0 209.1px,#ff0 210px,#ff6d00 210.5px,#f00 211px,#f00 267.5px,#ff0 270.5px,#2aff00 273px)"></i><i style="background:linear-gradient(#3fff00 0,#5cff00 39px,#75ff00 51.5px,#9f0 61px,#c3ff00 67.5px,#fdff00 73px,#ff0 73.2px,#ffd300 76px,#ff9400 79px,#ff5b00 81px,#f00 83.5px,#f00 87.5px,#ff0500 88px,#ff0 88.8px,#0f0 89.7px,#0ff 90.5px,#0063ff 91px,#05f 91.5px,#008cff 126.5px,#00d6ff 162.5px,#0ff 174.7px,#00fffe 175px,#00ff64 206.5px,#00ff5a 207px,#0f0 207.3px,#ff0 208.2px,#ff0800 209px,#f00 209.5px,#f00 267.5px,#ff0 270.5px,#2aff00 273px)"></i><i style="background:linear-gradient(#3fff00 0,#5cff00 39px,#76ff00 51.5px,#9aff00 61px,#c5ff00 67.5px,#ff0 72.9px,#fffe00 73px,#ffce00 76px,#f90 78.5px,#ff5200 81px,#ff0600 83px,#f00 87.5px,#ff0500 88px,#ff0 88.8px,#0f0 89.7px,#0ff 90.5px,#0065ff 91px,#0056ff 91.5px,#008eff 126.5px,#00d8ff 162.5px,#0ff 174.3px,#00fffe 174.5px,#00ff60 206.5px,#00ff57 207px,#0f0 207.3px,#ff0 208.2px,#ff0700 209px,#f00 209.5px,#f00 267.5px,#ff0 270.5px,#2aff00 273px)"></i><i style="background:linear-gradient(#3fff00 0,#5dff00 39px,#75ff00 51px,#9f0 60.5px,#d0ff00 68.5px,#ff0 72.3px,#ffe400 74.5px,#ff8600 79px,#f00 83px,#f00 87.5px,#ff0500 88px,#ff0 88.8px,#0f0 89.7px,#0ff 90.5px,#06f 91px,#0058ff 91.5px,#008eff 126px,#00d8ff 162px,#0ff 173.6px,#00fffc 174.5px,#00ff5d 206.5px,#00ff54 207px,#0f0 207.3px,#ff0 208.2px,#ff0600 209px,#f00 209.5px,#f00 267.5px,#ff0 270.5px,#2aff00 273px)"></i><i style="background:linear-gradient(#3fff00 0,#5dff00 39px,#76ff00 51px,#9aff00 60.5px,#ceff00 68px,#ff0 72.1px,#ffe700 74px,#ff8c00 78.5px,#ff5000 80.5px,#ff0400 82.5px,#f00 87.5px,#ff0500 88px,#ff0 88.8px,#0f0 89.7px,#0ff 90.5px,#0068ff 91px,#005aff 91.5px,#0090ff 126px,#00d9ff 162px,#0ff 173.2px,#00fffc 174px,#00ff5a 206.5px,#00ff50 207px,#0f0 207.3px,#ff0 208.1px,#ff0600 209px,#f00 209.5px,#f00 267px,#fa0 269.5px,#ff0 270.5px,#2aff00 273px)"></i><i style="background:linear-gradient(#3fff00 0,#5cff00 38.5px,#75ff00 50.5px,#9f0 60px,#cf0 67.5px,#ff0 71.8px,#ffeb00 73.5px,#ff9100 78px,#ff5800 80px,#f00 82.5px,#f00 87.5px,#ff0400 88px,#ff0 88.8px,#0f0 89.7px,#0ff 90.5px,#006aff 91px,#005bff 91.5px,#0091ff 125.5px,#00daff 161.5px,#0ff 172.7px,#00fffc 173.5px,#00ff56 206.5px,#00ff4d 207px,#0f0 207.3px,#ff0 208.1px,#ff0500 209px,#f00 209.5px,#f00 266px,#ff0700 266.5px,#ff0 270.1px,#7fff00 272px,#2aff00 273px)"></i><i style="background:linear-gradient(#3fff00 0,#5dff00 38.5px,#76ff00 50.5px,#9aff00 60px,#ceff00 67.5px,#ff0 71.5px,#ffe700 73.5px,#ff8b00 78px,#ff4f00 80px,#ff0100 82px,#f00 87.5px,#ff0400 88px,#ff0 88.8px,#0f0 89.7px,#0ff 90.5px,#006bff 91px,#005dff 91.5px,#007cff 113px,#00dbff 161.5px,#0ff 172.1px,#00fffa 173.5px,#00ff7a 197.5px,#00ff53 206.5px,#00ff49 207px,#0f0 207.3px,#ff0 208.1px,#ff0500 209px,#f00 209.5px,#f00 265.5px,#ff1300 266px,#ff0 269.5px,#0fff00 273px)"></i><i style="background:linear-gradient(#3fff00 0,#5cff00 38px,#75ff00 50px,#9f0 59.5px,#cf0 67px,#ff0 71.3px,#ffeb00 73px,#ff9100 77.5px,#ff5700 79.5px,#f00 82px,#f00 87.5px,#ff0400 88px,#ff0 88.8px,#0f0 89.7px,#0ff 90.5px,#006dff 91px,#005fff 91.5px,#007eff 113px,#00dcff 161px,#0ff 171.6px,#00fffa 173px,#00ff79 197px,#00ff4f 206.5px,#00ff46 207px,#0f0 207.2px,#ff0 208.1px,#ff0400 209px,#f00 209.5px,#f00 265px,#ff0 268.8px,#04ff00 272.5px,#0f0 273px)"></i><i style="background:linear-gradient(#3fff00 0,#5cff00 38px,#75ff00 50px,#9aff00 59.5px,#ceff00 67px,#ff0 71px,#ffe700 73px,#ff8a00 77.5px,#ff4e00 79.5px,#f00 81.5px,#f00 87.5px,#ff0400 88px,#ff0 88.8px,#0f0 89.7px,#0ff 90.5px,#006fff 91px,#0060ff 91.5px,#007fff 112.5px,#00deff 161px,#0ff 170.9px,#00fff8 173px,#00ff78 196.5px,#00ff4b 206.5px,#00ff42 207px,#0f0 207.2px,#ff0 208.1px,#ff0400 209px,#f00 209.5px,#f00 264px,#ff0a00 264.5px,#ff0 268.1px,#1bff00 271.5px,#0f0 272px,#0f0 273px)"></i><i style="background:linear-gradient(#3fff00 0,#5cff00 37.5px,#75ff00 49.5px,#9f0 59px,#cf0 66.5px,#ff0 70.8px,#ffeb00 72.5px,#ff9000 77px,#ff5600 79px,#ff0a00 81px,#f00 81.5px,#f00 87.5px,#ff0400 88px,#ff0 88.8px,#0f0 89.7px,#0ff 90.5px,#0070ff 91px,#0062ff 91.5px,#007fff 112px,#00deff 160.5px,#0ff 170.4px,#00fff8 172.5px,#00ff74 196.5px,#00ff47 206.5px,#00ff3e 207px,#0f0 207.2px,#ff0 208.1px,#ff0300 209px,#f00 209.5px,#f00 263.5px,#ff1600 264px,#ff0 267.4px,#10ff00 271px,#0f0 271.5px,#0f0 273px)"></i><i style="background:linear-gradient(#3fff00 0,#5dff00 38px,#7f0 50px,#9aff00 59px,#ceff00 66.5px,#ff0 70.5px,#ffe700 72.5px,#ff8900 77px,#ff4d00 79px,#f00 81px,#f00 87.5px,#ff0400 88px,#ff0 88.8px,#0f0 89.7px,#0ff 90.5px,#0072ff 91px,#0063ff 91.5px,#0081ff 112px,#00deff 160px,#0ff 169.8px,#00fff8 172px,#00ff73 196px,#0f4 206.5px,#00ff3a 207px,#0f0 207.2px,#ff0 208.1px,#ff0300 209px,#f00 209.5px,#f00 262.5px,#ff0100 263px,#ff0 266.8px,#03ff00 270.5px,#0f0 273px)"></i><i style="background:linear-gradient(#3fff00 0,#5cff00 37.5px,#76ff00 49.5px,#98ff00 58.5px,#cbff00 66px,#ff0 70.3px,#ffeb00 72px,#ff9000 76.5px,#f50 78.5px,#ff0800 80.5px,#f00 81px,#f00 87.5px,#ff0400 88px,#ff0 88.8px,#0f0 89.7px,#0ff 90.5px,#0073ff 91px,#0065ff 91.5px,#0082ff 111.5px,#00dfff 159.5px,#0ff 169.3px,#00fff8 171.5px,#00ff72 195.5px,#00ff40 206.5px,#00ff36 207px,#0f0 207.2px,#ff0 208.1px,#ff0300 209px,#f00 262px,#ff0d00 262.5px,#ff0 266.1px,#19ff00 269.5px,#0f0 270px,#0f0 273px)"></i><i style="background:linear-gradient(#3fff00 0,#5dff00 37.5px,#76ff00 49.5px,#9f0 58.5px,#ceff00 66px,#ff0 70px,#ffe700 72px,#ff8900 76.5px,#ff4c00 78.5px,#f00 80.5px,#f00 87.5px,#ff0300 88px,#ff0 88.8px,#0f0 89.7px,#0ff 90.5px,#0075ff 91px,#0067ff 91.5px,#0083ff 111.5px,#00dfff 159px,#0ff 168.7px,#00fff7 171px,#00ff6e 195.5px,#00ff3c 206.5px,#0f3 207px,#0f0 207.2px,#ff0 208.1px,#ff0200 209px,#f00 261.5px,#ff1800 262px,#ff0 265.4px,#0dff00 269px,#0f0 269.5px,#0f0 273px)"></i><i style="background:linear-gradient(#3fff00 0,#5cff00 37px,#76ff00 49px,#98ff00 58px,#cbff00 65.5px,#ff0 69.8px,#ffeb00 71.5px,#ff8f00 76px,#ff5400 78px,#ff0800 80px,#f00 80.5px,#f00 87.5px,#ff0300 88px,#ff0 88.8px,#0f0 89.7px,#0ff 90.5px,#0076ff 91px,#0068ff 91.5px,#0084ff 111px,#00e1ff 159px,#0ff 168.1px,#00fff7 170.5px,#00ff6d 195px,#00ff38 206.5px,#00ff2f 207px,#0f0 207.2px,#ff0 208.1px,#ff0200 209px,#f00 261px,#ff0 264.8px,#0f0 268.5px,#0f0 273px)"></i><i style="background:linear-gradient(#3fff00 0,#5cff00 37px,#76ff00 49px,#9f0 58px,#cdff00 65.5px,#ff0 69.5px,#ffe700 71.5px,#ff8900 76px,#ff4c00 78px,#f00 80px,#f00 86.5px,#ff7800 87px,#ff0 87.5px,#0f0 88.3px,#0ff 89.2px,#0098ff 89.5px,#0068ff 90px,#0084ff 110.5px,#00e1ff 158.5px,#0ff 167.5px,#00fff5 170.5px,#00ff6c 194.5px,#00ff34 206.5px,#00ff2c 207px,#0f0 207.2px,#ff0 208.1px,#ff0200 209px,#f00 260px,#ff0a00 260.5px,#ff0 264.1px,#16ff00 267.5px,#0f0 268px,#0f0 273px)"></i><i style="background:linear-gradient(#3fff00 0,#5dff00 37px,#7f0 49px,#9aff00 58px,#cfff00 65.5px,#ff0 69.4px,#ffeb00 71px,#ff8f00 75.5px,#ff5400 77.5px,#ff0700 79.5px,#f00 80px,#f00 85px,#ff5600 85.5px,#ff0 86.1px,#0f0 86.9px,#0ff 87.8px,#00b9ff 88px,#0067ff 88.5px,#0086ff 110.5px,#00e2ff 158px,#0ff 166.9px,#00fff5 170px,#00ffb3 182.5px,#00ff68 194.5px,#00ff31 206.5px,#00ff2a 207px,#0f0 207.2px,#ff0 208.1px,#ff0100 209px,#f00 259.5px,#ff1200 260px,#ff0 263.4px,#0bff00 267px,#0f0 267.5px,#0f0 273px)"></i><i style="background:linear-gradient(#3fff00 0,#5dff00 37px,#7f0 49px,#9bff00 58px,#c8ff00 64.5px,#ff0 69.4px,#fffe00 69.5px,#ffcd00 72.5px,#ff9600 75px,#ff5c00 77px,#f00 79.5px,#f00 83.5px,#ff3400 84px,#ff0 84.7px,#0f0 85.5px,#0ff 86.4px,#00dbff 86.5px,#0067ff 87px,#0087ff 110px,#00e3ff 158px,#0ff 166.4px,#00fff3 170px,#00ff67 194px,#00ff2e 206.5px,#00ff28 207px,#0f0 207.1px,#ff0 208.1px,#ff0100 209px,#f00 259px,#ff1900 259.5px,#ff0 262.8px,#01ff00 266.5px,#0f0 273px)"></i><i style="background:linear-gradient(#3fff00 0,#5dff00 37px,#78ff00 49px,#9cff00 58px,#caff00 64.5px,#ff0 69px,#fff300 70px,#ffc800 72.5px,#ff8f00 75px,#ff5400 77px,#ff0600 79px,#f00 82px,#ff1200 82.5px,#ff0 83.3px,#0f0 84.1px,#0ff 85px,#06f 85.5px,#08f 110px,#00e3ff 157.5px,#0ff 165.9px,#00fff3 169.5px,#00ff64 194px,#00ff2e 206.5px,#00ff27 207px,#0f0 207.1px,#ff0 208.1px,#ff0100 209px,#f00 258.5px,#ff0 262.2px,#18ff00 265.5px,#0f0 266px,#0f0 273px)"></i><i style="background:linear-gradient(#3fff00 0,#5dff00 37px,#78ff00 49px,#9dff00 58px,#cf0 64.5px,#ff0 68.8px,#fff700 69.5px,#ffcd00 72px,#ff9600 74.5px,#ff5c00 76.5px,#f00 79px,#f00 82px,#ff1200 82.5px,#ff0 83.3px,#0f0 84.1px,#0ff 85px,#0067ff 85.5px,#08f 109.5px,#00e4ff 157.5px,#0ff 165.5px,#00fff3 169px,#00ffb1 181.5px,#00ff64 193.5px,#00ff30 205px,#0f0 205.2px,#39ff00 205.5px,#ff0 206.2px,#ff2a00 207px,#f00 207.5px,#f00 258px,#ff0 261.6px,#10ff00 265px,#0f0 265.5px,#0f0 273px)"></i><i style="background:linear-gradient(#3fff00 0,#5eff00 37px,#7f0 48.5px,#9cff00 57.5px,#caff00 64px,#ff0 68.7px,#fffb00 69px,#ffc900 72px,#ff9000 74.5px,#ff5400 76.5px,#ff0500 78.5px,#f00 82px,#ff1200 82.5px,#ff0 83.3px,#0f0 84.1px,#0ff 85px,#0068ff 85.5px,#08f 109px,#00e4ff 157px,#0ff 165.1px,#00fff2 169px,#00ff65 193px,#00ff37 203px,#0f0 203.4px,#09ff00 203.5px,#ff0 204.4px,#ff5300 205px,#f00 205.5px,#f00 257px,#ff0100 257.5px,#ff0 261.1px,#09ff00 264.5px,#0f0 265px,#0f0 273px)"></i><i style="background:linear-gradient(#3fff00 0,#5eff00 37px,#78ff00 48.5px,#9dff00 57.5px,#cf0 64px,#ff0 68.4px,#fff800 69px,#ffce00 71.5px,#ff9600 74px,#ff5c00 76px,#f00 78.5px,#f00 82px,#ff1200 82.5px,#ff0 83.3px,#0f0 84.1px,#0ff 85px,#0069ff 85.5px,#0089ff 109px,#00e5ff 157px,#0ff 164.7px,#00fff0 169px,#00ff62 193px,#00ff3f 201px,#00ff28 201.5px,#0f0 201.6px,#ff0 202.5px,#ff7f00 203px,#f00 203.5px,#f00 256.5px,#ff0300 257px,#ff0 260.5px,#02ff00 264px,#0f0 273px)"></i><i style="background:linear-gradient(#3fff00 0,#5dff00 36.5px,#7f0 48px,#9bff00 57px,#c9ff00 63.5px,#ff0 68.2px,#fffc00 68.5px,#ffc900 71.5px,#ff9000 74px,#ff5400 76px,#ff0500 78px,#f00 82px,#ff1200 82.5px,#ff0 83.3px,#0f0 84.1px,#0ff 85px,#0069ff 85.5px,#0089ff 108.5px,#00e6ff 157px,#0ff 164.2px,#0fe 169px,#00ff63 192.5px,#00ff3d 201px,#00ff26 201.5px,#0f0 201.6px,#ff0 202.5px,#ff7e00 203px,#f00 203.5px,#f00 256px,#ff0200 256.5px,#ff0 260px,#0f0 263.5px,#0f0 273px)"></i><i style="background:linear-gradient(#3fff00 0,#5dff00 36.5px,#7f0 48px,#9cff00 57px,#c6ff00 63px,#feff00 68px,#ff0 68px,#ffce00 71px,#ff9700 73.5px,#ff5c00 75.5px,#f00 78px,#f00 82px,#ff1200 82.5px,#ff0 83.3px,#0f0 84.1px,#0ff 85px,#006aff 85.5px,#008aff 108.5px,#00e5ff 156.5px,#0ff 163.9px,#00ffef 168.5px,#00ff60 192.5px,#00ff3c 201px,#00ff25 201.5px,#0f0 201.6px,#ff0 202.5px,#ff7e00 203px,#f00 203.5px,#f00 256px,#ff0 259.5px,#0f0 263px,#0f0 273px)"></i><i style="background:linear-gradient(#3fff00 0,#5dff00 36px,#76ff00 47.5px,#9bff00 56.5px,#d2ff00 64px,#ff0 67.5px,#ffe500 69.5px,#ffb500 72px,#ff8300 74px,#ff4200 76px,#ff0400 77.5px,#f00 82px,#ff1200 82.5px,#ff0 83.3px,#0f0 84.1px,#0ff 85px,#006bff 85.5px,#008aff 108px,#00e7ff 156.5px,#0ff 163.5px,#00ffed 168.5px,#00ff61 192px,#00ff3a 201px,#00ff23 201.5px,#0f0 201.6px,#ff0 202.5px,#ff7e00 203px,#f00 203.5px,#f00 255.5px,#ff0 259px,#0f0 262.5px,#0f0 273px)"></i><i style="background:linear-gradient(#3fff00 0,#5dff00 36px,#7f0 47.5px,#9cff00 56.5px,#d4ff00 64px,#ff0 67.3px,#ffe100 69.5px,#ff8a00 73.5px,#ff5c00 75px,#f00 77.5px,#f00 82px,#ff1200 82.5px,#ff0 83.3px,#0f0 84.2px,#0ff 85px,#006cff 85.5px,#008bff 108px,#00e6ff 156px,#0ff 163.2px,#0fe 168px,#00ff5e 192px,#00ff39 201px,#0f2 201.5px,#0f0 201.6px,#ff0 202.5px,#ff7d00 203px,#f00 203.5px,#f00 255px,#ff1d00 255.5px,#ff0 258.6px,#0f0 262px,#0f0 273px)"></i><i style="background:linear-gradient(#3fff00 0,#5dff00 36px,#7f0 47.5px,#9aff00 56px,#d1ff00 63.5px,#ff0 67.1px,#ffe600 69px,#ffb500 71.5px,#ff8300 73.5px,#ff4200 75.5px,#ff0400 77px,#f00 82px,#ff1200 82.5px,#ff0 83.3px,#0f0 84.2px,#0ff 85px,#006dff 85.5px,#008bff 107.5px,#00e7ff 156px,#0ff 162.7px,#00ffec 168px,#00ff5c 192px,#00ff38 201px,#00ff21 201.5px,#0f0 201.6px,#ff0 202.5px,#ff7d00 203px,#f00 203.5px,#f00 254.5px,#ff1700 255px,#ff0 258.1px,#02ff00 261.5px,#0f0 273px)"></i><i style="background:linear-gradient(#3fff00 0,#5dff00 36px,#78ff00 47.5px,#9bff00 56px,#d3ff00 63.5px,#ff0 66.8px,#ffe200 69px,#ff8a00 73px,#ff5d00 74.5px,#f00 77px,#f00 82px,#f10 82.5px,#ff0 83.3px,#0f0 84.2px,#0ff 85px,#006eff 85.5px,#008cff 107.5px,#00e6ff 155.5px,#0ff 162.5px,#00ffed 167.5px,#00ff5c 191.5px,#00ff36 201px,#00ff1f 201.5px,#0f0 201.6px,#ff0 202.5px,#ff7c00 203px,#f00 203.5px,#f00 254px,#ff1200 254.5px,#ff0 257.7px,#05ff00 261px,#0f0 273px)"></i><i style="background:linear-gradient(#3fff00 0,#5dff00 35.5px,#76ff00 47px,#9f0 55.5px,#d0ff00 63px,#ff0 66.6px,#ffe700 68.5px,#ffb600 71px,#ff8400 73px,#ff4200 75px,#ff0400 76.5px,#f00 82px,#f10 82.5px,#ff0 83.3px,#0f0 84.2px,#0ff 85px,#006eff 85.5px,#008dff 107px,#00e8ff 155.5px,#0ff 162px,#00ffeb 167.5px,#00ff5a 191.5px,#00ff35 201px,#00ff1e 201.5px,#0f0 201.6px,#ff0 202.5px,#ff7c00 203px,#f00 203.5px,#f00 253.5px,#ff0c00 254px,#ff0 257.2px,#0aff00 260.5px,#0f0 261px,#0f0 273px)"></i><i style="background:linear-gradient(#3fff00 0,#5dff00 35.5px,#7f0 47px,#9aff00 55.5px,#d2ff00 63px,#ff0 66.4px,#ffe300 68.5px,#ff8b00 72.5px,#ff5d00 74px,#f00 76.5px,#f00 82px,#f10 82.5px,#ff0 83.3px,#0f0 84.2px,#0ff 85px,#006fff 85.5px,#008eff 107px,#00e7ff 155px,#0ff 161.8px,#00ffec 167px,#00ff5a 191px,#00ff34 201px,#00ff1d 201.5px,#0f0 201.6px,#ff0 202.5px,#ff7c00 203px,#f00 203.5px,#f00 253px,#ff0400 253.5px,#ff0 256.8px,#0fff00 260px,#0f0 260.5px,#0f0 273px)"></i><i style="background:linear-gradient(#3fff00 0,#5cff00 35px,#76ff00 46.5px,#98ff00 55px,#cfff00 62.5px,#ff0 66.2px,#ffe800 68px,#ffb700 70.5px,#ff8400 72.5px,#ff4300 74.5px,#ff0400 76px,#f00 82px,#f10 82.5px,#ff0 83.3px,#0f0 84.2px,#0ff 85px,#0070ff 85.5px,#008eff 106.5px,#00e8ff 155px,#0ff 161.3px,#00ffea 167px,#00ff58 191px,#0f3 201px,#00ff1c 201.5px,#0f0 201.6px,#ff0 202.5px,#ff7b00 203px,#f00 203.5px,#f00 253px,#ff0 256.4px,#15ff00 259.5px,#0f0 260px,#0f0 273px)"></i><i style="background:linear-gradient(#3fff00 0,#5cff00 35px,#76ff00 46.5px,#9f0 55px,#d1ff00 62.5px,#ff0 66px,#ffe400 68px,#ff8c00 72px,#ff5e00 73.5px,#f00 76px,#f00 82px,#f10 82.5px,#ff0 83.3px,#0f0 84.2px,#0ff 85px,#0071ff 85.5px,#008fff 106.5px,#00e7ff 154.5px,#0ff 161.1px,#00ffeb 166.5px,#00ff59 190.5px,#00ff31 201px,#00ff1b 201.5px,#0f0 201.6px,#ff0 202.5px,#ff7b00 203px,#f00 203.5px,#f00 252.5px,#ff1a00 253px,#ff0 256px,#1dff00 259px,#0f0 259.5px,#0f0 273px)"></i><i style="background:linear-gradient(#3fff00 0,#5dff00 35px,#7f0 46.5px,#9aff00 55px,#ceff00 62px,#ff0 65.8px,#ffe900 67.5px,#ffb800 70px,#ff8500 72px,#ff4300 74px,#ff0400 75.5px,#f00 82px,#f10 82.5px,#ff0 83.3px,#0f0 84.2px,#0ff 85px,#0072ff 85.5px,#008fff 106px,#00e8ff 154.5px,#0ff 160.7px,#00ffea 166.5px,#00ff56 190.5px,#00ff30 201px,#00ff1a 201.5px,#0f0 201.6px,#ff0 202.5px,#ff7b00 203px,#f00 203.5px,#f00 252px,#ff0f00 252.5px,#ff0 255.6px,#0f0 259px,#0f0 273px)"></i><i style="background:linear-gradient(#3fff00 0,#5dff00 35px,#76ff00 46px,#9f0 54.5px,#d0ff00 62px,#ff0 65.5px,#ffe500 67.5px,#ff8d00 71.5px,#ff5e00 73px,#f00 75.5px,#f00 82px,#f10 82.5px,#ff0 83.3px,#0f0 84.2px,#0ff 85px,#0073ff 85.5px,#00a4ff 117.5px,#00e8ff 154px,#0ff 160.4px,#00ffea 166px,#00ff57 190px,#00ff2f 201px,#00ff19 201.5px,#0f0 201.6px,#ff0 202.5px,#ff7b00 203px,#f00 203.5px,#f00 251.5px,#ff0500 252px,#ff0 255.3px,#07ff00 258.5px,#0f0 259px,#0f0 273px)"></i><i style="background:linear-gradient(#3fff00 0,#5dff00 35px,#76ff00 46px,#9aff00 54.5px,#cdff00 61.5px,#ff0 65.3px,#ffea00 67px,#ffb900 69.5px,#ff8600 71.5px,#f40 73.5px,#ff0500 75px,#f00 82px,#f10 82.5px,#ff0 83.3px,#0f0 84.2px,#0ff 85px,#0073ff 85.5px,#00a5ff 117.5px,#00e9ff 154px,#0ff 160px,#00ffe9 166px,#0f5 190px,#00ff2e 201px,#00ff18 201.5px,#0f0 201.6px,#ff0 202.5px,#ff7b00 203px,#f00 203.5px,#f00 251.5px,#ff0 254.9px,#1f0 258px,#0f0 258.5px,#0f0 273px)"></i><i style="background:linear-gradient(#3fff00 0,#5dff00 35px,#7f0 46px,#9bff00 54.5px,#cfff00 61.5px,#ff0 65.1px,#ffe600 67px,#ff8e00 71px,#ff4e00 73px,#f00 75px,#f00 81px,#ff8400 81.5px,#ff0 81.9px,#0f0 82.8px,#0ff 83.6px,#0094ff 84px,#0073ff 84.5px,#00a5ff 117px,#00eaff 154px,#0ff 159.6px,#00ffe7 166px,#00ff53 190px,#00ff2d 201px,#00ff17 201.5px,#0f0 201.6px,#ff0 202.5px,#ff7b00 203px,#f00 203.5px,#f00 251px,#ff1400 251.5px,#ff0 254.5px,#1bff00 257.5px,#0f0 258px,#0f0 273px)"></i><i style="background:linear-gradient(#3fff00 0,#5dff00 35px,#7f0 46px,#9cff00 54.5px,#d1ff00 61.5px,#ff0 64.9px,#ffe200 67px,#ff8700 71px,#ff4500 73px,#ff0500 74.5px,#f00 79.5px,#ff6300 80px,#ff0 80.5px,#0f0 81.4px,#0ff 82.2px,#00b4ff 82.5px,#0072ff 83px,#00a6ff 117px,#00e9ff 153.5px,#0ff 159.3px,#00ffe8 165.5px,#00ff53 189.5px,#00ff2c 201px,#00ff16 201.5px,#0f0 201.6px,#ff0 202.5px,#ff7b00 203px,#f00 203.5px,#f00 250.5px,#ff0700 251px,#ff0 254.2px,#0f0 257.5px,#0f0 273px)"></i><i style="background:linear-gradient(#3fff00 0,#5eff00 35px,#78ff00 46px,#9dff00 54.5px,#caff00 60.5px,#ff0 65px,#ffd500 67.5px,#ff9c00 70px,#ff6000 72px,#f00 74.5px,#f00 78px,#ff4100 78.5px,#ff0 79.1px,#0f0 80px,#0ff 80.9px,#00d4ff 81px,#0070ff 81.5px,#00a6ff 116.5px,#00eaff 153.5px,#0ff 159px,#00ffe6 165.5px,#00ff51 189.5px,#00ff2b 201px,#00ff15 201.5px,#0f0 201.6px,#ff0 202.5px,#ff7b00 203px,#f00 203.5px,#f00 250.5px,#ff0 253.8px,#0dff00 257px,#0f0 257.5px,#0f0 273px)"></i><i style="background:linear-gradient(#3fff00 0,#5eff00 35px,#78ff00 46px,#9eff00 54.5px,#cf0 60.5px,#ff0 64.6px,#fff400 65.5px,#ffc600 68px,#f80 70.5px,#ff4600 72.5px,#ff0600 74px,#f00 76.5px,#ff2000 77px,#ff0 77.8px,#0f0 78.6px,#0ff 79.5px,#00f5ff 79.5px,#006fff 80px,#00a7ff 116.5px,#00eaff 153px,#0ff 158.7px,#00ffe7 165px,#00ff51 189px,#00ff2a 201px,#00ff15 201.5px,#0f0 201.6px,#ff0 202.5px,#ff7b00 203px,#f00 203.5px,#f00 250px,#f10 250.5px,#ff0 253.6px,#19ff00 256.5px,#0f0 257px,#0f0 273px)"></i><i style="background:linear-gradient(#3fff00 0,#5dff00 34.5px,#7f0 45.5px,#9cff00 54px,#c9ff00 60px,#ff0 64.4px,#fff800 65px,#fc0 67.5px,#ff9000 70px,#ff5000 72px,#f00 74px,#f00 76.5px,#ff2000 77px,#ff0 77.8px,#0f0 78.6px,#0ff 79.5px,#00f6ff 79.5px,#0070ff 80px,#00a8ff 116.5px,#00ebff 153px,#0ff 158.3px,#00ffe6 165px,#00ff4f 189px,#00ff29 201px,#00ff15 201.5px,#0f0 201.6px,#ff0 202.5px,#ff7a00 203px,#f00 203.5px,#f00 249.5px,#ff0100 250px,#ff0 253.2px,#01ff00 256.5px,#0f0 273px)"></i><i style="background:linear-gradient(#3fff00 0,#5eff00 34.5px,#78ff00 45.5px,#9dff00 54px,#cbff00 60px,#ff0 64.2px,#fff500 65px,#ffc700 67.5px,#ff8900 70px,#ff4700 72px,#ff0800 73.5px,#f00 74px,#f00 76.5px,#ff2000 77px,#ff0 77.8px,#0f0 78.6px,#0ff 79.5px,#00f6ff 79.5px,#0071ff 80px,#00a8ff 116px,#00eaff 152.5px,#0ff 158.1px,#00ffe7 164.5px,#00ff4d 189px,#00ff29 201px,#00ff14 201.5px,#0f0 201.6px,#ff0 202.5px,#ff7a00 203px,#f00 203.5px,#f00 249.5px,#ff1900 250px,#ff0 252.9px,#10ff00 256px,#0f0 256.5px,#0f0 273px)"></i><i style="background:linear-gradient(#3fff00 0,#5dff00 34px,#7f0 45px,#9cff00 53.5px,#c8ff00 59.5px,#ff0 64px,#fff900 64.5px,#ffcd00 67px,#ff9100 69.5px,#ff5100 71.5px,#f00 73.5px,#f00 76.5px,#ff2000 77px,#ff0 77.8px,#0f0 78.6px,#0ff 79.5px,#00f6ff 79.5px,#0072ff 80px,#00a9ff 116px,#00ebff 152.5px,#0ff 157.7px,#00ffe5 164.5px,#00ff4d 188.5px,#00ff28 201px,#00ff14 201.5px,#0f0 201.6px,#ff0 202.5px,#ff7a00 203px,#f00 203.5px,#f00 249px,#ff0600 249.5px,#ff0 252.7px,#20ff00 255.5px,#0f0 256px,#0f0 273px)"></i><i style="background:linear-gradient(#3fff00 0,#5dff00 34px,#78ff00 45px,#9dff00 53.5px,#caff00 59.5px,#ff0 63.9px,#fffd00 64px,#ffd200 66.5px,#ff9800 69px,#ff5b00 71px,#ff0900 73px,#f00 73.5px,#f00 76.5px,#ff2000 77px,#ff0 77.8px,#0f0 78.6px,#0ff 79.5px,#00f7ff 79.5px,#0072ff 80px,#00d4ff 140px,#00eaff 152px,#0ff 157.4px,#00ffe6 164px,#00ff4b 188.5px,#00ff28 201px,#00ff14 201.5px,#0f0 201.6px,#ff0 202.5px,#ff7a00 203px,#f00 203.5px,#f00 249px,#ff1c00 249.5px,#ff0 252.4px,#0aff00 255.5px,#0f0 256px,#0f0 273px)"></i><i style="background:linear-gradient(#3fff00 0,#5eff00 34px,#7f0 44.5px,#9bff00 53px,#c7ff00 59px,#ff0 63.6px,#fffa00 64px,#ffce00 66.5px,#ff9200 69px,#ff5300 71px,#f00 73px,#f00 76.5px,#ff1f00 77px,#ff0 77.8px,#0f0 78.6px,#0ff 79.5px,#00f8ff 79.5px,#0073ff 80px,#00d5ff 140px,#00ebff 152px,#0ff 157.1px,#00ffe4 164px,#00ff4c 188px,#00ff28 201px,#00ff14 201.5px,#0f0 201.6px,#ff0 202.5px,#ff7a00 203px,#f00 203.5px,#f00 248.5px,#ff0900 249px,#ff0 252.1px,#1cff00 255px,#0f0 255.5px,#0f0 273px)"></i><i style="background:linear-gradient(#3fff00 0,#5eff00 34px,#7f0 44.5px,#9cff00 53px,#caff00 59px,#ff0 63.4px,#fffe00 63.5px,#ffd300 66px,#ff9a00 68.5px,#ff5d00 70.5px,#ff0c00 72.5px,#f00 73px,#f00 76.5px,#ff1f00 77px,#ff0 77.8px,#0f0 78.6px,#0ff 79.5px,#00f8ff 79.5px,#0074ff 80px,#00d5ff 139.5px,#00ebff 151.5px,#0ff 156.8px,#00ffe5 163.5px,#00ff4a 188px,#00ff28 201px,#00ff13 201.5px,#0f0 201.6px,#ff0 202.5px,#ff7a00 203px,#f00 203.5px,#f00 248.5px,#ff1c00 249px,#ff0 251.9px,#07ff00 255px,#0f0 255.5px,#0f0 273px)"></i><i style="background:linear-gradient(#3fff00 0,#5fff00 34px,#7aff00 45px,#9eff00 53px,#d1ff00 59.5px,#ff0 62.9px,#ffe200 65px,#ff8500 69px,#ff4200 71px,#ff0100 72.5px,#f00 76.5px,#ff1f00 77px,#ff0 77.8px,#0f0 78.6px,#0ff 79.5px,#00f9ff 79.5px,#0075ff 80px,#00eaff 151px,#0ff 156.4px,#00ffe4 163.5px,#00ff4a 187.5px,#00ff29 199.5px,#0f0 199.7px,#4cff00 200px,#ff0 200.7px,#ff1b00 201.5px,#f00 202px,#f00 248px,#ff0800 248.5px,#ff0 251.6px,#1aff00 254.5px,#0f0 255px,#0f0 273px)"></i><i style="background:linear-gradient(#3fff00 0,#5eff00 33.5px,#7f0 44px,#9cff00 52.5px,#ceff00 59px,#ff0 62.7px,#ffe700 64.5px,#ff8d00 68.5px,#f00 72.5px,#f00 76.5px,#ff1f00 77px,#ff0 77.8px,#0f0 78.6px,#0ff 79.5px,#00faff 79.5px,#0075ff 80px,#00ebff 151px,#0ff 156.1px,#00ffe2 163.5px,#00ff48 187.5px,#00ff2d 197.5px,#0f0 197.8px,#1fff00 198px,#ff0 198.8px,#f40 199.5px,#f00 200px,#f00 248px,#ff1b00 248.5px,#ff0 251.4px,#07ff00 254.5px,#0f0 255px,#0f0 273px)"></i><i style="background:linear-gradient(#40ff00 0,#5fff00 33.5px,#7aff00 44.5px,#9eff00 52.5px,#d0ff00 59px,#ff0 62.4px,#ffe300 64.5px,#ff8700 68.5px,#f40 70.5px,#ff0300 72px,#f00 76.5px,#ff1f00 77px,#ff0 77.8px,#0f0 78.6px,#0ff 79.5px,#00faff 79.5px,#0076ff 80px,#00ebff 150.5px,#0ff 155.7px,#00ffe3 163px,#00ff46 187.5px,#00ff31 195.5px,#00ff0e 196px,#0f0 196px,#ff0 197px,#ff6e00 197.5px,#f00 198px,#f00 247.5px,#ff0400 248px,#ff0 251.1px,#1cff00 254px,#0f0 254.5px,#0f0 273px)"></i><i style="background:linear-gradient(#40ff00 0,#5eff00 33px,#7f0 43.5px,#9cff00 52px,#ceff00 58.5px,#ff0 62.2px,#ffe800 64px,#ff8f00 68px,#ff4e00 70px,#f00 72px,#f00 76.5px,#ff1f00 77px,#ff0 77.8px,#0f0 78.6px,#0ff 79.5px,#00fbff 79.5px,#07f 80px,#00ebff 150.5px,#0ff 155.4px,#00ffe1 163px,#00ff46 187px,#00ff30 195.5px,#00ff0d 196px,#0f0 196px,#ff0 197px,#ff6e00 197.5px,#f00 198px,#f00 247.5px,#ff1600 248px,#ff0 250.9px,#0aff00 254px,#0f0 254.5px,#0f0 273px)"></i><i style="background:linear-gradient(#40ff00 0,#5fff00 33px,#7aff00 44px,#9dff00 52px,#d0ff00 58.5px,#ff0 62px,#ffe300 64px,#f80 68px,#ff4600 70px,#ff0600 71.5px,#f00 76.5px,#ff1f00 77px,#ff0 77.8px,#0f0 78.6px,#0ff 79.5px,#00fcff 79.5px,#0078ff 80px,#00ecff 150.5px,#0ff 155.2px,#00ffe2 162.5px,#0f4 187px,#00ff2f 195.5px,#00ff0c 196px,#0f0 196px,#ff0 197px,#ff6d00 197.5px,#f00 198px,#f00 247.5px,#ff0 250.7px,#20ff00 253.5px,#0f0 254px,#0f0 273px)"></i><i style="background:linear-gradient(#40ff00 0,#5eff00 32.5px,#7f0 43px,#9cff00 51.5px,#cdff00 58px,#ff0 61.8px,#ffe800 63.5px,#ffb600 66px,#ff8200 68px,#ff5100 69.5px,#f00 71.5px,#f00 76.5px,#ff1f00 77px,#ff0 77.8px,#0f0 78.6px,#0ff 79.5px,#00fcff 79.5px,#0078ff 80px,#00ecff 150px,#0ff 154.8px,#00ffe1 162.5px,#00ff45 186.5px,#00ff2e 195.5px,#00ff0b 196px,#0f0 196px,#ff0 197px,#ff6d00 197.5px,#f00 198px,#f00 247px,#ff1000 247.5px,#ff0 250.5px,#0fff00 253.5px,#0f0 254px,#0f0 273px)"></i><i style="background:linear-gradient(#40ff00 0,#60ff00 33px,#7aff00 43.5px,#9eff00 51.5px,#d0ff00 58px,#ff0 61.5px,#ffe400 63.5px,#ff8a00 67.5px,#ff4900 69.5px,#ff0a00 71px,#f00 71.5px,#f00 76.5px,#ff1f00 77px,#ff0 77.8px,#0f0 78.6px,#0ff 79.5px,#00fdff 79.5px,#0079ff 80px,#00ecff 150px,#0ff 154.5px,#00ffdf 162.5px,#00ff42 186.5px,#00ff2d 195.5px,#00ff0a 196px,#0f0 196px,#ff0 197px,#ff6d00 197.5px,#f00 198px,#f00 247px,#ff2100 247.5px,#ff0 250.3px,#0f0 253.5px,#0f0 273px)"></i><i style="background:linear-gradient(#40ff00 0,#5fff00 32.5px,#79ff00 43px,#9cff00 51px,#d2ff00 58px,#ff0 61.2px,#ffe000 63.5px,#ff8400 67.5px,#ff4000 69.5px,#f00 71px,#f00 76.5px,#ff1f00 77px,#ff0 77.8px,#0f0 78.6px,#0ff 79.5px,#00feff 79.5px,#007aff 80px,#00ecff 149.5px,#0ff 154.2px,#00ffe0 162px,#00ff43 186px,#00ff2d 195.5px,#00ff09 196px,#0f0 196px,#ff0 197px,#ff6d00 197.5px,#f00 198px,#f00 246.5px,#ff0900 247px,#ff0 250.1px,#15ff00 253px,#0f0 253.5px,#0f0 273px)"></i><i style="background:linear-gradient(#41ff00 0,#60ff00 32.5px,#7aff00 43px,#9eff00 51px,#d0ff00 57.5px,#ff0 61px,#ffe500 63px,#ff8c00 67px,#f00 71px,#f00 76.5px,#ff1f00 77px,#ff0 77.8px,#0f0 78.6px,#0ff 79.5px,#00feff 79.5px,#007bff 80px,#00edff 149.5px,#0ff 153.9px,#00ffde 162px,#00ff41 186px,#00ff2c 195.5px,#00ff08 196px,#0f0 196px,#ff0 197px,#ff6c00 197.5px,#f00 198px,#f00 246.5px,#ff1900 247px,#ff0 249.9px,#05ff00 253px,#0f0 273px)"></i><i style="background:linear-gradient(#41ff00 0,#60ff00 32px,#7aff00 42.5px,#9dff00 50.5px,#d3ff00 57.5px,#ff0 60.8px,#ffe100 63px,#ff8500 67px,#ff4300 69px,#ff0400 70.5px,#f00 76.5px,#ff1f00 77px,#ff0 77.8px,#0f0 78.6px,#0ff 79.5px,#007bff 80px,#00edff 149px,#0ff 153.6px,#00ffdf 161.5px,#00ff3f 186px,#00ff2b 195.5px,#00ff08 196px,#0f0 196px,#ff0 197px,#ff6c00 197.5px,#f00 198px,#f00 246px,#ff0100 246.5px,#ff0 249.7px,#1dff00 252.5px,#0f0 253px,#0f0 273px)"></i><i style="background:linear-gradient(#41ff00 0,#60ff00 32px,#7bff00 42.5px,#9eff00 50.5px,#d0ff00 57px,#ff0 60.5px,#ffe500 62.5px,#ffb300 65px,#ff7f00 67px,#f00 70.5px,#f00 76.5px,#ff1f00 77px,#ff0 77.8px,#0f0 78.6px,#00fffe 79.5px,#0ff 79.5px,#007cff 80px,#00edff 149px,#0ff 153.3px,#0fd 161.5px,#00ff3f 185.5px,#00ff2a 195.5px,#00ff07 196px,#0f0 196px,#ff0 197px,#ff6c00 197.5px,#f00 198px,#f00 246px,#f10 246.5px,#ff0 249.5px,#0dff00 252.5px,#0f0 253px,#0f0 273px)"></i><i style="background:linear-gradient(#41ff00 0,#60ff00 31.5px,#7aff00 42px,#9dff00 50px,#d3ff00 57px,#ff0 60.3px,#ffe100 62.5px,#ff8700 66.5px,#ff4600 68.5px,#ff0800 70px,#f00 70.5px,#f00 76.5px,#ff1f00 77px,#ff0 77.8px,#0f0 78.6px,#00fffe 79.5px,#0ff 79.5px,#007dff 80px,#0ef 149px,#0ff 153.1px,#00ffde 161px,#00ff3d 185.5px,#00ff29 195.5px,#00ff06 196px,#0f0 196px,#ff0 197px,#ff6c00 197.5px,#f00 198px,#f00 246px,#ff2100 246.5px,#ff0 249.3px,#0f0 252.5px,#0f0 273px)"></i><i style="background:linear-gradient(#42ff00 0,#61ff00 31.5px,#7bff00 42px,#9fff00 50px,#d6ff00 57px,#ff0 60px,#fd0 62.5px,#ff8100 66.5px,#ff3f00 68.5px,#f00 70px,#f00 76.5px,#ff1e00 77px,#ff0 77.8px,#0f0 78.6px,#00fffd 79.5px,#0ff 79.5px,#007eff 80px,#0ef 148.5px,#0ff 152.7px,#0fd 161px,#00ff3d 185px,#00ff28 195.5px,#00ff06 196px,#0f0 196px,#ff0 197px,#ff6c00 197.5px,#f00 198px,#f00 245.5px,#ff0900 246px,#ff0 249.1px,#15ff00 252px,#0f0 252.5px,#0f0 273px)"></i><i style="background:linear-gradient(#42ff00 0,#61ff00 31px,#7bff00 41.5px,#9eff00 49.5px,#d3ff00 56.5px,#ff0 59.8px,#ffe100 62px,#ff8900 66px,#f00 70px,#f00 76.5px,#ff1e00 77px,#ff0 77.8px,#0f0 78.6px,#00fffc 79.5px,#0ff 79.5px,#007eff 80px,#0ef 148.5px,#0ff 152.4px,#00ffdb 161px,#00ff3b 185px,#00ff28 195.5px,#00ff05 196px,#0f0 196px,#ff0 197px,#ff6b00 197.5px,#f00 198px,#f00 245.5px,#ff1900 246px,#ff0 248.9px,#05ff00 252px,#0f0 273px)"></i><i style="background:linear-gradient(#42ff00 0,#62ff00 31px,#7cff00 41.5px,#a0ff00 49.5px,#d1ff00 56px,#ff0 59.5px,#ffe600 61.5px,#ffb500 64px,#ff8300 66px,#ff4200 68px,#ff0400 69.5px,#f00 76.5px,#ff1e00 77px,#ff0 77.8px,#0f0 78.6px,#00fffc 79.5px,#0ff 79.5px,#007fff 80px,#0ef 148px,#0ff 152.1px,#00ffdc 160.5px,#00ff3c 184.5px,#00ff27 195.5px,#00ff04 196px,#0f0 196px,#ff0 197px,#ff6b00 197.5px,#f00 198px,#f00 245px,#ff0100 245.5px,#ff0 248.7px,#1dff00 251.5px,#0f0 252px,#0f0 273px)"></i><i style="background:linear-gradient(#43ff00 0,#63ff00 31px,#7eff00 41.5px,#a2ff00 49.5px,#d4ff00 56px,#ff0 59.2px,#ffe100 61.5px,#ffb000 64px,#ff7d00 66px,#f00 69.5px,#f00 75.5px,#ff0 76.4px,#0f0 77.2px,#0ff 78.1px,#0090ff 78.5px,#007fff 79px,#00efff 148px,#0ff 151.8px,#00ffda 160.5px,#00ff39 184.5px,#00ff26 195.5px,#00ff04 196px,#0f0 196px,#ff0 197px,#ff6b00 197.5px,#f00 198px,#f00 245px,#ff1000 245.5px,#ff0 248.5px,#0dff00 251.5px,#0f0 252px,#0f0 273px)"></i><i style="background:linear-gradient(#43ff00 0,#64ff00 31px,#7fff00 41.5px,#a4ff00 49.5px,#d7ff00 56px,#ff0 59px,#fd0 61.5px,#ff8500 65.5px,#ff4600 67.5px,#ff0a00 69px,#f00 69.5px,#f00 74px,#ff6f00 74.5px,#ff0 75px,#0f0 75.9px,#0ff 76.7px,#00b0ff 77px,#007dff 77.5px,#00efff 147.5px,#0ff 151.4px,#00ffdb 160px,#00ff37 184.5px,#00ff26 195.5px,#00ff03 196px,#0f0 196px,#ff0 197px,#ff6b00 197.5px,#f00 198px,#f00 245px,#ff2000 245.5px,#ff0 248.3px,#0f0 251.5px,#0f0 273px)"></i><i style="background:linear-gradient(#4f0 0,#65ff00 31px,#81ff00 41.5px,#a6ff00 49.5px,#d5ff00 55.5px,#ff0 58.9px,#fff100 60px,#ffc600 62.5px,#ff8c00 65px,#ff5000 67px,#ff0100 69px,#f00 72.5px,#ff4e00 73px,#ff0 73.6px,#0f0 74.5px,#0ff 75.3px,#00d0ff 75.5px,#007cff 76px,#00efff 147.5px,#0ff 151.2px,#00ffd9 160px,#00ff38 184px,#00ff25 195.5px,#00ff02 196px,#0f0 196px,#ff0 197px,#ff6b00 197.5px,#f00 198px,#f00 244.5px,#ff0700 245px,#ff0 248.1px,#16ff00 251px,#0f0 251.5px,#0f0 273px)"></i><i style="background:linear-gradient(#4f0 0,#6f0 31px,#82ff00 41.5px,#a8ff00 49.5px,#d8ff00 55.5px,#ff0 58.6px,#ffed00 60px,#ffc100 62.5px,#ff8600 65px,#f00 69px,#f00 71px,#ff2d00 71.5px,#ff0 72.2px,#0f0 73.1px,#0ff 74px,#00f0ff 74px,#007bff 74.5px,#00f0ff 147.5px,#0ff 151px,#00ffda 159.5px,#00ff35 184px,#00ff24 195.5px,#00ff02 196px,#0f0 196px,#ff0 197px,#ff6b00 197.5px,#f00 198px,#f00 244.5px,#ff1600 245px,#ff0 247.9px,#07ff00 251px,#0f0 251.5px,#0f0 273px)"></i><i style="background:linear-gradient(#4f0 0,#67ff00 31px,#82ff00 41px,#a8ff00 49px,#d6ff00 55px,#ff0 58.2px,#ffe900 60px,#ff8e00 64.5px,#ff5300 66.5px,#ff0700 68.5px,#f00 71px,#ff2d00 71.5px,#ff0 72.2px,#0f0 73.1px,#0ff 74px,#00f1ff 74px,#007cff 74.5px,#00f0ff 147px,#0ff 150.6px,#00ffd9 159.5px,#00ff36 183.5px,#00ff24 195.5px,#00ff02 196px,#0f0 196px,#ff0 197px,#ff6b00 197.5px,#f00 198px,#f00 244.5px,#ff0 247.7px,#20ff00 250.5px,#0f0 251px,#0f0 273px)"></i><i style="background:linear-gradient(#45ff00 0,#68ff00 31px,#84ff00 41px,#af0 49px,#daff00 55px,#ff0 58px,#ffec00 59.5px,#ffc100 62px,#f80 64.5px,#ff4c00 66.5px,#f00 68.5px,#f00 71px,#ff2d00 71.5px,#ff0 72.2px,#0f0 73.1px,#0ff 74px,#00f1ff 74px,#007cff 74.5px,#00f0ff 147px,#0ff 150.4px,#00ffd9 159px,#0f3 183.5px,#00ff23 195.5px,#00ff01 196px,#0f0 196px,#ff0 197px,#ff6b00 197.5px,#f00 198px,#f00 244px,#ff0c00 244.5px,#ff0 247.5px,#10ff00 250.5px,#0f0 251px,#0f0 273px)"></i><i style="background:linear-gradient(#46ff00 0,#68ff00 30.5px,#83ff00 40.5px,#a9ff00 48.5px,#d8ff00 54.5px,#ff0 57.7px,#fff000 59px,#ffc600 61.5px,#ff8f00 64px,#ff5600 66px,#f00 68.5px,#f00 71px,#ff2d00 71.5px,#ff0 72.2px,#0f0 73.1px,#0ff 74px,#00f2ff 74px,#007dff 74.5px,#00f0ff 146.5px,#0ff 149.9px,#00ffd8 159px,#00ff34 183px,#00ff23 195.5px,#00ff01 196px,#0f0 196px,#ff0 197px,#ff6b00 197.5px,#f00 198px,#f00 244px,#ff1a00 244.5px,#ff0 247.3px,#02ff00 250.5px,#0f0 273px)"></i><i style="background:linear-gradient(#46ff00 0,#69ff00 30.5px,#85ff00 40.5px,#abff00 48.5px,#dbff00 54.5px,#ff0 57.4px,#ffec00 59px,#ffc100 61.5px,#ff8900 64px,#ff5000 66px,#ff0500 68px,#f00 71px,#ff2d00 71.5px,#ff0 72.2px,#0f0 73.1px,#0ff 74px,#00f3ff 74px,#007eff 74.5px,#00f1ff 146.5px,#0ff 149.7px,#00ffd9 158.5px,#00ff32 183px,#00ff23 195.5px,#00ff01 196px,#0f0 196px,#ff0 196.9px,#ff6b00 197.5px,#f00 198px,#f00 243.5px,#ff0100 244px,#ff0 247.2px,#1bff00 250px,#0f0 250.5px,#0f0 273px)"></i><i style="background:linear-gradient(#47ff00 0,#69ff00 30px,#85ff00 40px,#abff00 48px,#d9ff00 54px,#ff0 57.2px,#ffef00 58.5px,#ffc600 61px,#ff9000 63.5px,#ff4900 66px,#f00 68px,#f00 71px,#ff2d00 71.5px,#ff0 72.2px,#0f0 73.1px,#0ff 74px,#00f3ff 74px,#007fff 74.5px,#00f1ff 146px,#0ff 149.3px,#00ffd7 158.5px,#00ff32 182.5px,#0f2 195.5px,#00ff01 196px,#0f0 196px,#ff0 196.9px,#ff6b00 197.5px,#f00 198px,#f00 243.5px,#ff0f00 244px,#ff0 247px,#0dff00 250px,#0f0 250.5px,#0f0 273px)"></i><i style="background:linear-gradient(#47ff00 0,#6bff00 30px,#87ff00 40px,#adff00 48px,#dcff00 54px,#ff0 56.9px,#ffeb00 58.5px,#ffc100 61px,#ff8b00 63.5px,#f00 68px,#f00 71px,#ff2d00 71.5px,#ff0 72.2px,#0f0 73.1px,#0ff 74px,#00f4ff 74px,#0080ff 74.5px,#00f2ff 146px,#0ff 149.1px,#00ffd7 158px,#00ff30 182.5px,#0f2 195.5px,#0f0 196px,#ff0 196.9px,#ff6b00 197.5px,#f00 198px,#f00 243.5px,#ff1e00 244px,#ff0 246.8px,#0f0 250px,#0f0 273px)"></i><i style="background:linear-gradient(#48ff00 0,#6bff00 29.5px,#87ff00 39.5px,#adff00 47.5px,#d6ff00 53px,#ff0 56.5px,#fe0 58px,#ffbc00 61px,#ff8500 63.5px,#ff4d00 65.5px,#ff0400 67.5px,#f00 71px,#ff2c00 71.5px,#ff0 72.2px,#0f0 73.1px,#0ff 74px,#00f5ff 74px,#0081ff 74.5px,#00f1ff 145.5px,#0ff 148.6px,#00ffd6 158px,#00ff7d 170px,#00ff2e 182.5px,#0f2 195.5px,#0f0 196px,#ff0 196.9px,#ff6b00 197.5px,#f00 198px,#f00 243px,#ff0400 243.5px,#ff0 246.6px,#18ff00 249.5px,#0f0 250px,#0f0 273px)"></i><i style="background:linear-gradient(#48ff00 0,#6cff00 29.5px,#8f0 39.5px,#afff00 47.5px,#e3ff00 54px,#ff0 56.1px,#ffd300 59.5px,#ff7300 64px,#f00 67.5px,#f00 71px,#ff2c00 71.5px,#ff0 72.2px,#0f0 73.1px,#0ff 74px,#00f6ff 74px,#0082ff 74.5px,#00f2ff 145.5px,#0ff 148.4px,#00ffd6 157.5px,#00ff7a 170px,#00ff2e 182px,#0f2 194px,#0f0 194.1px,#ff0 195.1px,#ff0c00 196px,#f00 196.5px,#f00 243px,#ff1300 243.5px,#ff0 246.4px,#0aff00 249.5px,#0f0 250px,#0f0 273px)"></i><i style="background:linear-gradient(#49ff00 0,#6cff00 29px,#8f0 39px,#aeff00 47px,#e1ff00 53.5px,#ff0 55.8px,#ffd700 59px,#ff7a00 63.5px,#f00 67.5px,#f00 71px,#ff2c00 71.5px,#ff0 72.2px,#0f0 73.1px,#0ff 74px,#00f6ff 74px,#0082ff 74.5px,#00f2ff 145px,#0ff 147.9px,#00ffd5 157.5px,#00ff7b 169.5px,#00ff2c 182px,#00ff23 192px,#0f0 192.2px,#35ff00 192.5px,#ff0 193.2px,#ff3500 194px,#f00 194.5px,#f00 243px,#ff0 246.2px,#0f0 249.5px,#0f0 273px)"></i><i style="background:linear-gradient(#4aff00 0,#6eff00 29px,#8aff00 39px,#b1ff00 47px,#e4ff00 53.5px,#ff0 55.6px,#ffd200 59px,#ff7500 63.5px,#ff0300 67px,#f00 71px,#ff2c00 71.5px,#ff0 72.2px,#0f0 73.1px,#0ff 74px,#00f7ff 74px,#0083ff 74.5px,#00f3ff 145px,#0ff 147.7px,#00ffd5 157px,#00ff78 169.5px,#00ff2c 181.5px,#00ff24 190px,#0f0 190.4px,#0bff00 190.5px,#ff0 191.4px,#ff5d00 192px,#f00 192.5px,#f00 242.5px,#ff0800 243px,#ff0 246.1px,#15ff00 249px,#0f0 249.5px,#0f0 273px)"></i><i style="background:linear-gradient(#4aff00 0,#6eff00 28.5px,#8aff00 38.5px,#b0ff00 46.5px,#e8ff00 53.5px,#ff0 55.3px,#ffce00 59px,#ff7c00 63px,#f00 67px,#f00 71px,#ff2c00 71.5px,#ff0 72.2px,#0f0 73.1px,#0ff 74px,#00f8ff 74px,#0084ff 74.5px,#00f3ff 144.5px,#0ff 147.3px,#00ffd4 157px,#00ff79 169px,#00ff2a 181.5px,#00ff24 190px,#0f0 190.4px,#0cff00 190.5px,#ff0 191.4px,#ff5d00 192px,#f00 192.5px,#f00 242.5px,#ff1700 243px,#ff0 245.9px,#06ff00 249px,#0f0 273px)"></i><i style="background:linear-gradient(#4bff00 0,#6fff00 28.5px,#8cff00 38.5px,#b3ff00 46.5px,#e6ff00 53px,#ff0 55px,#ffd200 58.5px,#f70 63px,#f00 67px,#f00 71px,#ff2c00 71.5px,#ff0 72.2px,#0f0 73.1px,#0ff 74px,#00f9ff 74px,#0085ff 74.5px,#00f3ff 144.5px,#0ff 147.1px,#00ffd4 156.5px,#00ff76 169px,#00ff2a 181px,#00ff23 190px,#0f0 190.4px,#0dff00 190.5px,#ff0 191.4px,#ff5d00 192px,#f00 192.5px,#f00 242.5px,#ff0 245.7px,#1fff00 248.5px,#0f0 249px,#0f0 273px)"></i><i style="background:linear-gradient(#4cff00 0,#70ff00 28.5px,#8cff00 38px,#b2ff00 46px,#e9ff00 53px,#ff0 54.7px,#ffce00 58.5px,#ff7200 63px,#ff0300 66.5px,#f00 71px,#ff2c00 71.5px,#ff0 72.2px,#0f0 73.1px,#0ff 74px,#00faff 74px,#0086ff 74.5px,#00f3ff 144px,#0ff 146.6px,#00ffd2 156.5px,#00ff76 168.5px,#00ff28 181px,#0f2 190px,#0f0 190.4px,#0dff00 190.5px,#ff0 191.4px,#ff5d00 192px,#f00 192.5px,#f00 242px,#ff0d00 242.5px,#ff0 245.5px,#10ff00 248.5px,#0f0 249px,#0f0 273px)"></i><i style="background:linear-gradient(#4cff00 0,#72ff00 28.5px,#8eff00 38px,#b4ff00 46px,#e7ff00 52.5px,#ff0 54.4px,#ffd200 58px,#ff7900 62.5px,#f00 66.5px,#f00 71px,#ff2c00 71.5px,#ff0 72.2px,#0f0 73.1px,#0ff 74px,#00faff 74px,#0087ff 74.5px,#00f4ff 144px,#0ff 146.4px,#00ffd3 156px,#00ff74 168.5px,#00ff28 180.5px,#0f2 190px,#0f0 190.4px,#0eff00 190.5px,#ff0 191.4px,#ff5d00 192px,#f00 192.5px,#f00 242px,#ff1c00 242.5px,#ff0 245.3px,#01ff00 248.5px,#0f0 273px)"></i><i style="background:linear-gradient(#4dff00 0,#72ff00 28px,#8eff00 37.5px,#b4ff00 45.5px,#eaff00 52.5px,#ff0 54.1px,#ffce00 58px,#ff8000 62px,#f00 66.5px,#f00 71px,#ff2c00 71.5px,#ff0 72.2px,#0f0 73.1px,#0ff 74px,#00fbff 74px,#08f 74.5px,#00f4ff 143.5px,#0ff 146px,#00ffd1 156px,#00ff74 168px,#00ff25 180.5px,#00ff21 190px,#0f0 190.4px,#0eff00 190.5px,#ff0 191.4px,#ff5d00 192px,#f00 192.5px,#f00 241.5px,#ff0400 242px,#ff0 245.1px,#1aff00 248px,#0f0 248.5px,#0f0 273px)"></i><i style="background:linear-gradient(#4dff00 0,#73ff00 28px,#8fff00 37.5px,#b6ff00 45.5px,#edff00 52.5px,#ff0 53.9px,#ffca00 58px,#ff6f00 62.5px,#ff0300 66px,#f00 71px,#ff2c00 71.5px,#ff0 72.2px,#0f0 73.1px,#0ff 74px,#00fcff 74px,#0089ff 74.5px,#00f4ff 143px,#0ff 145.5px,#00ffd2 155.5px,#00ff71 168px,#00ff26 180px,#00ff21 190px,#0f0 190.3px,#0eff00 190.5px,#ff0 191.4px,#ff5d00 192px,#f00 192.5px,#f00 241.5px,#ff1400 242px,#ff0 244.9px,#0aff00 248px,#0f0 248.5px,#0f0 273px)"></i><i style="background:linear-gradient(#4eff00 0,#75ff00 28px,#91ff00 37.5px,#b8ff00 45.5px,#ecff00 52px,#ff0 53.6px,#ffce00 57.5px,#ff7600 62px,#f00 66px,#f00 69.5px,#ff0b00 70px,#ff0 70.8px,#0f0 71.7px,#0ff 72.6px,#008bff 73px,#00f4ff 143px,#0ff 145.3px,#00ffd0 155.5px,#00ff72 167.5px,#00ff23 180px,#00ff20 190px,#0f0 190.3px,#0fff00 190.5px,#ff0 191.4px,#ff5c00 192px,#f00 192.5px,#f00 241.5px,#ff0 244.8px,#0f0 248px,#0f0 273px)"></i><i style="background:linear-gradient(#4fff00 0,#76ff00 28px,#93ff00 37.5px,#bf0 45.5px,#e5ff00 51px,#ff0 53.3px,#ffe000 56px,#f80 61px,#f00 66px,#f00 68.5px,#ff7c00 69px,#ff0 69.5px,#0f0 70.3px,#0ff 71.2px,#0af 71.5px,#0087ff 72px,#00f4ff 142.5px,#0ff 144.9px,#00ffd1 155px,#00ff6f 167.5px,#00ff23 179.5px,#00ff20 190px,#0f0 190.3px,#0fff00 190.5px,#ff0 191.4px,#ff5c00 192px,#f00 192.5px,#f00 241px,#ff0c00 241.5px,#ff0 244.5px,#12ff00 247.5px,#0f0 248px,#0f0 273px)"></i><i style="background:linear-gradient(#4fff00 0,#7f0 28px,#95ff00 37.5px,#bdff00 45.5px,#edff00 51.5px,#ff0 53px,#ffd500 56.5px,#ff7800 61.5px,#f40 63.5px,#ff0400 65.5px,#f00 67px,#ff5b00 67.5px,#ff0 68.1px,#0f0 68.9px,#0ff 69.8px,#00caff 70px,#0085ff 70.5px,#00f5ff 142.5px,#0ff 144.7px,#00ffcf 155px,#00ff70 167px,#00ff21 179.5px,#00ff1f 190px,#0f0 190.3px,#10ff00 190.5px,#ff0 191.4px,#ff5c00 192px,#f00 192.5px,#f00 241px,#ff1c00 241.5px,#ff0 244.3px,#02ff00 247.5px,#0f0 273px)"></i><i style="background:linear-gradient(#50ff00 0,#78ff00 28px,#96ff00 37.5px,#bfff00 45.5px,#f5ff00 52px,#ff0 52.8px,#ffca00 57px,#ff7f00 61px,#ff0f00 65px,#ff0b00 65.5px,#ff3a00 66px,#ff0 66.7px,#0f0 67.6px,#0ff 68.4px,#00eaff 68.5px,#0084ff 69px,#00f5ff 142px,#0ff 144.2px,#00ffd0 154.5px,#00ff6d 167px,#00ff21 179px,#00ff1f 190px,#0f0 190.3px,#10ff00 190.5px,#ff0 191.4px,#ff5c00 192px,#f00 192.5px,#f00 240.5px,#ff0400 241px,#ff0 244.1px,#1aff00 247px,#0f0 247.5px,#0f0 273px)"></i><i style="background:linear-gradient(#51ff00 0,#78ff00 27.5px,#96ff00 37px,#beff00 45px,#f2ff00 51.5px,#ff0 52.5px,#ffc600 57px,#ff7b00 61px,#ff0a00 65px,#ff0500 65.5px,#ff3a00 66px,#ff0 66.7px,#0f0 67.6px,#0ff 68.4px,#00eaff 68.5px,#0085ff 69px,#00f5ff 142px,#0ff 144.1px,#00ffce 154.5px,#00ff6e 166.5px,#00ff1f 179px,#00ff1f 190px,#0f0 190.3px,#10ff00 190.5px,#ff0 191.4px,#ff5c00 192px,#f00 192.5px,#f00 240.5px,#ff1500 241px,#ff0 243.9px,#0aff00 247px,#0f0 247.5px,#0f0 273px)"></i><i style="background:linear-gradient(#51ff00 0,#7aff00 27.5px,#98ff00 37px,#c0ff00 45px,#f5ff00 51.5px,#ff0 52.3px,#ffca00 56.5px,#ff7600 61px,#ff0400 65px,#f00 65.5px,#ff3a00 66px,#ff0 66.7px,#0f0 67.6px,#0ff 68.4px,#00ebff 68.5px,#0085ff 69px,#00f5ff 141.5px,#0ff 143.5px,#00ffce 154px,#00ff6b 166.5px,#00ff20 178.5px,#00ff1f 190px,#0f0 190.3px,#10ff00 190.5px,#ff0 191.4px,#ff5c00 192px,#f00 192.5px,#f00 240.5px,#ff0 243.8px,#0f0 247px,#0f0 273px)"></i><i style="background:linear-gradient(#52ff00 0,#7bff00 27.5px,#9f0 37px,#c3ff00 45px,#f8ff00 51.5px,#ff0 52px,#ffc700 56.5px,#ff7d00 60.5px,#ff4c00 62.5px,#f00 65px,#f00 65.5px,#ff3a00 66px,#ff0 66.7px,#0f0 67.6px,#0ff 68.4px,#00ebff 68.5px,#0086ff 69px,#00f6ff 141.5px,#0ff 143.2px,#00ffc9 154px,#00ff6a 166px,#00ff1f 178.5px,#00ff1f 190px,#0f0 190.3px,#10ff00 190.5px,#ff0 191.4px,#ff5c00 192px,#f00 192.5px,#f00 240px,#ff0e00 240.5px,#ff0 243.5px,#1f0 246.5px,#0f0 247px,#0f0 273px)"></i><i style="background:linear-gradient(#53ff00 0,#7cff00 27.5px,#9bff00 37px,#c5ff00 45px,#fbff00 51.5px,#ff0 51.8px,#ffc300 56.5px,#ff8300 60px,#ff4700 62.5px,#ff0a00 64.5px,#f00 65.5px,#ff3a00 66px,#ff0 66.7px,#0f0 67.6px,#0ff 68.4px,#00ecff 68.5px,#0087ff 69px,#00f7ff 141px,#0ff 142.7px,#00ffc8 153.5px,#0f6 166px,#00ff1f 178px,#00ff1f 190px,#0f0 190.3px,#10ff00 190.5px,#ff0 191.4px,#ff5c00 192px,#f00 192.5px,#f00 240px,#ff1e00 240.5px,#ff0 243.3px,#0f0 246.5px,#0f0 273px)"></i><i style="background:linear-gradient(#53ff00 0,#7cff00 27px,#9aff00 36.5px,#c4ff00 44.5px,#f9ff00 51px,#ff0 51.5px,#ffc700 56px,#ff7400 60.5px,#ff0500 64.5px,#f00 65.5px,#ff3a00 66px,#ff0 66.7px,#0f0 67.6px,#0ff 68.4px,#00edff 68.5px,#08f 69px,#00f8ff 141px,#0ff 142.4px,#00ffc4 153.5px,#0f6 165.5px,#00ff21 177.5px,#00ff1f 190px,#0f0 190.3px,#10ff00 190.5px,#ff0 191.4px,#ff5c00 192px,#f00 192.5px,#f00 239.5px,#ff0700 240px,#ff0 243.1px,#18ff00 246px,#0f0 246.5px,#0f0 273px)"></i><i style="background:linear-gradient(#54ff00 0,#7dff00 27px,#9cff00 36.5px,#c6ff00 44.5px,#f6ff00 50.5px,#ff0 51.2px,#fc0 55.5px,#ff7000 60.5px,#f00 64.5px,#f00 65.5px,#ff3a00 66px,#ff0 66.7px,#0f0 67.6px,#0ff 68.4px,#00edff 68.5px,#0089ff 69px,#00f8ff 140.5px,#0ff 141.8px,#00ffc3 153px,#00ff62 165.5px,#00ff1f 177.5px,#00ff1f 190px,#0f0 190.3px,#10ff00 190.5px,#ff0 191.4px,#ff5c00 192px,#f00 192.5px,#f00 239.5px,#ff1800 240px,#ff0 242.9px,#07ff00 246px,#0f0 246.5px,#0f0 273px)"></i><i style="background:linear-gradient(#54ff00 0,#7dff00 26.5px,#9bff00 36px,#c4ff00 44px,#f9ff00 50.5px,#ff0 51px,#ffc800 55.5px,#f70 60px,#f00 64.5px,#f00 65.5px,#ff3a00 66px,#ff0 66.7px,#0f0 67.6px,#0ff 68.4px,#0ef 68.5px,#0089ff 69px,#00f9ff 140.5px,#0ff 141.6px,#00ffbe 153px,#00ff61 165px,#00ff21 177px,#00ff1f 190px,#0f0 190.3px,#10ff00 190.5px,#ff0 191.4px,#ff5c00 192px,#f00 192.5px,#f00 239px,#ff0100 239.5px,#ff0 242.7px,#1eff00 245.5px,#0f0 246px,#0f0 273px)"></i><i style="background:linear-gradient(#5f0 0,#7eff00 26.5px,#9dff00 36px,#c6ff00 44px,#f6ff00 50px,#ff0 50.7px,#fc0 55px,#ff7300 60px,#ff0500 64px,#f00 65.5px,#ff3a00 66px,#ff0 66.7px,#0f0 67.6px,#0ff 68.4px,#00efff 68.5px,#008aff 69px,#00f9ff 140px,#0ff 141px,#00ffbd 152.5px,#00ff5d 165px,#00ff1f 177px,#00ff1f 190px,#0f0 190.3px,#10ff00 190.5px,#ff0 191.4px,#ff5c00 192px,#f00 192.5px,#f00 239px,#ff1200 239.5px,#ff0 242.5px,#0dff00 245.5px,#0f0 246px,#0f0 273px)"></i><i style="background:linear-gradient(#5f0 0,#7fff00 26.5px,#9eff00 36px,#c5ff00 43.5px,#f9ff00 50px,#ff0 50.5px,#ffc900 55px,#ff6f00 60px,#f00 64px,#f00 65.5px,#ff3a00 66px,#ff0 66.7px,#0f0 67.6px,#0ff 68.4px,#00efff 68.5px,#008bff 69px,#00faff 140px,#0ff 140.8px,#00ffb9 152.5px,#00ff5d 164.5px,#00ff20 176.5px,#00ff1f 188px,#00ff18 188.5px,#0f0 188.6px,#ff0 189.5px,#f00 190.5px,#f00 239px,#ff0 242.2px,#0f0 245.5px,#0f0 273px)"></i><i style="background:linear-gradient(#56ff00 0,#80ff00 26.5px,#9fff00 36px,#c7ff00 43.5px,#f6ff00 49.5px,#ff0 50.3px,#ffcd00 54.5px,#ff7600 59.5px,#f00 64px,#f00 65.5px,#ff3900 66px,#ff0 66.7px,#0f0 67.6px,#0ff 68.4px,#00f0ff 68.5px,#008cff 69px,#00e6ff 128px,#00fbff 140px,#0ff 140.6px,#00ffb8 152px,#00ff59 164.5px,#00ff1f 176.5px,#00ff1f 186.5px,#0f0 186.7px,#46ff00 187px,#ff0 187.7px,#ff2700 188.5px,#f00 189px,#f00 238.5px,#ff0c00 239px,#ff0 242px,#13ff00 245px,#0f0 245.5px,#0f0 273px)"></i><i style="background:linear-gradient(#56ff00 0,#81ff00 26.5px,#a1ff00 36px,#c8ff00 43.5px,#f9ff00 49.5px,#ff0 50px,#ffca00 54.5px,#ff7200 59.5px,#ff0600 63.5px,#f00 65.5px,#ff3900 66px,#ff0 66.7px,#0f0 67.6px,#0ff 68.5px,#00f1ff 68.5px,#008cff 69px,#00e6ff 127.5px,#00feff 140px,#0ff 140.2px,#00ffb4 152px,#00ff58 164px,#00ff20 176px,#00ff1f 184.5px,#0f0 184.8px,#1eff00 185px,#ff0 185.8px,#ff4f00 186.5px,#f00 187px,#f00 238.5px,#ff1d00 239px,#ff0 241.8px,#02ff00 245px,#0f0 273px)"></i><i style="background:linear-gradient(#57ff00 0,#81ff00 26px,#a0ff00 35.5px,#c7ff00 43px,#f6ff00 49px,#ff0 49.8px,#ffce00 54px,#ff7800 59px,#ff3c00 61.5px,#ff0100 63.5px,#f00 65.5px,#ff3900 66px,#ff0 66.7px,#0f0 67.6px,#0ff 68.5px,#00f2ff 68.5px,#008dff 69px,#00e6ff 127.5px,#00fdff 139.5px,#0ff 139.8px,#00ff54 164px,#00ff1f 176px,#00ff1f 184.5px,#0f0 184.8px,#1eff00 185px,#ff0 185.8px,#ff4f00 186.5px,#f00 187px,#f00 238px,#ff0600 238.5px,#ff0 241.6px,#19ff00 244.5px,#0f0 245px,#0f0 273px)"></i><i style="background:linear-gradient(#57ff00 0,#82ff00 26px,#a1ff00 35.5px,#c9ff00 43px,#f8ff00 49px,#ff0 49.6px,#ffcb00 54px,#ff7400 59px,#f00 63.5px,#f00 65.5px,#ff3900 66px,#ff0 66.7px,#0f0 67.6px,#0ff 68.5px,#00f2ff 68.5px,#008eff 69px,#00e6ff 127px,#0ff 139.5px,#00ff51 164px,#00ff1f 176px,#00ff1f 184.5px,#0f0 184.8px,#1eff00 185px,#ff0 185.8px,#ff4f00 186.5px,#f00 187px,#f00 238px,#ff1700 238.5px,#ff0 241.4px,#08ff00 244.5px,#0f0 245px,#0f0 273px)"></i><i style="background:linear-gradient(#58ff00 0,#81ff00 25.5px,#a1ff00 35px,#c7ff00 42.5px,#f6ff00 48.5px,#ff0 49.3px,#ffd000 53.5px,#ff7b00 58.5px,#ff4100 61px,#ff0700 63px,#f00 65.5px,#ff3900 66px,#ff0 66.7px,#0f0 67.6px,#0ff 68.5px,#00f3ff 68.5px,#008fff 69px,#00e7ff 127px,#00feff 139px,#0ff 139.2px,#00ff50 163.5px,#00ff1f 175.5px,#00ff1f 184.5px,#0f0 184.8px,#1eff00 185px,#ff0 185.8px,#ff4f00 186.5px,#f00 187px,#f00 238px,#ff0 241.2px,#1fff00 244px,#0f0 244.5px,#0f0 273px)"></i><i style="background:linear-gradient(#58ff00 0,#82ff00 25.5px,#a2ff00 35px,#c9ff00 42.5px,#f3ff00 48px,#ff0 49.1px,#ffd300 53px,#f70 58.5px,#ff3c00 61px,#ff0200 63px,#f00 65.5px,#ff3900 66px,#ff0 66.7px,#0f0 67.6px,#0ff 68.5px,#00f4ff 68.5px,#0090ff 69px,#00e7ff 126.5px,#0ff 138.4px,#00fffe 139px,#00ff4d 163.5px,#00ff20 175px,#00ff1f 184.5px,#0f0 184.8px,#1eff00 185px,#ff0 185.8px,#ff4f00 186.5px,#f00 187px,#f00 237.5px,#f10 238px,#ff0 241px,#0eff00 244px,#0f0 244.5px,#0f0 273px)"></i><i style="background:linear-gradient(#59ff00 0,#83ff00 25.5px,#a3ff00 35px,#cbff00 42.5px,#f5ff00 48px,#ff0 48.9px,#ffd100 53px,#ff7400 58.5px,#f00 63px,#f00 65.5px,#ff3900 66px,#ff0 66.7px,#0f0 67.6px,#0ff 68.5px,#00f4ff 68.5px,#0090ff 69px,#00e8ff 126.5px,#0ff 138.4px,#0ff 138.5px,#00ff4b 163px,#00ff1f 175px,#00ff1f 184.5px,#0f0 184.8px,#1eff00 185px,#ff0 185.8px,#ff4f00 186.5px,#f00 187px,#f00 237.5px,#ff0 240.8px,#0f0 244px,#0f0 273px)"></i><i style="background:linear-gradient(#59ff00 0,#83ff00 25px,#a2ff00 34.5px,#c9ff00 42px,#f3ff00 47.5px,#ff0 48.6px,#ffd500 52.5px,#ff7a00 58px,#ff4100 60.5px,#ff0800 62.5px,#f00 63px,#f00 65.5px,#ff3900 66px,#ff0 66.7px,#0f0 67.6px,#0ff 68.5px,#00f5ff 68.5px,#0091ff 69px,#00e8ff 126px,#0ff 137.2px,#00fffc 138.5px,#00ff4a 162.5px,#00ff1f 174.5px,#00ff1f 184.5px,#0f0 184.8px,#1eff00 185px,#ff0 185.8px,#ff4f00 186.5px,#f00 187px,#f00 237px,#ff0b00 237.5px,#ff0 240.6px,#14ff00 243.5px,#0f0 244px,#0f0 273px)"></i><i style="background:linear-gradient(#5aff00 0,#84ff00 25px,#a4ff00 34.5px,#cbff00 42px,#f5ff00 47.5px,#ff0 48.4px,#ffd200 52.5px,#f70 58px,#ff3d00 60.5px,#ff0300 62.5px,#f00 65.5px,#ff3900 66px,#ff0 66.7px,#0f0 67.6px,#0ff 68.5px,#00f6ff 68.5px,#0092ff 69px,#00e9ff 126px,#0ff 137.3px,#00fffe 138px,#00ff47 162.5px,#00ff1f 174.5px,#00ff1f 184.5px,#0f0 184.8px,#1eff00 185px,#ff0 185.8px,#ff4f00 186.5px,#f00 187px,#f00 237px,#ff1c00 237.5px,#ff0 240.3px,#03ff00 243.5px,#0f0 273px)"></i><i style="background:linear-gradient(#5aff00 0,#85ff00 25px,#a3ff00 34px,#c9ff00 41.5px,#f3ff00 47px,#ff0 48.1px,#ffd600 52px,#ff7d00 57.5px,#ff4500 60px,#f00 62.5px,#f00 65.5px,#ff3900 66px,#ff0 66.7px,#0f0 67.6px,#0ff 68.5px,#00f6ff 68.5px,#0093ff 69px,#00e8ff 125.5px,#0ff 136.1px,#00fffb 138px,#00ff46 162px,#00ff1f 174px,#00ff1f 184.5px,#0f0 184.8px,#1eff00 185px,#ff0 185.8px,#ff4f00 186.5px,#f00 187px,#f00 236.5px,#ff0500 237px,#ff0 240.1px,#1aff00 243px,#0f0 243.5px,#0f0 273px)"></i><i style="background:linear-gradient(#5bff00 0,#85ff00 25px,#a4ff00 34px,#cbff00 41.5px,#feff00 48px,#ff0 48.1px,#ffbf00 53.5px,#ff7000 58px,#f00 62.5px,#f00 65.5px,#ff3800 66px,#ff0 66.7px,#0f0 67.6px,#0ff 68.5px,#00f7ff 68.5px,#0093ff 69px,#00e9ff 125.5px,#0ff 136.2px,#00fffc 137.5px,#00ff42 162px,#00ff1f 174px,#00ff1f 184.5px,#0f0 184.8px,#1eff00 185px,#ff0 185.8px,#ff4f00 186.5px,#f00 187px,#f00 236.5px,#ff1600 237px,#ff0 239.9px,#09ff00 243px,#0f0 243.5px,#0f0 273px)"></i><i style="background:linear-gradient(#5bff00 0,#86ff00 25px,#a5ff00 34px,#cdff00 41.5px,#ff0 47.8px,#fffe00 48px,#ffbc00 53.5px,#ff6c00 58px,#ff0400 62px,#f00 65.5px,#ff3800 66px,#ff0 66.7px,#0f0 67.6px,#0ff 68.5px,#00f8ff 68.5px,#0094ff 69px,#00e9ff 125px,#0ff 135px,#00fffa 137.5px,#00ff41 161.5px,#00ff1f 173.5px,#00ff1f 184.5px,#0f0 184.8px,#1eff00 185px,#ff0 185.8px,#ff4f00 186.5px,#f00 187px,#f00 236.5px,#ff0 239.7px,#20ff00 242.5px,#0f0 243px,#0f0 273px)"></i><i style="background:linear-gradient(#5cff00 0,#87ff00 25px,#a6ff00 34px,#ceff00 41.5px,#feff00 47.5px,#ff0 47.6px,#ffc700 52.5px,#ff7300 57.5px,#f00 62px,#f00 64px,#ff1800 64.5px,#ff0 65.3px,#0f0 66.2px,#00ffe7 67px,#0ff 67.1px,#0093ff 67.5px,#00eaff 125px,#0ff 135.1px,#00fffb 137px,#00ff97 149px,#00ff3e 161.5px,#00ff1f 173.5px,#00ff1f 184.5px,#0f0 184.8px,#1eff00 185px,#ff0 185.8px,#ff4f00 186.5px,#f00 187px,#f00 236px,#ff1000 236.5px,#ff0 239.5px,#0fff00 242.5px,#0f0 243px,#0f0 273px)"></i><i style="background:linear-gradient(#5cff00 0,#8f0 25px,#a8ff00 34px,#d0ff00 41.5px,#ff0 47.4px,#fffe00 47.5px,#ffc400 52.5px,#ff6f00 57.5px,#f00 62px,#f00 63px,#f80 63.5px,#ff0 63.9px,#0f0 64.8px,#0ff 65.7px,#00a7ff 66px,#0092ff 66.5px,#00eaff 124.5px,#0ff 133.9px,#00fff8 137px,#00ff92 149px,#00ff3c 161px,#00ff1f 173px,#00ff1f 184.5px,#0f0 184.8px,#1eff00 185px,#ff0 185.8px,#ff4f00 186.5px,#f00 187px,#f00 236px,#ff2100 236.5px,#ff0 239.3px,#0f0 242.5px,#0f0 273px)"></i><i style="background:linear-gradient(#5dff00 0,#8f0 24.5px,#a7ff00 33.5px,#ceff00 41px,#fdff00 47px,#ff0 47.2px,#ffc200 52.5px,#ff7600 57px,#ff1500 61px,#ff3c00 61.5px,#ffb000 62px,#fff700 62.5px,#ff0 62.5px,#0f0 63.4px,#0ff 64.3px,#00c6ff 64.5px,#0090ff 65px,#00ebff 124.5px,#0ff 134px,#00fffa 136.5px,#00ff91 148.5px,#00ff3a 161px,#00ff1f 173px,#00ff1f 184.5px,#0f0 184.8px,#1eff00 185px,#ff0 185.8px,#ff4f00 186.5px,#f00 187px,#f00 235.5px,#ff0a00 236px,#ff0 239.1px,#15ff00 242px,#0f0 242.5px,#0f0 273px)"></i><i style="background:linear-gradient(#5dff00 0,#86ff00 23.5px,#a2ff00 32px,#c6ff00 39.5px,#f1ff00 45.5px,#ff0 46.8px,#ffd300 51px,#ff8f00 55.5px,#ff3a00 59.5px,#ff4500 60px,#ff0 60.8px,#0f0 61.9px,#00ff89 62.5px,#0ff 62.9px,#00e5ff 63px,#008fff 63.5px,#00eaff 124px,#0ff 132.9px,#00fff7 136.5px,#00ff8d 148.5px,#00ff38 160.5px,#00ff1f 172.5px,#00ff1f 184.5px,#0f0 184.8px,#1eff00 185px,#ff0 185.8px,#ff4f00 186.5px,#f00 187px,#f00 235.5px,#ff1a00 236px,#ff0 238.9px,#04ff00 242px,#0f0 273px)"></i><i style="background:linear-gradient(#5eff00 0,#87ff00 23.5px,#a3ff00 32px,#c8ff00 39.5px,#f3ff00 45.5px,#ff0 46.6px,#ffd100 51px,#ff8c00 55.5px,#ff3600 59.5px,#ff4100 60px,#ff0 60.8px,#0f0 61.9px,#0f8 62.5px,#0ff 62.9px,#00e6ff 63px,#0090ff 63.5px,#00ebff 124px,#0ff 132.9px,#00fff8 136px,#00ff8c 148px,#00ff37 160px,#00ff1f 172.5px,#00ff1f 184.5px,#0f0 184.8px,#1eff00 185px,#ff0 185.8px,#ff4f00 186.5px,#f00 187px,#f00 235px,#ff0300 235.5px,#ff0 238.7px,#1cff00 241.5px,#0f0 242px,#0f0 273px)"></i><i style="background:linear-gradient(#5eff00 0,#8f0 23.5px,#a4ff00 32px,#c9ff00 39.5px,#f5ff00 45.5px,#ff0 46.4px,#ffce00 51px,#ff8900 55.5px,#ff3200 59.5px,#ff3d00 60px,#ff0 60.8px,#6f0 61.5px,#08ff00 62px,#0f0 62px,#0ff 62.9px,#00e6ff 63px,#0090ff 63.5px,#00ebff 123.5px,#0ff 132.5px,#00fff8 135.5px,#00ff87 148px,#0f3 160px,#00ff1f 172px,#00ff1f 184.5px,#0f0 184.8px,#1eff00 185px,#ff0 185.8px,#ff4f00 186.5px,#f00 187px,#f00 235px,#ff1300 235.5px,#ff0 238.4px,#0bff00 241.5px,#0f0 242px,#0f0 273px)"></i><i style="background:linear-gradient(#5fff00 0,#8f0 23.5px,#a5ff00 32px,#cbff00 39.5px,#f7ff00 45.5px,#ff0 46.2px,#fc0 51px,#ff8600 55.5px,#ff2e00 59.5px,#ff3900 60px,#ff0 60.9px,#68ff00 61.5px,#08ff00 62px,#0f0 62px,#0ff 62.9px,#00e7ff 63px,#0091ff 63.5px,#00ecff 123.5px,#0ff 131.9px,#00fff7 135.5px,#00ff86 147.5px,#00ff32 159.5px,#00ff1f 171.5px,#00ff1f 184.5px,#0f0 184.8px,#1eff00 185px,#ff0 185.8px,#ff4f00 186.5px,#f00 187px,#f00 235px,#ff0 238.2px,#0f0 241.5px,#0f0 273px)"></i><i style="background:linear-gradient(#5fff00 0,#89ff00 23.5px,#a6ff00 32px,#cf0 39.5px,#f9ff00 45.5px,#ff0 46.1px,#ffc900 51px,#ff8300 55.5px,#ff2a00 59.5px,#ff3500 60px,#ff0 60.9px,#6bff00 61.5px,#08ff00 62px,#0f0 62px,#0ff 62.9px,#00e7ff 63px,#0092ff 63.5px,#00ecff 123px,#0ff 131.5px,#00fff7 135px,#00ff81 147.5px,#00ff2f 159.5px,#00ff1f 171.5px,#00ff1f 184.5px,#0f0 184.8px,#1eff00 185px,#ff0 185.8px,#ff4f00 186.5px,#f00 187px,#f00 234.5px,#ff0c00 235px,#ff0 238px,#12ff00 241px,#0f0 241.5px,#0f0 273px)"></i><i style="background:linear-gradient(#5fff00 0,#8aff00 23.5px,#a7ff00 32px,#ceff00 39.5px,#fbff00 45.5px,#ff0 45.9px,#ffc700 51px,#ff8000 55.5px,#ff2600 59.5px,#ff3100 60px,#ff0 60.9px,#e7ff00 61px,#98ff00 61.5px,#0f0 62px,#0ff 62.9px,#00e8ff 63px,#0092ff 63.5px,#00edff 123px,#0ff 130.9px,#00fff6 135px,#00ff80 147px,#00ff2e 159px,#00ff1f 171px,#00ff1f 182.5px,#00ff0b 183px,#0f0 183px,#ff0 184px,#f70 184.5px,#f00 185px,#f00 234.5px,#ff1c00 235px,#ff0 237.8px,#02ff00 241px,#0f0 273px)"></i><i style="background:linear-gradient(#60ff00 0,#8bff00 23.5px,#a8ff00 32px,#cfff00 39.5px,#fdff00 45.5px,#ff0 45.7px,#ffc400 51px,#ff7c00 55.5px,#ff2100 59.5px,#ff2d00 60px,#ff0 60.9px,#eaff00 61px,#98ff00 61.5px,#0f0 62px,#0ff 62.9px,#00e9ff 63px,#0093ff 63.5px,#00edff 122.5px,#0ff 130.5px,#00fff6 134.5px,#00ff7c 147px,#00ff2b 159px,#00ff1f 181px,#0f0 181.1px,#53ff00 181.5px,#ff0 182.1px,#ff1900 183px,#f00 183.5px,#f00 234px,#ff0400 234.5px,#ff0 237.6px,#1aff00 240.5px,#0f0 241px,#0f0 273px)"></i><i style="background:linear-gradient(#60ff00 0,#8cff00 23.5px,#a9ff00 32px,#d1ff00 39.5px,#ff0 45.5px,#ffc200 51px,#ff7900 55.5px,#ff1d00 59.5px,#ff2900 60px,#ff0 60.9px,#edff00 61px,#9f0 61.5px,#0f0 62px,#0ff 62.9px,#00e9ff 63px,#0094ff 63.5px,#00edff 122.5px,#0ff 130px,#00fff4 134.5px,#00ff7b 146.5px,#00ff29 158.5px,#00ff1f 179px,#0f0 179.2px,#2bff00 179.5px,#ff0 180.3px,#ff4100 181px,#f00 181.5px,#f00 234px,#ff1400 234.5px,#ff0 237.4px,#0aff00 240.5px,#0f0 241px,#0f0 273px)"></i><i style="background:linear-gradient(#61ff00 0,#8dff00 23.5px,#abff00 32px,#d2ff00 39.5px,#ff0 45.3px,#fffd00 45.5px,#ffbf00 51px,#ff7600 55.5px,#ff1900 59.5px,#ff2400 60px,#ff0 60.9px,#f0ff00 61px,#9f0 61.5px,#0f0 62px,#0ff 62.9px,#00eaff 63px,#0095ff 63.5px,#00edff 122px,#0ff 129.5px,#00fff4 134px,#00ff76 146.5px,#00ff28 158px,#00ff1f 179px,#0f0 179.2px,#2bff00 179.5px,#ff0 180.3px,#ff4100 181px,#f00 181.5px,#f00 234px,#ff0 237.2px,#0f0 240.5px,#0f0 273px)"></i><i style="background:linear-gradient(#61ff00 0,#8dff00 23.5px,#acff00 32px,#d4ff00 39.5px,#ff0 45.1px,#fffc00 45.5px,#ffbd00 51px,#ff7300 55.5px,#ff1500 59.5px,#ff2000 60px,#ff9300 60.5px,#ffd600 61px,#ff0 61.1px,#0f0 62px,#0ff 62.9px,#00ebff 63px,#0095ff 63.5px,#0ef 122px,#0ff 129px,#00fff3 134px,#00ff75 146px,#00ff24 158px,#00ff1f 179px,#0f0 179.2px,#2bff00 179.5px,#ff0 180.3px,#ff4100 181px,#f00 181.5px,#f00 233.5px,#ff0b00 234px,#ff0 237px,#12ff00 240px,#0f0 240.5px,#0f0 273px)"></i><i style="background:linear-gradient(#62ff00 0,#8eff00 23.5px,#adff00 32px,#d5ff00 39.5px,#ff0 44.8px,#fffa00 45.5px,#ffba00 51px,#ff7000 55.5px,#f10 59.5px,#ff1c00 60px,#ff9000 60.5px,#ffd500 61px,#ff0 61.1px,#0f0 62px,#0ff 62.9px,#00ebff 63px,#0096ff 63.5px,#0ef 121.5px,#0ff 128.6px,#00fff3 133.5px,#00ff75 145.5px,#00ff24 157.5px,#00ff1f 179px,#0f0 179.2px,#2bff00 179.5px,#ff0 180.3px,#ff4100 181px,#f00 181.5px,#f00 233.5px,#ff1b00 234px,#ff0 236.8px,#03ff00 240px,#0f0 273px)"></i><i style="background:linear-gradient(#62ff00 0,#8fff00 23.5px,#aeff00 32px,#d6ff00 39.5px,#ff0 44.6px,#fff800 45.5px,#ffb800 51px,#ff6c00 55.5px,#ff0d00 59.5px,#ff1800 60px,#ff8c00 60.5px,#ffd500 61px,#ff0 61.1px,#0f0 62px,#0ff 62.9px,#00ecff 63px,#0097ff 63.5px,#00efff 121.5px,#0ff 128.2px,#00fff2 133.5px,#00ff6f 145.5px,#00ff20 157.5px,#00ff1f 179px,#0f0 179.2px,#2bff00 179.5px,#ff0 180.3px,#ff4100 181px,#f00 181.5px,#f00 233px,#ff0300 233.5px,#ff0 236.7px,#1bff00 239.5px,#0f0 240px,#0f0 273px)"></i><i style="background:linear-gradient(#63ff00 0,#91ff00 24px,#b1ff00 32.5px,#dbff00 40px,#ff0 44.3px,#fff100 46px,#ffae00 51.5px,#ff5f00 56px,#ff0900 59.5px,#ff1400 60px,#ff4600 60.5px,#ff0 61.1px,#0f0 62px,#0ff 62.9px,#00edff 63px,#0098ff 63.5px,#00efff 121px,#0ff 127.4px,#00fff1 133px,#00ff70 145px,#00ff20 157px,#00ff1f 179px,#0f0 179.2px,#2bff00 179.5px,#ff0 180.3px,#ff4100 181px,#f00 181.5px,#f00 233px,#ff1200 233.5px,#ff0 236.5px,#0bff00 239.5px,#0f0 240px,#0f0 273px)"></i><i style="background:linear-gradient(#63ff00 0,#92ff00 24px,#b2ff00 32.5px,#df0 40px,#ff0 44.1px,#ffef00 46px,#ffac00 51.5px,#ff5c00 56px,#ff0400 59.5px,#ff0f00 60px,#ff4600 60.5px,#ff0 61.1px,#0f0 62px,#0ff 62.9px,#00edff 63px,#0098ff 63.5px,#00efff 121px,#0ff 126.5px,#00ffed 133px,#00ff6b 145px,#00ff1f 157px,#00ff1f 179px,#0f0 179.2px,#2bff00 179.5px,#ff0 180.3px,#ff4100 181px,#f00 181.5px,#f00 233px,#ff0 236.2px,#0f0 239.5px,#0f0 273px)"></i><i style="background:linear-gradient(#63ff00 0,#93ff00 24px,#b3ff00 32.5px,#deff00 40px,#ff0 43.9px,#ffed00 46px,#ffa900 51.5px,#ff5800 56px,#f00 59.5px,#ff0b00 60px,#ff4600 60.5px,#ff0 61.2px,#0f0 62px,#0ff 62.9px,#0ef 63px,#09f 63.5px,#00efff 120.5px,#0ff 125.7px,#00ffea 132.5px,#00ff6b 144.5px,#00ff20 156.5px,#00ff1f 179px,#0f0 179.2px,#2bff00 179.5px,#ff0 180.3px,#ff4100 181px,#f00 181.5px,#f00 232.5px,#ff0900 233px,#ff0 236.1px,#14ff00 239px,#0f0 239.5px,#0f0 273px)"></i><i style="background:linear-gradient(#64ff00 0,#92ff00 23.5px,#b2ff00 32px,#dcff00 39.5px,#ff0 43.7px,#fff000 45.5px,#ffae00 51px,#ff5f00 55.5px,#f00 59.5px,#ff0700 60px,#ff4600 60.5px,#ff0 61.2px,#0f0 62px,#0ff 62.9px,#00efff 63px,#009aff 63.5px,#00f0ff 120.5px,#0ff 125px,#00ffe6 132.5px,#0f6 144.5px,#00ff1f 156.5px,#00ff1f 179px,#0f0 179.2px,#2bff00 179.5px,#ff0 180.3px,#ff4100 181px,#f00 181.5px,#f00 232.5px,#ff1800 233px,#ff0 235.9px,#05ff00 239px,#0f0 273px)"></i><i style="background:linear-gradient(#64ff00 0,#93ff00 23.5px,#b3ff00 32px,#df0 39.5px,#ff0 43.5px,#fe0 45.5px,#ffb300 50.5px,#f60 55px,#ff0600 59px,#f00 60px,#ff4600 60.5px,#ff0 61.2px,#0f0 62px,#0ff 62.9px,#00efff 63px,#009bff 63.5px,#00f0ff 120px,#0ff 124.3px,#00ffe4 132px,#0f6 144px,#00ff20 156px,#00ff1f 179px,#0f0 179.2px,#2bff00 179.5px,#ff0 180.3px,#ff4100 181px,#f00 181.5px,#f00 232.5px,#ff0 235.7px,#1dff00 238.5px,#0f0 239px,#0f0 273px)"></i><i style="background:linear-gradient(#65ff00 0,#92ff00 23px,#b2ff00 31.5px,#dbff00 39px,#ff0 43.4px,#fff200 45px,#ffb700 50px,#ff6300 55px,#ff0200 59px,#f00 60px,#ff4500 60.5px,#ff0 61.2px,#0f0 62px,#0ff 62.9px,#00f0ff 63px,#009bff 63.5px,#00f1ff 120px,#0ff 123.7px,#00ffdf 132px,#00ff61 144px,#00ff1f 156px,#00ff1f 179px,#0f0 179.2px,#2bff00 179.5px,#ff0 180.3px,#ff4100 181px,#f00 181.5px,#f00 232px,#ff0f00 232.5px,#ff0 235.5px,#0eff00 238.5px,#0f0 239px,#0f0 273px)"></i><i style="background:linear-gradient(#65ff00 0,#93ff00 23px,#b3ff00 31.5px,#df0 39px,#ff0 43.2px,#fff000 45px,#ffb500 50px,#ff6a00 54.5px,#f00 59px,#f00 60px,#ff4500 60.5px,#ff0 61.2px,#0f0 62.1px,#0ff 62.9px,#00f1ff 63px,#009cff 63.5px,#00f1ff 119.5px,#0ff 123.1px,#0fd 131.5px,#00ff61 143.5px,#00ff1f 155.5px,#00ff1f 179px,#0f0 179.2px,#2bff00 179.5px,#ff0 180.3px,#ff4100 181px,#f00 181.5px,#f00 232px,#ff1e00 232.5px,#ff0 235.3px,#0f0 238.5px,#0f0 273px)"></i><i style="background:linear-gradient(#65ff00 0,#94ff00 23px,#b4ff00 31.5px,#deff00 39px,#ff0 43px,#fff300 44.5px,#ffba00 49.5px,#ff6700 54.5px,#ff0700 58.5px,#f00 60px,#ff4500 60.5px,#ff0 61.2px,#0f0 62.1px,#0ff 63px,#00f1ff 63px,#009dff 63.5px,#00f2ff 119.5px,#0ff 122.6px,#00ffd8 131.5px,#00ff5c 143.5px,#00ff20 155px,#00ff1f 179px,#0f0 179.2px,#2bff00 179.5px,#ff0 180.3px,#ff4100 181px,#f00 181.5px,#f00 231.5px,#ff0500 232px,#ff0 235.1px,#18ff00 238px,#0f0 238.5px,#0f0 273px)"></i><i style="background:linear-gradient(#6f0 0,#93ff00 22.5px,#b2ff00 31px,#dcff00 38.5px,#ff0 42.9px,#fff600 44px,#ffbe00 49px,#ff6e00 54px,#ff0300 58.5px,#f00 60px,#ff4500 60.5px,#ff0 61.2px,#0f0 62.1px,#0ff 63px,#00f2ff 63px,#009dff 63.5px,#00f2ff 119px,#0ff 122px,#00ffd7 131px,#00ff5c 143px,#00ff1f 155px,#00ff1f 179px,#0f0 179.2px,#2bff00 179.5px,#ff0 180.3px,#ff4100 181px,#f00 181.5px,#f00 231.5px,#ff1500 232px,#ff0 234.9px,#08ff00 238px,#0f0 238.5px,#0f0 273px)"></i><i style="background:linear-gradient(#6f0 0,#94ff00 22.5px,#b3ff00 31px,#df0 38.5px,#ff0 42.7px,#fff400 44px,#ffbc00 49px,#ff6b00 54px,#f00 58.5px,#f00 60px,#ff4500 60.5px,#ff0 61.2px,#0f0 62.1px,#0ff 63px,#00f3ff 63px,#009eff 63.5px,#00f2ff 119px,#0ff 121.6px,#00ffd1 131px,#00ff58 143px,#00ff20 154.5px,#00ff1f 179px,#0f0 179.2px,#2bff00 179.5px,#ff0 180.3px,#ff4100 181px,#f00 181.5px,#f00 231.5px,#ff0 234.8px,#0f0 238px,#0f0 273px)"></i><i style="background:linear-gradient(#67ff00 0,#96ff00 23px,#b7ff00 31.5px,#dfff00 38.5px,#ff0 42.5px,#fff200 44px,#ffb900 49px,#ff6700 54px,#f00 58.5px,#f00 60px,#ff4500 60.5px,#ff0 61.2px,#0f0 62.1px,#0ff 63px,#00f3ff 63px,#009fff 63.5px,#00f2ff 118.5px,#0ff 121px,#00ffd0 130.5px,#00ff56 142.5px,#00ff20 154px,#00ff1f 179px,#0f0 179.2px,#2bff00 179.5px,#ff0 180.3px,#ff4100 181px,#f00 181.5px,#f00 231px,#ff0b00 231.5px,#ff0 234.5px,#12ff00 237.5px,#0f0 238px,#0f0 273px)"></i><i style="background:linear-gradient(#67ff00 0,#95ff00 22.5px,#b5ff00 31px,#df0 38px,#ff0 42.3px,#fff600 43.5px,#ffbe00 48.5px,#ff6e00 53.5px,#ff0500 58px,#f00 60px,#ff4500 60.5px,#ff0 61.2px,#0f0 62.1px,#0ff 63px,#00f4ff 63px,#00a0ff 63.5px,#00f2ff 118px,#0ff 120.4px,#00ffca 130.5px,#00ff56 142px,#00ff1f 154px,#00ff1f 177px,#0f0 177.5px,#03ff00 177.5px,#ff0 178.4px,#ff6a00 179px,#f00 179.5px,#f00 231px,#ff1a00 231.5px,#ff0 234.4px,#03ff00 237.5px,#0f0 273px)"></i><i style="background:linear-gradient(#67ff00 0,#96ff00 22.5px,#b6ff00 31px,#deff00 38px,#ff0 42.1px,#fff400 43.5px,#ffbc00 48.5px,#ff6b00 53.5px,#f00 58px,#f00 60px,#f40 60.5px,#ff0 61.2px,#0f0 62.1px,#0ff 63px,#00f5ff 63px,#00a0ff 63.5px,#00f3ff 118px,#0ff 120.1px,#00ffc9 130px,#00ff51 142px,#00ff20 153.5px,#00ff1f 175.5px,#0f0 175.6px,#ff0 176.6px,#ff0c00 177.5px,#f00 178px,#f00 230.5px,#ff0100 231px,#ff0 234.2px,#1cff00 237px,#0f0 237.5px,#0f0 273px)"></i><i style="background:linear-gradient(#68ff00 0,#96ff00 22.5px,#b7ff00 31px,#dfff00 38px,#ff0 41.9px,#ffed00 44px,#ffb300 49px,#ff7100 53px,#ff0a00 57.5px,#f00 58.5px,#ff2500 59px,#ff0 59.8px,#0f0 60.7px,#00ffeb 61.5px,#0ff 61.6px,#009fff 62px,#00f3ff 117.5px,#0ff 119.6px,#00ffc6 129.5px,#00ff4e 142px,#00ff1f 153.5px,#00ff1f 173.5px,#0f0 173.7px,#38ff00 174px,#ff0 174.7px,#ff3400 175.5px,#f00 176px,#f00 230.5px,#ff1000 231px,#ff0 234px,#0dff00 237px,#0f0 237.5px,#0f0 273px)"></i><i style="background:linear-gradient(#68ff00 0,#95ff00 22px,#b6ff00 30.5px,#df0 37.5px,#ff0 41.7px,#fff100 43.5px,#ffb700 48.5px,#ff6e00 53px,#ff1300 57px,#ff6500 57.5px,#ffd800 58px,#ff0 58.3px,#df0 58.5px,#0f0 59.3px,#0ff 60.2px,#00a4ff 60.5px,#009eff 61px,#00f4ff 117.5px,#0ff 119.3px,#00ffc1 129.5px,#00ff4c 141.5px,#00ff1f 153px,#00ff1f 173.5px,#0f0 173.7px,#38ff00 174px,#ff0 174.7px,#ff3400 175.5px,#f00 176px,#f00 230.5px,#ff1f00 231px,#ff0 233.8px,#0f0 237px,#0f0 273px)"></i><i style="background:linear-gradient(#68ff00 0,#94ff00 21.5px,#b2ff00 29.5px,#d8ff00 36.5px,#ff0 41.6px,#fff800 42.5px,#ffc200 47.5px,#ff7e00 52px,#ff3600 55.5px,#ff6900 56px,#ff0 56.6px,#0f0 57.8px,#00ffae 58.5px,#0ff 58.8px,#00c3ff 59px,#009dff 59.5px,#00f4ff 117px,#0ff 118.7px,#00ffbf 129px,#00ff4a 141px,#00ff1f 152.5px,#00ff1f 173.5px,#0f0 173.7px,#38ff00 174px,#ff0 174.7px,#ff3400 175.5px,#f00 176px,#f00 230px,#ff0600 230.5px,#ff0 233.6px,#16ff00 236.5px,#0f0 237px,#0f0 273px)"></i><i style="background:linear-gradient(#69ff00 0,#92ff00 20.5px,#cfff00 35px,#faff00 41px,#ff0 41.5px,#ffd200 46px,#ff9500 50.5px,#ff5400 54px,#ff6c00 54.5px,#ff0 55.2px,#47ff00 56px,#0f0 56.3px,#0ff 57.4px,#00dbff 57.5px,#009bff 58px,#00f4ff 116.5px,#0ff 118.2px,#00ffbc 128.5px,#00ff48 140.5px,#00ff1f 152.5px,#00ff1f 173.5px,#0f0 173.7px,#38ff00 174px,#ff0 174.7px,#ff3400 175.5px,#f00 176px,#f00 230px,#ff1600 230.5px,#ff0 233.4px,#07ff00 236.5px,#0f0 237px,#0f0 273px)"></i><i style="background:linear-gradient(#69ff00 0,#93ff00 20.5px,#d0ff00 35px,#fbff00 41px,#ff0 41.4px,#ffd000 46px,#ff9200 50.5px,#ff5000 54px,#ff6800 54.5px,#ff0 55.2px,#49ff00 56px,#0f0 56.3px,#0ff 57.4px,#00dcff 57.5px,#009cff 58px,#00f5ff 116.5px,#0ff 117.9px,#00ffb6 128.5px,#00ff47 140px,#00ff1f 152px,#00ff1f 173.5px,#0f0 173.7px,#38ff00 174px,#ff0 174.7px,#ff3400 175.5px,#f00 176px,#f00 230px,#ff0 233.2px,#20ff00 236px,#0f0 236.5px,#0f0 273px)"></i><i style="background:linear-gradient(#69ff00 0,#93ff00 20.5px,#d1ff00 35px,#fdff00 41px,#ff0 41.2px,#ffce00 46px,#ff8f00 50.5px,#ff4d00 54px,#ff6500 54.5px,#ff0 55.2px,#4cff00 56px,#0f0 56.3px,#0ff 57.4px,#00dcff 57.5px,#009dff 58px,#00f5ff 116px,#0ff 117.4px,#00ffb4 128px,#00ff43 140px,#00ff1f 151.5px,#00ff1f 173.5px,#0f0 173.7px,#38ff00 174px,#ff0 174.7px,#ff3400 175.5px,#f00 176px,#f00 229.5px,#ff0c00 230px,#ff0 233px,#1f0 236px,#0f0 236.5px,#0f0 273px)"></i><i style="background:linear-gradient(#69ff00 0,#94ff00 20.5px,#d3ff00 35px,#feff00 41px,#ff0 41.1px,#ffcd00 46px,#ff8d00 50.5px,#ff4900 54px,#ff6100 54.5px,#ff0 55.2px,#4eff00 56px,#0f0 56.3px,#0ff 57.4px,#0df 57.5px,#009dff 58px,#00f6ff 115.5px,#0ff 116.8px,#00ffb2 127.5px,#00ff41 139.5px,#00ff1f 151px,#00ff1f 173.5px,#0f0 173.7px,#38ff00 174px,#ff0 174.7px,#ff3400 175.5px,#f00 176px,#f00 229.5px,#ff1b00 230px,#ff0 232.8px,#02ff00 236px,#0f0 273px)"></i><i style="background:linear-gradient(#6aff00 0,#94ff00 20.5px,#d4ff00 35px,#ff0 40.9px,#fffe00 41px,#ffcb00 46px,#ff8a00 50.5px,#ff4600 54px,#ff5e00 54.5px,#ff0 55.2px,#50ff00 56px,#0f0 56.3px,#0ff 57.4px,#00e4ff 57.5px,#009eff 58px,#00f6ff 115.5px,#0ff 116.6px,#00ffb0 127px,#00ff3f 139px,#00ff1f 150.5px,#00ff1f 173.5px,#0f0 173.7px,#38ff00 174px,#ff0 174.7px,#ff3400 175.5px,#f00 176px,#f00 229px,#ff0200 229.5px,#ff0 232.7px,#1bff00 235.5px,#0f0 236px,#0f0 273px)"></i><i style="background:linear-gradient(#6aff00 0,#95ff00 20.5px,#d5ff00 35px,#ff0 40.7px,#fffd00 41px,#ffc900 46px,#ff8700 50.5px,#ff4200 54px,#ff5a00 54.5px,#ff0 55.2px,#53ff00 56px,#0f0 56.3px,#0ff 57.4px,#00e5ff 57.5px,#009fff 58px,#00f7ff 115px,#0ff 116.1px,#00ffa9 127px,#00ff3d 138.5px,#00ff1f 150px,#00ff1f 173.5px,#0f0 173.7px,#38ff00 174px,#ff0 174.7px,#ff3400 175.5px,#f00 176px,#f00 229px,#f10 229.5px,#ff0 232.5px,#0cff00 235.5px,#0f0 236px,#0f0 273px)"></i><i style="background:linear-gradient(#6aff00 0,#95ff00 20.5px,#d6ff00 35px,#ff0 40.5px,#fffb00 41px,#ffc700 46px,#ff8500 50.5px,#ff3f00 54px,#ff5700 54.5px,#ff0 55.2px,#5f0 56px,#0f0 56.3px,#0ff 57.4px,#00e6ff 57.5px,#00a0ff 58px,#00f7ff 114.5px,#0ff 115.5px,#00ffa7 126.5px,#00ff3c 138px,#00ff1f 150px,#00ff1f 173.5px,#0f0 173.7px,#38ff00 174px,#ff0 174.7px,#ff3400 175.5px,#f00 176px,#f00 229px,#ff2100 229.5px,#ff0 232.3px,#0f0 235.5px,#0f0 273px)"></i><i style="background:linear-gradient(#6bff00 0,#96ff00 20.5px,#d7ff00 35px,#ff0 40.3px,#fffa00 41px,#ffc500 46px,#ff8200 50.5px,#ff3b00 54px,#ff5300 54.5px,#ff0 55.3px,#cf0 55.5px,#0f0 56.4px,#00ff21 56.5px,#00ff8a 57px,#0ff 57.4px,#00e7ff 57.5px,#00a1ff 58px,#00f7ff 114px,#0ff 114.9px,#00ff38 138px,#00ff1f 149.5px,#00ff1f 173.5px,#0f0 173.7px,#38ff00 174px,#ff0 174.7px,#ff3400 175.5px,#f00 176px,#f00 228.5px,#ff0800 229px,#ff0 232.1px,#15ff00 235px,#0f0 235.5px,#0f0 273px)"></i><i style="background:linear-gradient(#6bff00 0,#96ff00 20.5px,#d8ff00 35px,#ff0 40.1px,#fff800 41px,#ffc300 46px,#ff7f00 50.5px,#ff3700 54px,#ff4f00 54.5px,#ff0 55.3px,#cfff00 55.5px,#0f0 56.4px,#00ff1e 56.5px,#00ff8a 57px,#0ff 57.4px,#00e7ff 57.5px,#00a1ff 58px,#00f8ff 114px,#0ff 114.8px,#00ff36 137.5px,#00ff1f 149px,#00ff1f 171.5px,#0f0 171.8px,#10ff00 172px,#ff0 172.9px,#ff5c00 173.5px,#f00 174px,#f00 228.5px,#ff1700 229px,#ff0 231.9px,#06ff00 235px,#0f0 235.5px,#0f0 273px)"></i><i style="background:linear-gradient(#6bff00 0,#97ff00 20.5px,#d9ff00 35px,#ff0 40px,#fff700 41px,#ffc100 46px,#ff7c00 50.5px,#f30 54px,#ff4c00 54.5px,#ff0 55.3px,#0f0 56.4px,#00ff89 57px,#0ff 57.4px,#00e8ff 57.5px,#00a2ff 58px,#00f8ff 113.5px,#0ff 114.3px,#00ff34 137px,#00ff1f 148.5px,#00ff1f 169.5px,#00ff18 170px,#0f0 170.1px,#ff0 171px,#f00 172px,#f00 228.5px,#ff0 231.7px,#1fff00 234.5px,#0f0 235px,#0f0 273px)"></i><i style="background:linear-gradient(#6bff00 0,#97ff00 20.5px,#daff00 35px,#ff0 39.8px,#fff600 41px,#ffbe00 46px,#ff7900 50.5px,#ff3000 54px,#ff4800 54.5px,#ff0 55.3px,#0f0 56.4px,#00ff89 57px,#0ff 57.4px,#00e9ff 57.5px,#00a3ff 58px,#00f8ff 113px,#0ff 113.8px,#0f3 136.5px,#00ff1f 148px,#00ff1f 168px,#0f0 168.2px,#46ff00 168.5px,#ff0 169.2px,#ff2700 170px,#f00 170.5px,#f00 228px,#ff0e00 228.5px,#ff0 231.5px,#0fff00 234.5px,#0f0 235px,#0f0 273px)"></i><i style="background:linear-gradient(#6cff00 0,#98ff00 20.5px,#dbff00 35px,#ff0 39.6px,#fff400 41px,#ffbc00 46px,#ff7600 50.5px,#ff2c00 54px,#f40 54.5px,#ff0 55.3px,#62ff00 56px,#05ff00 56.5px,#0f0 56.5px,#0ff 57.4px,#00eaff 57.5px,#00a4ff 58px,#00f9ff 113px,#0ff 113.7px,#00ff2f 136.5px,#00ff1f 148px,#00ff1f 168px,#0f0 168.2px,#46ff00 168.5px,#ff0 169.2px,#ff2700 170px,#f00 170.5px,#f00 228px,#ff1d00 228.5px,#ff0 231.3px,#0f0 234.5px,#0f0 273px)"></i><i style="background:linear-gradient(#6cff00 0,#98ff00 20.5px,#dcff00 35px,#ff0 39.4px,#fff300 41px,#ffba00 46px,#ff7300 50.5px,#ff2800 54px,#ff4000 54.5px,#ff0 55.3px,#65ff00 56px,#05ff00 56.5px,#0f0 56.5px,#0ff 57.4px,#00eaff 57.5px,#00a5ff 58px,#00f9ff 112.5px,#0ff 113.2px,#00ff2d 136px,#00ff1f 147.5px,#00ff1f 168px,#0f0 168.2px,#46ff00 168.5px,#ff0 169.2px,#ff2700 170px,#f00 170.5px,#f00 227.5px,#ff0500 228px,#ff0 231.1px,#18ff00 234px,#0f0 234.5px,#0f0 273px)"></i><i style="background:linear-gradient(#6cff00 0,#9bff00 21px,#bf0 29px,#e0ff00 35.5px,#ff0 39.3px,#fff100 41px,#ffb800 46px,#ff7100 50.5px,#ff2400 54px,#ff3c00 54.5px,#ff0 55.3px,#68ff00 56px,#06ff00 56.5px,#0f0 56.5px,#0ff 57.4px,#00ebff 57.5px,#00a6ff 58px,#00faff 112.5px,#0ff 113px,#00ff91 124px,#00ff2c 135.5px,#00ff1f 147px,#00ff1f 168px,#0f0 168.2px,#46ff00 168.5px,#ff0 169.2px,#ff2700 170px,#f00 170.5px,#f00 227.5px,#ff1400 228px,#ff0 230.9px,#09ff00 234px,#0f0 234.5px,#0f0 273px)"></i><i style="background:linear-gradient(#6cff00 0,#9bff00 21px,#bf0 29px,#e1ff00 35.5px,#ff0 39.1px,#fff000 41px,#ffb600 46px,#ff6e00 50.5px,#ff2000 54px,#ff3800 54.5px,#ff0 55.4px,#e2ff00 55.5px,#93ff00 56px,#0f0 56.5px,#0ff 57.4px,#00ecff 57.5px,#00a6ff 58px,#00faff 112px,#0ff 112.5px,#00ff8b 124px,#00ff29 135.5px,#00ff1f 147px,#00ff1f 168px,#0f0 168.2px,#46ff00 168.5px,#ff0 169.2px,#ff2700 170px,#f00 170.5px,#f00 227.5px,#ff0 230.8px,#0f0 234px,#0f0 273px)"></i><i style="background:linear-gradient(#6cff00 0,#9cff00 21px,#bcff00 29px,#e2ff00 35.5px,#ff0 39px,#fe0 41px,#ffb400 46px,#ff6a00 50.5px,#ff1c00 54px,#ff3400 54.5px,#ff0 55.4px,#e6ff00 55.5px,#93ff00 56px,#0f0 56.5px,#0ff 57.4px,#00edff 57.5px,#00a7ff 58px,#00faff 111.5px,#0ff 112px,#00ff89 123.5px,#00ff26 135px,#00ff1f 168px,#0f0 168.2px,#46ff00 168.5px,#ff0 169.2px,#ff2700 170px,#f00 170.5px,#f00 227px,#ff0c00 227.5px,#ff0 230.5px,#12ff00 233.5px,#0f0 234px,#0f0 273px)"></i><i style="background:linear-gradient(#6dff00 0,#9cff00 21px,#bdff00 29px,#e3ff00 35.5px,#ff0 38.8px,#ffed00 41px,#ffb200 46px,#ff6700 50.5px,#ff1700 54px,#ff2f00 54.5px,#ff0 55.4px,#e9ff00 55.5px,#94ff00 56px,#0f0 56.5px,#0ff 57.4px,#00edff 57.5px,#00a8ff 58px,#00fbff 111.5px,#0ff 111.9px,#00ff87 123px,#00ff25 134.5px,#00ff1f 168px,#0f0 168.2px,#46ff00 168.5px,#ff0 169.2px,#ff2700 170px,#f00 170.5px,#f00 227px,#ff1b00 227.5px,#ff0 230.3px,#02ff00 233.5px,#0f0 273px)"></i><i style="background:linear-gradient(#6dff00 0,#9dff00 21px,#beff00 29px,#e4ff00 35.5px,#ff0 38.6px,#ffeb00 41px,#ffb000 46px,#ff6400 50.5px,#ff1300 54px,#ff2b00 54.5px,#ff9c00 55px,#ffde00 55.5px,#ff0 55.6px,#0f0 56.5px,#0ff 57.4px,#0ef 57.5px,#00a9ff 58px,#00fbff 111px,#0ff 111.4px,#00ff86 122.5px,#00ff24 134px,#00ff1f 168px,#0f0 168.2px,#46ff00 168.5px,#ff0 169.2px,#ff2700 170px,#f00 170.5px,#f00 226.5px,#ff0300 227px,#ff0 230.1px,#1bff00 233px,#0f0 233.5px,#0f0 273px)"></i><i style="background:linear-gradient(#6dff00 0,#9dff00 21px,#beff00 29px,#e5ff00 35.5px,#ff0 38.5px,#ffea00 41px,#ffae00 46px,#ff6100 50.5px,#ff0f00 54px,#ff2700 54.5px,#ff9800 55px,#fd0 55.5px,#ff0 55.6px,#0f0 56.5px,#0ff 57.4px,#00efff 57.5px,#0af 58px,#00fbff 110.5px,#0ff 110.9px,#00ff7f 122.5px,#00ff20 134px,#00ff1f 168px,#0f0 168.2px,#46ff00 168.5px,#ff0 169.2px,#ff2700 170px,#f00 170.5px,#f00 226.5px,#ff1200 227px,#ff0 230px,#0bff00 233px,#0f0 233.5px,#0f0 273px)"></i><i style="background:linear-gradient(#6dff00 0,#9dff00 21px,#bfff00 29px,#e6ff00 35.5px,#ff0 38.3px,#ffe800 41px,#ffab00 46px,#ff5e00 50.5px,#ff0a00 54px,#f20 54.5px,#ff9400 55px,#fd0 55.5px,#ff0 55.6px,#0f0 56.5px,#0ff 57.4px,#00f0ff 57.5px,#0af 58px,#00fdff 110.5px,#0ff 110.7px,#00ff7e 122px,#00ff1f 133.5px,#00ff1f 168px,#0f0 168.2px,#46ff00 168.5px,#ff0 169.2px,#ff2700 170px,#f00 170.5px,#f00 226.5px,#ff0 229.8px,#0f0 233px,#0f0 273px)"></i><i style="background:linear-gradient(#6eff00 0,#9eff00 21px,#c0ff00 29px,#e8ff00 35.5px,#ff0 38.2px,#ffe700 41px,#ffa900 46px,#ff5b00 50.5px,#ff0600 54px,#ff1d00 54.5px,#ff5100 55px,#ff0 55.6px,#0f0 56.5px,#0ff 57.4px,#00f0ff 57.5px,#00abff 58px,#00eaff 99px,#0ff 109.1px,#00fffc 110.5px,#00ff7d 121.5px,#00ff1f 133px,#00ff1f 168px,#0f0 168.2px,#46ff00 168.5px,#ff0 169.2px,#ff2700 170px,#f00 170.5px,#f00 226px,#ff0900 226.5px,#ff0 229.6px,#14ff00 232.5px,#0f0 233px,#0f0 273px)"></i><i style="background:linear-gradient(#6eff00 0,#9bff00 20px,#deff00 34px,#ff0 38.1px,#fff400 39.5px,#ffbc00 44.5px,#ff7e00 48.5px,#ff2900 52.5px,#ff2600 53px,#ff0 54px,#83ff00 54.5px,#28ff00 55px,#0f0 55.1px,#00ffef 56px,#0ff 56.1px,#0af 56.5px,#00eaff 98.5px,#0ff 108.5px,#00fffc 110px,#0f7 121.5px,#00ff20 132.5px,#00ff1f 166px,#0f0 166.3px,#1eff00 166.5px,#ff0 167.3px,#ff4f00 168px,#f00 168.5px,#f00 226px,#ff1900 226.5px,#ff0 229.4px,#04ff00 232.5px,#0f0 273px)"></i><i style="background:linear-gradient(#6eff00 0,#9aff00 19.5px,#dcff00 33.5px,#ff0 38px,#fff700 39px,#ffc700 43.5px,#ff8400 48px,#ff3e00 51.5px,#ff9600 52px,#ff0 52.5px,#8aff00 53px,#0f0 53.6px,#0ff 54.6px,#00a8ff 55px,#00eaff 98px,#0ff 107.6px,#00fffb 109.5px,#00ff76 121px,#00ff1f 132.5px,#00ff1f 164px,#00ff0b 164.5px,#0f0 164.5px,#ff0 165.5px,#f70 166px,#f00 166.5px,#f00 226px,#ff0 229.2px,#1dff00 232px,#0f0 232.5px,#0f0 273px)"></i><i style="background:linear-gradient(#6eff00 0,#97ff00 18.5px,#d3ff00 32px,#fbff00 37.5px,#ff0 37.9px,#ffd700 42px,#ff9b00 46.5px,#ff5b00 50px,#ff9800 50.5px,#ff0 51px,#fdff00 51px,#21ff00 52px,#0f0 52.1px,#0ff 53.2px,#00bdff 53.5px,#00a8ff 54px,#00ebff 98px,#0ff 106.5px,#00fff9 109px,#00ff75 120.5px,#00ff1f 132px,#00ff1f 162.5px,#0f0 162.6px,#53ff00 163px,#ff0 163.6px,#ff1900 164.5px,#f00 165px,#f00 225.5px,#ff1000 226px,#ff0 229px,#0dff00 232px,#0f0 232.5px,#0f0 273px)"></i><i style="background:linear-gradient(#6eff00 0,#96ff00 18px,#ceff00 31px,#ff0 37.2px,#ffe000 41px,#ffaf00 45px,#ff7600 48.5px,#ff9800 49px,#ff0 49.5px,#2cff00 50.5px,#0f0 50.7px,#0ff 51.8px,#00d6ff 52px,#00a6ff 52.5px,#00ebff 97.5px,#0ff 104.9px,#00fff4 109px,#00ff73 120px,#00ff1f 131.5px,#00ff1f 162.5px,#0f0 162.6px,#53ff00 163px,#ff0 163.6px,#ff1900 164.5px,#f00 165px,#f00 225.5px,#ff1f00 226px,#ff0 228.8px,#0f0 232px,#0f0 273px)"></i><i style="background:linear-gradient(#6eff00 0,#96ff00 18px,#ceff00 31px,#ff0 37px,#ffdf00 41px,#ffad00 45px,#ff7300 48.5px,#ff9500 49px,#ff0 49.5px,#2eff00 50.5px,#0f0 50.7px,#0ff 51.8px,#00d6ff 52px,#00a7ff 52.5px,#00ebff 97px,#0ff 104.2px,#00fff3 108.5px,#00ff72 119.5px,#00ff1f 131px,#00ff1f 162.5px,#0f0 162.6px,#53ff00 163px,#ff0 163.6px,#ff1900 164.5px,#f00 165px,#f00 225px,#ff0700 225.5px,#ff0 228.6px,#16ff00 231.5px,#0f0 232px,#0f0 273px)"></i><i style="background:linear-gradient(#6fff00 0,#97ff00 18px,#cfff00 31px,#f6ff00 36.5px,#ff0 37.5px,#fd0 41px,#fa0 45px,#ff7000 48.5px,#ff9200 49px,#ff0 49.5px,#30ff00 50.5px,#0f0 50.7px,#0ff 51.8px,#00d7ff 52px,#00a8ff 52.5px,#00ebff 96.5px,#0ff 103.4px,#00fff2 108px,#00ff70 119px,#00ff1f 130.5px,#00ff1f 162.5px,#0f0 162.6px,#53ff00 163px,#ff0 163.6px,#ff1900 164.5px,#f00 165px,#f00 225px,#ff1600 225.5px,#ff0 228.4px,#07ff00 231.5px,#0f0 232px,#0f0 273px)"></i><i style="background:linear-gradient(#6fff00 0,#97ff00 18px,#d0ff00 31px,#f7ff00 36.5px,#ff0 37.3px,#ffdc00 41px,#ffa800 45px,#ff6d00 48.5px,#ff8f00 49px,#ff0 49.5px,#3f0 50.5px,#0f0 50.7px,#0ff 51.8px,#00d8ff 52px,#00a8ff 52.5px,#00ecff 96px,#0ff 102.6px,#00fff1 107.5px,#00ff6e 118.5px,#00ff1f 130px,#00ff1f 162.5px,#0f0 162.6px,#53ff00 163px,#ff0 163.6px,#ff1900 164.5px,#f00 165px,#f00 225px,#ff0 228.2px,#1fff00 231px,#0f0 231.5px,#0f0 273px)"></i><i style="background:linear-gradient(#6fff00 0,#97ff00 18px,#d1ff00 31px,#f8ff00 36.5px,#ff0 37.2px,#ffda00 41px,#ffa600 45px,#ff6900 48.5px,#ff8c00 49px,#ff0 49.5px,#35ff00 50.5px,#0f0 50.7px,#0ff 51.8px,#00d9ff 52px,#00a9ff 52.5px,#00ecff 96px,#0ff 101.8px,#00ffef 107px,#00ff68 118.5px,#00ff1f 129.5px,#00ff1f 162.5px,#0f0 162.6px,#53ff00 163px,#ff0 163.6px,#ff1900 164.5px,#f00 165px,#f00 224.5px,#ff0e00 225px,#ff0 228px,#10ff00 231px,#0f0 231.5px,#0f0 273px)"></i><i style="background:linear-gradient(#6fff00 0,#98ff00 18px,#d2ff00 31px,#f9ff00 36.5px,#ff0 37.1px,#ffd800 41px,#ffa400 45px,#f60 48.5px,#ff8900 49px,#ff0 49.6px,#37ff00 50.5px,#0f0 50.7px,#0ff 51.8px,#00daff 52px,#0af 52.5px,#00edff 95.5px,#0ff 101px,#00ffed 106.5px,#0f6 118px,#00ff1f 129px,#00ff1f 162.5px,#0f0 162.6px,#53ff00 163px,#ff0 163.6px,#ff1900 164.5px,#f00 165px,#f00 224.5px,#ff1d00 225px,#ff0 227.8px,#0f0 231px,#0f0 273px)"></i><i style="background:linear-gradient(#6fff00 0,#98ff00 18px,#d2ff00 31px,#fbff00 36.5px,#ff0 36.9px,#ffd700 41px,#ffa100 45px,#ff6300 48.5px,#ff8600 49px,#ff0 49.6px,#39ff00 50.5px,#0f0 50.7px,#0ff 51.8px,#00dbff 52px,#00abff 52.5px,#00edff 95px,#0ff 100.1px,#00ffe8 106.5px,#00ff64 117.5px,#00ff1f 128.5px,#00ff1f 160.5px,#0f0 160.7px,#2bff00 161px,#ff0 161.8px,#ff4100 162.5px,#f00 163px,#f00 224px,#ff0500 224.5px,#ff0 227.6px,#19ff00 230.5px,#0f0 231px,#0f0 273px)"></i><i style="background:linear-gradient(#6fff00 0,#98ff00 18px,#d3ff00 31px,#fcff00 36.5px,#ff0 36.8px,#ffd500 41px,#ff9f00 45px,#ff6000 48.5px,#ff8200 49px,#ff0 49.6px,#3bff00 50.5px,#0f0 50.8px,#0ff 51.9px,#00dcff 52px,#00acff 52.5px,#00edff 94.5px,#0ff 99.4px,#00ffe7 106px,#00ff62 117px,#00ff1f 128px,#00ff1f 158.5px,#0f0 159px,#03ff00 159px,#ff0 159.9px,#ff6a00 160.5px,#f00 161px,#f00 224px,#ff1400 224.5px,#ff0 227.4px,#09ff00 230.5px,#0f0 231px,#0f0 273px)"></i><i style="background:linear-gradient(#6fff00 0,#9f0 18px,#d4ff00 31px,#fdff00 36.5px,#ff0 36.7px,#ffd300 41px,#ff9c00 45px,#ff5d00 48.5px,#ff7f00 49px,#ff0 49.6px,#3dff00 50.5px,#0f0 50.8px,#0ff 51.9px,#0df 52px,#00acff 52.5px,#0ef 94.5px,#0ff 99px,#00ffe6 105.5px,#00ff60 116.5px,#00ff1f 127.5px,#00ff1f 157px,#0f0 157.1px,#ff0 158.1px,#ff0c00 159px,#f00 159.5px,#f00 224px,#ff0 227.2px,#0f0 230.5px,#0f0 273px)"></i><i style="background:linear-gradient(#70ff00 0,#9f0 18px,#d5ff00 31px,#feff00 36.5px,#ff0 36.6px,#ffd100 41px,#ff9a00 45px,#ff5900 48.5px,#ff7c00 49px,#ff0 49.6px,#40ff00 50.5px,#0f0 50.8px,#0ff 51.9px,#00deff 52px,#00adff 52.5px,#0ef 94px,#0ff 98.3px,#00ffe4 105px,#00ff5e 116px,#00ff1f 127px,#00ff1f 157px,#0f0 157.1px,#ff0 158.1px,#ff0c00 159px,#f00 159.5px,#f00 223.5px,#ff0c00 224px,#ff0 227px,#12ff00 230px,#0f0 230.5px,#0f0 273px)"></i><i style="background:linear-gradient(#70ff00 0,#9f0 18px,#d6ff00 31px,#ff0 36.4px,#ff0 36.5px,#ffd000 41px,#ff9700 45px,#ff5600 48.5px,#ff7800 49px,#ff0 49.6px,#42ff00 50.5px,#0f0 50.8px,#0ff 51.9px,#00dfff 52px,#00aeff 52.5px,#0ef 93.5px,#0ff 97.6px,#00ffe3 104.5px,#00ff5d 115.5px,#00ff1f 126.5px,#00ff1f 157px,#0f0 157.1px,#ff0 158.1px,#ff0c00 159px,#f00 159.5px,#f00 223.5px,#ff1c00 224px,#ff0 226.8px,#02ff00 230px,#0f0 273px)"></i><i style="background:linear-gradient(#70ff00 0,#9aff00 18px,#d6ff00 31px,#ff0 36.3px,#fffd00 36.5px,#ffce00 41px,#ff9500 45px,#ff5200 48.5px,#ff7500 49px,#ff0 49.6px,#45ff00 50.5px,#0f0 50.8px,#0ff 51.9px,#00e0ff 52px,#00afff 52.5px,#0ef 93px,#0ff 97px,#00ffe1 104px,#00ff5b 115px,#00ff1f 126px,#00ff1f 157px,#0f0 157.1px,#ff0 158.1px,#ff0c00 159px,#f00 159.5px,#f00 223px,#ff0400 223.5px,#ff0 226.6px,#1aff00 229.5px,#0f0 230px,#0f0 273px)"></i><i style="background:linear-gradient(#70ff00 0,#9aff00 18px,#d7ff00 31px,#ff0 36.1px,#fffc00 36.5px,#fc0 41px,#ff9200 45px,#ff4e00 48.5px,#ff7100 49px,#ff0 49.7px,#48ff00 50.5px,#0f0 50.8px,#0ff 51.9px,#00e1ff 52px,#00b0ff 52.5px,#00efff 93px,#0ff 96.5px,#00ffdc 104px,#00ff5a 114.5px,#00ff1f 125.5px,#00ff1f 157px,#0f0 157.1px,#ff0 158.1px,#ff0c00 159px,#f00 159.5px,#f00 223px,#ff1300 223.5px,#ff0 226.4px,#0aff00 229.5px,#0f0 230px,#0f0 273px)"></i><i style="background:linear-gradient(#70ff00 0,#9aff00 18px,#d8ff00 31px,#ff0 36px,#fffb00 36.5px,#ffca00 41px,#ff9000 45px,#ff4b00 48.5px,#ff6d00 49px,#ff0 49.7px,#4aff00 50.5px,#0f0 50.8px,#0ff 51.9px,#00e2ff 52px,#00b0ff 52.5px,#00efff 92.5px,#0ff 95.9px,#00ffdb 103.5px,#00ff54 114.5px,#00ff1f 125px,#00ff1f 157px,#0f0 157.1px,#ff0 158.1px,#ff0c00 159px,#f00 159.5px,#f00 223px,#ff0 226.2px,#0f0 229.5px,#0f0 273px)"></i><i style="background:linear-gradient(#70ff00 0,#9bff00 18px,#d9ff00 31px,#ff0 35.8px,#fffa00 36.5px,#ffc800 41px,#ff8d00 45px,#ff4700 48.5px,#ff6900 49px,#ff0 49.7px,#4dff00 50.5px,#0f0 50.8px,#0ff 51.9px,#00e8ff 52px,#00b1ff 52.5px,#00efff 92px,#0ff 95.3px,#00ffda 103px,#00ff52 114px,#00ff1f 124.5px,#00ff1f 157px,#0f0 157.1px,#ff0 158.1px,#ff0c00 159px,#f00 159.5px,#f00 222.5px,#ff0c00 223px,#ff0 226px,#12ff00 229px,#0f0 229.5px,#0f0 273px)"></i><i style="background:linear-gradient(#70ff00 0,#9bff00 18px,#daff00 31px,#ff0 35.7px,#fff800 36.5px,#ffc700 41px,#ff8a00 45px,#ff4300 48.5px,#f60 49px,#ff0 49.7px,#50ff00 50.5px,#0f0 50.8px,#0ff 51.9px,#00e9ff 52px,#00b2ff 52.5px,#00f0ff 92px,#0ff 94.9px,#00ffd8 102.5px,#00ff50 113.5px,#00ff1f 124px,#00ff1f 155px,#0f0 155.2px,#38ff00 155.5px,#ff0 156.2px,#ff3400 157px,#f00 157.5px,#f00 222.5px,#ff1c00 223px,#ff0 225.8px,#02ff00 229px,#0f0 273px)"></i><i style="background:linear-gradient(#70ff00 0,#9dff00 18.5px,#deff00 31.5px,#ff0 35.5px,#fff700 36.5px,#ffc500 41px,#ff8700 45px,#ff3f00 48.5px,#ff6200 49px,#ff0 49.7px,#53ff00 50.5px,#0f0 50.8px,#0ff 51.9px,#00eaff 52px,#00b3ff 52.5px,#00f0ff 91.5px,#0ff 94.3px,#00ffd2 102.5px,#00ff4e 113px,#00ff1f 123.5px,#00ff1f 153px,#0f0 153.3px,#10ff00 153.5px,#ff0 154.4px,#ff5c00 155px,#f00 155.5px,#f00 222px,#ff0400 222.5px,#ff0 225.6px,#1aff00 228.5px,#0f0 229px,#0f0 273px)"></i><i style="background:linear-gradient(#71ff00 0,#9dff00 18.5px,#dfff00 31.5px,#ff0 35.4px,#fff600 36.5px,#ffc300 41px,#ff8500 45px,#ff3b00 48.5px,#ff5e00 49px,#ff0 49.7px,#0f0 50.9px,#00ff8a 51.5px,#0ff 51.9px,#00eaff 52px,#00b4ff 52.5px,#00f0ff 91px,#0ff 93.7px,#00ffd2 102px,#00ff4c 112.5px,#00ff1f 123px,#00ff1f 151px,#00ff18 151.5px,#0f0 151.6px,#ff0 152.5px,#f00 153.5px,#f00 222px,#ff1400 222.5px,#ff0 225.4px,#0aff00 228.5px,#0f0 229px,#0f0 273px)"></i><i style="background:linear-gradient(#71ff00 0,#9eff00 18.5px,#e0ff00 31.5px,#ff0 35.2px,#fff400 36.5px,#ffc100 41px,#ff8200 45px,#ff3700 48.5px,#ff5900 49px,#ff0 49.7px,#0f0 50.9px,#00ff89 51.5px,#0ff 51.9px,#00ebff 52px,#00b4ff 52.5px,#00f0ff 90.5px,#0ff 93.2px,#00ffd1 101.5px,#00ff4b 112px,#00ff1f 122.5px,#00ff1f 151px,#00ff18 151.5px,#0f0 151.6px,#ff0 152.5px,#f00 153.5px,#f00 222px,#ff0 225.2px,#0f0 228.5px,#0f0 273px)"></i><i style="background:linear-gradient(#71ff00 0,#9eff00 18.5px,#e1ff00 31.5px,#ff0 35.1px,#fff300 36.5px,#ffbf00 41px,#ff7f00 45px,#f30 48.5px,#f50 49px,#ff0 49.8px,#5cff00 50.5px,#02ff00 51px,#0f0 51px,#0ff 51.9px,#00ecff 52px,#00b5ff 52.5px,#00f1ff 90.5px,#0ff 92.9px,#00ffcf 101px,#00ff46 112px,#00ff1f 122px,#00ff1f 151px,#00ff18 151.5px,#0f0 151.6px,#ff0 152.5px,#f00 153.5px,#f00 221.5px,#ff0d00 222px,#ff0 225px,#12ff00 228px,#0f0 228.5px,#0f0 273px)"></i><i style="background:linear-gradient(#71ff00 0,#9eff00 18.5px,#e2ff00 31.5px,#ff0 34.9px,#fff200 36.5px,#ffbd00 41px,#ff7c00 45px,#ff2e00 48.5px,#ff5100 49px,#ff0 49.8px,#5fff00 50.5px,#02ff00 51px,#0f0 51px,#0ff 51.9px,#00edff 52px,#00b6ff 52.5px,#00f1ff 90px,#0ff 92.3px,#00ffce 100.5px,#0f4 111.5px,#00ff1f 122px,#00ff1f 151px,#00ff18 151.5px,#0f0 151.6px,#ff0 152.5px,#f00 153.5px,#f00 221.5px,#ff1e00 222px,#ff0 224.8px,#01ff00 228px,#0f0 273px)"></i><i style="background:linear-gradient(#71ff00 0,#9fff00 18.5px,#e3ff00 31.5px,#ff0 34.8px,#fff000 36.5px,#ffba00 41px,#ff7900 45px,#ff2a00 48.5px,#ff4c00 49px,#ff0 49.8px,#62ff00 50.5px,#03ff00 51px,#0f0 51px,#0ff 51.9px,#00edff 52px,#00b7ff 52.5px,#00f1ff 89.5px,#0ff 91.7px,#00ffc8 100.5px,#00ff42 111px,#00ff1f 121.5px,#00ff1f 151px,#00ff18 151.5px,#0f0 151.6px,#ff0 152.5px,#f00 153.5px,#f00 221px,#ff0600 221.5px,#ff0 224.6px,#18ff00 227.5px,#0f0 228px,#0f0 273px)"></i><i style="background:linear-gradient(#71ff00 0,#9fff00 18.5px,#e3ff00 31.5px,#ff0 34.7px,#ffef00 36.5px,#ffb800 41px,#ff7500 45px,#ff2500 48.5px,#ff4800 49px,#ff0 49.8px,#d9ff00 50px,#8dff00 50.5px,#0f0 51px,#0ff 51.9px,#0ef 52px,#00b8ff 52.5px,#00f2ff 89.5px,#0ff 91.5px,#00ffc7 100px,#00ff40 110.5px,#00ff1f 121px,#00ff1f 151px,#00ff18 151.5px,#0f0 151.6px,#ff0 152.5px,#f00 153.5px,#f00 221px,#ff1700 221.5px,#ff0 224.4px,#08ff00 227.5px,#0f0 228px,#0f0 273px)"></i><i style="background:linear-gradient(#71ff00 0,#9fff00 18.5px,#e4ff00 31.5px,#ff0 34.5px,#ffed00 36.5px,#ffb600 41px,#ff7200 45px,#ff2000 48.5px,#ff4300 49px,#ff0 49.8px,#df0 50px,#8eff00 50.5px,#0f0 51px,#0ff 51.9px,#00efff 52px,#00b8ff 52.5px,#00f2ff 89px,#0ff 90.9px,#00ffc6 99.5px,#00ff3e 110px,#00ff1f 120.5px,#00ff1f 151px,#00ff18 151.5px,#0f0 151.6px,#ff0 152.5px,#f00 153.5px,#f00 221px,#ff0 224.2px,#1fff00 227px,#0f0 227.5px,#0f0 273px)"></i><i style="background:linear-gradient(#71ff00 0,#9cff00 17.5px,#daff00 30px,#ff0 34.5px,#fffb00 35px,#ffc900 39.5px,#ff8c00 43.5px,#ff4300 47px,#ff4a00 47.5px,#ff0 48.3px,#6fff00 49px,#0f0 49.5px,#00fff2 50.5px,#0ff 50.6px,#00b7ff 51px,#00f2ff 88.5px,#0ff 90.4px,#00ffc5 99px,#00ff3c 109.5px,#00ff1f 120px,#00ff1f 151px,#00ff18 151.5px,#0f0 151.6px,#ff0 152.5px,#f00 153.5px,#f00 220.5px,#f10 221px,#ff0 224px,#0eff00 227px,#0f0 227.5px,#0f0 273px)"></i><i style="background:linear-gradient(#71ff00 0,#9bff00 17px,#d8ff00 29.5px,#ff0 34.4px,#fffe00 34.5px,#ffcd00 39px,#ff9a00 42.5px,#ff5600 46px,#ffb600 46.5px,#ff0 46.8px,#75ff00 47.5px,#0f0 48px,#00ffe2 49px,#0ff 49.1px,#00b5ff 49.5px,#00f2ff 88px,#0ff 89.8px,#00ffc4 98.5px,#00ff3a 109px,#00ff1f 119.5px,#00ff1f 149.5px,#0f0 149.7px,#46ff00 150px,#ff0 150.7px,#ff2700 151.5px,#f00 152px,#f00 220.5px,#ff0 223.8px,#0f0 227px,#0f0 273px)"></i><i style="background:linear-gradient(#71ff00 0,#98ff00 16px,#cfff00 28px,#f3ff00 33px,#ff0 34.2px,#ffde00 37.5px,#ffaf00 41px,#ff7200 44.5px,#ffb700 45px,#ff0 45.4px,#e3ff00 45.5px,#1f0 46.5px,#0f0 46.6px,#0ff 47.7px,#00bcff 48px,#00b4ff 48.5px,#00f3ff 88px,#0ff 89.6px,#00ffbd 98.5px,#00ff38 108.5px,#00ff1f 119px,#00ff1f 145px,#00ff14 145.5px,#0f0 145.6px,#ff0 146.5px,#f00 147.5px,#f00 220px,#ff0b00 220.5px,#ff0 223.6px,#14ff00 226.5px,#0f0 227px,#0f0 273px)"></i><i style="background:linear-gradient(#71ff00 0,#96ff00 15.5px,#c9ff00 27px,#ff0 33.7px,#ffed00 36px,#ffc300 39.5px,#ff8c00 43px,#ffb700 43.5px,#ff0 43.9px,#1cff00 45px,#0f0 45.1px,#0ff 46.3px,#00d5ff 46.5px,#00b3ff 47px,#00f3ff 87.5px,#0ff 89.1px,#00ffbd 98px,#00ff37 108px,#00ff1f 118.5px,#00ff1f 144.5px,#0f0 144.9px,#05ff00 145px,#ff0 145.9px,#ff6800 146.5px,#f00 147px,#f00 220px,#ff1d00 220.5px,#ff0 223.3px,#03ff00 226.5px,#0f0 273px)"></i><i style="background:linear-gradient(#71ff00 0,#96ff00 15.5px,#caff00 27px,#ff0 33.6px,#ffeb00 36px,#ffc100 39.5px,#ff8900 43px,#ffb400 43.5px,#ff0 43.9px,#1eff00 45px,#0f0 45.1px,#0ff 46.3px,#00d5ff 46.5px,#00b3ff 47px,#00f3ff 87px,#0ff 88.5px,#00ffbc 97.5px,#0f3 108px,#00ff1f 118px,#00ff1f 144px,#0f0 144.1px,#4aff00 144.5px,#ff0 145.2px,#f20 146px,#f00 146.5px,#f00 219.5px,#ff0700 220px,#ff0 223.1px,#19ff00 226px,#0f0 226.5px,#0f0 273px)"></i><i style="background:linear-gradient(#71ff00 0,#97ff00 15.5px,#cbff00 27px,#ff0 33.4px,#ffea00 36px,#ffbe00 39.5px,#ff8600 43px,#ffb100 43.5px,#ff0 43.9px,#20ff00 45px,#0f0 45.1px,#0ff 46.3px,#00d6ff 46.5px,#00b4ff 47px,#00f3ff 86.5px,#0ff 88px,#0fb 97px,#00ff31 107.5px,#00ff1f 117.5px,#00ff1f 143px,#0f0 143.2px,#30ff00 143.5px,#ff0 144.3px,#ff3d00 145px,#f00 145.5px,#f00 219.5px,#ff1800 220px,#ff0 222.9px,#08ff00 226px,#0f0 226.5px,#0f0 273px)"></i><i style="background:linear-gradient(#71ff00 0,#97ff00 15.5px,#cbff00 27px,#ff0 33.3px,#ffe800 36px,#ffbc00 39.5px,#ff8200 43px,#ffad00 43.5px,#ff0 43.9px,#23ff00 45px,#0f0 45.2px,#0ff 46.3px,#00d7ff 46.5px,#00b5ff 47px,#00f4ff 86.5px,#0ff 87.8px,#00ffb9 96.5px,#00ff2f 107px,#00ff1f 117px,#00ff1f 142px,#0f0 142.2px,#34ff00 142.5px,#ff0 143.3px,#ff3800 144px,#f00 144.5px,#f00 219px,#ff0200 219.5px,#ff0 222.7px,#1eff00 225.5px,#0f0 226px,#0f0 273px)"></i><i style="background:linear-gradient(#71ff00 0,#97ff00 15.5px,#cf0 27px,#ff0 33.1px,#ffe700 36px,#ffba00 39.5px,#ff7f00 43px,#fa0 43.5px,#ff0 43.9px,#25ff00 45px,#0f0 45.2px,#0ff 46.3px,#00d8ff 46.5px,#00b6ff 47px,#00f4ff 86px,#0ff 87.3px,#00ffb3 96.5px,#00ff2d 106.5px,#00ff1f 116.5px,#00ff1f 141px,#0f0 141.1px,#52ff00 141.5px,#ff0 142.1px,#ff1b00 143px,#f00 143.5px,#f00 219px,#ff1400 219.5px,#ff0 222.4px,#0cff00 225.5px,#0f0 226px,#0f0 273px)"></i><i style="background:linear-gradient(#71ff00 0,#97ff00 15.5px,#cdff00 27px,#ff0 32.9px,#ffe500 36px,#ffb800 39.5px,#ff7c00 43px,#ffa700 43.5px,#ff0 43.9px,#27ff00 45px,#0f0 45.2px,#0ff 46.3px,#00d9ff 46.5px,#00b7ff 47px,#00f5ff 85.5px,#0ff 86.8px,#00ffb2 96px,#00ff2b 106px,#00ff1f 116px,#00ff1f 139.5px,#00ff05 140px,#0f0 140px,#ff0 141px,#ff7200 141.5px,#f00 142px,#f00 219px,#ff0 222.2px,#0f0 225.5px,#0f0 273px)"></i><i style="background:linear-gradient(#71ff00 0,#97ff00 15.5px,#cdff00 27px,#ff0 32.8px,#ffe300 36px,#ffb500 39.5px,#ff7800 43px,#ffa300 43.5px,#ff0 44px,#2aff00 45px,#0f0 45.2px,#0ff 46.3px,#00daff 46.5px,#00b7ff 47px,#00f5ff 85.5px,#0ff 86.6px,#00ffb2 95.5px,#00ff29 105.5px,#00ff1f 115.5px,#00ff1f 138.5px,#0f0 138.7px,#3eff00 139px,#ff0 139.7px,#ff2e00 140.5px,#f00 141px,#f00 218.5px,#f10 219px,#ff0 222px,#10ff00 225px,#0f0 225.5px,#0f0 273px)"></i><i style="background:linear-gradient(#71ff00 0,#98ff00 15.5px,#ceff00 27px,#ff0 32.6px,#ffe200 36px,#ffb300 39.5px,#ff7400 43px,#ffa000 43.5px,#ff0 44px,#2cff00 45px,#0f0 45.2px,#0ff 46.3px,#00dbff 46.5px,#00b8ff 47px,#00f5ff 85px,#0ff 86.1px,#00ffb1 95px,#00ff26 105px,#00ff1f 137px,#0f0 137.2px,#3fff00 137.5px,#ff0 138.2px,#ff2e00 139px,#f00 139.5px,#f00 218.5px,#ff0 221.8px,#0f0 225px,#0f0 273px)"></i><i style="background:linear-gradient(#71ff00 0,#9f0 16px,#d2ff00 27.5px,#ff0 32.5px,#ffe000 36px,#ffb000 39.5px,#ff7100 43px,#ff9c00 43.5px,#ff0 44px,#2fff00 45px,#0f0 45.2px,#0ff 46.3px,#00dcff 46.5px,#00b9ff 47px,#00f6ff 84.5px,#0ff 85.6px,#00ffaf 94.5px,#00ff25 104.5px,#00ff1f 135px,#00ff04 135.5px,#0f0 135.5px,#ff0 136.5px,#ff7000 137px,#f00 137.5px,#f00 218px,#ff0f00 218.5px,#ff0 221.5px,#12ff00 224.5px,#0f0 225px,#0f0 273px)"></i><i style="background:linear-gradient(#71ff00 0,#9aff00 16px,#d2ff00 27.5px,#ff0 32.4px,#ffde00 36px,#ffae00 39.5px,#ff6d00 43px,#ff9800 43.5px,#ff0 44px,#31ff00 45px,#0f0 45.2px,#0ff 46.3px,#0df 46.5px,#00baff 47px,#00f6ff 84.5px,#0ff 85.4px,#00ffa9 94.5px,#00ff24 104px,#00ff1f 133px,#00ff0e 133.5px,#0f0 133.6px,#ff0 134.5px,#ff7a00 135px,#f00 135.5px,#f00 218px,#ff0 221.2px,#0f0 224.5px,#0f0 273px)"></i><i style="background:linear-gradient(#71ff00 0,#9aff00 16px,#d3ff00 27.5px,#fcff00 32.5px,#ff0 32.8px,#ffd600 36.5px,#ffa300 40px,#ff6900 43px,#ff9400 43.5px,#ff0 44px,#34ff00 45px,#0f0 45.2px,#0ff 46.4px,#00deff 46.5px,#0bf 47px,#00f6ff 84px,#0ff 84.9px,#00ffa8 94px,#00ff20 104px,#00ff1f 131px,#0f0 131.3px,#17ff00 131.5px,#ff0 132.4px,#f50 133px,#f00 133.5px,#f00 217.5px,#ff0d00 218px,#ff0 221px,#15ff00 224px,#0f0 224.5px,#0f0 273px)"></i><i style="background:linear-gradient(#71ff00 0,#9aff00 16px,#d4ff00 27.5px,#fdff00 32.5px,#ff0 32.7px,#ffd400 36.5px,#ffa000 40px,#ff6500 43px,#ff9000 43.5px,#ff0 44px,#37ff00 45px,#0f0 45.2px,#0ff 46.4px,#00dfff 46.5px,#0bf 47px,#00f6ff 83.5px,#0ff 84.4px,#00ffa9 93.5px,#00ff1f 103.5px,#00ff1f 128.5px,#0f0 128.7px,#29ff00 129px,#ff0 129.8px,#f40 130.5px,#f00 131px,#f00 217.5px,#ff2000 218px,#ff0 220.8px,#02ff00 224px,#0f0 273px)"></i><i style="background:linear-gradient(#71ff00 0,#9aff00 16px,#d5ff00 27.5px,#feff00 32.5px,#ff0 32.6px,#ffd200 36.5px,#ff9d00 40px,#ff6000 43px,#ff8c00 43.5px,#ff0 44.1px,#3aff00 45px,#0f0 45.3px,#0ff 46.4px,#00dfff 46.5px,#0bf 47px,#00f6ff 83px,#0ff 83.9px,#0fa 93px,#00ff1f 103px,#00ff1f 125.5px,#0f0 125.7px,#29ff00 126px,#ff0 126.8px,#ff4300 127.5px,#f00 128px,#f00 217px,#ff0b00 217.5px,#ff0 220.6px,#17ff00 223.5px,#0f0 224px,#0f0 273px)"></i><i style="background:linear-gradient(#71ff00 0,#9aff00 16px,#d5ff00 27.5px,#ff0 32.5px,#ffd000 36.5px,#ff9a00 40px,#ff5c00 43px,#ff8700 43.5px,#ff0 44.1px,#3dff00 45px,#0f0 45.3px,#0ff 46.4px,#00e0ff 46.5px,#00bcff 47px,#00f7ff 83px,#0ff 83.9px,#00ffab 92.5px,#00ff1f 102.5px,#00ff1f 122.5px,#0f0 122.7px,#32ff00 123px,#ff0 123.8px,#ff3b00 124.5px,#f00 125px,#f00 217px,#ff1f00 217.5px,#ff0 220.3px,#03ff00 223.5px,#0f0 273px)"></i><i style="background:linear-gradient(#71ff00 0,#9aff00 16px,#d6ff00 27.5px,#ff0 32.3px,#fffd00 32.5px,#ffce00 36.5px,#ff9700 40px,#ff5700 43px,#ff8300 43.5px,#ff0 44.1px,#40ff00 45px,#0f0 45.3px,#0ff 46.4px,#00e1ff 46.5px,#00bcff 47px,#00f6ff 82.5px,#0ff 83.4px,#00ffa6 92.5px,#00ff1f 102px,#00ff1f 120px,#0f0 120.1px,#5dff00 120.5px,#ff0 121.1px,#ff0f00 122px,#f00 122.5px,#f00 216.5px,#ff0a00 217px,#ff0 220.1px,#18ff00 223px,#0f0 223.5px,#0f0 273px)"></i><i style="background:linear-gradient(#71ff00 0,#9bff00 16px,#d7ff00 27.5px,#ff0 32.2px,#fffc00 32.5px,#fc0 36.5px,#ff9300 40px,#ff5300 43px,#ff7e00 43.5px,#ff0 44.1px,#43ff00 45px,#0f0 45.3px,#0ff 46.4px,#00e5ff 46.5px,#00bcff 47px,#00f6ff 82px,#0ff 82.9px,#00ffa8 92px,#00ff1f 101.5px,#00ff1f 117.5px,#0f0 117.8px,#1aff00 118px,#ff0 118.9px,#ff5200 119.5px,#f00 120px,#f00 216.5px,#ff1e00 217px,#ff0 219.8px,#05ff00 223px,#0f0 223.5px,#0f0 273px)"></i><i style="background:linear-gradient(#71ff00 0,#9bff00 16px,#d7ff00 27.5px,#ff0 32px,#fffb00 32.5px,#ffca00 36.5px,#ff9000 40px,#ff4e00 43px,#ff7900 43.5px,#ff0 44.1px,#46ff00 45px,#0f0 45.3px,#0ff 46.4px,#00e5ff 46.5px,#00bdff 47px,#00f7ff 82px,#0ff 82.8px,#00ffa9 91.5px,#00ff20 101px,#00ff1f 115.5px,#0f0 115.6px,#59ff00 116px,#ff0 116.6px,#ff1300 117.5px,#f00 118px,#f00 216px,#ff0900 216.5px,#ff0 219.6px,#19ff00 222.5px,#0f0 223px,#0f0 273px)"></i><i style="background:linear-gradient(#71ff00 0,#9bff00 16px,#d8ff00 27.5px,#ff0 31.9px,#fff900 32.5px,#ffc800 36.5px,#ff8d00 40px,#ff4900 43px,#ff7400 43.5px,#ff0 44.1px,#49ff00 45px,#0f0 45.3px,#0ff 46.4px,#00e5ff 46.5px,#00bdff 47px,#00f7ff 81.5px,#0ff 82.4px,#0fa 91px,#00ff21 100.5px,#00ff1f 112.5px,#00ff06 113px,#0f0 113px,#ff0 114px,#ff7300 114.5px,#f00 115px,#f00 216px,#ff1d00 216.5px,#ff0 219.4px,#06ff00 222.5px,#0f0 223px,#0f0 273px)"></i><i style="background:linear-gradient(#71ff00 0,#9bff00 16px,#d9ff00 27.5px,#ff0 31.7px,#fff800 32.5px,#ffc600 36.5px,#ff8900 40px,#f40 43px,#ff6f00 43.5px,#ff0 44.2px,#bcff00 44.5px,#0f0 45.3px,#00ff90 46px,#00ffc5 46.5px,#00ff93 81px,#00ff3d 91px,#0f0 95.9px,#34ff00 100px,#37ff00 109.5px,#9aff00 110px,#ff0 110.4px,#ff5800 111px,#f00 111.5px,#f00 215.5px,#ff0900 216px,#ff0 219.1px,#1aff00 222px,#0f0 222.5px,#0f0 273px)"></i><i style="background:linear-gradient(#71ff00 0,#9dff00 16.5px,#deff00 28px,#ff0 31.6px,#fff700 32.5px,#ffc300 36.5px,#ff8600 40px,#ff3e00 43px,#ff6a00 43.5px,#ff0 44.2px,#50ff00 45px,#4aff00 45.5px,#72ff00 46px,#91ff00 81px,#c5ff00 90.5px,#ff0 97.9px,#fff300 99.5px,#fff100 105px,#fb0 105.5px,#ff3500 106px,#f00 106.5px,#f00 215.5px,#ff1c00 216px,#ff0 218.9px,#06ff00 222px,#0f0 222.5px,#0f0 273px)"></i><i style="background:linear-gradient(#71ff00 0,#9dff00 16.5px,#deff00 28px,#ff0 31.5px,#fff500 32.5px,#ffc100 36.5px,#ff8200 40px,#ff3900 43px,#ff6500 43.5px,#ffbd00 44px,#ffa200 45px,#f50 45.5px,#ff4900 80.5px,#ff1c00 99px,#ff1b00 103px,#f00 103.5px,#f00 215px,#ff0800 215.5px,#ff0 218.6px,#1aff00 221.5px,#0f0 222px,#0f0 273px)"></i><i style="background:linear-gradient(#71ff00 0,#9fff00 17px,#c0ff00 23.5px,#e8ff00 29px,#ff0 31.3px,#ffe800 33.5px,#ffae00 37.5px,#ff6800 41px,#ff0400 44.5px,#f00 45px,#f00 215px,#ff1c00 215.5px,#ff0 218.4px,#07ff00 221.5px,#0f0 222px,#0f0 273px)"></i><i style="background:linear-gradient(#70ff00 0,#a0ff00 17px,#c0ff00 23.5px,#e9ff00 29px,#ff0 31.1px,#ffe000 34px,#ffa200 38px,#ff5700 41.5px,#f00 44.5px,#f00 214.5px,#ff0700 215px,#ff0 218.1px,#1bff00 221px,#0f0 221.5px,#0f0 273px)"></i><i style="background:linear-gradient(#70ff00 0,#a0ff00 17px,#c1ff00 23.5px,#eaff00 29px,#ff0 31px,#ffe500 33.5px,#ffa900 37.5px,#ff6b00 40.5px,#ff0700 44px,#f00 44.5px,#f00 214.5px,#ff1b00 215px,#ff0 217.9px,#08ff00 221px,#0f0 221.5px,#0f0 273px)"></i><i style="background:linear-gradient(#70ff00 0,#a0ff00 17px,#c1ff00 23.5px,#ebff00 29px,#ff0 30.9px,#ffe300 33.5px,#ffa600 37.5px,#ff5a00 41px,#f00 44px,#f00 214px,#ff0700 214.5px,#ff0 217.6px,#1cff00 220.5px,#0f0 221px,#0f0 273px)"></i><i style="background:linear-gradient(#70ff00 0,#a0ff00 17px,#c2ff00 23.5px,#ecff00 29px,#ff0 30.8px,#ffe100 33.5px,#ffa300 37.5px,#ff6200 40.5px,#f00 44px,#f00 214px,#ff1a00 214.5px,#ff0 217.4px,#08ff00 220.5px,#0f0 221px,#0f0 273px)"></i><i style="background:linear-gradient(#70ff00 0,#9eff00 16.5px,#bfff00 23px,#e8ff00 28.5px,#ff0 30.6px,#ffe600 33px,#ffa900 37px,#ff6a00 40px,#ff0300 43.5px,#f00 44px,#f00 213.5px,#ff0600 214px,#ff0 217.1px,#1cff00 220px,#0f0 220.5px,#0f0 273px)"></i><i style="background:linear-gradient(#70ff00 0,#9eff00 16.5px,#c0ff00 23px,#e9ff00 28.5px,#ff0 30.5px,#ffe400 33px,#ffa600 37px,#ff5900 40.5px,#f00 43.5px,#f00 213.5px,#ff1900 214px,#ff0 216.9px,#09ff00 220px,#0f0 220.5px,#0f0 273px)"></i><i style="background:linear-gradient(#70ff00 0,#a1ff00 17px,#c0ff00 23px,#eaff00 28.5px,#ff0 30.4px,#ffe200 33px,#ffac00 36.5px,#ff6e00 39.5px,#ff0700 43px,#f00 43.5px,#f00 213px,#ff0500 213.5px,#ff0 216.7px,#1dff00 219.5px,#0f0 220px,#0f0 273px)"></i><i style="background:linear-gradient(#70ff00 0,#a1ff00 17px,#c1ff00 23px,#ebff00 28.5px,#ff0 30.3px,#ffe000 33px,#ffa000 37px,#ff5d00 40px,#f00 43px,#f00 213px,#ff1800 213.5px,#ff0 216.4px,#0aff00 219.5px,#0f0 220px,#0f0 273px)"></i><i style="background:linear-gradient(#70ff00 0,#9fff00 16.5px,#beff00 22.5px,#e8ff00 28px,#ff0 30.1px,#ffe500 32.5px,#ffa600 36.5px,#ff6500 39.5px,#f00 43px,#f00 212.5px,#ff0300 213px,#ff0 216.2px,#1fff00 219px,#0f0 219.5px,#0f0 273px)"></i><i style="background:linear-gradient(#70ff00 0,#9fff00 16.5px,#beff00 22.5px,#e9ff00 28px,#ff0 30px,#ffe300 32.5px,#ffad00 36px,#ff6d00 39px,#ff0500 42.5px,#f00 43px,#f00 212.5px,#ff1600 213px,#ff0 215.9px,#0cff00 219px,#0f0 219.5px,#0f0 273px)"></i><i style="background:linear-gradient(#70ff00 0,#9fff00 16.5px,#bfff00 22.5px,#eaff00 28px,#ff0 29.9px,#ffe200 32.5px,#ffa100 36.5px,#ff5c00 39.5px,#f00 42.5px,#f00 212px,#ff0100 212.5px,#ff0 215.7px,#20ff00 218.5px,#0f0 219px,#0f0 273px)"></i><i style="background:linear-gradient(#70ff00 0,#a0ff00 16.5px,#c0ff00 22.5px,#ebff00 28px,#ff0 29.8px,#ffe000 32.5px,#ffa700 36px,#ff6500 39px,#f00 42.5px,#f00 212px,#ff1400 212.5px,#ff0 215.5px,#0dff00 218.5px,#0f0 219px,#0f0 273px)"></i><i style="background:linear-gradient(#70ff00 0,#9eff00 16px,#bdff00 22px,#e7ff00 27.5px,#ff0 29.7px,#ffe500 32px,#ffae00 35.5px,#ff6e00 38.5px,#ff0300 42px,#f00 42.5px,#f00 212px,#ff0 215.2px,#0f0 218.5px,#0f0 273px)"></i><i style="background:linear-gradient(#70ff00 0,#9eff00 16px,#bdff00 22px,#e8ff00 27.5px,#ff0 29.5px,#ffe300 32px,#ffab00 35.5px,#ff5c00 39px,#f00 42px,#f00 211.5px,#f10 212px,#ff0 215px,#10ff00 218px,#0f0 218.5px,#0f0 273px)"></i><i style="background:linear-gradient(#70ff00 0,#9eff00 16px,#beff00 22px,#e9ff00 27.5px,#ff0 29.4px,#ffe100 32px,#ffa800 35.5px,#ff6500 38.5px,#f00 42px,#f00 211.5px,#ff0 214.8px,#0f0 218px,#0f0 273px)"></i><i style="background:linear-gradient(#70ff00 0,#9fff00 16px,#c2ff00 22.5px,#eaff00 27.5px,#ff0 29.3px,#ffe000 32px,#ffa600 35.5px,#ff6100 38.5px,#ff0200 41.5px,#f00 42px,#f00 211px,#ff0e00 211.5px,#ff0 214.5px,#13ff00 217.5px,#0f0 218px,#0f0 273px)"></i><i style="background:linear-gradient(#70ff00 0,#9fff00 16px,#c3ff00 22.5px,#ebff00 27.5px,#ff0 29.2px,#ffde00 32px,#ffa300 35.5px,#ff5d00 38.5px,#f00 41.5px,#f00 211px,#ff2000 211.5px,#ff0 214.3px,#0f0 217.5px,#0f0 273px)"></i><i style="background:linear-gradient(#70ff00 0,#9fff00 16px,#c0ff00 22px,#e7ff00 27px,#ff0 29.1px,#ffe300 31.5px,#fa0 35px,#ff6700 38px,#f00 41.5px,#f00 210.5px,#ff0b00 211px,#ff0 214.1px,#16ff00 217px,#0f0 217.5px,#0f0 273px)"></i><i style="background:linear-gradient(#70ff00 0,#a0ff00 16px,#c0ff00 22px,#e8ff00 27px,#ff0 28.9px,#ffe100 31.5px,#ffa700 35px,#ff6300 38px,#ff0300 41px,#f00 41.5px,#f00 210.5px,#ff1c00 211px,#ff0 213.8px,#04ff00 217px,#0f0 273px)"></i><i style="background:linear-gradient(#70ff00 0,#a0ff00 16px,#c1ff00 22px,#eaff00 27px,#ff0 28.8px,#ffdf00 31.5px,#ffa500 35px,#ff5f00 38px,#f00 41px,#f00 210px,#ff0600 210.5px,#ff0 213.6px,#1aff00 216.5px,#0f0 217px,#0f0 273px)"></i><i style="background:linear-gradient(#70ff00 0,#a0ff00 16px,#c2ff00 22px,#ebff00 27px,#ff0 28.7px,#ffde00 31.5px,#ffa200 35px,#ff6800 37.5px,#f00 41px,#f00 210px,#ff1800 210.5px,#ff0 213.4px,#08ff00 216.5px,#0f0 217px,#0f0 273px)"></i><i style="background:linear-gradient(#70ff00 0,#9fff00 15.5px,#bfff00 21.5px,#e7ff00 26.5px,#ff0 28.6px,#ffe300 31px,#ffa900 34.5px,#ff7200 37px,#ff0400 40.5px,#f00 41px,#f00 209.5px,#ff0200 210px,#ff0 213.2px,#1eff00 216px,#0f0 216.5px,#0f0 273px)"></i><i style="background:linear-gradient(#71ff00 0,#9fff00 15.5px,#c0ff00 21.5px,#e8ff00 26.5px,#ff0 28.5px,#ffe100 31px,#ffa700 34.5px,#ff6100 37.5px,#f00 40.5px,#f00 209.5px,#ff1400 210px,#ff0 213px,#0cff00 216px,#0f0 216.5px,#0f0 273px)"></i><i style="background:linear-gradient(#71ff00 0,#9fff00 15.5px,#c0ff00 21.5px,#e9ff00 26.5px,#ff0 28.4px,#ffe000 31px,#ffa400 34.5px,#ff5d00 37.5px,#f00 40.5px,#f00 209.5px,#ff0 212.8px,#0f0 216px,#0f0 273px)"></i><i style="background:linear-gradient(#71ff00 0,#a0ff00 15.5px,#c1ff00 21.5px,#eaff00 26.5px,#ff0 28.3px,#ffe500 30.5px,#ffab00 34px,#ff6700 37px,#ff0700 40px,#f00 40.5px,#f00 209px,#ff0f00 209.5px,#ff0 212.5px,#1f0 215.5px,#0f0 216px,#0f0 273px)"></i><i style="background:linear-gradient(#71ff00 0,#a0ff00 15.5px,#c2ff00 21.5px,#ebff00 26.5px,#ff0 28.2px,#ffe300 30.5px,#ffa900 34px,#ff6300 37px,#ff0100 40px,#f00 40.5px,#f00 209px,#ff2100 209.5px,#ff0 212.3px,#0f0 215.5px,#0f0 273px)"></i><i style="background:linear-gradient(#71ff00 0,#a0ff00 15.5px,#c2ff00 21.5px,#ecff00 26.5px,#ff0 28.1px,#ffe200 30.5px,#ffa600 34px,#ff5f00 37px,#f00 40px,#f00 208.5px,#ff0b00 209px,#ff0 212.1px,#15ff00 215px,#0f0 215.5px,#0f0 273px)"></i><i style="background:linear-gradient(#71ff00 0,#a1ff00 15.5px,#c0ff00 21px,#e8ff00 26px,#ff0 27.9px,#ffe700 30px,#ffae00 33.5px,#ff6900 36.5px,#f00 40px,#f00 208.5px,#ff1c00 209px,#ff0 211.8px,#04ff00 215px,#0f0 273px)"></i><i style="background:linear-gradient(#71ff00 0,#a1ff00 15.5px,#c0ff00 21px,#e9ff00 26px,#ff0 27.8px,#ffe500 30px,#ffab00 33.5px,#ff7300 36px,#ff0400 39.5px,#f00 40px,#f00 208px,#ff0600 208.5px,#ff0 211.6px,#1aff00 214.5px,#0f0 215px,#0f0 273px)"></i><i style="background:linear-gradient(#72ff00 0,#a2ff00 15.5px,#c1ff00 21px,#eaff00 26px,#ff0 27.7px,#ffe400 30px,#ffa900 33.5px,#ff6200 36.5px,#f00 39.5px,#f00 208px,#ff1700 208.5px,#ff0 211.4px,#09ff00 214.5px,#0f0 215px,#0f0 273px)"></i><i style="background:linear-gradient(#72ff00 0,#a2ff00 15.5px,#c2ff00 21px,#ecff00 26px,#ff0 27.6px,#ffe200 30px,#ffa600 33.5px,#ff5f00 36.5px,#f00 39.5px,#f00 207.5px,#ff0100 208px,#ff0 211.2px,#1fff00 214px,#0f0 214.5px,#0f0 273px)"></i><i style="background:linear-gradient(#72ff00 0,#a0ff00 15px,#bfff00 20.5px,#e8ff00 25.5px,#ff0 27.5px,#ffe800 29.5px,#ffae00 33px,#ff6900 36px,#ff0800 39px,#f00 39.5px,#f00 207.5px,#ff1200 208px,#ff0 211px,#0dff00 214px,#0f0 214.5px,#0f0 273px)"></i><i style="background:linear-gradient(#72ff00 0,#a1ff00 15px,#c0ff00 20.5px,#e9ff00 25.5px,#ff0 27.4px,#ffe600 29.5px,#ffac00 33px,#f60 36px,#ff0300 39px,#f00 39.5px,#f00 207.5px,#ff0 210.8px,#0f0 214px,#0f0 273px)"></i></div><svg width="685" height="639" viewBox="0 0 685 639"><path d="M71.9 284.3h6.5M71.9 229.64h6.5M71.9 174.98h6.5M71.9 120.32h6.5M71.9 65.66h6.5M71.9 11h6.5M71.9 587.5h6.5M71.9 532.88h6.5M71.9 478.26h6.5M71.9 423.64h6.5M71.9 369.02h6.5M71.9 314.4h6.5M170 284.3v-6.5M170 11v6.5M274.78 284.3v-6.5M274.78 11v6.5M379.56 284.3v-6.5M379.56 11v6.5M484.34 284.3v-6.5M484.34 11v6.5M589.12 284.3v-6.5M589.12 11v6.5M158.5 587.5v-6.5M158.5 314.4v6.5M311.4 587.5v-6.5M311.4 314.4v6.5M464.3 587.5v-6.5M464.3 314.4v6.5" stroke="#000" stroke-width="1.7" fill="none"/><path d="M71.9 273.37h3.5M71.9 262.44h3.5M71.9 251.5h3.5M71.9 240.57h3.5M71.9 218.71h3.5M71.9 207.78h3.5M71.9 196.84h3.5M71.9 185.91h3.5M71.9 164.05h3.5M71.9 153.12h3.5M71.9 142.18h3.5M71.9 131.25h3.5M71.9 109.39h3.5M71.9 98.46h3.5M71.9 87.52h3.5M71.9 76.59h3.5M71.9 54.73h3.5M71.9 43.8h3.5M71.9 32.86h3.5M71.9 21.93h3.5M71.9 576.58h3.5M71.9 565.65h3.5M71.9 554.73h3.5M71.9 543.8h3.5M71.9 521.96h3.5M71.9 511.03h3.5M71.9 500.11h3.5M71.9 489.18h3.5M71.9 467.34h3.5M71.9 456.41h3.5M71.9 445.49h3.5M71.9 434.56h3.5M71.9 412.72h3.5M71.9 401.79h3.5M71.9 390.87h3.5M71.9 379.94h3.5M71.9 358.1h3.5M71.9 347.17h3.5M71.9 336.25h3.5M71.9 325.32h3.5M91.41 284.3v-3.5M91.41 11v3.5M117.61 284.3v-3.5M117.61 11v3.5M143.81 284.3v-3.5M143.81 11v3.5M196.19 284.3v-3.5M196.19 11v3.5M222.39 284.3v-3.5M222.39 11v3.5M248.59 284.3v-3.5M248.59 11v3.5M300.98 284.3v-3.5M300.98 11v3.5M327.17 284.3v-3.5M327.17 11v3.5M353.37 284.3v-3.5M353.37 11v3.5M405.75 284.3v-3.5M405.75 11v3.5M431.95 284.3v-3.5M431.95 11v3.5M458.14 284.3v-3.5M458.14 11v3.5M510.54 284.3v-3.5M510.54 11v3.5M536.73 284.3v-3.5M536.73 11v3.5M562.92 284.3v-3.5M562.92 11v3.5M97.34 587.5v-3.5M97.34 314.4v3.5M127.92 587.5v-3.5M127.92 314.4v3.5M189.08 587.5v-3.5M189.08 314.4v3.5M219.66 587.5v-3.5M219.66 314.4v3.5M250.24 587.5v-3.5M250.24 314.4v3.5M280.82 587.5v-3.5M280.82 314.4v3.5M341.98 587.5v-3.5M341.98 314.4v3.5M372.56 587.5v-3.5M372.56 314.4v3.5M403.14 587.5v-3.5M403.14 314.4v3.5M433.72 587.5v-3.5M433.72 314.4v3.5M494.88 587.5v-3.5M494.88 314.4v3.5M525.46 587.5v-3.5M525.46 314.4v3.5M556.04 587.5v-3.5M556.04 314.4v3.5M586.62 587.5v-3.5M586.62 314.4v3.5" stroke="#000" stroke-width="1.05" fill="none"/><rect x="71.9" y="11" width="544.9" height="273.3" fill="none" stroke="#000" stroke-width="1.5"/><rect x="71.9" y="314.4" width="544.9" height="273.1" fill="none" stroke="#000" stroke-width="1.5"/><g font-size="25"><text x="64.2" y="293.3" text-anchor="end">0</text><text x="64.2" y="238.64" text-anchor="end">0.1</text><text x="64.2" y="183.98" text-anchor="end">0.2</text><text x="64.2" y="129.32" text-anchor="end">0.3</text><text x="64.2" y="74.66" text-anchor="end">0.4</text><text x="64.2" y="20" text-anchor="end">0.5</text><text x="64.2" y="596.5" text-anchor="end">0</text><text x="64.2" y="541.88" text-anchor="end">0.1</text><text x="64.2" y="487.26" text-anchor="end">0.2</text><text x="64.2" y="432.64" text-anchor="end">0.3</text><text x="64.2" y="378.02" text-anchor="end">0.4</text><text x="64.2" y="323.4" text-anchor="end">0.5</text><text x="170" y="306.2" text-anchor="middle">14</text><text x="274.78" y="306.2" text-anchor="middle">16</text><text x="379.56" y="306.2" text-anchor="middle">18</text><text x="484.34" y="306.2" text-anchor="middle">20</text><text x="589.12" y="306.2" text-anchor="middle">22</text><text x="158.5" y="608.8" text-anchor="middle">15</text><text x="311.4" y="608.8" text-anchor="middle">20</text><text x="464.3" y="608.8" text-anchor="middle">25</text><text x="617.2" y="608.8" text-anchor="middle">30</text></g><text x="340.3" y="630.8" text-anchor="middle" font-size="26.6" font-weight="bold">Lattice Constants(nm)</text><text transform="translate(21 148.4) rotate(-90)" text-anchor="middle" font-size="27.5" letter-spacing="0.8" font-weight="bold">V<tspan font-size="12" dy="7.5">0</tspan><tspan dy="-7.5">(eV)</tspan></text><text transform="translate(21 450.4) rotate(-90)" text-anchor="middle" font-size="27.5" letter-spacing="0.8" font-weight="bold">V<tspan font-size="12" dy="7.5">0</tspan><tspan dy="-7.5">(eV)</tspan></text><text x="98" y="39.8" font-size="35" font-weight="bold">(a)</text><text x="96.5" y="361" font-size="35" font-weight="bold">(b)</text><defs><linearGradient id="la" x1="0" y1="0" x2="0" y2="1"><stop offset="0" stop-color="#f00"/><stop offset=".1" stop-color="#f00"/><stop offset=".3" stop-color="#ff0"/><stop offset=".5" stop-color="#0f0"/><stop offset=".7" stop-color="#0ff"/><stop offset=".9" stop-color="#00f"/><stop offset="1" stop-color="#00f"/></linearGradient><linearGradient id="lb" x1="0" y1="0" x2="0" y2="1"><stop offset="0" stop-color="#f00"/><stop offset=".375" stop-color="#f00"/><stop offset=".4375" stop-color="#ff0"/><stop offset=".5" stop-color="#0f0"/><stop offset=".5625" stop-color="#0ff"/><stop offset=".625" stop-color="#00f"/><stop offset="1" stop-color="#00f"/></linearGradient></defs><rect x="624.3" y="62.2" width="24.1" height="191.1" fill="url(#la)" stroke="#222" stroke-width="1"/><path d="M624.3 81.31H648.4M624.3 100.42H648.4M624.3 119.53H648.4M624.3 138.64H648.4M624.3 157.75H648.4M624.3 176.86H648.4M624.3 195.97H648.4M624.3 215.08H648.4M624.3 234.19H648.4" stroke="#000" stroke-width="1.1" fill="none"/><text x="624.6" y="45.8" font-size="15.3" letter-spacing="0.35" font-weight="bold">Minigap</text><g font-size="14.4" letter-spacing="0.8"><text x="670.6" y="67.2">5</text><text x="670.6" y="86.55">4</text><text x="670.6" y="105.9">3</text><text x="670.6" y="125.25">2</text><text x="670.6" y="144.6">1</text><text x="670.6" y="163.95">0</text><text x="664.8" y="183.3">-<tspan x="670.6">1</tspan></text><text x="664.8" y="202.65">-<tspan x="670.6">2</tspan></text><text x="664.8" y="222">-<tspan x="670.6">3</tspan></text><text x="664.8" y="241.35">-<tspan x="670.6">4</tspan></text><text x="664.8" y="260.7">-<tspan x="670.6">5</tspan></text></g><rect x="626" y="379.5" width="23.6" height="153" fill="url(#lb)" stroke="#222" stroke-width="1"/><path d="M626 398.62H649.6M626 417.75H649.6M626 436.88H649.6M626 456H649.6M626 475.12H649.6M626 494.25H649.6M626 513.38H649.6" stroke="#000" stroke-width="1.1" fill="none"/><text x="622.1" y="360.6" font-size="15.3" letter-spacing="0.35" font-weight="bold">Minigap</text><g font-size="14.4" letter-spacing="0.8"><text x="661.2" y="385.3">20</text><text x="661.2" y="404.45">15</text><text x="661.2" y="423.6">10</text><text x="661.2" y="442.75">5</text><text x="661.2" y="461.9">0</text><text x="655.4" y="481.05">-<tspan x="661.2">5</tspan></text><text x="655.4" y="500.2">-<tspan x="661.2">10</tspan></text><text x="655.4" y="519.35">-<tspan x="661.2">15</tspan></text><text x="655.4" y="538.5">-<tspan x="661.2">20</tspan></text></g></svg></body></html>
